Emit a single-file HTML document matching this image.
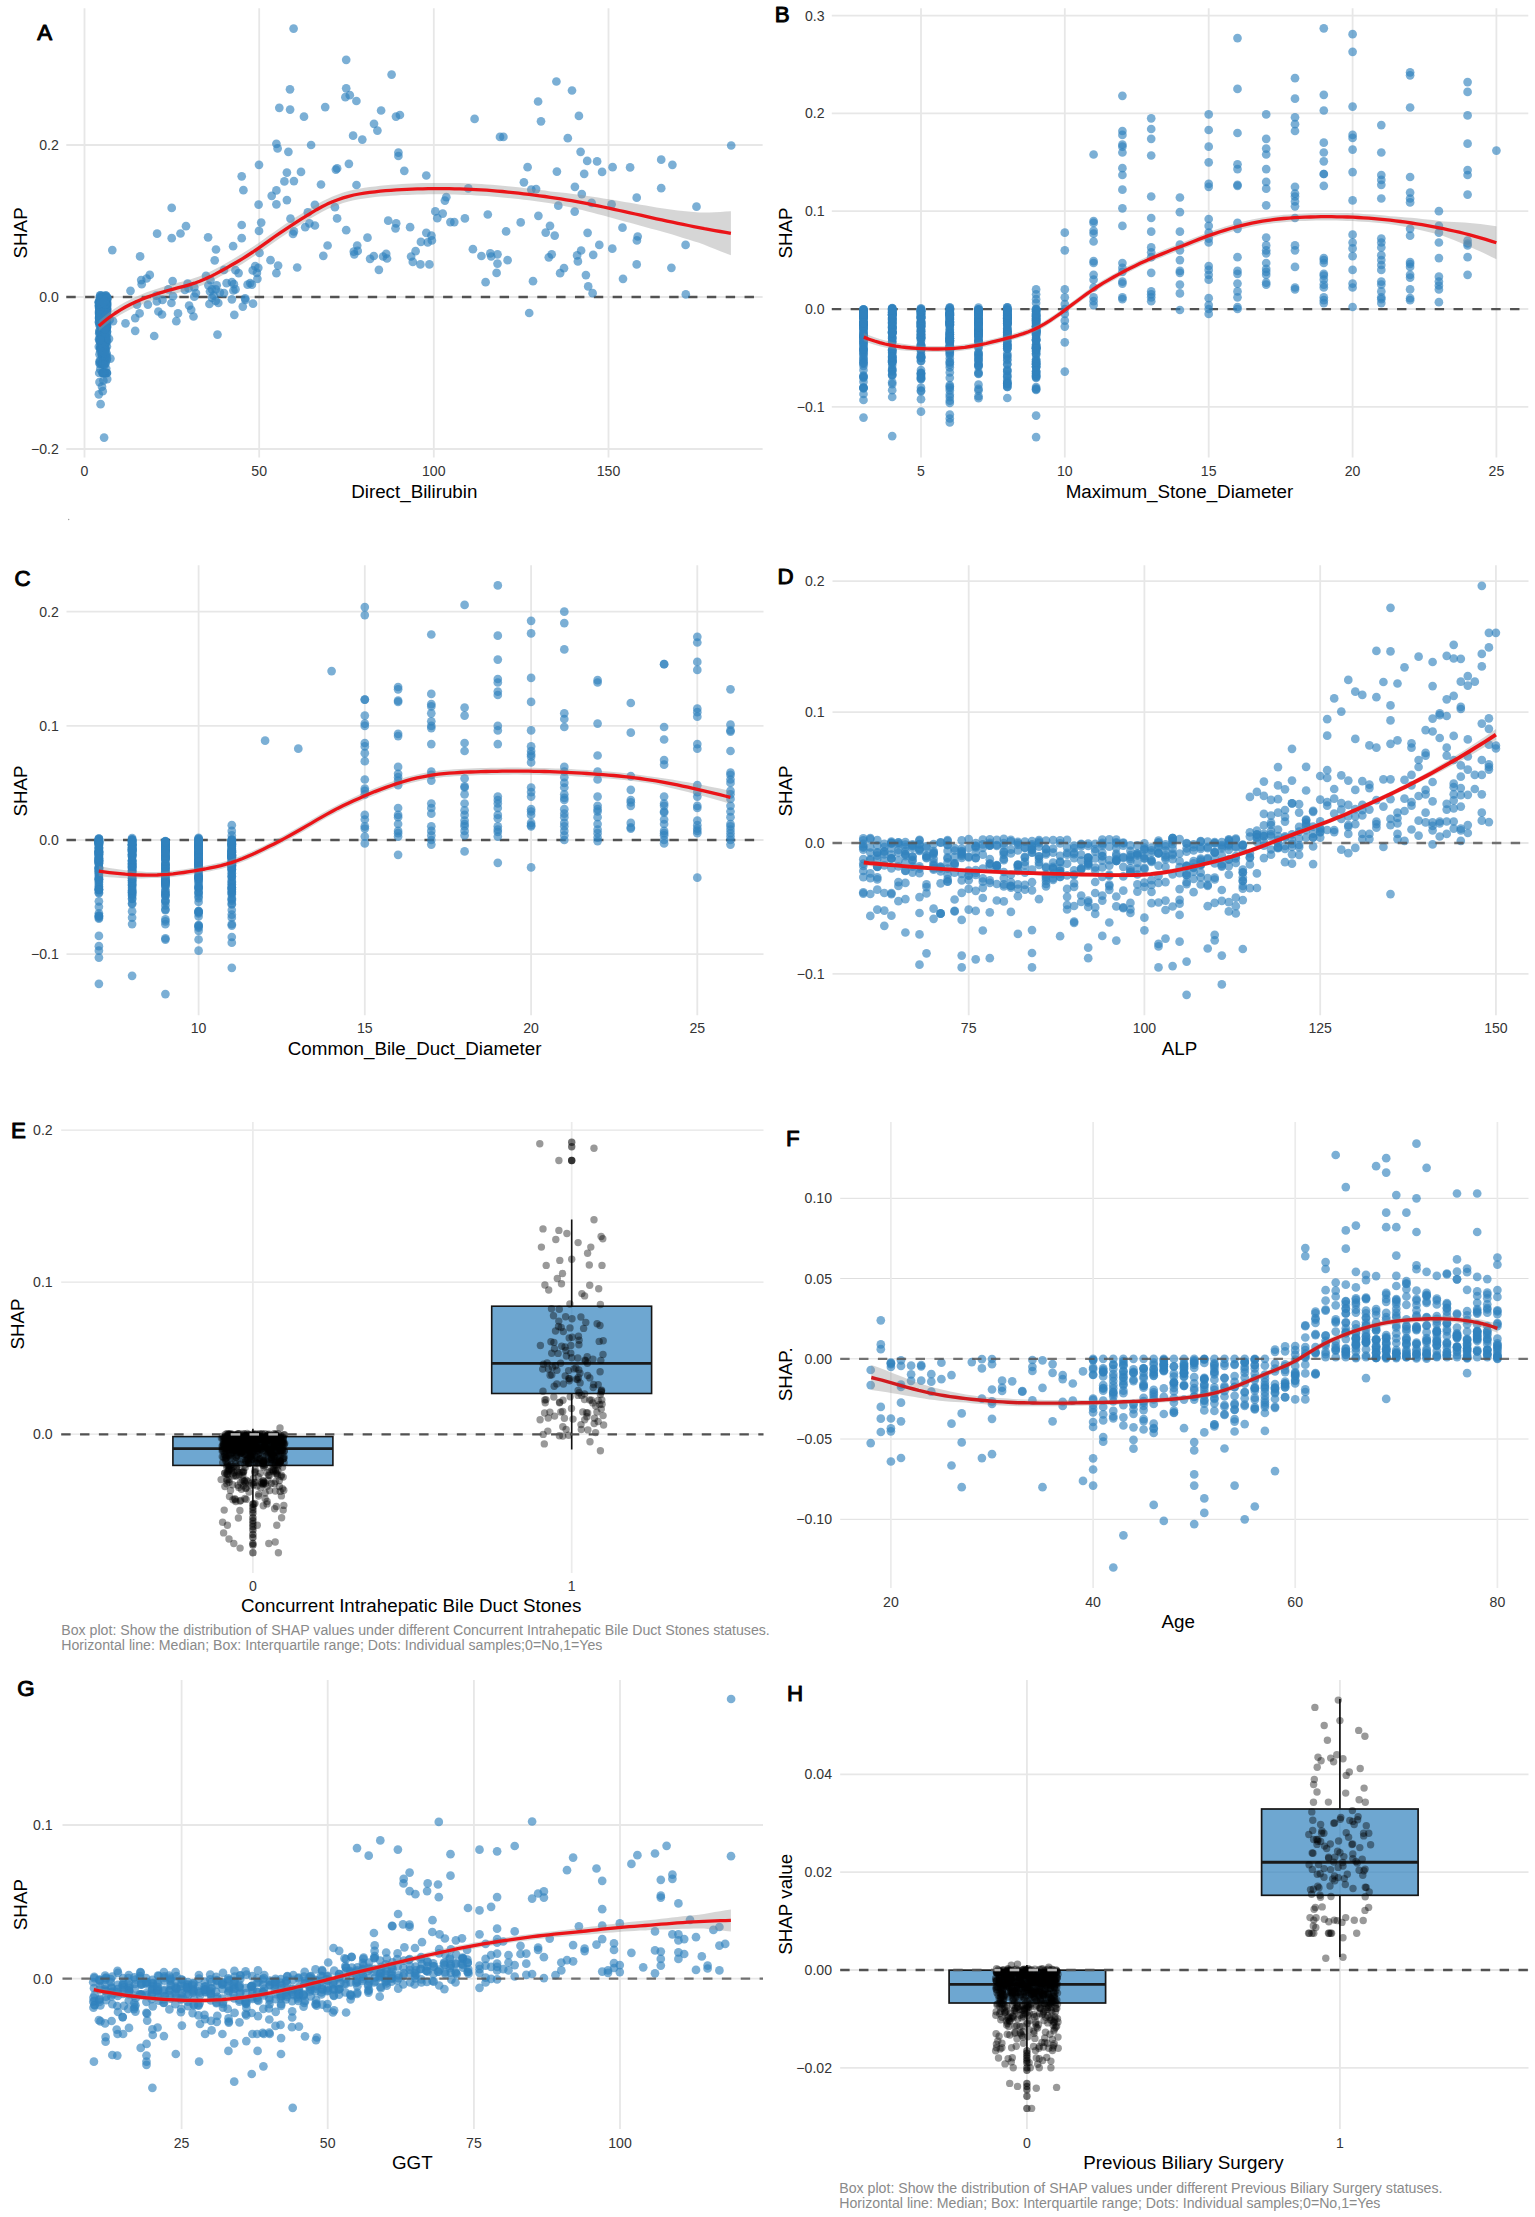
<!DOCTYPE html><html><head><meta charset="utf-8"><title>SHAP dependence plots</title><style>html,body{margin:0;padding:0;background:#fff}svg{display:block}</style></head><body><svg width="1535" height="2217" viewBox="0 0 1535 2217" font-family="Liberation Sans, Arial, sans-serif"><rect width="1535" height="2217" fill="#fff"/><g fill="none"><path stroke="#e7e7e7" stroke-width="1.8" d="M66.3 449H762.6M66.3 297H762.6M66.3 145H762.6"/><path stroke="#e7e7e7" stroke-width="1.8" d="M84.5 8.3V457.5M259.2 8.3V457.5M433.8 8.3V457.5M608.5 8.3V457.5"/></g>
<path d="M66.3 297H762.6" stroke="#525252" stroke-opacity="1" stroke-width="2.3" stroke-dasharray="9.42 9.42" fill="none"/>
<g fill="#3182bd" fill-opacity="0.64"><circle cx="105.8" cy="299.7" r="4.35"/><circle cx="103.8" cy="306.3" r="4.35"/><circle cx="101.2" cy="325.4" r="4.35"/><circle cx="99.2" cy="373" r="4.35"/><circle cx="107" cy="318.5" r="4.35"/><circle cx="103.8" cy="306.1" r="4.35"/><circle cx="105.4" cy="328.6" r="4.35"/><circle cx="106.5" cy="329.5" r="4.35"/><circle cx="104.6" cy="312.8" r="4.35"/><circle cx="100.4" cy="342.7" r="4.35"/><circle cx="107.1" cy="299.1" r="4.35"/><circle cx="101.2" cy="327.8" r="4.35"/><circle cx="104.1" cy="303.2" r="4.35"/><circle cx="103.7" cy="332" r="4.35"/><circle cx="103.9" cy="351" r="4.35"/><circle cx="103.3" cy="352.3" r="4.35"/><circle cx="107.2" cy="309.5" r="4.35"/><circle cx="103" cy="328.1" r="4.35"/><circle cx="105.3" cy="311.3" r="4.35"/><circle cx="103" cy="373" r="4.35"/><circle cx="107.2" cy="311.6" r="4.35"/><circle cx="107" cy="341.6" r="4.35"/><circle cx="102.1" cy="353.9" r="4.35"/><circle cx="101.5" cy="329.6" r="4.35"/><circle cx="106.1" cy="301.3" r="4.35"/><circle cx="105.5" cy="305.2" r="4.35"/><circle cx="104.6" cy="306.3" r="4.35"/><circle cx="102.2" cy="326.6" r="4.35"/><circle cx="102.1" cy="334.3" r="4.35"/><circle cx="99.9" cy="317.4" r="4.35"/><circle cx="104.1" cy="306.5" r="4.35"/><circle cx="99.5" cy="354.3" r="4.35"/><circle cx="101.1" cy="312.4" r="4.35"/><circle cx="104.3" cy="352" r="4.35"/><circle cx="98.9" cy="302.5" r="4.35"/><circle cx="105.8" cy="317.7" r="4.35"/><circle cx="99.4" cy="312.8" r="4.35"/><circle cx="103.2" cy="302.2" r="4.35"/><circle cx="103.4" cy="359.3" r="4.35"/><circle cx="100.7" cy="337" r="4.35"/><circle cx="106.8" cy="299.2" r="4.35"/><circle cx="101.7" cy="299.9" r="4.35"/><circle cx="103.1" cy="373" r="4.35"/><circle cx="106.1" cy="316.4" r="4.35"/><circle cx="104.3" cy="306.3" r="4.35"/><circle cx="102" cy="329.4" r="4.35"/><circle cx="99.6" cy="338.4" r="4.35"/><circle cx="106.8" cy="314.2" r="4.35"/><circle cx="103.8" cy="351.2" r="4.35"/><circle cx="103.7" cy="304.7" r="4.35"/><circle cx="103.8" cy="322.4" r="4.35"/><circle cx="100.1" cy="298.9" r="4.35"/><circle cx="103.5" cy="300.4" r="4.35"/><circle cx="103.5" cy="310.3" r="4.35"/><circle cx="103.7" cy="340" r="4.35"/><circle cx="100.4" cy="309.8" r="4.35"/><circle cx="104.8" cy="315.1" r="4.35"/><circle cx="99.4" cy="331.1" r="4.35"/><circle cx="101.5" cy="304.1" r="4.35"/><circle cx="99.7" cy="313.2" r="4.35"/><circle cx="105.1" cy="373" r="4.35"/><circle cx="103" cy="306.1" r="4.35"/><circle cx="102.7" cy="310.6" r="4.35"/><circle cx="99.4" cy="324.9" r="4.35"/><circle cx="102.5" cy="347" r="4.35"/><circle cx="100.7" cy="339.3" r="4.35"/><circle cx="101.4" cy="298.3" r="4.35"/><circle cx="102.1" cy="308.6" r="4.35"/><circle cx="104.7" cy="317" r="4.35"/><circle cx="105.4" cy="302.2" r="4.35"/><circle cx="101.8" cy="329.6" r="4.35"/><circle cx="104.4" cy="307.2" r="4.35"/><circle cx="103.1" cy="316.2" r="4.35"/><circle cx="104.4" cy="321.8" r="4.35"/><circle cx="101.6" cy="303.7" r="4.35"/><circle cx="106.4" cy="353.5" r="4.35"/><circle cx="104.4" cy="312.2" r="4.35"/><circle cx="100.4" cy="332.7" r="4.35"/><circle cx="103.6" cy="311.6" r="4.35"/><circle cx="105.1" cy="323.1" r="4.35"/><circle cx="105.4" cy="309.2" r="4.35"/><circle cx="102.5" cy="314.4" r="4.35"/><circle cx="101.2" cy="320.4" r="4.35"/><circle cx="104" cy="319.6" r="4.35"/><circle cx="104.9" cy="323.9" r="4.35"/><circle cx="103.1" cy="319.4" r="4.35"/><circle cx="100.4" cy="347.7" r="4.35"/><circle cx="104" cy="298.2" r="4.35"/><circle cx="105.2" cy="325.8" r="4.35"/><circle cx="106.5" cy="321.6" r="4.35"/><circle cx="107.2" cy="297.7" r="4.35"/><circle cx="101.9" cy="323.2" r="4.35"/><circle cx="105.6" cy="336" r="4.35"/><circle cx="104.6" cy="346.9" r="4.35"/><circle cx="107" cy="325.6" r="4.35"/><circle cx="103.1" cy="315.5" r="4.35"/><circle cx="106" cy="308.8" r="4.35"/><circle cx="103" cy="314.3" r="4.35"/><circle cx="101.2" cy="301.4" r="4.35"/><circle cx="106.9" cy="334.2" r="4.35"/><circle cx="101.2" cy="348.4" r="4.35"/><circle cx="101.4" cy="309.4" r="4.35"/><circle cx="99.3" cy="302.6" r="4.35"/><circle cx="98.8" cy="346.8" r="4.35"/><circle cx="101.7" cy="318.7" r="4.35"/><circle cx="101.1" cy="316.1" r="4.35"/><circle cx="104.9" cy="305.3" r="4.35"/><circle cx="98.9" cy="302.3" r="4.35"/><circle cx="106.3" cy="308.7" r="4.35"/><circle cx="105.7" cy="307.5" r="4.35"/><circle cx="106.4" cy="310.4" r="4.35"/><circle cx="105.3" cy="329" r="4.35"/><circle cx="104.3" cy="314.7" r="4.35"/><circle cx="105.2" cy="323.3" r="4.35"/><circle cx="106.2" cy="316.3" r="4.35"/><circle cx="106" cy="321.8" r="4.35"/><circle cx="101.1" cy="333.2" r="4.35"/><circle cx="106.8" cy="308.1" r="4.35"/><circle cx="107.1" cy="301.9" r="4.35"/><circle cx="104.6" cy="373" r="4.35"/><circle cx="104" cy="333.7" r="4.35"/><circle cx="104" cy="322.5" r="4.35"/><circle cx="104.6" cy="317.3" r="4.35"/><circle cx="106.4" cy="312.5" r="4.35"/><circle cx="101.4" cy="307.2" r="4.35"/><circle cx="102.2" cy="350.4" r="4.35"/><circle cx="101.5" cy="363.6" r="4.35"/><circle cx="104.9" cy="301.2" r="4.35"/><circle cx="99.1" cy="311.1" r="4.35"/><circle cx="102.2" cy="334.2" r="4.35"/><circle cx="102.2" cy="313.4" r="4.35"/><circle cx="102.1" cy="301" r="4.35"/><circle cx="103.6" cy="316.6" r="4.35"/><circle cx="100.9" cy="302.8" r="4.35"/><circle cx="106.3" cy="305.5" r="4.35"/><circle cx="102" cy="314.6" r="4.35"/><circle cx="106.9" cy="346.6" r="4.35"/><circle cx="106.6" cy="325.1" r="4.35"/><circle cx="101.7" cy="303.9" r="4.35"/><circle cx="101.9" cy="339.3" r="4.35"/><circle cx="104" cy="340.8" r="4.35"/><circle cx="102.2" cy="326.5" r="4.35"/><circle cx="99.7" cy="302.2" r="4.35"/><circle cx="101.2" cy="313.4" r="4.35"/><circle cx="100.4" cy="349.3" r="4.35"/><circle cx="102.4" cy="328.1" r="4.35"/><circle cx="106.3" cy="337.4" r="4.35"/><circle cx="102.7" cy="372.5" r="4.35"/><circle cx="99.2" cy="317.1" r="4.35"/><circle cx="105.3" cy="362.7" r="4.35"/><circle cx="106" cy="323.2" r="4.35"/><circle cx="106.2" cy="336.1" r="4.35"/><circle cx="102.3" cy="302.6" r="4.35"/><circle cx="101.3" cy="332.7" r="4.35"/><circle cx="107" cy="304.5" r="4.35"/><circle cx="102" cy="300.7" r="4.35"/><circle cx="103.5" cy="309.4" r="4.35"/><circle cx="107" cy="322.7" r="4.35"/><circle cx="106" cy="304.8" r="4.35"/><circle cx="106.3" cy="307.9" r="4.35"/><circle cx="106.5" cy="310.4" r="4.35"/><circle cx="104.8" cy="348.3" r="4.35"/><circle cx="101.6" cy="364.1" r="4.35"/><circle cx="100.4" cy="341.4" r="4.35"/><circle cx="105.1" cy="321.2" r="4.35"/><circle cx="103.6" cy="313.8" r="4.35"/><circle cx="99.5" cy="318.7" r="4.35"/><circle cx="106.1" cy="340.9" r="4.35"/><circle cx="99.6" cy="361.2" r="4.35"/><circle cx="105.9" cy="355.9" r="4.35"/><circle cx="105.5" cy="307" r="4.35"/><circle cx="107" cy="358.4" r="4.35"/><circle cx="101.1" cy="304.3" r="4.35"/><circle cx="99" cy="318.1" r="4.35"/><circle cx="103.2" cy="300" r="4.35"/><circle cx="106.6" cy="316.9" r="4.35"/><circle cx="106.8" cy="373" r="4.35"/><circle cx="101.8" cy="327.8" r="4.35"/><circle cx="102.1" cy="295.9" r="4.35"/><circle cx="106.9" cy="327.6" r="4.35"/><circle cx="105.7" cy="322.9" r="4.35"/><circle cx="106.7" cy="359.8" r="4.35"/><circle cx="105.6" cy="307.5" r="4.35"/><circle cx="103.1" cy="308.5" r="4.35"/><circle cx="100" cy="322.8" r="4.35"/><circle cx="103.2" cy="312.6" r="4.35"/><circle cx="99.6" cy="323" r="4.35"/><circle cx="105.4" cy="314.1" r="4.35"/><circle cx="104.8" cy="359.7" r="4.35"/><circle cx="103.7" cy="304.7" r="4.35"/><circle cx="101.8" cy="318.7" r="4.35"/><circle cx="104.9" cy="310.3" r="4.35"/><circle cx="102.5" cy="309.8" r="4.35"/><circle cx="102.6" cy="356.2" r="4.35"/><circle cx="104" cy="311.6" r="4.35"/><circle cx="103.9" cy="313.9" r="4.35"/><circle cx="100.6" cy="302.4" r="4.35"/><circle cx="105" cy="345.1" r="4.35"/><circle cx="100.4" cy="324.8" r="4.35"/><circle cx="105.5" cy="327.9" r="4.35"/><circle cx="101.2" cy="328.5" r="4.35"/><circle cx="103" cy="302" r="4.35"/><circle cx="104.6" cy="329.8" r="4.35"/><circle cx="102.6" cy="315.8" r="4.35"/><circle cx="102.9" cy="308.1" r="4.35"/><circle cx="99.6" cy="341" r="4.35"/><circle cx="105.3" cy="338.7" r="4.35"/><circle cx="102.6" cy="321.9" r="4.35"/><circle cx="103.5" cy="329.9" r="4.35"/><circle cx="100.5" cy="347.8" r="4.35"/><circle cx="104.4" cy="305.2" r="4.35"/><circle cx="99.3" cy="333.3" r="4.35"/><circle cx="100.3" cy="369.2" r="4.35"/><circle cx="104.6" cy="373" r="4.35"/><circle cx="104.7" cy="337.6" r="4.35"/><circle cx="103.1" cy="338.6" r="4.35"/><circle cx="100.7" cy="299.2" r="4.35"/><circle cx="106.9" cy="331.9" r="4.35"/><circle cx="99.5" cy="311.9" r="4.35"/><circle cx="100.9" cy="319.9" r="4.35"/><circle cx="105.4" cy="310.7" r="4.35"/><circle cx="105.3" cy="349" r="4.35"/><circle cx="103.8" cy="330.5" r="4.35"/><circle cx="103.2" cy="317.8" r="4.35"/><circle cx="101.7" cy="348.2" r="4.35"/><circle cx="100.2" cy="301.1" r="4.35"/><circle cx="104.2" cy="307.9" r="4.35"/><circle cx="102.2" cy="325.5" r="4.35"/><circle cx="105.3" cy="301.4" r="4.35"/><circle cx="100.2" cy="312.5" r="4.35"/><circle cx="102.2" cy="318.4" r="4.35"/><circle cx="104.1" cy="304.6" r="4.35"/><circle cx="102.5" cy="336.8" r="4.35"/><circle cx="99.1" cy="314.1" r="4.35"/><circle cx="103.3" cy="312.1" r="4.35"/><circle cx="99.6" cy="306.8" r="4.35"/><circle cx="99" cy="305.2" r="4.35"/><circle cx="100.7" cy="305.7" r="4.35"/><circle cx="100.4" cy="307.4" r="4.35"/><circle cx="105" cy="315" r="4.35"/><circle cx="104.7" cy="306.4" r="4.35"/><circle cx="105.5" cy="296.6" r="4.35"/><circle cx="105.5" cy="344.1" r="4.35"/><circle cx="106.8" cy="326.2" r="4.35"/><circle cx="102.6" cy="316.2" r="4.35"/><circle cx="106.1" cy="328" r="4.35"/><circle cx="104.2" cy="356.3" r="4.35"/><circle cx="104.2" cy="299.6" r="4.35"/><circle cx="100.2" cy="295.3" r="4.35"/><circle cx="106.2" cy="315.5" r="4.35"/><circle cx="104.9" cy="353.7" r="4.35"/><circle cx="103.9" cy="331.9" r="4.35"/><circle cx="101.2" cy="298.8" r="4.35"/><circle cx="101" cy="320.5" r="4.35"/><circle cx="104.6" cy="365.2" r="4.35"/><circle cx="105.6" cy="348.8" r="4.35"/><circle cx="105.5" cy="318.8" r="4.35"/><circle cx="99" cy="321.8" r="4.35"/><circle cx="106.3" cy="311.5" r="4.35"/><circle cx="103.2" cy="307.8" r="4.35"/><circle cx="100.6" cy="317.1" r="4.35"/><circle cx="104.9" cy="303.4" r="4.35"/><circle cx="105.3" cy="300.9" r="4.35"/><circle cx="106.6" cy="306.7" r="4.35"/><circle cx="102.7" cy="309.2" r="4.35"/><circle cx="104" cy="300" r="4.35"/><circle cx="107" cy="373" r="4.35"/><circle cx="102.4" cy="309.3" r="4.35"/><circle cx="99.9" cy="320.2" r="4.35"/><circle cx="105" cy="309.8" r="4.35"/><circle cx="105.7" cy="308.7" r="4.35"/><circle cx="103.5" cy="310.9" r="4.35"/><circle cx="102.7" cy="327.2" r="4.35"/><circle cx="100.8" cy="344.8" r="4.35"/><circle cx="106.8" cy="297.1" r="4.35"/><circle cx="106.3" cy="339.6" r="4.35"/><circle cx="99.2" cy="306.1" r="4.35"/><circle cx="100" cy="313.1" r="4.35"/><circle cx="102.6" cy="340.4" r="4.35"/><circle cx="103.7" cy="343.2" r="4.35"/><circle cx="104" cy="313.2" r="4.35"/><circle cx="101.5" cy="311.1" r="4.35"/><circle cx="100.3" cy="322.9" r="4.35"/><circle cx="99.4" cy="315.7" r="4.35"/><circle cx="106.1" cy="318.2" r="4.35"/><circle cx="104" cy="312.3" r="4.35"/><circle cx="101.8" cy="336.5" r="4.35"/><circle cx="105.5" cy="341.9" r="4.35"/><circle cx="105.5" cy="299.8" r="4.35"/><circle cx="102.9" cy="302.6" r="4.35"/><circle cx="105.4" cy="304.7" r="4.35"/><circle cx="105.8" cy="306.1" r="4.35"/><circle cx="102.3" cy="314" r="4.35"/><circle cx="99" cy="312.5" r="4.35"/><circle cx="104.8" cy="311.9" r="4.35"/><circle cx="101.1" cy="299.2" r="4.35"/><circle cx="100.6" cy="326.4" r="4.35"/><circle cx="100.5" cy="306.5" r="4.35"/><circle cx="103.7" cy="364.8" r="4.35"/><circle cx="98.9" cy="306.7" r="4.35"/><circle cx="105.5" cy="310.5" r="4.35"/><circle cx="102.5" cy="321.6" r="4.35"/><circle cx="101.4" cy="347.7" r="4.35"/><circle cx="104.9" cy="308.1" r="4.35"/><circle cx="107.1" cy="305.5" r="4.35"/><circle cx="101.8" cy="354.8" r="4.35"/><circle cx="104.2" cy="306.9" r="4.35"/><circle cx="101.5" cy="309.8" r="4.35"/><circle cx="103.1" cy="313.3" r="4.35"/><circle cx="102.6" cy="302.8" r="4.35"/><circle cx="105.2" cy="309.2" r="4.35"/><circle cx="100.9" cy="312.8" r="4.35"/><circle cx="103.3" cy="306.2" r="4.35"/><circle cx="98.9" cy="301.5" r="4.35"/><circle cx="105.6" cy="295.4" r="4.35"/><circle cx="101.8" cy="302.9" r="4.35"/><circle cx="102.5" cy="303.2" r="4.35"/><circle cx="101.1" cy="312" r="4.35"/><circle cx="100.3" cy="347.3" r="4.35"/><circle cx="100.7" cy="318.4" r="4.35"/><circle cx="102.5" cy="303.5" r="4.35"/><circle cx="106.2" cy="368.5" r="4.35"/><circle cx="104.4" cy="332.7" r="4.35"/><circle cx="102" cy="355.7" r="4.35"/><circle cx="100.1" cy="299.8" r="4.35"/><circle cx="104.7" cy="357.6" r="4.35"/><circle cx="105.3" cy="359.5" r="4.35"/><circle cx="105.7" cy="324.2" r="4.35"/><circle cx="99.9" cy="330.2" r="4.35"/><circle cx="99.7" cy="311.2" r="4.35"/><circle cx="103.8" cy="335" r="4.35"/><circle cx="106.2" cy="297" r="4.35"/><circle cx="104.8" cy="329.5" r="4.35"/><circle cx="107" cy="307.9" r="4.35"/><circle cx="106.9" cy="297.9" r="4.35"/><circle cx="105.4" cy="340.9" r="4.35"/><circle cx="99.9" cy="364.1" r="4.35"/><circle cx="102.1" cy="348.2" r="4.35"/><circle cx="104.6" cy="299.1" r="4.35"/><circle cx="105.1" cy="298.7" r="4.35"/><circle cx="104.7" cy="330.1" r="4.35"/><circle cx="106.1" cy="298.9" r="4.35"/><circle cx="106.1" cy="339.4" r="4.35"/><circle cx="105.1" cy="300.1" r="4.35"/><circle cx="102.2" cy="355.6" r="4.35"/><circle cx="100.2" cy="361" r="4.35"/><circle cx="102.4" cy="320.5" r="4.35"/><circle cx="100.5" cy="295.7" r="4.35"/><circle cx="102.9" cy="302" r="4.35"/><circle cx="101" cy="298.8" r="4.35"/><circle cx="100.1" cy="316.7" r="4.35"/><circle cx="106.5" cy="317.2" r="4.35"/><circle cx="103.2" cy="327.2" r="4.35"/><circle cx="105.4" cy="320.2" r="4.35"/><circle cx="105.9" cy="298.1" r="4.35"/><circle cx="103.8" cy="316.7" r="4.35"/><circle cx="103.2" cy="318.5" r="4.35"/><circle cx="105.3" cy="373" r="4.35"/><circle cx="100.1" cy="317.9" r="4.35"/><circle cx="101.7" cy="335.3" r="4.35"/><circle cx="105.9" cy="307.9" r="4.35"/><circle cx="105.6" cy="298.8" r="4.35"/><circle cx="99.5" cy="317.4" r="4.35"/><circle cx="106.5" cy="327.1" r="4.35"/><circle cx="101" cy="313.5" r="4.35"/><circle cx="103.6" cy="313" r="4.35"/><circle cx="100.6" cy="306.1" r="4.35"/><circle cx="99.5" cy="306.9" r="4.35"/><circle cx="106.1" cy="324.5" r="4.35"/><circle cx="104.8" cy="309.4" r="4.35"/><circle cx="99.3" cy="318.4" r="4.35"/><circle cx="105.2" cy="308.4" r="4.35"/><circle cx="104.9" cy="305.7" r="4.35"/><circle cx="106.5" cy="307.2" r="4.35"/><circle cx="106.8" cy="318.5" r="4.35"/><circle cx="106.6" cy="303.1" r="4.35"/><circle cx="101.7" cy="307.2" r="4.35"/><circle cx="103.5" cy="362.6" r="4.35"/><circle cx="106.1" cy="303.9" r="4.35"/><circle cx="101" cy="336.1" r="4.35"/><circle cx="105.3" cy="309.2" r="4.35"/><circle cx="102.8" cy="319.1" r="4.35"/><circle cx="101.4" cy="311.5" r="4.35"/><circle cx="99.2" cy="304.9" r="4.35"/><circle cx="103.7" cy="332.6" r="4.35"/><circle cx="107.1" cy="298" r="4.35"/><circle cx="99.8" cy="321.9" r="4.35"/><circle cx="104.3" cy="323.7" r="4.35"/><circle cx="104.9" cy="322.5" r="4.35"/><circle cx="104.1" cy="307.2" r="4.35"/><circle cx="105.8" cy="320.4" r="4.35"/><circle cx="103.4" cy="316.4" r="4.35"/><circle cx="101.9" cy="328.9" r="4.35"/><circle cx="100.8" cy="323.4" r="4.35"/><circle cx="104.6" cy="316.7" r="4.35"/><circle cx="101.9" cy="333.7" r="4.35"/><circle cx="105.8" cy="310.6" r="4.35"/><circle cx="103.7" cy="373" r="4.35"/><circle cx="100.7" cy="320.3" r="4.35"/><circle cx="103" cy="299.4" r="4.35"/><circle cx="99.3" cy="315.1" r="4.35"/><circle cx="99.5" cy="362.9" r="4.35"/><circle cx="102.8" cy="315" r="4.35"/><circle cx="103.8" cy="319.2" r="4.35"/><circle cx="107" cy="327.1" r="4.35"/><circle cx="99" cy="322.4" r="4.35"/><circle cx="101.5" cy="334.4" r="4.35"/><circle cx="100.8" cy="314.5" r="4.35"/><circle cx="101.9" cy="334.4" r="4.35"/><circle cx="100" cy="307.7" r="4.35"/><circle cx="99.8" cy="318.2" r="4.35"/><circle cx="100.8" cy="309.3" r="4.35"/><circle cx="100.1" cy="308.3" r="4.35"/><circle cx="103.9" cy="324.9" r="4.35"/><circle cx="102.6" cy="349.2" r="4.35"/><circle cx="106.5" cy="302.7" r="4.35"/><circle cx="106.2" cy="327.4" r="4.35"/><circle cx="105.1" cy="323.4" r="4.35"/><circle cx="105.1" cy="347.3" r="4.35"/><circle cx="102.6" cy="305.7" r="4.35"/><circle cx="103.5" cy="363.9" r="4.35"/><circle cx="103.9" cy="310.9" r="4.35"/><circle cx="106.6" cy="373" r="4.35"/><circle cx="101" cy="304.2" r="4.35"/><circle cx="103.8" cy="352.3" r="4.35"/><circle cx="106.9" cy="309.4" r="4.35"/><circle cx="104.5" cy="296.7" r="4.35"/><circle cx="103.9" cy="313.8" r="4.35"/><circle cx="101.2" cy="312.1" r="4.35"/><circle cx="102.4" cy="362.2" r="4.35"/><circle cx="103.1" cy="307" r="4.35"/><circle cx="99.8" cy="297.2" r="4.35"/><circle cx="101.5" cy="315.5" r="4.35"/><circle cx="102.8" cy="336" r="4.35"/><circle cx="104.3" cy="333.9" r="4.35"/><circle cx="106.8" cy="320.9" r="4.35"/><circle cx="99" cy="339.3" r="4.35"/><circle cx="102.6" cy="339.7" r="4.35"/><circle cx="99.4" cy="311.1" r="4.35"/><circle cx="104.3" cy="310.5" r="4.35"/><circle cx="100.2" cy="304.8" r="4.35"/><circle cx="101.3" cy="307.9" r="4.35"/><circle cx="103.4" cy="301.8" r="4.35"/><circle cx="105.3" cy="299.1" r="4.35"/><circle cx="102.2" cy="305.8" r="4.35"/><circle cx="100.8" cy="300" r="4.35"/><circle cx="101.3" cy="297.4" r="4.35"/><circle cx="102.5" cy="373" r="4.35"/><circle cx="104.9" cy="308.6" r="4.35"/><circle cx="106.2" cy="295.8" r="4.35"/><circle cx="107.1" cy="299.4" r="4.35"/><circle cx="106.5" cy="307.4" r="4.35"/><circle cx="106.9" cy="306.4" r="4.35"/><circle cx="102.8" cy="301.7" r="4.35"/><circle cx="102.1" cy="310" r="4.35"/><circle cx="102.8" cy="351.3" r="4.35"/><circle cx="102.1" cy="321.3" r="4.35"/><circle cx="103.5" cy="310.7" r="4.35"/><circle cx="103.8" cy="324.5" r="4.35"/><circle cx="99.5" cy="332.8" r="4.35"/><circle cx="107.2" cy="303.6" r="4.35"/><circle cx="105.1" cy="302" r="4.35"/><circle cx="100.9" cy="332.9" r="4.35"/><circle cx="104.8" cy="304" r="4.35"/><circle cx="107" cy="331.5" r="4.35"/><circle cx="102.8" cy="299.9" r="4.35"/><circle cx="100.5" cy="308.8" r="4.35"/><circle cx="103.5" cy="316.3" r="4.35"/><circle cx="102" cy="326.8" r="4.35"/><circle cx="104.5" cy="302.2" r="4.35"/><circle cx="100" cy="317.2" r="4.35"/><circle cx="105.3" cy="311.8" r="4.35"/><circle cx="100.5" cy="311.2" r="4.35"/><circle cx="104.9" cy="350.2" r="4.35"/><circle cx="99.3" cy="308.6" r="4.35"/><circle cx="105.9" cy="309.6" r="4.35"/><circle cx="99.9" cy="318.5" r="4.35"/><circle cx="104.7" cy="318.9" r="4.35"/><circle cx="102.7" cy="308.3" r="4.35"/><circle cx="101.1" cy="298.6" r="4.35"/><circle cx="103.7" cy="311.6" r="4.35"/><circle cx="106.7" cy="317" r="4.35"/><circle cx="103.1" cy="346.1" r="4.35"/><circle cx="106.4" cy="301.3" r="4.35"/><circle cx="106" cy="303.2" r="4.35"/><circle cx="101.7" cy="298" r="4.35"/><circle cx="105.4" cy="323.8" r="4.35"/><circle cx="105" cy="321.5" r="4.35"/><circle cx="102.8" cy="303.8" r="4.35"/><circle cx="105.5" cy="363.5" r="4.35"/><circle cx="105" cy="301.3" r="4.35"/><circle cx="99.5" cy="310.8" r="4.35"/><circle cx="106" cy="306.4" r="4.35"/><circle cx="102.4" cy="327" r="4.35"/><circle cx="106.3" cy="298.8" r="4.35"/><circle cx="106.3" cy="304.4" r="4.35"/><circle cx="102.3" cy="337" r="4.35"/><circle cx="100.5" cy="351.3" r="4.35"/><circle cx="101" cy="322.6" r="4.35"/><circle cx="105.5" cy="332.4" r="4.35"/><circle cx="101.9" cy="320" r="4.35"/><circle cx="106.2" cy="313" r="4.35"/><circle cx="101.8" cy="302.3" r="4.35"/><circle cx="100.2" cy="309.6" r="4.35"/><circle cx="105.7" cy="304.4" r="4.35"/><circle cx="102.8" cy="318.3" r="4.35"/><circle cx="104.9" cy="328.8" r="4.35"/><circle cx="105.2" cy="304.3" r="4.35"/><circle cx="100" cy="315" r="4.35"/><circle cx="104.9" cy="301.7" r="4.35"/><circle cx="99.2" cy="303.9" r="4.35"/><circle cx="103.9" cy="317.8" r="4.35"/><circle cx="106.4" cy="356.4" r="4.35"/><circle cx="100.6" cy="303.3" r="4.35"/><circle cx="104.3" cy="322" r="4.35"/><circle cx="106.4" cy="353.4" r="4.35"/><circle cx="105.9" cy="315.9" r="4.35"/><circle cx="99.9" cy="340" r="4.35"/><circle cx="103.5" cy="301.7" r="4.35"/><circle cx="99.9" cy="320.3" r="4.35"/><circle cx="99.5" cy="382.1" r="4.35"/><circle cx="102" cy="386.7" r="4.35"/><circle cx="98.8" cy="394.3" r="4.35"/><circle cx="102.7" cy="391.2" r="4.35"/><circle cx="100.6" cy="404.2" r="4.35"/><circle cx="104.1" cy="437.6" r="4.35"/><circle cx="110.4" cy="358.6" r="4.35"/><circle cx="107.2" cy="379.1" r="4.35"/><circle cx="103.4" cy="380.6" r="4.35"/><circle cx="109.7" cy="319.8" r="4.35"/><circle cx="109" cy="338.8" r="4.35"/><circle cx="346.2" cy="59.8" r="4.35"/><circle cx="391.6" cy="74.6" r="4.35"/><circle cx="290" cy="89.3" r="4.35"/><circle cx="346.2" cy="88.3" r="4.35"/><circle cx="349.8" cy="95.2" r="4.35"/><circle cx="345.4" cy="97.2" r="4.35"/><circle cx="356.4" cy="101" r="4.35"/><circle cx="279.3" cy="107.8" r="4.35"/><circle cx="290.1" cy="109.6" r="4.35"/><circle cx="325.2" cy="107.1" r="4.35"/><circle cx="304" cy="116.7" r="4.35"/><circle cx="381.1" cy="110.5" r="4.35"/><circle cx="396" cy="116.6" r="4.35"/><circle cx="399.9" cy="115" r="4.35"/><circle cx="474.6" cy="118.9" r="4.35"/><circle cx="374" cy="123.8" r="4.35"/><circle cx="377.4" cy="130.6" r="4.35"/><circle cx="353.1" cy="135.7" r="4.35"/><circle cx="362.3" cy="139.6" r="4.35"/><circle cx="500" cy="136.9" r="4.35"/><circle cx="276.4" cy="143.8" r="4.35"/><circle cx="277.6" cy="148.4" r="4.35"/><circle cx="311.1" cy="145" r="4.35"/><circle cx="288.4" cy="151.8" r="4.35"/><circle cx="398.4" cy="152.6" r="4.35"/><circle cx="398.4" cy="156" r="4.35"/><circle cx="259" cy="164.8" r="4.35"/><circle cx="348.9" cy="163.8" r="4.35"/><circle cx="335.9" cy="169.6" r="4.35"/><circle cx="337.1" cy="168.4" r="4.35"/><circle cx="404.3" cy="170.8" r="4.35"/><circle cx="426.3" cy="175.5" r="4.35"/><circle cx="286.9" cy="172.6" r="4.35"/><circle cx="301" cy="171.9" r="4.35"/><circle cx="241.7" cy="176.3" r="4.35"/><circle cx="284.4" cy="181.4" r="4.35"/><circle cx="293.9" cy="181.1" r="4.35"/><circle cx="321" cy="184.5" r="4.35"/><circle cx="356.5" cy="185" r="4.35"/><circle cx="468.3" cy="188.4" r="4.35"/><circle cx="243.4" cy="190.2" r="4.35"/><circle cx="276.4" cy="190.4" r="4.35"/><circle cx="271.7" cy="195.8" r="4.35"/><circle cx="286.9" cy="200.1" r="4.35"/><circle cx="258.6" cy="204.6" r="4.35"/><circle cx="276.4" cy="204.3" r="4.35"/><circle cx="314.9" cy="204.8" r="4.35"/><circle cx="446.3" cy="197.2" r="4.35"/><circle cx="444.9" cy="200.6" r="4.35"/><circle cx="334.9" cy="207.2" r="4.35"/><circle cx="307.8" cy="212.4" r="4.35"/><circle cx="435.3" cy="211.4" r="4.35"/><circle cx="442.7" cy="213.6" r="4.35"/><circle cx="437.3" cy="218.2" r="4.35"/><circle cx="464.9" cy="218.4" r="4.35"/><circle cx="487.8" cy="214.5" r="4.35"/><circle cx="290.5" cy="218.7" r="4.35"/><circle cx="337.1" cy="218.4" r="4.35"/><circle cx="388.2" cy="220.7" r="4.35"/><circle cx="396.2" cy="223.3" r="4.35"/><circle cx="450.4" cy="222.1" r="4.35"/><circle cx="454.3" cy="222.1" r="4.35"/><circle cx="261.2" cy="222.6" r="4.35"/><circle cx="241.7" cy="225" r="4.35"/><circle cx="309.4" cy="223.4" r="4.35"/><circle cx="314.9" cy="225.5" r="4.35"/><circle cx="305.2" cy="227.2" r="4.35"/><circle cx="410.1" cy="227.2" r="4.35"/><circle cx="395.5" cy="228.3" r="4.35"/><circle cx="346.2" cy="230.2" r="4.35"/><circle cx="259" cy="230.9" r="4.35"/><circle cx="293.9" cy="231.4" r="4.35"/><circle cx="293" cy="233.9" r="4.35"/><circle cx="426.3" cy="232.8" r="4.35"/><circle cx="431.4" cy="235.6" r="4.35"/><circle cx="241.7" cy="238.2" r="4.35"/><circle cx="367.5" cy="237.7" r="4.35"/><circle cx="420.9" cy="241.9" r="4.35"/><circle cx="427.7" cy="242.4" r="4.35"/><circle cx="431.9" cy="240.4" r="4.35"/><circle cx="327.6" cy="245.5" r="4.35"/><circle cx="357.2" cy="245.5" r="4.35"/><circle cx="472.9" cy="249.2" r="4.35"/><circle cx="415.6" cy="251.2" r="4.35"/><circle cx="259.5" cy="252.9" r="4.35"/><circle cx="353.8" cy="251.7" r="4.35"/><circle cx="357.7" cy="250.9" r="4.35"/><circle cx="354.3" cy="254.3" r="4.35"/><circle cx="323.3" cy="255.8" r="4.35"/><circle cx="373.8" cy="256" r="4.35"/><circle cx="370.1" cy="258.8" r="4.35"/><circle cx="383.1" cy="256.5" r="4.35"/><circle cx="386.2" cy="253.8" r="4.35"/><circle cx="387" cy="258.5" r="4.35"/><circle cx="411.1" cy="256.5" r="4.35"/><circle cx="481.4" cy="256" r="4.35"/><circle cx="490.3" cy="253.4" r="4.35"/><circle cx="491.2" cy="256.5" r="4.35"/><circle cx="497.5" cy="254.3" r="4.35"/><circle cx="270.5" cy="260.2" r="4.35"/><circle cx="412.8" cy="261.9" r="4.35"/><circle cx="420.4" cy="264.4" r="4.35"/><circle cx="429.4" cy="264.4" r="4.35"/><circle cx="497.5" cy="263.6" r="4.35"/><circle cx="278.1" cy="265.6" r="4.35"/><circle cx="297.2" cy="267.5" r="4.35"/><circle cx="255.2" cy="266.1" r="4.35"/><circle cx="258.3" cy="267.8" r="4.35"/><circle cx="252.7" cy="270.4" r="4.35"/><circle cx="378.9" cy="269.8" r="4.35"/><circle cx="276.4" cy="273.2" r="4.35"/><circle cx="256.9" cy="272.9" r="4.35"/><circle cx="496.6" cy="272.9" r="4.35"/><circle cx="257.4" cy="278.8" r="4.35"/><circle cx="485.6" cy="282.2" r="4.35"/><circle cx="250.2" cy="283.1" r="4.35"/><circle cx="247.6" cy="284.7" r="4.35"/><circle cx="251.9" cy="284.7" r="4.35"/><circle cx="245.1" cy="298.3" r="4.35"/><circle cx="556.4" cy="81.5" r="4.35"/><circle cx="572" cy="90.5" r="4.35"/><circle cx="538.1" cy="101.5" r="4.35"/><circle cx="578.9" cy="115.9" r="4.35"/><circle cx="541" cy="121.3" r="4.35"/><circle cx="503.4" cy="136.9" r="4.35"/><circle cx="567.8" cy="138.2" r="4.35"/><circle cx="731.2" cy="145.5" r="4.35"/><circle cx="580.6" cy="151.8" r="4.35"/><circle cx="587.2" cy="160.9" r="4.35"/><circle cx="597.1" cy="161.4" r="4.35"/><circle cx="661.2" cy="159.7" r="4.35"/><circle cx="672.4" cy="164.8" r="4.35"/><circle cx="527.6" cy="167.2" r="4.35"/><circle cx="612.6" cy="167.2" r="4.35"/><circle cx="630.1" cy="167.4" r="4.35"/><circle cx="556.9" cy="171.6" r="4.35"/><circle cx="602.1" cy="171.9" r="4.35"/><circle cx="584.2" cy="173.8" r="4.35"/><circle cx="523.9" cy="182.3" r="4.35"/><circle cx="574.9" cy="186.8" r="4.35"/><circle cx="661.2" cy="188.2" r="4.35"/><circle cx="531.3" cy="189.6" r="4.35"/><circle cx="536.1" cy="189.1" r="4.35"/><circle cx="581.8" cy="194.1" r="4.35"/><circle cx="636.7" cy="197.7" r="4.35"/><circle cx="591.6" cy="202.8" r="4.35"/><circle cx="611.6" cy="204.3" r="4.35"/><circle cx="558.3" cy="205.7" r="4.35"/><circle cx="696.5" cy="206.7" r="4.35"/><circle cx="574.7" cy="211.6" r="4.35"/><circle cx="538.4" cy="215.8" r="4.35"/><circle cx="520.7" cy="222.4" r="4.35"/><circle cx="550" cy="225.8" r="4.35"/><circle cx="622.5" cy="227.7" r="4.35"/><circle cx="506.1" cy="231.4" r="4.35"/><circle cx="545.7" cy="232.6" r="4.35"/><circle cx="587.6" cy="232.8" r="4.35"/><circle cx="554.7" cy="235.6" r="4.35"/><circle cx="637.7" cy="236.5" r="4.35"/><circle cx="636.9" cy="240.4" r="4.35"/><circle cx="599.3" cy="244.9" r="4.35"/><circle cx="685.6" cy="244.9" r="4.35"/><circle cx="612.3" cy="248.7" r="4.35"/><circle cx="581.1" cy="250.5" r="4.35"/><circle cx="593.2" cy="254.8" r="4.35"/><circle cx="551.7" cy="254.3" r="4.35"/><circle cx="548.8" cy="257.3" r="4.35"/><circle cx="577.1" cy="255.4" r="4.35"/><circle cx="577.9" cy="261.4" r="4.35"/><circle cx="507.6" cy="260.2" r="4.35"/><circle cx="636.7" cy="264.4" r="4.35"/><circle cx="671.4" cy="267.8" r="4.35"/><circle cx="564" cy="268.2" r="4.35"/><circle cx="560.1" cy="273.2" r="4.35"/><circle cx="585.9" cy="275.1" r="4.35"/><circle cx="623" cy="278.8" r="4.35"/><circle cx="533" cy="281.2" r="4.35"/><circle cx="588.2" cy="286.4" r="4.35"/><circle cx="592.6" cy="293.2" r="4.35"/><circle cx="685.8" cy="294.4" r="4.35"/><circle cx="112.3" cy="250.1" r="4.35"/><circle cx="171.7" cy="207.9" r="4.35"/><circle cx="157.1" cy="233.7" r="4.35"/><circle cx="171.7" cy="238.2" r="4.35"/><circle cx="180.5" cy="233.5" r="4.35"/><circle cx="186" cy="226.2" r="4.35"/><circle cx="208.1" cy="237.3" r="4.35"/><circle cx="140.1" cy="256.4" r="4.35"/><circle cx="216" cy="249.5" r="4.35"/><circle cx="233.1" cy="246.2" r="4.35"/><circle cx="214.7" cy="260.3" r="4.35"/><circle cx="149.8" cy="274.9" r="4.35"/><circle cx="146.6" cy="278.5" r="4.35"/><circle cx="141.2" cy="280.1" r="4.35"/><circle cx="141.7" cy="284.2" r="4.35"/><circle cx="130.5" cy="290.8" r="4.35"/><circle cx="172.6" cy="281.1" r="4.35"/><circle cx="187.6" cy="283.7" r="4.35"/><circle cx="206" cy="275.9" r="4.35"/><circle cx="224" cy="269.8" r="4.35"/><circle cx="235.5" cy="270.2" r="4.35"/><circle cx="238.6" cy="273.1" r="4.35"/><circle cx="210.5" cy="280.1" r="4.35"/><circle cx="208.4" cy="285.3" r="4.35"/><circle cx="212" cy="289.4" r="4.35"/><circle cx="216.7" cy="285.3" r="4.35"/><circle cx="215.7" cy="289.4" r="4.35"/><circle cx="210" cy="291.5" r="4.35"/><circle cx="219.9" cy="292.6" r="4.35"/><circle cx="224" cy="293.1" r="4.35"/><circle cx="226.6" cy="283.2" r="4.35"/><circle cx="231.9" cy="282.1" r="4.35"/><circle cx="233.9" cy="284.2" r="4.35"/><circle cx="235.5" cy="289.4" r="4.35"/><circle cx="233.4" cy="290.5" r="4.35"/><circle cx="213.6" cy="295.7" r="4.35"/><circle cx="212" cy="297.8" r="4.35"/><circle cx="215.7" cy="300.9" r="4.35"/><circle cx="184.9" cy="290" r="4.35"/><circle cx="188.6" cy="288.4" r="4.35"/><circle cx="194.3" cy="287.4" r="4.35"/><circle cx="195.9" cy="293.1" r="4.35"/><circle cx="194.3" cy="296.7" r="4.35"/><circle cx="173" cy="296.2" r="4.35"/><circle cx="168.3" cy="289.4" r="4.35"/><circle cx="156.3" cy="295.7" r="4.35"/><circle cx="162.5" cy="299.9" r="4.35"/><circle cx="156.8" cy="301.4" r="4.35"/><circle cx="171.4" cy="303" r="4.35"/><circle cx="147.9" cy="304.6" r="4.35"/><circle cx="137" cy="304.6" r="4.35"/><circle cx="231.9" cy="299.3" r="4.35"/><circle cx="209.4" cy="304" r="4.35"/><circle cx="218.3" cy="303" r="4.35"/><circle cx="189.1" cy="305.6" r="4.35"/><circle cx="191.2" cy="309.8" r="4.35"/><circle cx="193.5" cy="316.5" r="4.35"/><circle cx="178" cy="313.4" r="4.35"/><circle cx="176.3" cy="321.2" r="4.35"/><circle cx="158.4" cy="311.5" r="4.35"/><circle cx="162" cy="314.5" r="4.35"/><circle cx="139.6" cy="313.4" r="4.35"/><circle cx="135.2" cy="318.1" r="4.35"/><circle cx="125.5" cy="323.3" r="4.35"/><circle cx="113" cy="321.2" r="4.35"/><circle cx="135.2" cy="330.8" r="4.35"/><circle cx="154.2" cy="336" r="4.35"/><circle cx="217.5" cy="334.6" r="4.35"/><circle cx="234.3" cy="314.8" r="4.35"/><circle cx="242.8" cy="306.6" r="4.35"/><circle cx="253" cy="303.7" r="4.35"/><circle cx="245.4" cy="299.9" r="4.35"/><circle cx="529.2" cy="313" r="4.35"/><circle cx="293.6" cy="28.6" r="4.35"/></g>
<polygon points="98.8,321 104.1,316.4 109.4,312.3 114.8,308.5 120.1,305.1 125.4,302 130.7,299.2 136,296.7 141.3,294.4 146.6,292.3 151.9,290.4 157.2,288.7 162.6,287 167.9,285.5 173.2,284 178.5,282.6 183.8,281.2 189.1,279.7 194.4,278.1 199.7,276.2 205,274 210.4,271.5 215.7,268.8 221,265.9 226.3,262.9 231.6,259.9 236.9,256.8 242.2,253.6 247.5,250.3 252.9,246.8 258.2,243.2 263.5,239.4 268.8,235.6 274.1,231.9 279.4,228.2 284.7,224.6 290,221.1 295.3,217.6 300.7,214.2 306,210.9 311.3,207.6 316.6,204.5 321.9,201.5 327.2,198.9 332.5,196.5 337.8,194.4 343.1,192.6 348.5,191.1 353.8,189.7 359.1,188.7 364.4,187.8 369.7,187 375,186.4 380.3,185.8 385.6,185.3 390.9,184.8 396.3,184.4 401.6,184.1 406.9,183.8 412.2,183.5 417.5,183.3 422.8,183.1 428.1,183 433.4,182.9 438.7,182.9 444.1,182.9 449.4,182.9 454.7,183 460,183.1 465.3,183.3 470.6,183.5 475.9,183.8 481.2,184.1 486.6,184.4 491.9,184.8 497.2,185.2 502.5,185.7 507.8,186.2 513.1,186.7 518.4,187.3 523.7,187.9 529,188.5 534.4,189.2 539.7,189.9 545,190.6 550.3,191.4 555.6,192 560.9,192.5 566.2,193.1 571.5,193.7 576.8,194.4 582.2,195.1 587.5,195.9 592.8,196.7 598.1,197.5 603.4,198.4 608.7,199.2 614,200.1 619.3,201 624.6,201.9 630,202.8 635.3,203.8 640.6,204.7 645.9,205.6 651.2,206.5 656.5,207.4 661.8,208.3 667.1,209.1 672.4,209.8 677.8,210.4 683.1,210.9 688.4,211.5 693.7,212 699,212.4 704.3,212.6 709.6,212.4 714.9,212.2 720.3,211.9 725.6,211.5 730.9,211.2 730.9,255.3 725.6,253.3 720.3,251.2 714.9,249 709.6,246.9 704.3,244.7 699,242.8 693.7,241.2 688.4,239.6 683.1,238 677.8,236.3 672.4,234.6 667.1,233 661.8,231.6 656.5,230.1 651.2,228.7 645.9,227.2 640.6,225.8 635.3,224.3 630,222.8 624.6,221.4 619.3,219.9 614,218.5 608.7,217 603.4,215.6 598.1,214.2 592.8,212.8 587.5,211.5 582.2,210.1 576.8,208.9 571.5,207.6 566.2,206.5 560.9,205.3 555.6,204.2 550.3,203.2 545,202.4 539.7,201.7 534.4,201 529,200.3 523.7,199.7 518.4,199 513.1,198.5 507.8,197.9 502.5,197.4 497.2,196.9 491.9,196.5 486.6,196.1 481.2,195.7 475.9,195.4 470.6,195.1 465.3,194.9 460,194.7 454.7,194.5 449.4,194.4 444.1,194.3 438.7,194.3 433.4,194.3 428.1,194.3 422.8,194.4 417.5,194.5 412.2,194.7 406.9,194.9 401.6,195.1 396.3,195.4 390.9,195.8 385.6,196.2 380.3,196.6 375,197.1 369.7,197.7 364.4,198.4 359.1,199.3 353.8,200.3 348.5,201.6 343.1,203.1 337.8,204.9 332.5,207 327.2,209.3 321.9,212 316.6,214.9 311.3,218 306,221.3 300.7,224.6 295.3,228 290,231.4 284.7,234.9 279.4,238.5 274.1,242.2 268.8,246 263.5,249.7 258.2,253.5 252.9,257.1 247.5,260.6 242.2,263.9 236.9,267.1 231.6,270.2 226.3,273.2 221,276.1 215.7,279 210.4,281.7 205,284.2 199.7,286.3 194.4,288.2 189.1,289.9 183.8,291.3 178.5,292.7 173.2,294.1 167.9,295.6 162.6,297.1 157.2,298.7 151.9,300.5 146.6,302.4 141.3,304.5 136,306.7 130.7,309.2 125.4,312 120.1,315.1 114.8,318.5 109.4,322.3 104.1,326.5 98.8,331.1" fill="#949494" fill-opacity="0.38"/>
<polyline points="98.8,326.1 104.1,321.5 109.4,317.3 114.8,313.5 120.1,310.1 125.4,307 130.7,304.2 136,301.7 141.3,299.4 146.6,297.4 151.9,295.5 157.2,293.7 162.6,292.1 167.9,290.5 173.2,289.1 178.5,287.7 183.8,286.3 189.1,284.8 194.4,283.2 199.7,281.3 205,279.1 210.4,276.6 215.7,273.9 221,271 226.3,268.1 231.6,265 236.9,262 242.2,258.8 247.5,255.5 252.9,252 258.2,248.3 263.5,244.6 268.8,240.8 274.1,237 279.4,233.3 284.7,229.8 290,226.3 295.3,222.8 300.7,219.4 306,216.1 311.3,212.8 316.6,209.7 321.9,206.8 327.2,204.1 332.5,201.7 337.8,199.7 343.1,197.9 348.5,196.3 353.8,195 359.1,194 364.4,193.1 369.7,192.4 375,191.8 380.3,191.2 385.6,190.7 390.9,190.3 396.3,189.9 401.6,189.6 406.9,189.3 412.2,189.1 417.5,188.9 422.8,188.8 428.1,188.7 433.4,188.6 438.7,188.6 444.1,188.6 449.4,188.7 454.7,188.8 460,188.9 465.3,189.1 470.6,189.3 475.9,189.6 481.2,189.9 486.6,190.2 491.9,190.6 497.2,191.1 502.5,191.5 507.8,192.1 513.1,192.6 518.4,193.2 523.7,193.8 529,194.4 534.4,195.1 539.7,195.8 545,196.5 550.3,197.3 555.6,198.1 560.9,198.9 566.2,199.8 571.5,200.7 576.8,201.6 582.2,202.6 587.5,203.7 592.8,204.8 598.1,205.9 603.4,207 608.7,208.1 614,209.3 619.3,210.5 624.6,211.7 630,212.8 635.3,214 640.6,215.2 645.9,216.4 651.2,217.6 656.5,218.8 661.8,219.9 667.1,221.1 672.4,222.2 677.8,223.3 683.1,224.4 688.4,225.5 693.7,226.6 699,227.6 704.3,228.7 709.6,229.6 714.9,230.6 720.3,231.5 725.6,232.4 730.9,233.3" fill="none" stroke="#ea1418" stroke-width="3.3" stroke-linejoin="round" stroke-linecap="butt"/>
<g font-size="14.1" fill="#343434"><g text-anchor="end"><text x="58.8" y="454">−0.2</text><text x="58.8" y="302">0.0</text><text x="58.8" y="150">0.2</text></g><g text-anchor="middle"><text x="84.5" y="476.3">0</text><text x="259.2" y="476.3">50</text><text x="433.8" y="476.3">100</text><text x="608.5" y="476.3">150</text></g></g>
<g font-size="18.8" fill="#000" text-anchor="middle"><text x="414.3" y="497.7">Direct_Bilirubin</text><text transform="translate(20.6 232.9) rotate(-90)" y="6.7">SHAP</text></g>
<text x="37.3" y="39.5" font-size="22.3" font-weight="normal" fill="#000" stroke="#000" stroke-width="1.0" stroke-linejoin="round">A</text>
<circle cx="68.7" cy="519.5" r="0.7" fill="#999"/>
<g fill="none"><path stroke="#e7e7e7" stroke-width="1.8" d="M831.8 406.8H1528.3M831.8 309H1528.3M831.8 211.2H1528.3M831.8 113.4H1528.3M831.8 15.6H1528.3"/><path stroke="#e7e7e7" stroke-width="1.8" d="M921 8.3V457.5M1064.8 8.3V457.5M1208.7 8.3V457.5M1352.6 8.3V457.5M1496.4 8.3V457.5"/></g>
<path d="M831.8 309.1H1528.3" stroke="#525252" stroke-opacity="1" stroke-width="2.3" stroke-dasharray="9.42 9.42" fill="none"/>
<g fill="#3182bd" fill-opacity="0.64"><circle cx="863.5" cy="316.9" r="4.35"/><circle cx="863.5" cy="345.1" r="4.35"/><circle cx="863.5" cy="323.9" r="4.35"/><circle cx="863.5" cy="388.4" r="4.35"/><circle cx="863.5" cy="348.3" r="4.35"/><circle cx="863.5" cy="316" r="4.35"/><circle cx="863.5" cy="309.7" r="4.35"/><circle cx="863.5" cy="321.8" r="4.35"/><circle cx="863.5" cy="327.6" r="4.35"/><circle cx="863.5" cy="323.4" r="4.35"/><circle cx="863.5" cy="328" r="4.35"/><circle cx="863.5" cy="334.2" r="4.35"/><circle cx="863.5" cy="311.2" r="4.35"/><circle cx="863.5" cy="341.7" r="4.35"/><circle cx="863.5" cy="378" r="4.35"/><circle cx="863.5" cy="309.8" r="4.35"/><circle cx="863.5" cy="313.6" r="4.35"/><circle cx="863.5" cy="316.9" r="4.35"/><circle cx="863.5" cy="335.4" r="4.35"/><circle cx="863.5" cy="349.7" r="4.35"/><circle cx="863.5" cy="311.2" r="4.35"/><circle cx="863.5" cy="376.8" r="4.35"/><circle cx="863.5" cy="317.4" r="4.35"/><circle cx="863.5" cy="310.5" r="4.35"/><circle cx="863.5" cy="354" r="4.35"/><circle cx="863.5" cy="376.6" r="4.35"/><circle cx="863.5" cy="342.7" r="4.35"/><circle cx="863.5" cy="323" r="4.35"/><circle cx="863.5" cy="313.1" r="4.35"/><circle cx="863.5" cy="337.3" r="4.35"/><circle cx="863.5" cy="316.7" r="4.35"/><circle cx="863.5" cy="370.1" r="4.35"/><circle cx="863.5" cy="336.4" r="4.35"/><circle cx="863.5" cy="325" r="4.35"/><circle cx="863.5" cy="324.4" r="4.35"/><circle cx="863.5" cy="339.3" r="4.35"/><circle cx="863.5" cy="315.1" r="4.35"/><circle cx="863.5" cy="322.4" r="4.35"/><circle cx="863.5" cy="349.2" r="4.35"/><circle cx="863.5" cy="351.5" r="4.35"/><circle cx="863.5" cy="335.6" r="4.35"/><circle cx="863.5" cy="328.4" r="4.35"/><circle cx="863.5" cy="309.3" r="4.35"/><circle cx="863.5" cy="318" r="4.35"/><circle cx="863.5" cy="343.5" r="4.35"/><circle cx="863.5" cy="312.4" r="4.35"/><circle cx="863.5" cy="332.1" r="4.35"/><circle cx="863.5" cy="360.5" r="4.35"/><circle cx="863.5" cy="312.8" r="4.35"/><circle cx="863.5" cy="331.3" r="4.35"/><circle cx="863.5" cy="346.1" r="4.35"/><circle cx="863.5" cy="337.3" r="4.35"/><circle cx="863.5" cy="322.5" r="4.35"/><circle cx="863.5" cy="310.4" r="4.35"/><circle cx="863.5" cy="323.5" r="4.35"/><circle cx="863.5" cy="317.5" r="4.35"/><circle cx="863.5" cy="362.2" r="4.35"/><circle cx="863.5" cy="309.6" r="4.35"/><circle cx="863.5" cy="341.5" r="4.35"/><circle cx="863.5" cy="323.6" r="4.35"/><circle cx="863.5" cy="352.4" r="4.35"/><circle cx="863.5" cy="313.2" r="4.35"/><circle cx="863.5" cy="394" r="4.35"/><circle cx="863.5" cy="312.7" r="4.35"/><circle cx="863.5" cy="322.8" r="4.35"/><circle cx="863.5" cy="355.1" r="4.35"/><circle cx="863.5" cy="318.5" r="4.35"/><circle cx="863.5" cy="349.6" r="4.35"/><circle cx="863.5" cy="310.7" r="4.35"/><circle cx="863.5" cy="358.8" r="4.35"/><circle cx="863.5" cy="337.5" r="4.35"/><circle cx="863.5" cy="317.2" r="4.35"/><circle cx="863.5" cy="329.5" r="4.35"/><circle cx="863.5" cy="326.5" r="4.35"/><circle cx="863.5" cy="311.9" r="4.35"/><circle cx="863.5" cy="357.8" r="4.35"/><circle cx="863.5" cy="366" r="4.35"/><circle cx="863.5" cy="339.5" r="4.35"/><circle cx="863.5" cy="319.6" r="4.35"/><circle cx="863.5" cy="313.3" r="4.35"/><circle cx="863.5" cy="316.2" r="4.35"/><circle cx="863.5" cy="314.3" r="4.35"/><circle cx="863.5" cy="313.7" r="4.35"/><circle cx="863.5" cy="325.2" r="4.35"/><circle cx="863.5" cy="363.7" r="4.35"/><circle cx="863.5" cy="387.5" r="4.35"/><circle cx="863.5" cy="381.8" r="4.35"/><circle cx="863.5" cy="363.1" r="4.35"/><circle cx="863.5" cy="323.2" r="4.35"/><circle cx="863.5" cy="375.6" r="4.35"/><circle cx="863.5" cy="327.7" r="4.35"/><circle cx="863.5" cy="388" r="4.35"/><circle cx="863.5" cy="322.8" r="4.35"/><circle cx="863.5" cy="333.5" r="4.35"/><circle cx="863.5" cy="387.5" r="4.35"/><circle cx="863.5" cy="400" r="4.35"/><circle cx="863.5" cy="417.6" r="4.35"/><circle cx="892.2" cy="343.1" r="4.35"/><circle cx="892.2" cy="356.9" r="4.35"/><circle cx="892.2" cy="360.4" r="4.35"/><circle cx="892.2" cy="317.3" r="4.35"/><circle cx="892.2" cy="308" r="4.35"/><circle cx="892.2" cy="322.1" r="4.35"/><circle cx="892.2" cy="318" r="4.35"/><circle cx="892.2" cy="310.4" r="4.35"/><circle cx="892.2" cy="341.5" r="4.35"/><circle cx="892.2" cy="328" r="4.35"/><circle cx="892.2" cy="319.4" r="4.35"/><circle cx="892.2" cy="336.4" r="4.35"/><circle cx="892.2" cy="322.2" r="4.35"/><circle cx="892.2" cy="349.3" r="4.35"/><circle cx="892.2" cy="337.9" r="4.35"/><circle cx="892.2" cy="361.1" r="4.35"/><circle cx="892.2" cy="351.9" r="4.35"/><circle cx="892.2" cy="309.5" r="4.35"/><circle cx="892.2" cy="312.4" r="4.35"/><circle cx="892.2" cy="368.7" r="4.35"/><circle cx="892.2" cy="314.3" r="4.35"/><circle cx="892.2" cy="315" r="4.35"/><circle cx="892.2" cy="312.7" r="4.35"/><circle cx="892.2" cy="311.2" r="4.35"/><circle cx="892.2" cy="318.5" r="4.35"/><circle cx="892.2" cy="311.9" r="4.35"/><circle cx="892.2" cy="319.1" r="4.35"/><circle cx="892.2" cy="358.9" r="4.35"/><circle cx="892.2" cy="332.2" r="4.35"/><circle cx="892.2" cy="341.1" r="4.35"/><circle cx="892.2" cy="361.7" r="4.35"/><circle cx="892.2" cy="308.6" r="4.35"/><circle cx="892.2" cy="327.6" r="4.35"/><circle cx="892.2" cy="359.7" r="4.35"/><circle cx="892.2" cy="332.7" r="4.35"/><circle cx="892.2" cy="332.6" r="4.35"/><circle cx="892.2" cy="312.6" r="4.35"/><circle cx="892.2" cy="328" r="4.35"/><circle cx="892.2" cy="321.8" r="4.35"/><circle cx="892.2" cy="328.1" r="4.35"/><circle cx="892.2" cy="331.2" r="4.35"/><circle cx="892.2" cy="369.7" r="4.35"/><circle cx="892.2" cy="325.1" r="4.35"/><circle cx="892.2" cy="309" r="4.35"/><circle cx="892.2" cy="375.6" r="4.35"/><circle cx="892.2" cy="331.7" r="4.35"/><circle cx="892.2" cy="326.3" r="4.35"/><circle cx="892.2" cy="324" r="4.35"/><circle cx="892.2" cy="356" r="4.35"/><circle cx="892.2" cy="327.9" r="4.35"/><circle cx="892.2" cy="318.9" r="4.35"/><circle cx="892.2" cy="333.2" r="4.35"/><circle cx="892.2" cy="357.8" r="4.35"/><circle cx="892.2" cy="315.4" r="4.35"/><circle cx="892.2" cy="338.6" r="4.35"/><circle cx="892.2" cy="352.4" r="4.35"/><circle cx="892.2" cy="360.7" r="4.35"/><circle cx="892.2" cy="320.1" r="4.35"/><circle cx="892.2" cy="338" r="4.35"/><circle cx="892.2" cy="331.4" r="4.35"/><circle cx="892.2" cy="308.3" r="4.35"/><circle cx="892.2" cy="314.9" r="4.35"/><circle cx="892.2" cy="309.9" r="4.35"/><circle cx="892.2" cy="370.3" r="4.35"/><circle cx="892.2" cy="313.6" r="4.35"/><circle cx="892.2" cy="354.1" r="4.35"/><circle cx="892.2" cy="315.1" r="4.35"/><circle cx="892.2" cy="362.6" r="4.35"/><circle cx="892.2" cy="314.3" r="4.35"/><circle cx="892.2" cy="309.6" r="4.35"/><circle cx="892.2" cy="357" r="4.35"/><circle cx="892.2" cy="350.1" r="4.35"/><circle cx="892.2" cy="350.5" r="4.35"/><circle cx="892.2" cy="384.1" r="4.35"/><circle cx="892.2" cy="323.2" r="4.35"/><circle cx="892.2" cy="327" r="4.35"/><circle cx="892.2" cy="350.6" r="4.35"/><circle cx="892.2" cy="320.5" r="4.35"/><circle cx="892.2" cy="313" r="4.35"/><circle cx="892.2" cy="315.2" r="4.35"/><circle cx="892.2" cy="333.6" r="4.35"/><circle cx="892.2" cy="323.1" r="4.35"/><circle cx="892.2" cy="365" r="4.35"/><circle cx="892.2" cy="371.4" r="4.35"/><circle cx="892.2" cy="361.3" r="4.35"/><circle cx="892.2" cy="325.7" r="4.35"/><circle cx="892.2" cy="314.7" r="4.35"/><circle cx="892.2" cy="382.2" r="4.35"/><circle cx="892.2" cy="362.3" r="4.35"/><circle cx="892.2" cy="332.8" r="4.35"/><circle cx="892.2" cy="356.9" r="4.35"/><circle cx="892.2" cy="310" r="4.35"/><circle cx="892.2" cy="374.4" r="4.35"/><circle cx="892.2" cy="374.8" r="4.35"/><circle cx="892.2" cy="329.7" r="4.35"/><circle cx="892.2" cy="332.3" r="4.35"/><circle cx="892.2" cy="390.2" r="4.35"/><circle cx="892.2" cy="397" r="4.35"/><circle cx="892.2" cy="436.1" r="4.35"/><circle cx="921" cy="355.7" r="4.35"/><circle cx="921" cy="327.6" r="4.35"/><circle cx="921" cy="350" r="4.35"/><circle cx="921" cy="338.9" r="4.35"/><circle cx="921" cy="373.2" r="4.35"/><circle cx="921" cy="331.6" r="4.35"/><circle cx="921" cy="347.3" r="4.35"/><circle cx="921" cy="316.5" r="4.35"/><circle cx="921" cy="338.6" r="4.35"/><circle cx="921" cy="311.5" r="4.35"/><circle cx="921" cy="316" r="4.35"/><circle cx="921" cy="379.2" r="4.35"/><circle cx="921" cy="335" r="4.35"/><circle cx="921" cy="373.5" r="4.35"/><circle cx="921" cy="331.7" r="4.35"/><circle cx="921" cy="330.8" r="4.35"/><circle cx="921" cy="350.2" r="4.35"/><circle cx="921" cy="316.2" r="4.35"/><circle cx="921" cy="357.9" r="4.35"/><circle cx="921" cy="313.5" r="4.35"/><circle cx="921" cy="349.3" r="4.35"/><circle cx="921" cy="346.1" r="4.35"/><circle cx="921" cy="312.6" r="4.35"/><circle cx="921" cy="326.4" r="4.35"/><circle cx="921" cy="325" r="4.35"/><circle cx="921" cy="356.2" r="4.35"/><circle cx="921" cy="329.8" r="4.35"/><circle cx="921" cy="313.7" r="4.35"/><circle cx="921" cy="320.9" r="4.35"/><circle cx="921" cy="313.8" r="4.35"/><circle cx="921" cy="321.8" r="4.35"/><circle cx="921" cy="322.7" r="4.35"/><circle cx="921" cy="310.3" r="4.35"/><circle cx="921" cy="372.9" r="4.35"/><circle cx="921" cy="337.2" r="4.35"/><circle cx="921" cy="317.5" r="4.35"/><circle cx="921" cy="310.8" r="4.35"/><circle cx="921" cy="344.7" r="4.35"/><circle cx="921" cy="333.6" r="4.35"/><circle cx="921" cy="346.6" r="4.35"/><circle cx="921" cy="315.5" r="4.35"/><circle cx="921" cy="361.2" r="4.35"/><circle cx="921" cy="378" r="4.35"/><circle cx="921" cy="344.9" r="4.35"/><circle cx="921" cy="323.7" r="4.35"/><circle cx="921" cy="378.7" r="4.35"/><circle cx="921" cy="360.7" r="4.35"/><circle cx="921" cy="309.3" r="4.35"/><circle cx="921" cy="318.2" r="4.35"/><circle cx="921" cy="336" r="4.35"/><circle cx="921" cy="334.2" r="4.35"/><circle cx="921" cy="335.9" r="4.35"/><circle cx="921" cy="349" r="4.35"/><circle cx="921" cy="311.2" r="4.35"/><circle cx="921" cy="322.8" r="4.35"/><circle cx="921" cy="353.5" r="4.35"/><circle cx="921" cy="326.5" r="4.35"/><circle cx="921" cy="324.1" r="4.35"/><circle cx="921" cy="317.5" r="4.35"/><circle cx="921" cy="321.2" r="4.35"/><circle cx="921" cy="311.3" r="4.35"/><circle cx="921" cy="376" r="4.35"/><circle cx="921" cy="338.1" r="4.35"/><circle cx="921" cy="357" r="4.35"/><circle cx="921" cy="357.6" r="4.35"/><circle cx="921" cy="326.5" r="4.35"/><circle cx="921" cy="357.4" r="4.35"/><circle cx="921" cy="322.9" r="4.35"/><circle cx="921" cy="314.3" r="4.35"/><circle cx="921" cy="374.7" r="4.35"/><circle cx="921" cy="337.3" r="4.35"/><circle cx="921" cy="311.7" r="4.35"/><circle cx="921" cy="325.6" r="4.35"/><circle cx="921" cy="347" r="4.35"/><circle cx="921" cy="317.9" r="4.35"/><circle cx="921" cy="324.4" r="4.35"/><circle cx="921" cy="308.4" r="4.35"/><circle cx="921" cy="325.9" r="4.35"/><circle cx="921" cy="309.2" r="4.35"/><circle cx="921" cy="338.2" r="4.35"/><circle cx="921" cy="331.6" r="4.35"/><circle cx="921" cy="317.7" r="4.35"/><circle cx="921" cy="323.1" r="4.35"/><circle cx="921" cy="329.2" r="4.35"/><circle cx="921" cy="334.5" r="4.35"/><circle cx="921" cy="387.7" r="4.35"/><circle cx="921" cy="344.9" r="4.35"/><circle cx="921" cy="318.5" r="4.35"/><circle cx="921" cy="358" r="4.35"/><circle cx="921" cy="399.2" r="4.35"/><circle cx="921" cy="377.4" r="4.35"/><circle cx="921" cy="341.1" r="4.35"/><circle cx="921" cy="391.1" r="4.35"/><circle cx="921" cy="370" r="4.35"/><circle cx="921" cy="310.9" r="4.35"/><circle cx="921" cy="390.7" r="4.35"/><circle cx="921" cy="411.7" r="4.35"/><circle cx="949.8" cy="364.6" r="4.35"/><circle cx="949.8" cy="346.1" r="4.35"/><circle cx="949.8" cy="324.5" r="4.35"/><circle cx="949.8" cy="338.3" r="4.35"/><circle cx="949.8" cy="334.3" r="4.35"/><circle cx="949.8" cy="329.5" r="4.35"/><circle cx="949.8" cy="313" r="4.35"/><circle cx="949.8" cy="348.9" r="4.35"/><circle cx="949.8" cy="346.6" r="4.35"/><circle cx="949.8" cy="307.9" r="4.35"/><circle cx="949.8" cy="338.2" r="4.35"/><circle cx="949.8" cy="319.2" r="4.35"/><circle cx="949.8" cy="333.9" r="4.35"/><circle cx="949.8" cy="367.5" r="4.35"/><circle cx="949.8" cy="334.9" r="4.35"/><circle cx="949.8" cy="317.1" r="4.35"/><circle cx="949.8" cy="352.5" r="4.35"/><circle cx="949.8" cy="314.1" r="4.35"/><circle cx="949.8" cy="348.5" r="4.35"/><circle cx="949.8" cy="337" r="4.35"/><circle cx="949.8" cy="350.1" r="4.35"/><circle cx="949.8" cy="325.3" r="4.35"/><circle cx="949.8" cy="315.7" r="4.35"/><circle cx="949.8" cy="308.4" r="4.35"/><circle cx="949.8" cy="390.4" r="4.35"/><circle cx="949.8" cy="336.3" r="4.35"/><circle cx="949.8" cy="323.2" r="4.35"/><circle cx="949.8" cy="318.3" r="4.35"/><circle cx="949.8" cy="322.1" r="4.35"/><circle cx="949.8" cy="341.9" r="4.35"/><circle cx="949.8" cy="314" r="4.35"/><circle cx="949.8" cy="322.7" r="4.35"/><circle cx="949.8" cy="340.5" r="4.35"/><circle cx="949.8" cy="315.8" r="4.35"/><circle cx="949.8" cy="341.2" r="4.35"/><circle cx="949.8" cy="338.9" r="4.35"/><circle cx="949.8" cy="340.1" r="4.35"/><circle cx="949.8" cy="324.3" r="4.35"/><circle cx="949.8" cy="312.7" r="4.35"/><circle cx="949.8" cy="324.6" r="4.35"/><circle cx="949.8" cy="314.8" r="4.35"/><circle cx="949.8" cy="313.3" r="4.35"/><circle cx="949.8" cy="317.3" r="4.35"/><circle cx="949.8" cy="377.8" r="4.35"/><circle cx="949.8" cy="372.4" r="4.35"/><circle cx="949.8" cy="358.5" r="4.35"/><circle cx="949.8" cy="307.3" r="4.35"/><circle cx="949.8" cy="332.4" r="4.35"/><circle cx="949.8" cy="321.4" r="4.35"/><circle cx="949.8" cy="321.4" r="4.35"/><circle cx="949.8" cy="342.8" r="4.35"/><circle cx="949.8" cy="312.4" r="4.35"/><circle cx="949.8" cy="402.9" r="4.35"/><circle cx="949.8" cy="332.6" r="4.35"/><circle cx="949.8" cy="330.9" r="4.35"/><circle cx="949.8" cy="322.5" r="4.35"/><circle cx="949.8" cy="338.4" r="4.35"/><circle cx="949.8" cy="310.8" r="4.35"/><circle cx="949.8" cy="319.2" r="4.35"/><circle cx="949.8" cy="348.9" r="4.35"/><circle cx="949.8" cy="320.9" r="4.35"/><circle cx="949.8" cy="322.7" r="4.35"/><circle cx="949.8" cy="310.7" r="4.35"/><circle cx="949.8" cy="353.7" r="4.35"/><circle cx="949.8" cy="309.6" r="4.35"/><circle cx="949.8" cy="340.4" r="4.35"/><circle cx="949.8" cy="341.7" r="4.35"/><circle cx="949.8" cy="315.3" r="4.35"/><circle cx="949.8" cy="327.8" r="4.35"/><circle cx="949.8" cy="334.2" r="4.35"/><circle cx="949.8" cy="362.5" r="4.35"/><circle cx="949.8" cy="314.6" r="4.35"/><circle cx="949.8" cy="361.8" r="4.35"/><circle cx="949.8" cy="322" r="4.35"/><circle cx="949.8" cy="344.7" r="4.35"/><circle cx="949.8" cy="340.5" r="4.35"/><circle cx="949.8" cy="346.3" r="4.35"/><circle cx="949.8" cy="312" r="4.35"/><circle cx="949.8" cy="350.6" r="4.35"/><circle cx="949.8" cy="313.7" r="4.35"/><circle cx="949.8" cy="314.6" r="4.35"/><circle cx="949.8" cy="315.4" r="4.35"/><circle cx="949.8" cy="325.3" r="4.35"/><circle cx="949.8" cy="388" r="4.35"/><circle cx="949.8" cy="397.1" r="4.35"/><circle cx="949.8" cy="385" r="4.35"/><circle cx="949.8" cy="338.4" r="4.35"/><circle cx="949.8" cy="346.8" r="4.35"/><circle cx="949.8" cy="400.7" r="4.35"/><circle cx="949.8" cy="394.5" r="4.35"/><circle cx="949.8" cy="350.3" r="4.35"/><circle cx="949.8" cy="355" r="4.35"/><circle cx="949.8" cy="337" r="4.35"/><circle cx="949.8" cy="386.6" r="4.35"/><circle cx="949.8" cy="414.6" r="4.35"/><circle cx="949.8" cy="418.5" r="4.35"/><circle cx="949.8" cy="422.4" r="4.35"/><circle cx="978.5" cy="320.9" r="4.35"/><circle cx="978.5" cy="311.4" r="4.35"/><circle cx="978.5" cy="329.5" r="4.35"/><circle cx="978.5" cy="314.1" r="4.35"/><circle cx="978.5" cy="331" r="4.35"/><circle cx="978.5" cy="310.8" r="4.35"/><circle cx="978.5" cy="324" r="4.35"/><circle cx="978.5" cy="331" r="4.35"/><circle cx="978.5" cy="316.4" r="4.35"/><circle cx="978.5" cy="354.7" r="4.35"/><circle cx="978.5" cy="333.4" r="4.35"/><circle cx="978.5" cy="309.9" r="4.35"/><circle cx="978.5" cy="318.3" r="4.35"/><circle cx="978.5" cy="318.7" r="4.35"/><circle cx="978.5" cy="340.2" r="4.35"/><circle cx="978.5" cy="319.2" r="4.35"/><circle cx="978.5" cy="324.1" r="4.35"/><circle cx="978.5" cy="323.2" r="4.35"/><circle cx="978.5" cy="318.1" r="4.35"/><circle cx="978.5" cy="310" r="4.35"/><circle cx="978.5" cy="329.1" r="4.35"/><circle cx="978.5" cy="310.8" r="4.35"/><circle cx="978.5" cy="341.8" r="4.35"/><circle cx="978.5" cy="310.3" r="4.35"/><circle cx="978.5" cy="334.8" r="4.35"/><circle cx="978.5" cy="322.5" r="4.35"/><circle cx="978.5" cy="322" r="4.35"/><circle cx="978.5" cy="336.8" r="4.35"/><circle cx="978.5" cy="309.7" r="4.35"/><circle cx="978.5" cy="319.5" r="4.35"/><circle cx="978.5" cy="332.5" r="4.35"/><circle cx="978.5" cy="335.6" r="4.35"/><circle cx="978.5" cy="307.5" r="4.35"/><circle cx="978.5" cy="312.8" r="4.35"/><circle cx="978.5" cy="363.1" r="4.35"/><circle cx="978.5" cy="330" r="4.35"/><circle cx="978.5" cy="330.6" r="4.35"/><circle cx="978.5" cy="313.6" r="4.35"/><circle cx="978.5" cy="331.4" r="4.35"/><circle cx="978.5" cy="323.5" r="4.35"/><circle cx="978.5" cy="314.1" r="4.35"/><circle cx="978.5" cy="366.5" r="4.35"/><circle cx="978.5" cy="313.9" r="4.35"/><circle cx="978.5" cy="332.3" r="4.35"/><circle cx="978.5" cy="309.8" r="4.35"/><circle cx="978.5" cy="353" r="4.35"/><circle cx="978.5" cy="313" r="4.35"/><circle cx="978.5" cy="340.5" r="4.35"/><circle cx="978.5" cy="336.7" r="4.35"/><circle cx="978.5" cy="346.6" r="4.35"/><circle cx="978.5" cy="311.5" r="4.35"/><circle cx="978.5" cy="315.5" r="4.35"/><circle cx="978.5" cy="327.2" r="4.35"/><circle cx="978.5" cy="333.3" r="4.35"/><circle cx="978.5" cy="321.7" r="4.35"/><circle cx="978.5" cy="340.3" r="4.35"/><circle cx="978.5" cy="310.3" r="4.35"/><circle cx="978.5" cy="360.6" r="4.35"/><circle cx="978.5" cy="335.1" r="4.35"/><circle cx="978.5" cy="310.3" r="4.35"/><circle cx="978.5" cy="333.3" r="4.35"/><circle cx="978.5" cy="352.7" r="4.35"/><circle cx="978.5" cy="326.9" r="4.35"/><circle cx="978.5" cy="320.8" r="4.35"/><circle cx="978.5" cy="312.9" r="4.35"/><circle cx="978.5" cy="332.4" r="4.35"/><circle cx="978.5" cy="315.3" r="4.35"/><circle cx="978.5" cy="390.4" r="4.35"/><circle cx="978.5" cy="311.5" r="4.35"/><circle cx="978.5" cy="372.3" r="4.35"/><circle cx="978.5" cy="323.9" r="4.35"/><circle cx="978.5" cy="341" r="4.35"/><circle cx="978.5" cy="343" r="4.35"/><circle cx="978.5" cy="326.1" r="4.35"/><circle cx="978.5" cy="320.9" r="4.35"/><circle cx="978.5" cy="364.6" r="4.35"/><circle cx="978.5" cy="314" r="4.35"/><circle cx="978.5" cy="365.2" r="4.35"/><circle cx="978.5" cy="384.7" r="4.35"/><circle cx="978.5" cy="309.4" r="4.35"/><circle cx="978.5" cy="355.3" r="4.35"/><circle cx="978.5" cy="348.1" r="4.35"/><circle cx="978.5" cy="357.2" r="4.35"/><circle cx="978.5" cy="388.9" r="4.35"/><circle cx="978.5" cy="326.9" r="4.35"/><circle cx="978.5" cy="360" r="4.35"/><circle cx="978.5" cy="365.8" r="4.35"/><circle cx="978.5" cy="396.2" r="4.35"/><circle cx="978.5" cy="336.7" r="4.35"/><circle cx="978.5" cy="398.2" r="4.35"/><circle cx="978.5" cy="373.5" r="4.35"/><circle cx="978.5" cy="325.3" r="4.35"/><circle cx="978.5" cy="358.4" r="4.35"/><circle cx="978.5" cy="374" r="4.35"/><circle cx="1007.3" cy="382.9" r="4.35"/><circle cx="1007.3" cy="328.3" r="4.35"/><circle cx="1007.3" cy="314.1" r="4.35"/><circle cx="1007.3" cy="334.5" r="4.35"/><circle cx="1007.3" cy="369.5" r="4.35"/><circle cx="1007.3" cy="344.8" r="4.35"/><circle cx="1007.3" cy="331.4" r="4.35"/><circle cx="1007.3" cy="322.1" r="4.35"/><circle cx="1007.3" cy="333" r="4.35"/><circle cx="1007.3" cy="332.5" r="4.35"/><circle cx="1007.3" cy="318.2" r="4.35"/><circle cx="1007.3" cy="319.9" r="4.35"/><circle cx="1007.3" cy="370.9" r="4.35"/><circle cx="1007.3" cy="385.8" r="4.35"/><circle cx="1007.3" cy="344.7" r="4.35"/><circle cx="1007.3" cy="335.3" r="4.35"/><circle cx="1007.3" cy="377.4" r="4.35"/><circle cx="1007.3" cy="314.7" r="4.35"/><circle cx="1007.3" cy="307.3" r="4.35"/><circle cx="1007.3" cy="323.6" r="4.35"/><circle cx="1007.3" cy="333.8" r="4.35"/><circle cx="1007.3" cy="330.8" r="4.35"/><circle cx="1007.3" cy="312.8" r="4.35"/><circle cx="1007.3" cy="313.9" r="4.35"/><circle cx="1007.3" cy="312.2" r="4.35"/><circle cx="1007.3" cy="328" r="4.35"/><circle cx="1007.3" cy="319.2" r="4.35"/><circle cx="1007.3" cy="383.6" r="4.35"/><circle cx="1007.3" cy="346.8" r="4.35"/><circle cx="1007.3" cy="311.2" r="4.35"/><circle cx="1007.3" cy="341.3" r="4.35"/><circle cx="1007.3" cy="355.9" r="4.35"/><circle cx="1007.3" cy="310.5" r="4.35"/><circle cx="1007.3" cy="331.7" r="4.35"/><circle cx="1007.3" cy="307.4" r="4.35"/><circle cx="1007.3" cy="353.6" r="4.35"/><circle cx="1007.3" cy="318" r="4.35"/><circle cx="1007.3" cy="336.5" r="4.35"/><circle cx="1007.3" cy="310.2" r="4.35"/><circle cx="1007.3" cy="316.5" r="4.35"/><circle cx="1007.3" cy="346.2" r="4.35"/><circle cx="1007.3" cy="336" r="4.35"/><circle cx="1007.3" cy="323.9" r="4.35"/><circle cx="1007.3" cy="356.1" r="4.35"/><circle cx="1007.3" cy="376.3" r="4.35"/><circle cx="1007.3" cy="344.6" r="4.35"/><circle cx="1007.3" cy="364" r="4.35"/><circle cx="1007.3" cy="382" r="4.35"/><circle cx="1007.3" cy="348.6" r="4.35"/><circle cx="1007.3" cy="315.7" r="4.35"/><circle cx="1007.3" cy="309.8" r="4.35"/><circle cx="1007.3" cy="348.7" r="4.35"/><circle cx="1007.3" cy="317.7" r="4.35"/><circle cx="1007.3" cy="323.9" r="4.35"/><circle cx="1007.3" cy="323.4" r="4.35"/><circle cx="1007.3" cy="339.2" r="4.35"/><circle cx="1007.3" cy="315.4" r="4.35"/><circle cx="1007.3" cy="330.8" r="4.35"/><circle cx="1007.3" cy="310.5" r="4.35"/><circle cx="1007.3" cy="332.6" r="4.35"/><circle cx="1007.3" cy="329.4" r="4.35"/><circle cx="1007.3" cy="317.5" r="4.35"/><circle cx="1007.3" cy="309.9" r="4.35"/><circle cx="1007.3" cy="318" r="4.35"/><circle cx="1007.3" cy="320.5" r="4.35"/><circle cx="1007.3" cy="318.2" r="4.35"/><circle cx="1007.3" cy="383.8" r="4.35"/><circle cx="1007.3" cy="374.7" r="4.35"/><circle cx="1007.3" cy="313.5" r="4.35"/><circle cx="1007.3" cy="322.4" r="4.35"/><circle cx="1007.3" cy="348.5" r="4.35"/><circle cx="1007.3" cy="309.6" r="4.35"/><circle cx="1007.3" cy="321.6" r="4.35"/><circle cx="1007.3" cy="320.1" r="4.35"/><circle cx="1007.3" cy="315.4" r="4.35"/><circle cx="1007.3" cy="341.8" r="4.35"/><circle cx="1007.3" cy="334.8" r="4.35"/><circle cx="1007.3" cy="325.8" r="4.35"/><circle cx="1007.3" cy="318.3" r="4.35"/><circle cx="1007.3" cy="318" r="4.35"/><circle cx="1007.3" cy="364.3" r="4.35"/><circle cx="1007.3" cy="308.4" r="4.35"/><circle cx="1007.3" cy="387" r="4.35"/><circle cx="1007.3" cy="321.8" r="4.35"/><circle cx="1007.3" cy="380.5" r="4.35"/><circle cx="1007.3" cy="315.4" r="4.35"/><circle cx="1007.3" cy="371.2" r="4.35"/><circle cx="1007.3" cy="360.2" r="4.35"/><circle cx="1007.3" cy="387" r="4.35"/><circle cx="1007.3" cy="358.9" r="4.35"/><circle cx="1007.3" cy="384" r="4.35"/><circle cx="1007.3" cy="314.8" r="4.35"/><circle cx="1007.3" cy="323.6" r="4.35"/><circle cx="1007.3" cy="310.8" r="4.35"/><circle cx="1007.3" cy="398" r="4.35"/><circle cx="1036.1" cy="320.2" r="4.35"/><circle cx="1036.1" cy="331.7" r="4.35"/><circle cx="1036.1" cy="347.1" r="4.35"/><circle cx="1036.1" cy="318.5" r="4.35"/><circle cx="1036.1" cy="367" r="4.35"/><circle cx="1036.1" cy="321.9" r="4.35"/><circle cx="1036.1" cy="364.2" r="4.35"/><circle cx="1036.1" cy="319.9" r="4.35"/><circle cx="1036.1" cy="331.2" r="4.35"/><circle cx="1036.1" cy="330.1" r="4.35"/><circle cx="1036.1" cy="337.7" r="4.35"/><circle cx="1036.1" cy="377.9" r="4.35"/><circle cx="1036.1" cy="335.3" r="4.35"/><circle cx="1036.1" cy="353.6" r="4.35"/><circle cx="1036.1" cy="311.1" r="4.35"/><circle cx="1036.1" cy="311.5" r="4.35"/><circle cx="1036.1" cy="359.6" r="4.35"/><circle cx="1036.1" cy="320.7" r="4.35"/><circle cx="1036.1" cy="332.3" r="4.35"/><circle cx="1036.1" cy="328.4" r="4.35"/><circle cx="1036.1" cy="316.7" r="4.35"/><circle cx="1036.1" cy="364.3" r="4.35"/><circle cx="1036.1" cy="308.8" r="4.35"/><circle cx="1036.1" cy="316.9" r="4.35"/><circle cx="1036.1" cy="332.1" r="4.35"/><circle cx="1036.1" cy="377.1" r="4.35"/><circle cx="1036.1" cy="339.6" r="4.35"/><circle cx="1036.1" cy="348.7" r="4.35"/><circle cx="1036.1" cy="326.2" r="4.35"/><circle cx="1036.1" cy="315.6" r="4.35"/><circle cx="1036.1" cy="329.9" r="4.35"/><circle cx="1036.1" cy="339.3" r="4.35"/><circle cx="1036.1" cy="355" r="4.35"/><circle cx="1036.1" cy="348" r="4.35"/><circle cx="1036.1" cy="319.1" r="4.35"/><circle cx="1036.1" cy="333.3" r="4.35"/><circle cx="1036.1" cy="340.5" r="4.35"/><circle cx="1036.1" cy="347.9" r="4.35"/><circle cx="1036.1" cy="362.9" r="4.35"/><circle cx="1036.1" cy="330.1" r="4.35"/><circle cx="1036.1" cy="331.6" r="4.35"/><circle cx="1036.1" cy="371.5" r="4.35"/><circle cx="1036.1" cy="344.8" r="4.35"/><circle cx="1036.1" cy="376.5" r="4.35"/><circle cx="1036.1" cy="326.6" r="4.35"/><circle cx="1036.1" cy="371.8" r="4.35"/><circle cx="1036.1" cy="375.5" r="4.35"/><circle cx="1036.1" cy="348.3" r="4.35"/><circle cx="1036.1" cy="340.5" r="4.35"/><circle cx="1036.1" cy="309.3" r="4.35"/><circle cx="1036.1" cy="373.9" r="4.35"/><circle cx="1036.1" cy="325.9" r="4.35"/><circle cx="1036.1" cy="344.5" r="4.35"/><circle cx="1036.1" cy="361.3" r="4.35"/><circle cx="1036.1" cy="318.7" r="4.35"/><circle cx="1036.1" cy="348.4" r="4.35"/><circle cx="1036.1" cy="351.3" r="4.35"/><circle cx="1036.1" cy="327.1" r="4.35"/><circle cx="1036.1" cy="311.1" r="4.35"/><circle cx="1036.1" cy="314.4" r="4.35"/><circle cx="1036.1" cy="321.7" r="4.35"/><circle cx="1036.1" cy="347.8" r="4.35"/><circle cx="1036.1" cy="334.3" r="4.35"/><circle cx="1036.1" cy="373.4" r="4.35"/><circle cx="1036.1" cy="314" r="4.35"/><circle cx="1036.1" cy="364.1" r="4.35"/><circle cx="1036.1" cy="328.9" r="4.35"/><circle cx="1036.1" cy="350.5" r="4.35"/><circle cx="1036.1" cy="323.7" r="4.35"/><circle cx="1036.1" cy="326" r="4.35"/><circle cx="1036.1" cy="367.1" r="4.35"/><circle cx="1036.1" cy="316.7" r="4.35"/><circle cx="1036.1" cy="315.5" r="4.35"/><circle cx="1036.1" cy="332.2" r="4.35"/><circle cx="1036.1" cy="330.3" r="4.35"/><circle cx="1036.1" cy="363" r="4.35"/><circle cx="1036.1" cy="353.6" r="4.35"/><circle cx="1036.1" cy="309.6" r="4.35"/><circle cx="1036.1" cy="326.7" r="4.35"/><circle cx="1036.1" cy="346.3" r="4.35"/><circle cx="1036.1" cy="313.4" r="4.35"/><circle cx="1036.1" cy="387" r="4.35"/><circle cx="1036.1" cy="346.1" r="4.35"/><circle cx="1036.1" cy="359.8" r="4.35"/><circle cx="1036.1" cy="322.9" r="4.35"/><circle cx="1036.1" cy="334" r="4.35"/><circle cx="1036.1" cy="340" r="4.35"/><circle cx="1036.1" cy="366.6" r="4.35"/><circle cx="1036.1" cy="375.8" r="4.35"/><circle cx="1036.1" cy="388.7" r="4.35"/><circle cx="1036.1" cy="366.6" r="4.35"/><circle cx="1036.1" cy="348.9" r="4.35"/><circle cx="1036.1" cy="390" r="4.35"/><circle cx="1036.1" cy="324.8" r="4.35"/><circle cx="1036.1" cy="361.8" r="4.35"/><circle cx="1036.1" cy="389.2" r="4.35"/><circle cx="1036.1" cy="371" r="4.35"/><circle cx="1036.1" cy="289.4" r="4.35"/><circle cx="1036.1" cy="294.3" r="4.35"/><circle cx="1036.1" cy="299.2" r="4.35"/><circle cx="1036.1" cy="303.1" r="4.35"/><circle cx="1036.1" cy="415.6" r="4.35"/><circle cx="1036.1" cy="437.1" r="4.35"/><circle cx="1064.8" cy="232.7" r="4.35"/><circle cx="1064.8" cy="250.3" r="4.35"/><circle cx="1064.8" cy="289.4" r="4.35"/><circle cx="1064.8" cy="297.3" r="4.35"/><circle cx="1064.8" cy="304.1" r="4.35"/><circle cx="1064.8" cy="309" r="4.35"/><circle cx="1064.8" cy="313.9" r="4.35"/><circle cx="1064.8" cy="320.7" r="4.35"/><circle cx="1064.8" cy="326.6" r="4.35"/><circle cx="1064.8" cy="342.3" r="4.35"/><circle cx="1064.8" cy="371.6" r="4.35"/><circle cx="1093.6" cy="154.5" r="4.35"/><circle cx="1093.6" cy="221" r="4.35"/><circle cx="1093.6" cy="222.9" r="4.35"/><circle cx="1093.6" cy="230.8" r="4.35"/><circle cx="1093.6" cy="233.7" r="4.35"/><circle cx="1093.6" cy="241.5" r="4.35"/><circle cx="1093.6" cy="261.1" r="4.35"/><circle cx="1093.6" cy="263" r="4.35"/><circle cx="1093.6" cy="274.8" r="4.35"/><circle cx="1093.6" cy="279.7" r="4.35"/><circle cx="1093.6" cy="287.5" r="4.35"/><circle cx="1093.6" cy="297.3" r="4.35"/><circle cx="1093.6" cy="301.2" r="4.35"/><circle cx="1093.6" cy="305.1" r="4.35"/><circle cx="1122.4" cy="95.8" r="4.35"/><circle cx="1122.4" cy="131" r="4.35"/><circle cx="1122.4" cy="134.9" r="4.35"/><circle cx="1122.4" cy="144.7" r="4.35"/><circle cx="1122.4" cy="146.7" r="4.35"/><circle cx="1122.4" cy="152.5" r="4.35"/><circle cx="1122.4" cy="168.2" r="4.35"/><circle cx="1122.4" cy="175" r="4.35"/><circle cx="1122.4" cy="189.7" r="4.35"/><circle cx="1122.4" cy="208.3" r="4.35"/><circle cx="1122.4" cy="225.9" r="4.35"/><circle cx="1122.4" cy="263" r="4.35"/><circle cx="1122.4" cy="267.9" r="4.35"/><circle cx="1122.4" cy="271.8" r="4.35"/><circle cx="1122.4" cy="281.6" r="4.35"/><circle cx="1122.4" cy="283.6" r="4.35"/><circle cx="1122.4" cy="297.3" r="4.35"/><circle cx="1122.4" cy="299.2" r="4.35"/><circle cx="1151.2" cy="118.3" r="4.35"/><circle cx="1151.2" cy="129" r="4.35"/><circle cx="1151.2" cy="138.8" r="4.35"/><circle cx="1151.2" cy="155.5" r="4.35"/><circle cx="1151.2" cy="196.5" r="4.35"/><circle cx="1151.2" cy="218" r="4.35"/><circle cx="1151.2" cy="231.7" r="4.35"/><circle cx="1151.2" cy="247.4" r="4.35"/><circle cx="1151.2" cy="252.3" r="4.35"/><circle cx="1151.2" cy="257.2" r="4.35"/><circle cx="1151.2" cy="272.8" r="4.35"/><circle cx="1151.2" cy="291.4" r="4.35"/><circle cx="1151.2" cy="294.3" r="4.35"/><circle cx="1151.2" cy="297.3" r="4.35"/><circle cx="1151.2" cy="301.2" r="4.35"/><circle cx="1179.9" cy="197.5" r="4.35"/><circle cx="1179.9" cy="212.2" r="4.35"/><circle cx="1179.9" cy="231.7" r="4.35"/><circle cx="1179.9" cy="244.5" r="4.35"/><circle cx="1179.9" cy="250.3" r="4.35"/><circle cx="1179.9" cy="260.1" r="4.35"/><circle cx="1179.9" cy="270.9" r="4.35"/><circle cx="1179.9" cy="272.8" r="4.35"/><circle cx="1179.9" cy="284.6" r="4.35"/><circle cx="1179.9" cy="293.4" r="4.35"/><circle cx="1179.9" cy="310" r="4.35"/><circle cx="1208.7" cy="114.4" r="4.35"/><circle cx="1208.7" cy="130" r="4.35"/><circle cx="1208.7" cy="146.7" r="4.35"/><circle cx="1208.7" cy="162.3" r="4.35"/><circle cx="1208.7" cy="183.8" r="4.35"/><circle cx="1208.7" cy="186.8" r="4.35"/><circle cx="1208.7" cy="219" r="4.35"/><circle cx="1208.7" cy="225.9" r="4.35"/><circle cx="1208.7" cy="232.7" r="4.35"/><circle cx="1208.7" cy="238.6" r="4.35"/><circle cx="1208.7" cy="242.5" r="4.35"/><circle cx="1208.7" cy="266" r="4.35"/><circle cx="1208.7" cy="269.9" r="4.35"/><circle cx="1208.7" cy="274.8" r="4.35"/><circle cx="1208.7" cy="279.7" r="4.35"/><circle cx="1208.7" cy="298.2" r="4.35"/><circle cx="1208.7" cy="305.1" r="4.35"/><circle cx="1208.7" cy="309" r="4.35"/><circle cx="1208.7" cy="313.9" r="4.35"/><circle cx="1237.5" cy="38.1" r="4.35"/><circle cx="1237.5" cy="88.9" r="4.35"/><circle cx="1237.5" cy="133" r="4.35"/><circle cx="1237.5" cy="164.3" r="4.35"/><circle cx="1237.5" cy="169.1" r="4.35"/><circle cx="1237.5" cy="184.8" r="4.35"/><circle cx="1237.5" cy="185.8" r="4.35"/><circle cx="1237.5" cy="222.9" r="4.35"/><circle cx="1237.5" cy="228.8" r="4.35"/><circle cx="1237.5" cy="257.2" r="4.35"/><circle cx="1237.5" cy="270.9" r="4.35"/><circle cx="1237.5" cy="273.8" r="4.35"/><circle cx="1237.5" cy="283.6" r="4.35"/><circle cx="1237.5" cy="291.4" r="4.35"/><circle cx="1237.5" cy="297.3" r="4.35"/><circle cx="1237.5" cy="307" r="4.35"/><circle cx="1237.5" cy="309" r="4.35"/><circle cx="1266.2" cy="114.4" r="4.35"/><circle cx="1266.2" cy="138.8" r="4.35"/><circle cx="1266.2" cy="148.6" r="4.35"/><circle cx="1266.2" cy="154.5" r="4.35"/><circle cx="1266.2" cy="169.1" r="4.35"/><circle cx="1266.2" cy="181.9" r="4.35"/><circle cx="1266.2" cy="188.7" r="4.35"/><circle cx="1266.2" cy="205.3" r="4.35"/><circle cx="1266.2" cy="237.6" r="4.35"/><circle cx="1266.2" cy="245.4" r="4.35"/><circle cx="1266.2" cy="250.3" r="4.35"/><circle cx="1266.2" cy="253.3" r="4.35"/><circle cx="1266.2" cy="263" r="4.35"/><circle cx="1266.2" cy="268.9" r="4.35"/><circle cx="1266.2" cy="271.8" r="4.35"/><circle cx="1266.2" cy="274.8" r="4.35"/><circle cx="1266.2" cy="282.6" r="4.35"/><circle cx="1266.2" cy="284.6" r="4.35"/><circle cx="1295" cy="78.2" r="4.35"/><circle cx="1295" cy="98.7" r="4.35"/><circle cx="1295" cy="117.3" r="4.35"/><circle cx="1295" cy="124.2" r="4.35"/><circle cx="1295" cy="131" r="4.35"/><circle cx="1295" cy="186.8" r="4.35"/><circle cx="1295" cy="193.6" r="4.35"/><circle cx="1295" cy="196.5" r="4.35"/><circle cx="1295" cy="201.4" r="4.35"/><circle cx="1295" cy="206.3" r="4.35"/><circle cx="1295" cy="218" r="4.35"/><circle cx="1295" cy="245.4" r="4.35"/><circle cx="1295" cy="250.3" r="4.35"/><circle cx="1295" cy="266.9" r="4.35"/><circle cx="1295" cy="287.5" r="4.35"/><circle cx="1295" cy="289.4" r="4.35"/><circle cx="1323.8" cy="28.3" r="4.35"/><circle cx="1323.8" cy="94.8" r="4.35"/><circle cx="1323.8" cy="110.5" r="4.35"/><circle cx="1323.8" cy="142.7" r="4.35"/><circle cx="1323.8" cy="152.5" r="4.35"/><circle cx="1323.8" cy="161.3" r="4.35"/><circle cx="1323.8" cy="174" r="4.35"/><circle cx="1323.8" cy="174" r="4.35"/><circle cx="1323.8" cy="185.8" r="4.35"/><circle cx="1323.8" cy="258.1" r="4.35"/><circle cx="1323.8" cy="260.1" r="4.35"/><circle cx="1323.8" cy="263" r="4.35"/><circle cx="1323.8" cy="273.8" r="4.35"/><circle cx="1323.8" cy="275.7" r="4.35"/><circle cx="1323.8" cy="279.7" r="4.35"/><circle cx="1323.8" cy="284.6" r="4.35"/><circle cx="1323.8" cy="287.5" r="4.35"/><circle cx="1323.8" cy="297.3" r="4.35"/><circle cx="1323.8" cy="300.2" r="4.35"/><circle cx="1323.8" cy="303.1" r="4.35"/><circle cx="1352.6" cy="34.2" r="4.35"/><circle cx="1352.6" cy="51.8" r="4.35"/><circle cx="1352.6" cy="106.6" r="4.35"/><circle cx="1352.6" cy="134.9" r="4.35"/><circle cx="1352.6" cy="137.9" r="4.35"/><circle cx="1352.6" cy="149.6" r="4.35"/><circle cx="1352.6" cy="172.1" r="4.35"/><circle cx="1352.6" cy="200.4" r="4.35"/><circle cx="1352.6" cy="234.7" r="4.35"/><circle cx="1352.6" cy="242.5" r="4.35"/><circle cx="1352.6" cy="248.4" r="4.35"/><circle cx="1352.6" cy="256.2" r="4.35"/><circle cx="1352.6" cy="269.9" r="4.35"/><circle cx="1352.6" cy="283.6" r="4.35"/><circle cx="1352.6" cy="287.5" r="4.35"/><circle cx="1352.6" cy="307" r="4.35"/><circle cx="1381.3" cy="125.1" r="4.35"/><circle cx="1381.3" cy="152.5" r="4.35"/><circle cx="1381.3" cy="175" r="4.35"/><circle cx="1381.3" cy="179.9" r="4.35"/><circle cx="1381.3" cy="184.8" r="4.35"/><circle cx="1381.3" cy="198.5" r="4.35"/><circle cx="1381.3" cy="238.6" r="4.35"/><circle cx="1381.3" cy="242.5" r="4.35"/><circle cx="1381.3" cy="247.4" r="4.35"/><circle cx="1381.3" cy="255.2" r="4.35"/><circle cx="1381.3" cy="260.1" r="4.35"/><circle cx="1381.3" cy="265" r="4.35"/><circle cx="1381.3" cy="269.9" r="4.35"/><circle cx="1381.3" cy="281.6" r="4.35"/><circle cx="1381.3" cy="284.6" r="4.35"/><circle cx="1381.3" cy="291.4" r="4.35"/><circle cx="1381.3" cy="297.3" r="4.35"/><circle cx="1381.3" cy="299.2" r="4.35"/><circle cx="1381.3" cy="303.1" r="4.35"/><circle cx="1410.1" cy="72.3" r="4.35"/><circle cx="1410.1" cy="75.3" r="4.35"/><circle cx="1410.1" cy="107.5" r="4.35"/><circle cx="1410.1" cy="177" r="4.35"/><circle cx="1410.1" cy="192.6" r="4.35"/><circle cx="1410.1" cy="198.5" r="4.35"/><circle cx="1410.1" cy="202.4" r="4.35"/><circle cx="1410.1" cy="228.8" r="4.35"/><circle cx="1410.1" cy="235.7" r="4.35"/><circle cx="1410.1" cy="262.1" r="4.35"/><circle cx="1410.1" cy="264" r="4.35"/><circle cx="1410.1" cy="266.9" r="4.35"/><circle cx="1410.1" cy="274.8" r="4.35"/><circle cx="1410.1" cy="277.7" r="4.35"/><circle cx="1410.1" cy="289.4" r="4.35"/><circle cx="1410.1" cy="298.2" r="4.35"/><circle cx="1410.1" cy="300.2" r="4.35"/><circle cx="1438.9" cy="211.2" r="4.35"/><circle cx="1438.9" cy="225.9" r="4.35"/><circle cx="1438.9" cy="232.7" r="4.35"/><circle cx="1438.9" cy="242.5" r="4.35"/><circle cx="1438.9" cy="258.1" r="4.35"/><circle cx="1438.9" cy="276.7" r="4.35"/><circle cx="1438.9" cy="281.6" r="4.35"/><circle cx="1438.9" cy="285.5" r="4.35"/><circle cx="1438.9" cy="289.4" r="4.35"/><circle cx="1438.9" cy="302.2" r="4.35"/><circle cx="1467.6" cy="82.1" r="4.35"/><circle cx="1467.6" cy="91.9" r="4.35"/><circle cx="1467.6" cy="115.4" r="4.35"/><circle cx="1467.6" cy="143.7" r="4.35"/><circle cx="1467.6" cy="170.1" r="4.35"/><circle cx="1467.6" cy="175" r="4.35"/><circle cx="1467.6" cy="194.6" r="4.35"/><circle cx="1467.6" cy="240.5" r="4.35"/><circle cx="1467.6" cy="243.5" r="4.35"/><circle cx="1467.6" cy="245.4" r="4.35"/><circle cx="1467.6" cy="257.2" r="4.35"/><circle cx="1467.6" cy="274.8" r="4.35"/><circle cx="1496.4" cy="150.6" r="4.35"/></g>
<polygon points="863.8,333.1 869.1,335.3 874.5,337.2 879.8,338.9 885.1,340.4 890.4,341.6 895.7,342.7 901,343.6 906.3,344.3 911.7,344.9 917,345.4 922.3,345.7 927.6,345.9 932.9,346 938.2,346 943.6,345.9 948.9,345.7 954.2,345.4 959.5,344.9 964.8,344.3 970.1,343.5 975.4,342.6 980.8,341.6 986.1,340.5 991.4,339.2 996.7,337.9 1002,336.6 1007.3,335.2 1012.7,333.8 1018,332.3 1023.3,330.6 1028.6,328.7 1033.9,326.5 1039.2,323.9 1044.6,320.9 1049.9,317.6 1055.2,314 1060.5,310.3 1065.8,306.4 1071.1,302.4 1076.4,298.4 1081.8,294.5 1087.1,290.6 1092.4,286.9 1097.7,283.4 1103,280.1 1108.3,276.9 1113.7,273.9 1119,270.9 1124.3,268.1 1129.6,265.3 1134.9,262.7 1140.2,260.1 1145.5,257.6 1150.9,255.2 1156.2,253 1161.5,250.8 1166.8,248.6 1172.1,246.5 1177.4,244.4 1182.8,242.3 1188.1,240.2 1193.4,238.1 1198.7,236 1204,234 1209.3,232 1214.6,230.1 1220,228.3 1225.3,226.6 1230.6,225 1235.9,223.5 1241.2,222.1 1246.5,220.8 1251.9,219.6 1257.2,218.6 1262.5,217.6 1267.8,216.8 1273.1,216 1278.4,215.4 1283.8,214.8 1289.1,214.4 1294.4,214 1299.7,213.7 1305,213.4 1310.3,213.2 1315.6,213 1321,212.9 1326.3,212.9 1331.6,212.9 1336.9,212.9 1342.2,213 1347.5,213.1 1352.9,213.3 1358.2,213.6 1363.5,213.9 1368.8,214.2 1374.1,214.6 1379.4,215.1 1384.7,215.6 1390.1,216.2 1395.4,216.6 1400.7,216.9 1406,217.4 1411.3,217.8 1416.6,218.3 1422,218.9 1427.3,219.5 1432.6,220.1 1437.9,220.8 1443.2,221.5 1448.5,221.7 1453.8,221.9 1459.2,222.2 1464.5,222.6 1469.8,223 1475.1,223.5 1480.4,224.1 1485.7,224.7 1491.1,225.5 1496.4,226.2 1496.4,259.3 1491.1,256.7 1485.7,254.1 1480.4,251.6 1475.1,249.2 1469.8,246.8 1464.5,244.5 1459.2,242.2 1453.8,240.1 1448.5,237.9 1443.2,235.9 1437.9,234.3 1432.6,233 1427.3,231.7 1422,230.5 1416.6,229.3 1411.3,228.2 1406,227.1 1400.7,226 1395.4,225 1390.1,224.2 1384.7,223.6 1379.4,223 1374.1,222.5 1368.8,222.1 1363.5,221.7 1358.2,221.4 1352.9,221.1 1347.5,220.9 1342.2,220.7 1336.9,220.6 1331.6,220.5 1326.3,220.5 1321,220.5 1315.6,220.6 1310.3,220.7 1305,220.9 1299.7,221.1 1294.4,221.4 1289.1,221.8 1283.8,222.2 1278.4,222.7 1273.1,223.3 1267.8,224 1262.5,224.8 1257.2,225.8 1251.9,226.8 1246.5,227.9 1241.2,229.2 1235.9,230.6 1230.6,232 1225.3,233.6 1220,235.3 1214.6,237 1209.3,238.9 1204,240.8 1198.7,242.8 1193.4,244.9 1188.1,246.9 1182.8,249 1177.4,251.1 1172.1,253.2 1166.8,255.2 1161.5,257.4 1156.2,259.5 1150.9,261.8 1145.5,264.1 1140.2,266.6 1134.9,269.1 1129.6,271.7 1124.3,274.5 1119,277.3 1113.7,280.2 1108.3,283.2 1103,286.3 1097.7,289.7 1092.4,293.1 1087.1,296.8 1081.8,300.6 1076.4,304.5 1071.1,308.5 1065.8,312.4 1060.5,316.3 1055.2,320 1049.9,323.6 1044.6,326.9 1039.2,329.9 1033.9,332.5 1028.6,334.7 1023.3,336.6 1018,338.3 1012.7,339.8 1007.3,341.2 1002,342.6 996.7,343.9 991.4,345.2 986.1,346.5 980.8,347.6 975.4,348.6 970.1,349.5 964.8,350.3 959.5,350.9 954.2,351.4 948.9,351.7 943.6,352 938.2,352.1 932.9,352 927.6,351.9 922.3,351.7 917,351.4 911.7,351.1 906.3,350.7 901,350.2 895.7,349.5 890.4,348.6 885.1,347.6 879.8,346.3 874.5,344.8 869.1,343.1 863.8,341.1" fill="#949494" fill-opacity="0.38"/>
<polyline points="863.8,337.1 869.1,339.2 874.5,341 879.8,342.6 885.1,344 890.4,345.1 895.7,346.1 901,346.9 906.3,347.5 911.7,348 917,348.4 922.3,348.7 927.6,348.9 932.9,349 938.2,349 943.6,348.9 948.9,348.7 954.2,348.4 959.5,347.9 964.8,347.3 970.1,346.5 975.4,345.6 980.8,344.6 986.1,343.5 991.4,342.2 996.7,340.9 1002,339.6 1007.3,338.2 1012.7,336.8 1018,335.3 1023.3,333.6 1028.6,331.7 1033.9,329.5 1039.2,326.9 1044.6,323.9 1049.9,320.6 1055.2,317 1060.5,313.3 1065.8,309.4 1071.1,305.4 1076.4,301.5 1081.8,297.5 1087.1,293.7 1092.4,290 1097.7,286.5 1103,283.2 1108.3,280.1 1113.7,277 1119,274.1 1124.3,271.3 1129.6,268.5 1134.9,265.9 1140.2,263.3 1145.5,260.9 1150.9,258.5 1156.2,256.2 1161.5,254.1 1166.8,251.9 1172.1,249.8 1177.4,247.7 1182.8,245.7 1188.1,243.6 1193.4,241.5 1198.7,239.4 1204,237.4 1209.3,235.4 1214.6,233.6 1220,231.8 1225.3,230.1 1230.6,228.5 1235.9,227 1241.2,225.7 1246.5,224.4 1251.9,223.2 1257.2,222.2 1262.5,221.2 1267.8,220.4 1273.1,219.7 1278.4,219 1283.8,218.5 1289.1,218.1 1294.4,217.7 1299.7,217.4 1305,217.1 1310.3,217 1315.6,216.8 1321,216.7 1326.3,216.7 1331.6,216.7 1336.9,216.8 1342.2,216.9 1347.5,217 1352.9,217.2 1358.2,217.5 1363.5,217.8 1368.8,218.2 1374.1,218.6 1379.4,219.1 1384.7,219.6 1390.1,220.2 1395.4,220.8 1400.7,221.5 1406,222.2 1411.3,223 1416.6,223.8 1422,224.7 1427.3,225.6 1432.6,226.6 1437.9,227.6 1443.2,228.7 1448.5,229.8 1453.8,231 1459.2,232.2 1464.5,233.5 1469.8,234.9 1475.1,236.4 1480.4,237.9 1485.7,239.4 1491.1,241.1 1496.4,242.8" fill="none" stroke="#ea1418" stroke-width="3.3" stroke-linejoin="round" stroke-linecap="butt"/>
<g font-size="14.1" fill="#343434"><g text-anchor="end"><text x="824.5" y="411.8">−0.1</text><text x="824.5" y="314">0.0</text><text x="824.5" y="216.2">0.1</text><text x="824.5" y="118.4">0.2</text><text x="824.5" y="20.6">0.3</text></g><g text-anchor="middle"><text x="921" y="476.3">5</text><text x="1064.8" y="476.3">10</text><text x="1208.7" y="476.3">15</text><text x="1352.6" y="476.3">20</text><text x="1496.4" y="476.3">25</text></g></g>
<g font-size="18.8" fill="#000" text-anchor="middle"><text x="1179.5" y="497.7">Maximum_Stone_Diameter</text><text transform="translate(785.7 233) rotate(-90)" y="6.7">SHAP</text></g>
<text x="774.7" y="22.1" font-size="22.3" font-weight="normal" fill="#000" stroke="#000" stroke-width="1.0" stroke-linejoin="round">B</text>
<g fill="none"><path stroke="#e7e7e7" stroke-width="1.8" d="M66.5 954.1H763.5M66.5 840H763.5M66.5 725.9H763.5M66.5 611.7H763.5"/><path stroke="#e7e7e7" stroke-width="1.8" d="M198.6 565.2V1015.2M364.8 565.2V1015.2M531.1 565.2V1015.2M697.3 565.2V1015.2"/></g>
<path d="M66.5 840H763.5" stroke="#525252" stroke-opacity="1" stroke-width="2.3" stroke-dasharray="9.42 9.42" fill="none"/>
<g fill="#3182bd" fill-opacity="0.64"><circle cx="98.9" cy="878.4" r="4.35"/><circle cx="98.9" cy="889.8" r="4.35"/><circle cx="98.9" cy="850.8" r="4.35"/><circle cx="98.9" cy="860.7" r="4.35"/><circle cx="98.9" cy="839.3" r="4.35"/><circle cx="98.9" cy="855.7" r="4.35"/><circle cx="98.9" cy="854.4" r="4.35"/><circle cx="98.9" cy="852.4" r="4.35"/><circle cx="98.9" cy="882.7" r="4.35"/><circle cx="98.9" cy="854.1" r="4.35"/><circle cx="98.9" cy="842.2" r="4.35"/><circle cx="98.9" cy="862.1" r="4.35"/><circle cx="98.9" cy="856.7" r="4.35"/><circle cx="98.9" cy="886.9" r="4.35"/><circle cx="98.9" cy="913.3" r="4.35"/><circle cx="98.9" cy="877.2" r="4.35"/><circle cx="98.9" cy="869.3" r="4.35"/><circle cx="98.9" cy="863.1" r="4.35"/><circle cx="98.9" cy="869.9" r="4.35"/><circle cx="98.9" cy="848.9" r="4.35"/><circle cx="98.9" cy="886.7" r="4.35"/><circle cx="98.9" cy="889.7" r="4.35"/><circle cx="98.9" cy="843.7" r="4.35"/><circle cx="98.9" cy="847.3" r="4.35"/><circle cx="98.9" cy="844.6" r="4.35"/><circle cx="98.9" cy="842.7" r="4.35"/><circle cx="98.9" cy="843.8" r="4.35"/><circle cx="98.9" cy="893.2" r="4.35"/><circle cx="98.9" cy="871.5" r="4.35"/><circle cx="98.9" cy="879.4" r="4.35"/><circle cx="98.9" cy="844" r="4.35"/><circle cx="98.9" cy="873.6" r="4.35"/><circle cx="98.9" cy="858.4" r="4.35"/><circle cx="98.9" cy="838.5" r="4.35"/><circle cx="98.9" cy="840.7" r="4.35"/><circle cx="98.9" cy="873.5" r="4.35"/><circle cx="98.9" cy="858.5" r="4.35"/><circle cx="98.9" cy="839.4" r="4.35"/><circle cx="98.9" cy="901.3" r="4.35"/><circle cx="98.9" cy="840.8" r="4.35"/><circle cx="98.9" cy="871.4" r="4.35"/><circle cx="98.9" cy="841.6" r="4.35"/><circle cx="98.9" cy="906.8" r="4.35"/><circle cx="98.9" cy="845.2" r="4.35"/><circle cx="98.9" cy="892.3" r="4.35"/><circle cx="98.9" cy="851.5" r="4.35"/><circle cx="98.9" cy="841.6" r="4.35"/><circle cx="98.9" cy="851.5" r="4.35"/><circle cx="98.9" cy="857.2" r="4.35"/><circle cx="98.9" cy="852.8" r="4.35"/><circle cx="98.9" cy="841.6" r="4.35"/><circle cx="98.9" cy="868" r="4.35"/><circle cx="98.9" cy="859.9" r="4.35"/><circle cx="98.9" cy="879.6" r="4.35"/><circle cx="98.9" cy="851.4" r="4.35"/><circle cx="98.9" cy="842.5" r="4.35"/><circle cx="98.9" cy="888.8" r="4.35"/><circle cx="98.9" cy="854.6" r="4.35"/><circle cx="98.9" cy="868.2" r="4.35"/><circle cx="98.9" cy="861" r="4.35"/><circle cx="98.9" cy="853.4" r="4.35"/><circle cx="98.9" cy="849.9" r="4.35"/><circle cx="98.9" cy="852" r="4.35"/><circle cx="98.9" cy="916.3" r="4.35"/><circle cx="98.9" cy="842.2" r="4.35"/><circle cx="98.9" cy="843.3" r="4.35"/><circle cx="98.9" cy="861" r="4.35"/><circle cx="98.9" cy="868.1" r="4.35"/><circle cx="98.9" cy="848.2" r="4.35"/><circle cx="98.9" cy="889.6" r="4.35"/><circle cx="98.9" cy="852.2" r="4.35"/><circle cx="98.9" cy="841.3" r="4.35"/><circle cx="98.9" cy="842.1" r="4.35"/><circle cx="98.9" cy="884.6" r="4.35"/><circle cx="98.9" cy="847.5" r="4.35"/><circle cx="98.9" cy="866.9" r="4.35"/><circle cx="98.9" cy="858.8" r="4.35"/><circle cx="98.9" cy="875.6" r="4.35"/><circle cx="98.9" cy="863.7" r="4.35"/><circle cx="98.9" cy="863.6" r="4.35"/><circle cx="98.9" cy="860.7" r="4.35"/><circle cx="98.9" cy="917.6" r="4.35"/><circle cx="98.9" cy="861.7" r="4.35"/><circle cx="98.9" cy="840" r="4.35"/><circle cx="98.9" cy="838.5" r="4.35"/><circle cx="98.9" cy="881.4" r="4.35"/><circle cx="98.9" cy="916" r="4.35"/><circle cx="98.9" cy="918.7" r="4.35"/><circle cx="98.9" cy="860.1" r="4.35"/><circle cx="98.9" cy="867.4" r="4.35"/><circle cx="98.9" cy="890.1" r="4.35"/><circle cx="98.9" cy="854" r="4.35"/><circle cx="98.9" cy="862.4" r="4.35"/><circle cx="98.9" cy="879.2" r="4.35"/><circle cx="98.9" cy="858.9" r="4.35"/><circle cx="98.9" cy="871.1" r="4.35"/><circle cx="98.9" cy="915.4" r="4.35"/><circle cx="98.9" cy="935.9" r="4.35"/><circle cx="98.9" cy="946.2" r="4.35"/><circle cx="98.9" cy="950.7" r="4.35"/><circle cx="98.9" cy="957.6" r="4.35"/><circle cx="98.9" cy="983.8" r="4.35"/><circle cx="132.1" cy="861.4" r="4.35"/><circle cx="132.1" cy="848.9" r="4.35"/><circle cx="132.1" cy="884.8" r="4.35"/><circle cx="132.1" cy="880.6" r="4.35"/><circle cx="132.1" cy="843.8" r="4.35"/><circle cx="132.1" cy="903.2" r="4.35"/><circle cx="132.1" cy="861" r="4.35"/><circle cx="132.1" cy="880.2" r="4.35"/><circle cx="132.1" cy="839.3" r="4.35"/><circle cx="132.1" cy="840.2" r="4.35"/><circle cx="132.1" cy="855.7" r="4.35"/><circle cx="132.1" cy="840.5" r="4.35"/><circle cx="132.1" cy="841.2" r="4.35"/><circle cx="132.1" cy="885.4" r="4.35"/><circle cx="132.1" cy="880.9" r="4.35"/><circle cx="132.1" cy="839.6" r="4.35"/><circle cx="132.1" cy="870.2" r="4.35"/><circle cx="132.1" cy="841.2" r="4.35"/><circle cx="132.1" cy="863.8" r="4.35"/><circle cx="132.1" cy="844.8" r="4.35"/><circle cx="132.1" cy="892.1" r="4.35"/><circle cx="132.1" cy="870" r="4.35"/><circle cx="132.1" cy="854.2" r="4.35"/><circle cx="132.1" cy="859.9" r="4.35"/><circle cx="132.1" cy="840.9" r="4.35"/><circle cx="132.1" cy="904.1" r="4.35"/><circle cx="132.1" cy="845.8" r="4.35"/><circle cx="132.1" cy="849.9" r="4.35"/><circle cx="132.1" cy="844.3" r="4.35"/><circle cx="132.1" cy="872.4" r="4.35"/><circle cx="132.1" cy="892.4" r="4.35"/><circle cx="132.1" cy="894.9" r="4.35"/><circle cx="132.1" cy="863.8" r="4.35"/><circle cx="132.1" cy="867" r="4.35"/><circle cx="132.1" cy="878.7" r="4.35"/><circle cx="132.1" cy="876.5" r="4.35"/><circle cx="132.1" cy="887.4" r="4.35"/><circle cx="132.1" cy="873" r="4.35"/><circle cx="132.1" cy="884.9" r="4.35"/><circle cx="132.1" cy="892.5" r="4.35"/><circle cx="132.1" cy="856.9" r="4.35"/><circle cx="132.1" cy="864.1" r="4.35"/><circle cx="132.1" cy="842.5" r="4.35"/><circle cx="132.1" cy="848.4" r="4.35"/><circle cx="132.1" cy="844.5" r="4.35"/><circle cx="132.1" cy="849.8" r="4.35"/><circle cx="132.1" cy="860.5" r="4.35"/><circle cx="132.1" cy="911.4" r="4.35"/><circle cx="132.1" cy="865.1" r="4.35"/><circle cx="132.1" cy="854.2" r="4.35"/><circle cx="132.1" cy="851.8" r="4.35"/><circle cx="132.1" cy="850.9" r="4.35"/><circle cx="132.1" cy="851" r="4.35"/><circle cx="132.1" cy="852.7" r="4.35"/><circle cx="132.1" cy="849.9" r="4.35"/><circle cx="132.1" cy="871.1" r="4.35"/><circle cx="132.1" cy="882.6" r="4.35"/><circle cx="132.1" cy="855.7" r="4.35"/><circle cx="132.1" cy="883.1" r="4.35"/><circle cx="132.1" cy="866" r="4.35"/><circle cx="132.1" cy="844.5" r="4.35"/><circle cx="132.1" cy="898.9" r="4.35"/><circle cx="132.1" cy="917.7" r="4.35"/><circle cx="132.1" cy="847" r="4.35"/><circle cx="132.1" cy="850.8" r="4.35"/><circle cx="132.1" cy="868" r="4.35"/><circle cx="132.1" cy="863.1" r="4.35"/><circle cx="132.1" cy="848" r="4.35"/><circle cx="132.1" cy="842.4" r="4.35"/><circle cx="132.1" cy="855" r="4.35"/><circle cx="132.1" cy="878.4" r="4.35"/><circle cx="132.1" cy="847.6" r="4.35"/><circle cx="132.1" cy="845.4" r="4.35"/><circle cx="132.1" cy="838" r="4.35"/><circle cx="132.1" cy="847.6" r="4.35"/><circle cx="132.1" cy="895.9" r="4.35"/><circle cx="132.1" cy="867.2" r="4.35"/><circle cx="132.1" cy="862" r="4.35"/><circle cx="132.1" cy="849.4" r="4.35"/><circle cx="132.1" cy="865.9" r="4.35"/><circle cx="132.1" cy="878" r="4.35"/><circle cx="132.1" cy="871.2" r="4.35"/><circle cx="132.1" cy="866.8" r="4.35"/><circle cx="132.1" cy="851.8" r="4.35"/><circle cx="132.1" cy="854.1" r="4.35"/><circle cx="132.1" cy="845.4" r="4.35"/><circle cx="132.1" cy="890.5" r="4.35"/><circle cx="132.1" cy="875.2" r="4.35"/><circle cx="132.1" cy="889" r="4.35"/><circle cx="132.1" cy="844.5" r="4.35"/><circle cx="132.1" cy="898.7" r="4.35"/><circle cx="132.1" cy="856.4" r="4.35"/><circle cx="132.1" cy="924.1" r="4.35"/><circle cx="132.1" cy="894" r="4.35"/><circle cx="132.1" cy="849.5" r="4.35"/><circle cx="132.1" cy="864.8" r="4.35"/><circle cx="132.1" cy="860.3" r="4.35"/><circle cx="132.1" cy="890.5" r="4.35"/><circle cx="132.1" cy="875.2" r="4.35"/><circle cx="132.1" cy="868.2" r="4.35"/><circle cx="132.1" cy="975.8" r="4.35"/><circle cx="165.4" cy="874.3" r="4.35"/><circle cx="165.4" cy="849.2" r="4.35"/><circle cx="165.4" cy="864.6" r="4.35"/><circle cx="165.4" cy="841.8" r="4.35"/><circle cx="165.4" cy="848.4" r="4.35"/><circle cx="165.4" cy="854.1" r="4.35"/><circle cx="165.4" cy="881.9" r="4.35"/><circle cx="165.4" cy="849" r="4.35"/><circle cx="165.4" cy="875.9" r="4.35"/><circle cx="165.4" cy="891.2" r="4.35"/><circle cx="165.4" cy="884.3" r="4.35"/><circle cx="165.4" cy="921.3" r="4.35"/><circle cx="165.4" cy="844.9" r="4.35"/><circle cx="165.4" cy="847.6" r="4.35"/><circle cx="165.4" cy="894" r="4.35"/><circle cx="165.4" cy="844.9" r="4.35"/><circle cx="165.4" cy="867.6" r="4.35"/><circle cx="165.4" cy="851.8" r="4.35"/><circle cx="165.4" cy="857.3" r="4.35"/><circle cx="165.4" cy="886" r="4.35"/><circle cx="165.4" cy="847.5" r="4.35"/><circle cx="165.4" cy="846.5" r="4.35"/><circle cx="165.4" cy="902.2" r="4.35"/><circle cx="165.4" cy="857" r="4.35"/><circle cx="165.4" cy="849.9" r="4.35"/><circle cx="165.4" cy="858.9" r="4.35"/><circle cx="165.4" cy="856.1" r="4.35"/><circle cx="165.4" cy="863.9" r="4.35"/><circle cx="165.4" cy="938.3" r="4.35"/><circle cx="165.4" cy="880.7" r="4.35"/><circle cx="165.4" cy="846" r="4.35"/><circle cx="165.4" cy="882.4" r="4.35"/><circle cx="165.4" cy="863.9" r="4.35"/><circle cx="165.4" cy="845.8" r="4.35"/><circle cx="165.4" cy="845.1" r="4.35"/><circle cx="165.4" cy="854.9" r="4.35"/><circle cx="165.4" cy="842.8" r="4.35"/><circle cx="165.4" cy="871.1" r="4.35"/><circle cx="165.4" cy="851.2" r="4.35"/><circle cx="165.4" cy="849.9" r="4.35"/><circle cx="165.4" cy="850.1" r="4.35"/><circle cx="165.4" cy="850.8" r="4.35"/><circle cx="165.4" cy="910.1" r="4.35"/><circle cx="165.4" cy="864.4" r="4.35"/><circle cx="165.4" cy="841.6" r="4.35"/><circle cx="165.4" cy="846.5" r="4.35"/><circle cx="165.4" cy="858.1" r="4.35"/><circle cx="165.4" cy="869.5" r="4.35"/><circle cx="165.4" cy="855.3" r="4.35"/><circle cx="165.4" cy="850.8" r="4.35"/><circle cx="165.4" cy="843.4" r="4.35"/><circle cx="165.4" cy="859.4" r="4.35"/><circle cx="165.4" cy="844.5" r="4.35"/><circle cx="165.4" cy="882" r="4.35"/><circle cx="165.4" cy="909.3" r="4.35"/><circle cx="165.4" cy="877.9" r="4.35"/><circle cx="165.4" cy="900.8" r="4.35"/><circle cx="165.4" cy="856.4" r="4.35"/><circle cx="165.4" cy="883.6" r="4.35"/><circle cx="165.4" cy="868.6" r="4.35"/><circle cx="165.4" cy="842.7" r="4.35"/><circle cx="165.4" cy="845.5" r="4.35"/><circle cx="165.4" cy="880.9" r="4.35"/><circle cx="165.4" cy="868.4" r="4.35"/><circle cx="165.4" cy="892.6" r="4.35"/><circle cx="165.4" cy="843.1" r="4.35"/><circle cx="165.4" cy="894.4" r="4.35"/><circle cx="165.4" cy="844.5" r="4.35"/><circle cx="165.4" cy="842.7" r="4.35"/><circle cx="165.4" cy="895.7" r="4.35"/><circle cx="165.4" cy="858.6" r="4.35"/><circle cx="165.4" cy="848.8" r="4.35"/><circle cx="165.4" cy="878.9" r="4.35"/><circle cx="165.4" cy="867.1" r="4.35"/><circle cx="165.4" cy="845.3" r="4.35"/><circle cx="165.4" cy="849.7" r="4.35"/><circle cx="165.4" cy="866" r="4.35"/><circle cx="165.4" cy="852.5" r="4.35"/><circle cx="165.4" cy="889.8" r="4.35"/><circle cx="165.4" cy="896" r="4.35"/><circle cx="165.4" cy="841.1" r="4.35"/><circle cx="165.4" cy="879.4" r="4.35"/><circle cx="165.4" cy="924.2" r="4.35"/><circle cx="165.4" cy="853.1" r="4.35"/><circle cx="165.4" cy="873.2" r="4.35"/><circle cx="165.4" cy="886.2" r="4.35"/><circle cx="165.4" cy="873.3" r="4.35"/><circle cx="165.4" cy="860.9" r="4.35"/><circle cx="165.4" cy="858" r="4.35"/><circle cx="165.4" cy="841.4" r="4.35"/><circle cx="165.4" cy="848.3" r="4.35"/><circle cx="165.4" cy="872" r="4.35"/><circle cx="165.4" cy="919.4" r="4.35"/><circle cx="165.4" cy="881.7" r="4.35"/><circle cx="165.4" cy="905.5" r="4.35"/><circle cx="165.4" cy="939.6" r="4.35"/><circle cx="165.4" cy="900.3" r="4.35"/><circle cx="165.4" cy="842" r="4.35"/><circle cx="165.4" cy="876.2" r="4.35"/><circle cx="165.4" cy="880.6" r="4.35"/><circle cx="165.4" cy="884.2" r="4.35"/><circle cx="165.4" cy="852.5" r="4.35"/><circle cx="165.4" cy="994.1" r="4.35"/><circle cx="198.6" cy="847.9" r="4.35"/><circle cx="198.6" cy="862.5" r="4.35"/><circle cx="198.6" cy="869.8" r="4.35"/><circle cx="198.6" cy="913.4" r="4.35"/><circle cx="198.6" cy="846.9" r="4.35"/><circle cx="198.6" cy="863.3" r="4.35"/><circle cx="198.6" cy="888.6" r="4.35"/><circle cx="198.6" cy="877.2" r="4.35"/><circle cx="198.6" cy="851.4" r="4.35"/><circle cx="198.6" cy="852.4" r="4.35"/><circle cx="198.6" cy="867.7" r="4.35"/><circle cx="198.6" cy="856" r="4.35"/><circle cx="198.6" cy="847.5" r="4.35"/><circle cx="198.6" cy="846.8" r="4.35"/><circle cx="198.6" cy="844.9" r="4.35"/><circle cx="198.6" cy="888" r="4.35"/><circle cx="198.6" cy="849.2" r="4.35"/><circle cx="198.6" cy="925" r="4.35"/><circle cx="198.6" cy="877.2" r="4.35"/><circle cx="198.6" cy="927.7" r="4.35"/><circle cx="198.6" cy="839.8" r="4.35"/><circle cx="198.6" cy="844.2" r="4.35"/><circle cx="198.6" cy="855.8" r="4.35"/><circle cx="198.6" cy="842.8" r="4.35"/><circle cx="198.6" cy="881.2" r="4.35"/><circle cx="198.6" cy="926.4" r="4.35"/><circle cx="198.6" cy="845.7" r="4.35"/><circle cx="198.6" cy="842.6" r="4.35"/><circle cx="198.6" cy="841.9" r="4.35"/><circle cx="198.6" cy="864.2" r="4.35"/><circle cx="198.6" cy="844.1" r="4.35"/><circle cx="198.6" cy="852.9" r="4.35"/><circle cx="198.6" cy="859.2" r="4.35"/><circle cx="198.6" cy="879.1" r="4.35"/><circle cx="198.6" cy="854.7" r="4.35"/><circle cx="198.6" cy="841.4" r="4.35"/><circle cx="198.6" cy="839" r="4.35"/><circle cx="198.6" cy="882.7" r="4.35"/><circle cx="198.6" cy="854.5" r="4.35"/><circle cx="198.6" cy="863" r="4.35"/><circle cx="198.6" cy="878.3" r="4.35"/><circle cx="198.6" cy="892.5" r="4.35"/><circle cx="198.6" cy="859.5" r="4.35"/><circle cx="198.6" cy="851" r="4.35"/><circle cx="198.6" cy="837.9" r="4.35"/><circle cx="198.6" cy="879.4" r="4.35"/><circle cx="198.6" cy="911.1" r="4.35"/><circle cx="198.6" cy="845.5" r="4.35"/><circle cx="198.6" cy="863.7" r="4.35"/><circle cx="198.6" cy="891.6" r="4.35"/><circle cx="198.6" cy="847.1" r="4.35"/><circle cx="198.6" cy="896.2" r="4.35"/><circle cx="198.6" cy="853.4" r="4.35"/><circle cx="198.6" cy="858.9" r="4.35"/><circle cx="198.6" cy="912.2" r="4.35"/><circle cx="198.6" cy="893.6" r="4.35"/><circle cx="198.6" cy="865.4" r="4.35"/><circle cx="198.6" cy="916.5" r="4.35"/><circle cx="198.6" cy="898.1" r="4.35"/><circle cx="198.6" cy="860.2" r="4.35"/><circle cx="198.6" cy="857.9" r="4.35"/><circle cx="198.6" cy="875.6" r="4.35"/><circle cx="198.6" cy="849.8" r="4.35"/><circle cx="198.6" cy="866" r="4.35"/><circle cx="198.6" cy="865.3" r="4.35"/><circle cx="198.6" cy="857.2" r="4.35"/><circle cx="198.6" cy="911.2" r="4.35"/><circle cx="198.6" cy="838.5" r="4.35"/><circle cx="198.6" cy="901.9" r="4.35"/><circle cx="198.6" cy="887.5" r="4.35"/><circle cx="198.6" cy="846.3" r="4.35"/><circle cx="198.6" cy="863.7" r="4.35"/><circle cx="198.6" cy="842.5" r="4.35"/><circle cx="198.6" cy="852.9" r="4.35"/><circle cx="198.6" cy="939.5" r="4.35"/><circle cx="198.6" cy="861.1" r="4.35"/><circle cx="198.6" cy="885.2" r="4.35"/><circle cx="198.6" cy="870.1" r="4.35"/><circle cx="198.6" cy="848.3" r="4.35"/><circle cx="198.6" cy="853.9" r="4.35"/><circle cx="198.6" cy="930.8" r="4.35"/><circle cx="198.6" cy="855.3" r="4.35"/><circle cx="198.6" cy="867.6" r="4.35"/><circle cx="198.6" cy="861.2" r="4.35"/><circle cx="198.6" cy="855.4" r="4.35"/><circle cx="198.6" cy="842.7" r="4.35"/><circle cx="198.6" cy="839.6" r="4.35"/><circle cx="198.6" cy="850" r="4.35"/><circle cx="198.6" cy="876.7" r="4.35"/><circle cx="198.6" cy="844.6" r="4.35"/><circle cx="198.6" cy="872.7" r="4.35"/><circle cx="198.6" cy="864.2" r="4.35"/><circle cx="198.6" cy="874.1" r="4.35"/><circle cx="198.6" cy="886.6" r="4.35"/><circle cx="198.6" cy="912" r="4.35"/><circle cx="198.6" cy="925.5" r="4.35"/><circle cx="198.6" cy="858" r="4.35"/><circle cx="198.6" cy="867.2" r="4.35"/><circle cx="198.6" cy="876.7" r="4.35"/><circle cx="198.6" cy="847.6" r="4.35"/><circle cx="198.6" cy="862.1" r="4.35"/><circle cx="198.6" cy="849.4" r="4.35"/><circle cx="198.6" cy="950.7" r="4.35"/><circle cx="231.8" cy="876.8" r="4.35"/><circle cx="231.8" cy="914.6" r="4.35"/><circle cx="231.8" cy="864.3" r="4.35"/><circle cx="231.8" cy="900.6" r="4.35"/><circle cx="231.8" cy="863.2" r="4.35"/><circle cx="231.8" cy="856.9" r="4.35"/><circle cx="231.8" cy="889.4" r="4.35"/><circle cx="231.8" cy="853.1" r="4.35"/><circle cx="231.8" cy="885" r="4.35"/><circle cx="231.8" cy="855" r="4.35"/><circle cx="231.8" cy="891.6" r="4.35"/><circle cx="231.8" cy="865.5" r="4.35"/><circle cx="231.8" cy="840.6" r="4.35"/><circle cx="231.8" cy="850.6" r="4.35"/><circle cx="231.8" cy="865.6" r="4.35"/><circle cx="231.8" cy="864.8" r="4.35"/><circle cx="231.8" cy="847.9" r="4.35"/><circle cx="231.8" cy="844.5" r="4.35"/><circle cx="231.8" cy="848.4" r="4.35"/><circle cx="231.8" cy="882.6" r="4.35"/><circle cx="231.8" cy="841.7" r="4.35"/><circle cx="231.8" cy="864" r="4.35"/><circle cx="231.8" cy="881.4" r="4.35"/><circle cx="231.8" cy="903.7" r="4.35"/><circle cx="231.8" cy="860.7" r="4.35"/><circle cx="231.8" cy="845.5" r="4.35"/><circle cx="231.8" cy="850.6" r="4.35"/><circle cx="231.8" cy="910" r="4.35"/><circle cx="231.8" cy="843.7" r="4.35"/><circle cx="231.8" cy="844.5" r="4.35"/><circle cx="231.8" cy="851.8" r="4.35"/><circle cx="231.8" cy="873" r="4.35"/><circle cx="231.8" cy="868.8" r="4.35"/><circle cx="231.8" cy="879.9" r="4.35"/><circle cx="231.8" cy="867.7" r="4.35"/><circle cx="231.8" cy="855.3" r="4.35"/><circle cx="231.8" cy="892.9" r="4.35"/><circle cx="231.8" cy="843.9" r="4.35"/><circle cx="231.8" cy="855.9" r="4.35"/><circle cx="231.8" cy="839.5" r="4.35"/><circle cx="231.8" cy="863.1" r="4.35"/><circle cx="231.8" cy="839.3" r="4.35"/><circle cx="231.8" cy="852.4" r="4.35"/><circle cx="231.8" cy="866.6" r="4.35"/><circle cx="231.8" cy="855.8" r="4.35"/><circle cx="231.8" cy="887.6" r="4.35"/><circle cx="231.8" cy="869.6" r="4.35"/><circle cx="231.8" cy="840.7" r="4.35"/><circle cx="231.8" cy="866.8" r="4.35"/><circle cx="231.8" cy="857.3" r="4.35"/><circle cx="231.8" cy="846.9" r="4.35"/><circle cx="231.8" cy="899.2" r="4.35"/><circle cx="231.8" cy="853.8" r="4.35"/><circle cx="231.8" cy="840.3" r="4.35"/><circle cx="231.8" cy="856" r="4.35"/><circle cx="231.8" cy="854.6" r="4.35"/><circle cx="231.8" cy="852" r="4.35"/><circle cx="231.8" cy="852" r="4.35"/><circle cx="231.8" cy="865.2" r="4.35"/><circle cx="231.8" cy="858.1" r="4.35"/><circle cx="231.8" cy="869.6" r="4.35"/><circle cx="231.8" cy="865.9" r="4.35"/><circle cx="231.8" cy="917.7" r="4.35"/><circle cx="231.8" cy="858.1" r="4.35"/><circle cx="231.8" cy="894.5" r="4.35"/><circle cx="231.8" cy="855.2" r="4.35"/><circle cx="231.8" cy="849.8" r="4.35"/><circle cx="231.8" cy="884.2" r="4.35"/><circle cx="231.8" cy="876.5" r="4.35"/><circle cx="231.8" cy="888.1" r="4.35"/><circle cx="231.8" cy="904.4" r="4.35"/><circle cx="231.8" cy="870.1" r="4.35"/><circle cx="231.8" cy="851.7" r="4.35"/><circle cx="231.8" cy="857.1" r="4.35"/><circle cx="231.8" cy="875.9" r="4.35"/><circle cx="231.8" cy="856.3" r="4.35"/><circle cx="231.8" cy="861.5" r="4.35"/><circle cx="231.8" cy="856.7" r="4.35"/><circle cx="231.8" cy="854.8" r="4.35"/><circle cx="231.8" cy="846.3" r="4.35"/><circle cx="231.8" cy="858.6" r="4.35"/><circle cx="231.8" cy="851.6" r="4.35"/><circle cx="231.8" cy="858.8" r="4.35"/><circle cx="231.8" cy="854.8" r="4.35"/><circle cx="231.8" cy="843.2" r="4.35"/><circle cx="231.8" cy="844.7" r="4.35"/><circle cx="231.8" cy="857" r="4.35"/><circle cx="231.8" cy="852.6" r="4.35"/><circle cx="231.8" cy="925.6" r="4.35"/><circle cx="231.8" cy="892.7" r="4.35"/><circle cx="231.8" cy="841" r="4.35"/><circle cx="231.8" cy="924.2" r="4.35"/><circle cx="231.8" cy="862.2" r="4.35"/><circle cx="231.8" cy="887.3" r="4.35"/><circle cx="231.8" cy="898.2" r="4.35"/><circle cx="231.8" cy="843.1" r="4.35"/><circle cx="231.8" cy="849.8" r="4.35"/><circle cx="231.8" cy="873.2" r="4.35"/><circle cx="231.8" cy="863.2" r="4.35"/><circle cx="231.8" cy="889.1" r="4.35"/><circle cx="231.8" cy="825.2" r="4.35"/><circle cx="231.8" cy="830.9" r="4.35"/><circle cx="231.8" cy="835.4" r="4.35"/><circle cx="231.8" cy="937" r="4.35"/><circle cx="231.8" cy="942.7" r="4.35"/><circle cx="231.8" cy="967.8" r="4.35"/><circle cx="265.1" cy="740.7" r="4.35"/><circle cx="298.3" cy="748.7" r="4.35"/><circle cx="331.6" cy="671.1" r="4.35"/><circle cx="364.8" cy="607.1" r="4.35"/><circle cx="364.8" cy="615.1" r="4.35"/><circle cx="364.8" cy="699.6" r="4.35"/><circle cx="364.8" cy="699.6" r="4.35"/><circle cx="364.8" cy="715.6" r="4.35"/><circle cx="364.8" cy="723.6" r="4.35"/><circle cx="364.8" cy="725.9" r="4.35"/><circle cx="364.8" cy="743" r="4.35"/><circle cx="364.8" cy="746.4" r="4.35"/><circle cx="364.8" cy="753.2" r="4.35"/><circle cx="364.8" cy="761.2" r="4.35"/><circle cx="364.8" cy="779.5" r="4.35"/><circle cx="364.8" cy="788.6" r="4.35"/><circle cx="364.8" cy="790.9" r="4.35"/><circle cx="364.8" cy="794.3" r="4.35"/><circle cx="364.8" cy="814.9" r="4.35"/><circle cx="364.8" cy="819.5" r="4.35"/><circle cx="364.8" cy="826.3" r="4.35"/><circle cx="364.8" cy="828.6" r="4.35"/><circle cx="364.8" cy="836.6" r="4.35"/><circle cx="364.8" cy="843.4" r="4.35"/><circle cx="398.1" cy="687" r="4.35"/><circle cx="398.1" cy="689.3" r="4.35"/><circle cx="398.1" cy="700.7" r="4.35"/><circle cx="398.1" cy="701.9" r="4.35"/><circle cx="398.1" cy="733.8" r="4.35"/><circle cx="398.1" cy="736.1" r="4.35"/><circle cx="398.1" cy="766.9" r="4.35"/><circle cx="398.1" cy="773.8" r="4.35"/><circle cx="398.1" cy="777.2" r="4.35"/><circle cx="398.1" cy="780.6" r="4.35"/><circle cx="398.1" cy="785.2" r="4.35"/><circle cx="398.1" cy="808" r="4.35"/><circle cx="398.1" cy="814.9" r="4.35"/><circle cx="398.1" cy="817.2" r="4.35"/><circle cx="398.1" cy="824" r="4.35"/><circle cx="398.1" cy="830.9" r="4.35"/><circle cx="398.1" cy="833.2" r="4.35"/><circle cx="398.1" cy="836.6" r="4.35"/><circle cx="398.1" cy="854.8" r="4.35"/><circle cx="431.3" cy="634.5" r="4.35"/><circle cx="431.3" cy="693.9" r="4.35"/><circle cx="431.3" cy="704.2" r="4.35"/><circle cx="431.3" cy="706.4" r="4.35"/><circle cx="431.3" cy="713.3" r="4.35"/><circle cx="431.3" cy="721.3" r="4.35"/><circle cx="431.3" cy="725.9" r="4.35"/><circle cx="431.3" cy="728.1" r="4.35"/><circle cx="431.3" cy="744.1" r="4.35"/><circle cx="431.3" cy="771.5" r="4.35"/><circle cx="431.3" cy="774.9" r="4.35"/><circle cx="431.3" cy="780.6" r="4.35"/><circle cx="431.3" cy="803.5" r="4.35"/><circle cx="431.3" cy="808" r="4.35"/><circle cx="431.3" cy="813.7" r="4.35"/><circle cx="431.3" cy="826.3" r="4.35"/><circle cx="431.3" cy="830.9" r="4.35"/><circle cx="431.3" cy="835.4" r="4.35"/><circle cx="431.3" cy="840" r="4.35"/><circle cx="431.3" cy="844.6" r="4.35"/><circle cx="464.6" cy="604.9" r="4.35"/><circle cx="464.6" cy="707.6" r="4.35"/><circle cx="464.6" cy="715.6" r="4.35"/><circle cx="464.6" cy="743" r="4.35"/><circle cx="464.6" cy="751" r="4.35"/><circle cx="464.6" cy="778.4" r="4.35"/><circle cx="464.6" cy="786.3" r="4.35"/><circle cx="464.6" cy="787.5" r="4.35"/><circle cx="464.6" cy="794.3" r="4.35"/><circle cx="464.6" cy="803.5" r="4.35"/><circle cx="464.6" cy="810.3" r="4.35"/><circle cx="464.6" cy="814.9" r="4.35"/><circle cx="464.6" cy="820.6" r="4.35"/><circle cx="464.6" cy="824" r="4.35"/><circle cx="464.6" cy="826.3" r="4.35"/><circle cx="464.6" cy="830.9" r="4.35"/><circle cx="464.6" cy="835.4" r="4.35"/><circle cx="464.6" cy="851.4" r="4.35"/><circle cx="497.8" cy="585.4" r="4.35"/><circle cx="497.8" cy="635.7" r="4.35"/><circle cx="497.8" cy="659.6" r="4.35"/><circle cx="497.8" cy="679" r="4.35"/><circle cx="497.8" cy="682.5" r="4.35"/><circle cx="497.8" cy="691.6" r="4.35"/><circle cx="497.8" cy="695" r="4.35"/><circle cx="497.8" cy="725.9" r="4.35"/><circle cx="497.8" cy="730.4" r="4.35"/><circle cx="497.8" cy="744.1" r="4.35"/><circle cx="497.8" cy="796.6" r="4.35"/><circle cx="497.8" cy="800" r="4.35"/><circle cx="497.8" cy="803.5" r="4.35"/><circle cx="497.8" cy="808" r="4.35"/><circle cx="497.8" cy="814.9" r="4.35"/><circle cx="497.8" cy="818.3" r="4.35"/><circle cx="497.8" cy="826.3" r="4.35"/><circle cx="497.8" cy="829.7" r="4.35"/><circle cx="497.8" cy="832" r="4.35"/><circle cx="497.8" cy="836.6" r="4.35"/><circle cx="497.8" cy="862.8" r="4.35"/><circle cx="531.1" cy="620.8" r="4.35"/><circle cx="531.1" cy="633.4" r="4.35"/><circle cx="531.1" cy="677.9" r="4.35"/><circle cx="531.1" cy="701.9" r="4.35"/><circle cx="531.1" cy="730.4" r="4.35"/><circle cx="531.1" cy="746.4" r="4.35"/><circle cx="531.1" cy="751" r="4.35"/><circle cx="531.1" cy="754.4" r="4.35"/><circle cx="531.1" cy="756.7" r="4.35"/><circle cx="531.1" cy="762.4" r="4.35"/><circle cx="531.1" cy="787.5" r="4.35"/><circle cx="531.1" cy="792.1" r="4.35"/><circle cx="531.1" cy="796.6" r="4.35"/><circle cx="531.1" cy="809.2" r="4.35"/><circle cx="531.1" cy="811.5" r="4.35"/><circle cx="531.1" cy="814.9" r="4.35"/><circle cx="531.1" cy="822.9" r="4.35"/><circle cx="531.1" cy="825.2" r="4.35"/><circle cx="531.1" cy="826.3" r="4.35"/><circle cx="531.1" cy="867.4" r="4.35"/><circle cx="564.3" cy="611.7" r="4.35"/><circle cx="564.3" cy="623.1" r="4.35"/><circle cx="564.3" cy="649.4" r="4.35"/><circle cx="564.3" cy="713.3" r="4.35"/><circle cx="564.3" cy="719" r="4.35"/><circle cx="564.3" cy="727" r="4.35"/><circle cx="564.3" cy="766.9" r="4.35"/><circle cx="564.3" cy="771.5" r="4.35"/><circle cx="564.3" cy="777.2" r="4.35"/><circle cx="564.3" cy="782.9" r="4.35"/><circle cx="564.3" cy="787.5" r="4.35"/><circle cx="564.3" cy="794.3" r="4.35"/><circle cx="564.3" cy="797.8" r="4.35"/><circle cx="564.3" cy="800" r="4.35"/><circle cx="564.3" cy="809.2" r="4.35"/><circle cx="564.3" cy="813.7" r="4.35"/><circle cx="564.3" cy="817.2" r="4.35"/><circle cx="564.3" cy="822.9" r="4.35"/><circle cx="564.3" cy="826.3" r="4.35"/><circle cx="564.3" cy="830.9" r="4.35"/><circle cx="564.3" cy="835.4" r="4.35"/><circle cx="564.3" cy="840" r="4.35"/><circle cx="597.6" cy="680.2" r="4.35"/><circle cx="597.6" cy="682.5" r="4.35"/><circle cx="597.6" cy="723.6" r="4.35"/><circle cx="597.6" cy="755.5" r="4.35"/><circle cx="597.6" cy="771.5" r="4.35"/><circle cx="597.6" cy="779.5" r="4.35"/><circle cx="597.6" cy="796.6" r="4.35"/><circle cx="597.6" cy="805.8" r="4.35"/><circle cx="597.6" cy="809.2" r="4.35"/><circle cx="597.6" cy="811.5" r="4.35"/><circle cx="597.6" cy="817.2" r="4.35"/><circle cx="597.6" cy="824" r="4.35"/><circle cx="597.6" cy="829.7" r="4.35"/><circle cx="597.6" cy="833.2" r="4.35"/><circle cx="597.6" cy="837.7" r="4.35"/><circle cx="597.6" cy="841.1" r="4.35"/><circle cx="630.8" cy="703" r="4.35"/><circle cx="630.8" cy="732.7" r="4.35"/><circle cx="630.8" cy="776.1" r="4.35"/><circle cx="630.8" cy="789.8" r="4.35"/><circle cx="630.8" cy="800" r="4.35"/><circle cx="630.8" cy="802.3" r="4.35"/><circle cx="630.8" cy="805.8" r="4.35"/><circle cx="630.8" cy="822.9" r="4.35"/><circle cx="630.8" cy="827.4" r="4.35"/><circle cx="630.8" cy="828.6" r="4.35"/><circle cx="664.1" cy="664.2" r="4.35"/><circle cx="664.1" cy="664.2" r="4.35"/><circle cx="664.1" cy="727" r="4.35"/><circle cx="664.1" cy="739.5" r="4.35"/><circle cx="664.1" cy="760.1" r="4.35"/><circle cx="664.1" cy="764.7" r="4.35"/><circle cx="664.1" cy="796.6" r="4.35"/><circle cx="664.1" cy="803.5" r="4.35"/><circle cx="664.1" cy="805.8" r="4.35"/><circle cx="664.1" cy="811.5" r="4.35"/><circle cx="664.1" cy="812.6" r="4.35"/><circle cx="664.1" cy="819.5" r="4.35"/><circle cx="664.1" cy="824" r="4.35"/><circle cx="664.1" cy="830.9" r="4.35"/><circle cx="664.1" cy="833.2" r="4.35"/><circle cx="664.1" cy="835.4" r="4.35"/><circle cx="664.1" cy="840" r="4.35"/><circle cx="664.1" cy="843.4" r="4.35"/><circle cx="697.3" cy="636.8" r="4.35"/><circle cx="697.3" cy="642.5" r="4.35"/><circle cx="697.3" cy="661.9" r="4.35"/><circle cx="697.3" cy="669.9" r="4.35"/><circle cx="697.3" cy="708.7" r="4.35"/><circle cx="697.3" cy="712.2" r="4.35"/><circle cx="697.3" cy="716.7" r="4.35"/><circle cx="697.3" cy="744.1" r="4.35"/><circle cx="697.3" cy="748.7" r="4.35"/><circle cx="697.3" cy="785.2" r="4.35"/><circle cx="697.3" cy="792.1" r="4.35"/><circle cx="697.3" cy="796.6" r="4.35"/><circle cx="697.3" cy="805.8" r="4.35"/><circle cx="697.3" cy="808" r="4.35"/><circle cx="697.3" cy="820.6" r="4.35"/><circle cx="697.3" cy="825.2" r="4.35"/><circle cx="697.3" cy="828.6" r="4.35"/><circle cx="697.3" cy="830.9" r="4.35"/><circle cx="697.3" cy="833.2" r="4.35"/><circle cx="697.3" cy="877.7" r="4.35"/><circle cx="730.5" cy="689.3" r="4.35"/><circle cx="730.5" cy="724.7" r="4.35"/><circle cx="730.5" cy="730.4" r="4.35"/><circle cx="730.5" cy="731.6" r="4.35"/><circle cx="730.5" cy="751" r="4.35"/><circle cx="730.5" cy="772.7" r="4.35"/><circle cx="730.5" cy="774.9" r="4.35"/><circle cx="730.5" cy="779.5" r="4.35"/><circle cx="730.5" cy="782.9" r="4.35"/><circle cx="730.5" cy="790.9" r="4.35"/><circle cx="730.5" cy="794.3" r="4.35"/><circle cx="730.5" cy="798.9" r="4.35"/><circle cx="730.5" cy="805.8" r="4.35"/><circle cx="730.5" cy="811.5" r="4.35"/><circle cx="730.5" cy="817.2" r="4.35"/><circle cx="730.5" cy="824" r="4.35"/><circle cx="730.5" cy="826.3" r="4.35"/><circle cx="730.5" cy="829.7" r="4.35"/><circle cx="730.5" cy="833.2" r="4.35"/><circle cx="730.5" cy="836.6" r="4.35"/><circle cx="730.5" cy="840" r="4.35"/><circle cx="730.5" cy="844.6" r="4.35"/></g>
<polygon points="98.8,866.1 104.1,867.1 109.4,868 114.7,868.8 120,869.5 125.4,870.2 130.7,870.8 136,871.2 141.3,871.6 146.6,871.9 151.9,872.1 157.2,871.9 162.5,871.7 167.8,871.3 173.1,870.8 178.4,870.1 183.7,869.4 189,868.5 194.3,867.7 199.7,866.7 205,865.8 210.3,864.7 215.6,863.6 220.9,862.4 226.2,861 231.5,859.3 236.8,857.5 242.1,855.5 247.4,853.3 252.7,850.9 258,848.4 263.3,845.9 268.6,843.2 274,840.5 279.3,837.7 284.6,834.9 289.9,832 295.2,829 300.5,826 305.8,822.9 311.1,819.8 316.4,816.7 321.7,813.6 327,810.6 332.3,807.7 337.6,804.9 342.9,802.2 348.3,799.7 353.6,797.2 358.9,794.8 364.2,792.5 369.5,790.3 374.8,788.1 380.1,786 385.4,784 390.7,782.1 396,780.4 401.3,778.7 406.6,777.1 411.9,775.7 417.2,774.4 422.6,773.3 427.9,772.3 433.2,771.4 438.5,770.7 443.8,770.1 449.1,769.7 454.4,769.3 459.7,769 465,768.7 470.3,768.5 475.6,768.3 480.9,768.1 486.2,768 491.5,767.8 496.9,767.8 502.2,767.7 507.5,767.6 512.8,767.6 518.1,767.6 523.4,767.7 528.7,767.7 534,767.8 539.3,767.9 544.6,768 549.9,768.2 555.2,768.4 560.5,768.6 565.8,768.8 571.2,769.1 576.5,769.4 581.8,769.7 587.1,770 592.4,770.4 597.7,770.8 603,771.2 608.3,771.6 613.6,772 618.9,772.5 624.2,773.1 629.5,773.6 634.8,774.3 640.1,775 645.5,775.7 650.8,776.6 656.1,777.3 661.4,778 666.7,778.8 672,779.6 677.3,780.5 682.6,781.4 687.9,782.3 693.2,783.3 698.5,784.3 703.8,785.3 709.1,786.4 714.4,787.5 719.8,788.6 725.1,789.7 730.4,790.8 730.4,803.9 725.1,802.3 719.8,800.8 714.4,799.3 709.1,797.8 703.8,796.3 698.5,794.9 693.2,793.5 687.9,792.1 682.6,790.7 677.3,789.4 672,788.2 666.7,786.9 661.4,785.7 656.1,784.6 650.8,783.6 645.5,782.8 640.1,782 634.8,781.3 629.5,780.7 624.2,780.1 618.9,779.5 613.6,779.1 608.3,778.6 603,778.2 597.7,777.8 592.4,777.4 587.1,777.1 581.8,776.7 576.5,776.4 571.2,776.1 565.8,775.8 560.5,775.6 555.2,775.4 549.9,775.2 544.6,775 539.3,774.9 534,774.8 528.7,774.7 523.4,774.7 518.1,774.6 512.8,774.6 507.5,774.7 502.2,774.7 496.9,774.8 491.5,774.9 486.2,775 480.9,775.1 475.6,775.3 470.3,775.5 465,775.7 459.7,776 454.4,776.3 449.1,776.7 443.8,777.1 438.5,777.7 433.2,778.4 427.9,779.3 422.6,780.3 417.2,781.4 411.9,782.7 406.6,784.1 401.3,785.7 396,787.4 390.7,789.2 385.4,791.1 380.1,793.1 374.8,795.2 369.5,797.3 364.2,799.6 358.9,801.9 353.6,804.2 348.3,806.7 342.9,809.3 337.6,811.9 332.3,814.7 327,817.6 321.7,820.6 316.4,823.7 311.1,826.8 305.8,829.9 300.5,833 295.2,836 289.9,839 284.6,841.8 279.3,844.6 274,847.4 268.6,850 263.3,852.6 258,855.2 252.7,857.6 247.4,859.9 242.1,862.1 236.8,864.1 231.5,865.9 226.2,867.5 220.9,868.9 215.6,870.1 210.3,871.2 205,872.1 199.7,873.1 194.3,874 189,874.8 183.7,875.6 178.4,876.3 173.1,876.9 167.8,877.4 162.5,877.8 157.2,878 151.9,878.1 146.6,878.2 141.3,878.4 136,878.4 130.7,878.3 125.4,878.2 120,877.9 114.7,877.6 109.4,877.2 104.1,876.7 98.8,876.1" fill="#949494" fill-opacity="0.38"/>
<polyline points="98.8,871.1 104.1,871.9 109.4,872.6 114.7,873.2 120,873.7 125.4,874.2 130.7,874.5 136,874.8 141.3,875 146.6,875.1 151.9,875.1 157.2,875 162.5,874.7 167.8,874.4 173.1,873.9 178.4,873.2 183.7,872.5 189,871.7 194.3,870.8 199.7,869.9 205,869 210.3,867.9 215.6,866.8 220.9,865.6 226.2,864.2 231.5,862.6 236.8,860.8 242.1,858.8 247.4,856.6 252.7,854.3 258,851.8 263.3,849.2 268.6,846.6 274,843.9 279.3,841.2 284.6,838.4 289.9,835.5 295.2,832.5 300.5,829.5 305.8,826.4 311.1,823.3 316.4,820.2 321.7,817.1 327,814.1 332.3,811.2 337.6,808.4 342.9,805.8 348.3,803.2 353.6,800.7 358.9,798.4 364.2,796 369.5,793.8 374.8,791.6 380.1,789.6 385.4,787.6 390.7,785.7 396,783.9 401.3,782.2 406.6,780.6 411.9,779.2 417.2,777.9 422.6,776.8 427.9,775.8 433.2,774.9 438.5,774.2 443.8,773.6 449.1,773.2 454.4,772.8 459.7,772.5 465,772.2 470.3,772 475.6,771.8 480.9,771.6 486.2,771.5 491.5,771.4 496.9,771.3 502.2,771.2 507.5,771.2 512.8,771.1 518.1,771.1 523.4,771.2 528.7,771.2 534,771.3 539.3,771.4 544.6,771.5 549.9,771.7 555.2,771.9 560.5,772.1 565.8,772.3 571.2,772.6 576.5,772.9 581.8,773.2 587.1,773.5 592.4,773.9 597.7,774.3 603,774.7 608.3,775.1 613.6,775.5 618.9,776 624.2,776.6 629.5,777.2 634.8,777.8 640.1,778.5 645.5,779.3 650.8,780.1 656.1,780.9 661.4,781.9 666.7,782.9 672,783.9 677.3,784.9 682.6,786.1 687.9,787.2 693.2,788.4 698.5,789.6 703.8,790.8 709.1,792.1 714.4,793.4 719.8,794.7 725.1,796 730.4,797.3" fill="none" stroke="#ea1418" stroke-width="3.3" stroke-linejoin="round" stroke-linecap="butt"/>
<g font-size="14.1" fill="#343434"><g text-anchor="end"><text x="58.8" y="959.2">−0.1</text><text x="58.8" y="845">0.0</text><text x="58.8" y="730.9">0.1</text><text x="58.8" y="616.7">0.2</text></g><g text-anchor="middle"><text x="198.6" y="1033.3">10</text><text x="364.8" y="1033.3">15</text><text x="531.1" y="1033.3">20</text><text x="697.3" y="1033.3">25</text></g></g>
<g font-size="18.8" fill="#000" text-anchor="middle"><text x="414.6" y="1055">Common_Bile_Duct_Diameter</text><text transform="translate(20.6 791) rotate(-90)" y="6.7">SHAP</text></g>
<text x="14.4" y="586.3" font-size="22.3" font-weight="normal" fill="#000" stroke="#000" stroke-width="1.0" stroke-linejoin="round">C</text>
<g fill="none"><path stroke="#e7e7e7" stroke-width="1.8" d="M832.5 973.9H1528.5M832.5 843H1528.5M832.5 712.1H1528.5M832.5 581.2H1528.5"/><path stroke="#e7e7e7" stroke-width="1.8" d="M968.7 565.2V1015.2M1144.4 565.2V1015.2M1320.2 565.2V1015.2M1495.9 565.2V1015.2"/></g>
<g fill="#3182bd" fill-opacity="0.64"><circle cx="863.3" cy="893.6" r="4.35"/><circle cx="863.3" cy="877.1" r="4.35"/><circle cx="863.3" cy="892.3" r="4.35"/><circle cx="863.3" cy="847.6" r="4.35"/><circle cx="863.3" cy="838.4" r="4.35"/><circle cx="863.3" cy="840.3" r="4.35"/><circle cx="863.3" cy="849.6" r="4.35"/><circle cx="863.3" cy="846.3" r="4.35"/><circle cx="863.3" cy="859.2" r="4.35"/><circle cx="863.3" cy="871" r="4.35"/><circle cx="863.3" cy="843.8" r="4.35"/><circle cx="863.3" cy="863.6" r="4.35"/><circle cx="863.3" cy="866" r="4.35"/><circle cx="870.3" cy="838.2" r="4.35"/><circle cx="870.3" cy="859.1" r="4.35"/><circle cx="870.3" cy="915.9" r="4.35"/><circle cx="870.3" cy="873.3" r="4.35"/><circle cx="870.3" cy="847.3" r="4.35"/><circle cx="870.3" cy="852.5" r="4.35"/><circle cx="870.3" cy="878.2" r="4.35"/><circle cx="870.3" cy="894" r="4.35"/><circle cx="870.3" cy="860" r="4.35"/><circle cx="870.3" cy="839.1" r="4.35"/><circle cx="877.3" cy="879.4" r="4.35"/><circle cx="877.3" cy="858.8" r="4.35"/><circle cx="877.3" cy="877.3" r="4.35"/><circle cx="877.3" cy="867" r="4.35"/><circle cx="877.3" cy="866.7" r="4.35"/><circle cx="877.3" cy="866.3" r="4.35"/><circle cx="877.3" cy="909.6" r="4.35"/><circle cx="877.3" cy="889.6" r="4.35"/><circle cx="877.3" cy="852.3" r="4.35"/><circle cx="877.3" cy="855.7" r="4.35"/><circle cx="877.3" cy="852.6" r="4.35"/><circle cx="877.3" cy="840.2" r="4.35"/><circle cx="877.3" cy="845.5" r="4.35"/><circle cx="884.3" cy="893" r="4.35"/><circle cx="884.3" cy="865.3" r="4.35"/><circle cx="884.3" cy="851.5" r="4.35"/><circle cx="884.3" cy="925.8" r="4.35"/><circle cx="884.3" cy="854.4" r="4.35"/><circle cx="884.3" cy="910.6" r="4.35"/><circle cx="884.3" cy="843.8" r="4.35"/><circle cx="884.3" cy="860.3" r="4.35"/><circle cx="884.3" cy="847.2" r="4.35"/><circle cx="884.3" cy="851.7" r="4.35"/><circle cx="891.4" cy="868.5" r="4.35"/><circle cx="891.4" cy="858.3" r="4.35"/><circle cx="891.4" cy="848.3" r="4.35"/><circle cx="891.4" cy="858.5" r="4.35"/><circle cx="891.4" cy="841.6" r="4.35"/><circle cx="891.4" cy="843.2" r="4.35"/><circle cx="891.4" cy="894.1" r="4.35"/><circle cx="891.4" cy="854.5" r="4.35"/><circle cx="891.4" cy="893.1" r="4.35"/><circle cx="891.4" cy="842.5" r="4.35"/><circle cx="891.4" cy="915.7" r="4.35"/><circle cx="891.4" cy="843.6" r="4.35"/><circle cx="891.4" cy="858.5" r="4.35"/><circle cx="898.4" cy="901.2" r="4.35"/><circle cx="898.4" cy="882.1" r="4.35"/><circle cx="898.4" cy="849.9" r="4.35"/><circle cx="898.4" cy="844.4" r="4.35"/><circle cx="898.4" cy="842.7" r="4.35"/><circle cx="898.4" cy="852.8" r="4.35"/><circle cx="898.4" cy="842.3" r="4.35"/><circle cx="898.4" cy="885.9" r="4.35"/><circle cx="898.4" cy="866.5" r="4.35"/><circle cx="898.4" cy="860.6" r="4.35"/><circle cx="905.4" cy="847.1" r="4.35"/><circle cx="905.4" cy="862.3" r="4.35"/><circle cx="905.4" cy="870.6" r="4.35"/><circle cx="905.4" cy="842.1" r="4.35"/><circle cx="905.4" cy="932.5" r="4.35"/><circle cx="905.4" cy="882.9" r="4.35"/><circle cx="905.4" cy="854" r="4.35"/><circle cx="905.4" cy="851" r="4.35"/><circle cx="905.4" cy="854.8" r="4.35"/><circle cx="905.4" cy="899.1" r="4.35"/><circle cx="905.4" cy="870.9" r="4.35"/><circle cx="905.4" cy="856.1" r="4.35"/><circle cx="905.4" cy="844.6" r="4.35"/><circle cx="912.5" cy="845.7" r="4.35"/><circle cx="912.5" cy="856.7" r="4.35"/><circle cx="912.5" cy="846.2" r="4.35"/><circle cx="912.5" cy="860.9" r="4.35"/><circle cx="912.5" cy="844.3" r="4.35"/><circle cx="912.5" cy="856.5" r="4.35"/><circle cx="912.5" cy="859.8" r="4.35"/><circle cx="912.5" cy="847.8" r="4.35"/><circle cx="912.5" cy="872.6" r="4.35"/><circle cx="912.5" cy="866.7" r="4.35"/><circle cx="919.5" cy="844.3" r="4.35"/><circle cx="919.5" cy="866.3" r="4.35"/><circle cx="919.5" cy="850.1" r="4.35"/><circle cx="919.5" cy="873.2" r="4.35"/><circle cx="919.5" cy="934.4" r="4.35"/><circle cx="919.5" cy="913" r="4.35"/><circle cx="919.5" cy="848.9" r="4.35"/><circle cx="919.5" cy="844.1" r="4.35"/><circle cx="919.5" cy="868.7" r="4.35"/><circle cx="919.5" cy="839.8" r="4.35"/><circle cx="919.5" cy="840.5" r="4.35"/><circle cx="919.5" cy="850.9" r="4.35"/><circle cx="919.5" cy="897.1" r="4.35"/><circle cx="926.5" cy="953.3" r="4.35"/><circle cx="926.5" cy="893.4" r="4.35"/><circle cx="926.5" cy="847.8" r="4.35"/><circle cx="926.5" cy="855.8" r="4.35"/><circle cx="926.5" cy="846.4" r="4.35"/><circle cx="926.5" cy="884.4" r="4.35"/><circle cx="926.5" cy="857.5" r="4.35"/><circle cx="926.5" cy="887.1" r="4.35"/><circle cx="926.5" cy="858.2" r="4.35"/><circle cx="926.5" cy="855.6" r="4.35"/><circle cx="933.6" cy="851.2" r="4.35"/><circle cx="933.6" cy="908.7" r="4.35"/><circle cx="933.6" cy="853.4" r="4.35"/><circle cx="933.6" cy="868.3" r="4.35"/><circle cx="933.6" cy="852.3" r="4.35"/><circle cx="933.6" cy="865.8" r="4.35"/><circle cx="933.6" cy="858.7" r="4.35"/><circle cx="933.6" cy="869.7" r="4.35"/><circle cx="933.6" cy="862.3" r="4.35"/><circle cx="933.6" cy="864.9" r="4.35"/><circle cx="933.6" cy="918.8" r="4.35"/><circle cx="933.6" cy="854.1" r="4.35"/><circle cx="933.6" cy="844.2" r="4.35"/><circle cx="940.6" cy="867.2" r="4.35"/><circle cx="940.6" cy="913.4" r="4.35"/><circle cx="940.6" cy="871.5" r="4.35"/><circle cx="940.6" cy="866.5" r="4.35"/><circle cx="940.6" cy="842.4" r="4.35"/><circle cx="940.6" cy="842.6" r="4.35"/><circle cx="940.6" cy="913.7" r="4.35"/><circle cx="940.6" cy="868.3" r="4.35"/><circle cx="940.6" cy="913.7" r="4.35"/><circle cx="940.6" cy="883.3" r="4.35"/><circle cx="947.6" cy="858.5" r="4.35"/><circle cx="947.6" cy="850.9" r="4.35"/><circle cx="947.6" cy="845" r="4.35"/><circle cx="947.6" cy="862.4" r="4.35"/><circle cx="947.6" cy="845" r="4.35"/><circle cx="947.6" cy="868.6" r="4.35"/><circle cx="947.6" cy="874.7" r="4.35"/><circle cx="947.6" cy="841.1" r="4.35"/><circle cx="947.6" cy="840" r="4.35"/><circle cx="947.6" cy="879.2" r="4.35"/><circle cx="947.6" cy="881.7" r="4.35"/><circle cx="947.6" cy="857.4" r="4.35"/><circle cx="947.6" cy="881.5" r="4.35"/><circle cx="954.6" cy="911.4" r="4.35"/><circle cx="954.6" cy="863.3" r="4.35"/><circle cx="954.6" cy="848.2" r="4.35"/><circle cx="954.6" cy="850.7" r="4.35"/><circle cx="954.6" cy="856.9" r="4.35"/><circle cx="954.6" cy="863.3" r="4.35"/><circle cx="954.6" cy="872.7" r="4.35"/><circle cx="954.6" cy="865.2" r="4.35"/><circle cx="954.6" cy="910.9" r="4.35"/><circle cx="954.6" cy="899.5" r="4.35"/><circle cx="961.7" cy="840.3" r="4.35"/><circle cx="961.7" cy="892.9" r="4.35"/><circle cx="961.7" cy="853.4" r="4.35"/><circle cx="961.7" cy="919.9" r="4.35"/><circle cx="961.7" cy="967.4" r="4.35"/><circle cx="961.7" cy="855.8" r="4.35"/><circle cx="961.7" cy="848.7" r="4.35"/><circle cx="961.7" cy="857.8" r="4.35"/><circle cx="961.7" cy="873.8" r="4.35"/><circle cx="961.7" cy="854.3" r="4.35"/><circle cx="961.7" cy="851.1" r="4.35"/><circle cx="961.7" cy="880.4" r="4.35"/><circle cx="961.7" cy="851.9" r="4.35"/><circle cx="968.7" cy="909.6" r="4.35"/><circle cx="968.7" cy="848" r="4.35"/><circle cx="968.7" cy="888.8" r="4.35"/><circle cx="968.7" cy="839.1" r="4.35"/><circle cx="968.7" cy="875.3" r="4.35"/><circle cx="968.7" cy="857.4" r="4.35"/><circle cx="968.7" cy="856.6" r="4.35"/><circle cx="968.7" cy="875.7" r="4.35"/><circle cx="968.7" cy="880.2" r="4.35"/><circle cx="968.7" cy="870.5" r="4.35"/><circle cx="975.7" cy="872.9" r="4.35"/><circle cx="975.7" cy="852.4" r="4.35"/><circle cx="975.7" cy="890.8" r="4.35"/><circle cx="975.7" cy="845.9" r="4.35"/><circle cx="975.7" cy="847.4" r="4.35"/><circle cx="975.7" cy="874.9" r="4.35"/><circle cx="975.7" cy="843.2" r="4.35"/><circle cx="975.7" cy="857.8" r="4.35"/><circle cx="975.7" cy="858.1" r="4.35"/><circle cx="975.7" cy="846.1" r="4.35"/><circle cx="975.7" cy="959.3" r="4.35"/><circle cx="975.7" cy="910.9" r="4.35"/><circle cx="975.7" cy="870.2" r="4.35"/><circle cx="982.8" cy="844.4" r="4.35"/><circle cx="982.8" cy="930.5" r="4.35"/><circle cx="982.8" cy="898" r="4.35"/><circle cx="982.8" cy="881.7" r="4.35"/><circle cx="982.8" cy="847.8" r="4.35"/><circle cx="982.8" cy="839.5" r="4.35"/><circle cx="982.8" cy="854.7" r="4.35"/><circle cx="982.8" cy="868.7" r="4.35"/><circle cx="982.8" cy="887.8" r="4.35"/><circle cx="982.8" cy="878.3" r="4.35"/><circle cx="989.8" cy="912.3" r="4.35"/><circle cx="989.8" cy="845.7" r="4.35"/><circle cx="989.8" cy="842.8" r="4.35"/><circle cx="989.8" cy="880.3" r="4.35"/><circle cx="989.8" cy="882.9" r="4.35"/><circle cx="989.8" cy="839.3" r="4.35"/><circle cx="989.8" cy="844.1" r="4.35"/><circle cx="989.8" cy="863.5" r="4.35"/><circle cx="989.8" cy="845.7" r="4.35"/><circle cx="989.8" cy="844.9" r="4.35"/><circle cx="989.8" cy="859.2" r="4.35"/><circle cx="989.8" cy="863.9" r="4.35"/><circle cx="989.8" cy="866.1" r="4.35"/><circle cx="996.8" cy="865.6" r="4.35"/><circle cx="996.8" cy="839.8" r="4.35"/><circle cx="996.8" cy="884" r="4.35"/><circle cx="996.8" cy="900.5" r="4.35"/><circle cx="996.8" cy="865" r="4.35"/><circle cx="996.8" cy="868.6" r="4.35"/><circle cx="996.8" cy="845.9" r="4.35"/><circle cx="996.8" cy="845" r="4.35"/><circle cx="996.8" cy="865.8" r="4.35"/><circle cx="996.8" cy="866.2" r="4.35"/><circle cx="1003.8" cy="858.9" r="4.35"/><circle cx="1003.8" cy="886.4" r="4.35"/><circle cx="1003.8" cy="845.5" r="4.35"/><circle cx="1003.8" cy="838.9" r="4.35"/><circle cx="1003.8" cy="901.4" r="4.35"/><circle cx="1003.8" cy="878.1" r="4.35"/><circle cx="1003.8" cy="860.2" r="4.35"/><circle cx="1003.8" cy="843.2" r="4.35"/><circle cx="1003.8" cy="884.3" r="4.35"/><circle cx="1003.8" cy="852.3" r="4.35"/><circle cx="1003.8" cy="872" r="4.35"/><circle cx="1003.8" cy="851.6" r="4.35"/><circle cx="1003.8" cy="854.6" r="4.35"/><circle cx="1010.9" cy="839.9" r="4.35"/><circle cx="1010.9" cy="841.3" r="4.35"/><circle cx="1010.9" cy="874.7" r="4.35"/><circle cx="1010.9" cy="886" r="4.35"/><circle cx="1010.9" cy="911.9" r="4.35"/><circle cx="1010.9" cy="887.6" r="4.35"/><circle cx="1010.9" cy="885.9" r="4.35"/><circle cx="1010.9" cy="849.7" r="4.35"/><circle cx="1010.9" cy="882.2" r="4.35"/><circle cx="1010.9" cy="853.4" r="4.35"/><circle cx="1017.9" cy="888.8" r="4.35"/><circle cx="1017.9" cy="844.8" r="4.35"/><circle cx="1017.9" cy="864.8" r="4.35"/><circle cx="1017.9" cy="864.7" r="4.35"/><circle cx="1017.9" cy="896.2" r="4.35"/><circle cx="1017.9" cy="871" r="4.35"/><circle cx="1017.9" cy="933.9" r="4.35"/><circle cx="1017.9" cy="843.2" r="4.35"/><circle cx="1017.9" cy="867.2" r="4.35"/><circle cx="1017.9" cy="865.1" r="4.35"/><circle cx="1017.9" cy="841.8" r="4.35"/><circle cx="1017.9" cy="884.4" r="4.35"/><circle cx="1017.9" cy="850.5" r="4.35"/><circle cx="1024.9" cy="857.6" r="4.35"/><circle cx="1024.9" cy="884.8" r="4.35"/><circle cx="1024.9" cy="865.3" r="4.35"/><circle cx="1024.9" cy="889.6" r="4.35"/><circle cx="1024.9" cy="841.6" r="4.35"/><circle cx="1024.9" cy="856.8" r="4.35"/><circle cx="1024.9" cy="861.9" r="4.35"/><circle cx="1024.9" cy="872.6" r="4.35"/><circle cx="1024.9" cy="847.7" r="4.35"/><circle cx="1024.9" cy="847.8" r="4.35"/><circle cx="1032" cy="845.9" r="4.35"/><circle cx="1032" cy="882.2" r="4.35"/><circle cx="1032" cy="844.3" r="4.35"/><circle cx="1032" cy="890.4" r="4.35"/><circle cx="1032" cy="841.2" r="4.35"/><circle cx="1032" cy="852.6" r="4.35"/><circle cx="1032" cy="852.5" r="4.35"/><circle cx="1032" cy="967.4" r="4.35"/><circle cx="1032" cy="849.5" r="4.35"/><circle cx="1032" cy="930.1" r="4.35"/><circle cx="1032" cy="849.9" r="4.35"/><circle cx="1032" cy="869.6" r="4.35"/><circle cx="1032" cy="846.9" r="4.35"/><circle cx="1039" cy="899.2" r="4.35"/><circle cx="1039" cy="840" r="4.35"/><circle cx="1039" cy="858.9" r="4.35"/><circle cx="1039" cy="864.9" r="4.35"/><circle cx="1039" cy="862.2" r="4.35"/><circle cx="1039" cy="846.6" r="4.35"/><circle cx="1039" cy="856.5" r="4.35"/><circle cx="1039" cy="843.1" r="4.35"/><circle cx="1039" cy="841.7" r="4.35"/><circle cx="1039" cy="856.4" r="4.35"/><circle cx="1046" cy="867.9" r="4.35"/><circle cx="1046" cy="852.9" r="4.35"/><circle cx="1046" cy="849.2" r="4.35"/><circle cx="1046" cy="840.6" r="4.35"/><circle cx="1046" cy="876.5" r="4.35"/><circle cx="1046" cy="874.5" r="4.35"/><circle cx="1046" cy="886.5" r="4.35"/><circle cx="1046" cy="848.8" r="4.35"/><circle cx="1046" cy="878.1" r="4.35"/><circle cx="1046" cy="880.8" r="4.35"/><circle cx="1046" cy="866.8" r="4.35"/><circle cx="1046" cy="854.5" r="4.35"/><circle cx="1046" cy="884" r="4.35"/><circle cx="1053.1" cy="840" r="4.35"/><circle cx="1053.1" cy="878.4" r="4.35"/><circle cx="1053.1" cy="868.4" r="4.35"/><circle cx="1053.1" cy="848.6" r="4.35"/><circle cx="1053.1" cy="879.8" r="4.35"/><circle cx="1053.1" cy="868.7" r="4.35"/><circle cx="1053.1" cy="873.8" r="4.35"/><circle cx="1053.1" cy="866.8" r="4.35"/><circle cx="1053.1" cy="852.7" r="4.35"/><circle cx="1053.1" cy="862.5" r="4.35"/><circle cx="1060.1" cy="877" r="4.35"/><circle cx="1060.1" cy="873.8" r="4.35"/><circle cx="1060.1" cy="873" r="4.35"/><circle cx="1060.1" cy="877" r="4.35"/><circle cx="1060.1" cy="871.1" r="4.35"/><circle cx="1060.1" cy="855.8" r="4.35"/><circle cx="1060.1" cy="870.8" r="4.35"/><circle cx="1060.1" cy="936.2" r="4.35"/><circle cx="1060.1" cy="840.3" r="4.35"/><circle cx="1060.1" cy="861.6" r="4.35"/><circle cx="1060.1" cy="843.3" r="4.35"/><circle cx="1060.1" cy="862.1" r="4.35"/><circle cx="1060.1" cy="868.3" r="4.35"/><circle cx="1067.1" cy="852.8" r="4.35"/><circle cx="1067.1" cy="839.9" r="4.35"/><circle cx="1067.1" cy="888.9" r="4.35"/><circle cx="1067.1" cy="909.5" r="4.35"/><circle cx="1067.1" cy="847.5" r="4.35"/><circle cx="1067.1" cy="896.8" r="4.35"/><circle cx="1067.1" cy="875.3" r="4.35"/><circle cx="1067.1" cy="905" r="4.35"/><circle cx="1067.1" cy="854.6" r="4.35"/><circle cx="1067.1" cy="863.7" r="4.35"/><circle cx="1074.1" cy="874.5" r="4.35"/><circle cx="1074.1" cy="848.2" r="4.35"/><circle cx="1074.1" cy="906" r="4.35"/><circle cx="1074.1" cy="883.1" r="4.35"/><circle cx="1074.1" cy="845.6" r="4.35"/><circle cx="1074.1" cy="852.7" r="4.35"/><circle cx="1074.1" cy="921.6" r="4.35"/><circle cx="1074.1" cy="875.2" r="4.35"/><circle cx="1074.1" cy="854.1" r="4.35"/><circle cx="1074.1" cy="870.4" r="4.35"/><circle cx="1074.1" cy="886.8" r="4.35"/><circle cx="1074.1" cy="858.1" r="4.35"/><circle cx="1074.1" cy="922.9" r="4.35"/><circle cx="1081.2" cy="844.3" r="4.35"/><circle cx="1081.2" cy="901.9" r="4.35"/><circle cx="1081.2" cy="869.6" r="4.35"/><circle cx="1081.2" cy="843.9" r="4.35"/><circle cx="1081.2" cy="860.5" r="4.35"/><circle cx="1081.2" cy="868.9" r="4.35"/><circle cx="1081.2" cy="895.5" r="4.35"/><circle cx="1081.2" cy="846.1" r="4.35"/><circle cx="1081.2" cy="854.6" r="4.35"/><circle cx="1081.2" cy="868.1" r="4.35"/><circle cx="1088.2" cy="864.6" r="4.35"/><circle cx="1088.2" cy="857.9" r="4.35"/><circle cx="1088.2" cy="862.8" r="4.35"/><circle cx="1088.2" cy="845.9" r="4.35"/><circle cx="1088.2" cy="857.5" r="4.35"/><circle cx="1088.2" cy="843.7" r="4.35"/><circle cx="1088.2" cy="861.2" r="4.35"/><circle cx="1088.2" cy="900.5" r="4.35"/><circle cx="1088.2" cy="902.3" r="4.35"/><circle cx="1088.2" cy="865.8" r="4.35"/><circle cx="1088.2" cy="863.7" r="4.35"/><circle cx="1088.2" cy="907" r="4.35"/><circle cx="1088.2" cy="857.5" r="4.35"/><circle cx="1095.2" cy="858.5" r="4.35"/><circle cx="1095.2" cy="882" r="4.35"/><circle cx="1095.2" cy="851.6" r="4.35"/><circle cx="1095.2" cy="907.4" r="4.35"/><circle cx="1095.2" cy="893" r="4.35"/><circle cx="1095.2" cy="913.9" r="4.35"/><circle cx="1095.2" cy="843.9" r="4.35"/><circle cx="1095.2" cy="849" r="4.35"/><circle cx="1095.2" cy="870.5" r="4.35"/><circle cx="1095.2" cy="867.5" r="4.35"/><circle cx="1102.3" cy="876.8" r="4.35"/><circle cx="1102.3" cy="852.7" r="4.35"/><circle cx="1102.3" cy="856.3" r="4.35"/><circle cx="1102.3" cy="839.5" r="4.35"/><circle cx="1102.3" cy="856" r="4.35"/><circle cx="1102.3" cy="842.9" r="4.35"/><circle cx="1102.3" cy="895.6" r="4.35"/><circle cx="1102.3" cy="845.6" r="4.35"/><circle cx="1102.3" cy="867.4" r="4.35"/><circle cx="1102.3" cy="844.1" r="4.35"/><circle cx="1102.3" cy="935.9" r="4.35"/><circle cx="1102.3" cy="860.7" r="4.35"/><circle cx="1102.3" cy="900.6" r="4.35"/><circle cx="1109.3" cy="884.5" r="4.35"/><circle cx="1109.3" cy="846.7" r="4.35"/><circle cx="1109.3" cy="886.1" r="4.35"/><circle cx="1109.3" cy="860.2" r="4.35"/><circle cx="1109.3" cy="922.5" r="4.35"/><circle cx="1109.3" cy="865.6" r="4.35"/><circle cx="1109.3" cy="876" r="4.35"/><circle cx="1109.3" cy="839.3" r="4.35"/><circle cx="1109.3" cy="874.6" r="4.35"/><circle cx="1109.3" cy="889.8" r="4.35"/><circle cx="1116.3" cy="860.9" r="4.35"/><circle cx="1116.3" cy="940.6" r="4.35"/><circle cx="1116.3" cy="855.8" r="4.35"/><circle cx="1116.3" cy="896.5" r="4.35"/><circle cx="1116.3" cy="860.8" r="4.35"/><circle cx="1116.3" cy="853.9" r="4.35"/><circle cx="1116.3" cy="839.6" r="4.35"/><circle cx="1116.3" cy="842.4" r="4.35"/><circle cx="1116.3" cy="906.3" r="4.35"/><circle cx="1116.3" cy="848.1" r="4.35"/><circle cx="1116.3" cy="860.8" r="4.35"/><circle cx="1116.3" cy="843.3" r="4.35"/><circle cx="1116.3" cy="859.4" r="4.35"/><circle cx="1123.3" cy="842.6" r="4.35"/><circle cx="1123.3" cy="843.3" r="4.35"/><circle cx="1123.3" cy="857.1" r="4.35"/><circle cx="1123.3" cy="890.7" r="4.35"/><circle cx="1123.3" cy="845.7" r="4.35"/><circle cx="1123.3" cy="857.9" r="4.35"/><circle cx="1123.3" cy="907.4" r="4.35"/><circle cx="1123.3" cy="866.8" r="4.35"/><circle cx="1123.3" cy="908.2" r="4.35"/><circle cx="1123.3" cy="876.4" r="4.35"/><circle cx="1130.4" cy="870.5" r="4.35"/><circle cx="1130.4" cy="859" r="4.35"/><circle cx="1130.4" cy="913" r="4.35"/><circle cx="1130.4" cy="868.2" r="4.35"/><circle cx="1130.4" cy="872.3" r="4.35"/><circle cx="1130.4" cy="872.4" r="4.35"/><circle cx="1130.4" cy="902.9" r="4.35"/><circle cx="1130.4" cy="909.3" r="4.35"/><circle cx="1130.4" cy="845.3" r="4.35"/><circle cx="1130.4" cy="855" r="4.35"/><circle cx="1130.4" cy="857" r="4.35"/><circle cx="1130.4" cy="860.7" r="4.35"/><circle cx="1130.4" cy="850.8" r="4.35"/><circle cx="1137.4" cy="884.4" r="4.35"/><circle cx="1137.4" cy="854.8" r="4.35"/><circle cx="1137.4" cy="868.7" r="4.35"/><circle cx="1137.4" cy="862.8" r="4.35"/><circle cx="1137.4" cy="853.4" r="4.35"/><circle cx="1137.4" cy="845.4" r="4.35"/><circle cx="1137.4" cy="853.5" r="4.35"/><circle cx="1137.4" cy="891.6" r="4.35"/><circle cx="1137.4" cy="855.5" r="4.35"/><circle cx="1137.4" cy="874.5" r="4.35"/><circle cx="1144.4" cy="843.3" r="4.35"/><circle cx="1144.4" cy="858.4" r="4.35"/><circle cx="1144.4" cy="917.7" r="4.35"/><circle cx="1144.4" cy="882.7" r="4.35"/><circle cx="1144.4" cy="886.9" r="4.35"/><circle cx="1144.4" cy="858.5" r="4.35"/><circle cx="1144.4" cy="930.3" r="4.35"/><circle cx="1144.4" cy="849.6" r="4.35"/><circle cx="1144.4" cy="847.7" r="4.35"/><circle cx="1144.4" cy="867.9" r="4.35"/><circle cx="1144.4" cy="856.1" r="4.35"/><circle cx="1144.4" cy="849.5" r="4.35"/><circle cx="1144.4" cy="869.2" r="4.35"/><circle cx="1151.5" cy="847.6" r="4.35"/><circle cx="1151.5" cy="885" r="4.35"/><circle cx="1151.5" cy="891.9" r="4.35"/><circle cx="1151.5" cy="862" r="4.35"/><circle cx="1151.5" cy="880.1" r="4.35"/><circle cx="1151.5" cy="850.4" r="4.35"/><circle cx="1151.5" cy="903.2" r="4.35"/><circle cx="1151.5" cy="860.2" r="4.35"/><circle cx="1151.5" cy="852.5" r="4.35"/><circle cx="1151.5" cy="860.9" r="4.35"/><circle cx="1158.5" cy="875.9" r="4.35"/><circle cx="1158.5" cy="882.9" r="4.35"/><circle cx="1158.5" cy="846" r="4.35"/><circle cx="1158.5" cy="847.1" r="4.35"/><circle cx="1158.5" cy="842.9" r="4.35"/><circle cx="1158.5" cy="902.5" r="4.35"/><circle cx="1158.5" cy="865.6" r="4.35"/><circle cx="1158.5" cy="967.4" r="4.35"/><circle cx="1158.5" cy="853.1" r="4.35"/><circle cx="1158.5" cy="840.7" r="4.35"/><circle cx="1158.5" cy="853.5" r="4.35"/><circle cx="1158.5" cy="853.2" r="4.35"/><circle cx="1158.5" cy="842.4" r="4.35"/><circle cx="1165.5" cy="855.3" r="4.35"/><circle cx="1165.5" cy="866.8" r="4.35"/><circle cx="1165.5" cy="850.6" r="4.35"/><circle cx="1165.5" cy="910" r="4.35"/><circle cx="1165.5" cy="844.4" r="4.35"/><circle cx="1165.5" cy="882.1" r="4.35"/><circle cx="1165.5" cy="859.3" r="4.35"/><circle cx="1165.5" cy="900.6" r="4.35"/><circle cx="1165.5" cy="857.3" r="4.35"/><circle cx="1165.5" cy="846.3" r="4.35"/><circle cx="1172.6" cy="855.2" r="4.35"/><circle cx="1172.6" cy="841.4" r="4.35"/><circle cx="1172.6" cy="838" r="4.35"/><circle cx="1172.6" cy="853.6" r="4.35"/><circle cx="1172.6" cy="840.5" r="4.35"/><circle cx="1172.6" cy="844.5" r="4.35"/><circle cx="1172.6" cy="906.5" r="4.35"/><circle cx="1172.6" cy="859.2" r="4.35"/><circle cx="1172.6" cy="874.3" r="4.35"/><circle cx="1172.6" cy="838.2" r="4.35"/><circle cx="1172.6" cy="838.1" r="4.35"/><circle cx="1172.6" cy="966.1" r="4.35"/><circle cx="1172.6" cy="848.7" r="4.35"/><circle cx="1179.6" cy="914.9" r="4.35"/><circle cx="1179.6" cy="839" r="4.35"/><circle cx="1179.6" cy="903.7" r="4.35"/><circle cx="1179.6" cy="899.8" r="4.35"/><circle cx="1179.6" cy="867.1" r="4.35"/><circle cx="1179.6" cy="853.5" r="4.35"/><circle cx="1179.6" cy="873.2" r="4.35"/><circle cx="1179.6" cy="941.7" r="4.35"/><circle cx="1179.6" cy="889.1" r="4.35"/><circle cx="1179.6" cy="861.2" r="4.35"/><circle cx="1186.6" cy="843.7" r="4.35"/><circle cx="1186.6" cy="961.6" r="4.35"/><circle cx="1186.6" cy="882.2" r="4.35"/><circle cx="1186.6" cy="865.7" r="4.35"/><circle cx="1186.6" cy="875.5" r="4.35"/><circle cx="1186.6" cy="873.3" r="4.35"/><circle cx="1186.6" cy="848.3" r="4.35"/><circle cx="1186.6" cy="875" r="4.35"/><circle cx="1186.6" cy="866.3" r="4.35"/><circle cx="1186.6" cy="884.1" r="4.35"/><circle cx="1186.6" cy="866.1" r="4.35"/><circle cx="1186.6" cy="843.2" r="4.35"/><circle cx="1186.6" cy="851.6" r="4.35"/><circle cx="1193.6" cy="867.8" r="4.35"/><circle cx="1193.6" cy="850.5" r="4.35"/><circle cx="1193.6" cy="863.4" r="4.35"/><circle cx="1193.6" cy="871.6" r="4.35"/><circle cx="1193.6" cy="892.2" r="4.35"/><circle cx="1193.6" cy="847.2" r="4.35"/><circle cx="1193.6" cy="878.9" r="4.35"/><circle cx="1193.6" cy="844.4" r="4.35"/><circle cx="1193.6" cy="867.5" r="4.35"/><circle cx="1193.6" cy="861.2" r="4.35"/><circle cx="1200.7" cy="861.7" r="4.35"/><circle cx="1200.7" cy="864.4" r="4.35"/><circle cx="1200.7" cy="884.5" r="4.35"/><circle cx="1200.7" cy="858.6" r="4.35"/><circle cx="1200.7" cy="848.9" r="4.35"/><circle cx="1200.7" cy="872.7" r="4.35"/><circle cx="1200.7" cy="859.9" r="4.35"/><circle cx="1200.7" cy="864.3" r="4.35"/><circle cx="1200.7" cy="841.7" r="4.35"/><circle cx="1200.7" cy="841.1" r="4.35"/><circle cx="1200.7" cy="847.1" r="4.35"/><circle cx="1200.7" cy="877.3" r="4.35"/><circle cx="1200.7" cy="865.4" r="4.35"/><circle cx="1207.7" cy="859" r="4.35"/><circle cx="1207.7" cy="848.1" r="4.35"/><circle cx="1207.7" cy="948.5" r="4.35"/><circle cx="1207.7" cy="878.1" r="4.35"/><circle cx="1207.7" cy="858.1" r="4.35"/><circle cx="1207.7" cy="886" r="4.35"/><circle cx="1207.7" cy="841.5" r="4.35"/><circle cx="1207.7" cy="906.2" r="4.35"/><circle cx="1207.7" cy="884.9" r="4.35"/><circle cx="1207.7" cy="847.2" r="4.35"/><circle cx="1214.7" cy="902.9" r="4.35"/><circle cx="1214.7" cy="934.8" r="4.35"/><circle cx="1214.7" cy="852.4" r="4.35"/><circle cx="1214.7" cy="842.2" r="4.35"/><circle cx="1214.7" cy="879.5" r="4.35"/><circle cx="1214.7" cy="863.4" r="4.35"/><circle cx="1214.7" cy="843.5" r="4.35"/><circle cx="1214.7" cy="852.2" r="4.35"/><circle cx="1214.7" cy="843.1" r="4.35"/><circle cx="1214.7" cy="852.7" r="4.35"/><circle cx="1214.7" cy="859.1" r="4.35"/><circle cx="1214.7" cy="877.6" r="4.35"/><circle cx="1214.7" cy="940.3" r="4.35"/><circle cx="1221.8" cy="890" r="4.35"/><circle cx="1221.8" cy="848.5" r="4.35"/><circle cx="1221.8" cy="865.7" r="4.35"/><circle cx="1221.8" cy="864" r="4.35"/><circle cx="1221.8" cy="845" r="4.35"/><circle cx="1221.8" cy="842.2" r="4.35"/><circle cx="1221.8" cy="900.8" r="4.35"/><circle cx="1221.8" cy="866.6" r="4.35"/><circle cx="1221.8" cy="846.6" r="4.35"/><circle cx="1221.8" cy="855.3" r="4.35"/><circle cx="1228.8" cy="874.6" r="4.35"/><circle cx="1228.8" cy="859.6" r="4.35"/><circle cx="1228.8" cy="902.2" r="4.35"/><circle cx="1228.8" cy="840.2" r="4.35"/><circle cx="1228.8" cy="859.5" r="4.35"/><circle cx="1228.8" cy="849.8" r="4.35"/><circle cx="1228.8" cy="844.7" r="4.35"/><circle cx="1228.8" cy="866.1" r="4.35"/><circle cx="1228.8" cy="846.2" r="4.35"/><circle cx="1228.8" cy="839.4" r="4.35"/><circle cx="1228.8" cy="911.4" r="4.35"/><circle cx="1228.8" cy="841.2" r="4.35"/><circle cx="1228.8" cy="844.2" r="4.35"/><circle cx="1235.8" cy="838.7" r="4.35"/><circle cx="1235.8" cy="839.6" r="4.35"/><circle cx="1235.8" cy="897.6" r="4.35"/><circle cx="1235.8" cy="906.2" r="4.35"/><circle cx="1235.8" cy="913.5" r="4.35"/><circle cx="1235.8" cy="858.4" r="4.35"/><circle cx="1235.8" cy="846.3" r="4.35"/><circle cx="1235.8" cy="863" r="4.35"/><circle cx="1235.8" cy="856.1" r="4.35"/><circle cx="1235.8" cy="847.3" r="4.35"/><circle cx="1242.8" cy="872.5" r="4.35"/><circle cx="1242.8" cy="850.5" r="4.35"/><circle cx="1242.8" cy="900.1" r="4.35"/><circle cx="1242.8" cy="845.2" r="4.35"/><circle cx="1242.8" cy="888.6" r="4.35"/><circle cx="1242.8" cy="872.4" r="4.35"/><circle cx="1242.8" cy="877.5" r="4.35"/><circle cx="1242.8" cy="845.4" r="4.35"/><circle cx="1242.8" cy="881" r="4.35"/><circle cx="1242.8" cy="880.8" r="4.35"/><circle cx="1242.8" cy="844.6" r="4.35"/><circle cx="1242.8" cy="869.6" r="4.35"/><circle cx="1242.8" cy="886" r="4.35"/><circle cx="1249.9" cy="836.6" r="4.35"/><circle cx="1249.9" cy="864.4" r="4.35"/><circle cx="1249.9" cy="857.8" r="4.35"/><circle cx="1249.9" cy="796.9" r="4.35"/><circle cx="1249.9" cy="857.2" r="4.35"/><circle cx="1249.9" cy="853.5" r="4.35"/><circle cx="1249.9" cy="832.3" r="4.35"/><circle cx="1249.9" cy="888.1" r="4.35"/><circle cx="1256.9" cy="834.7" r="4.35"/><circle cx="1256.9" cy="830.5" r="4.35"/><circle cx="1256.9" cy="834.4" r="4.35"/><circle cx="1256.9" cy="873.4" r="4.35"/><circle cx="1256.9" cy="841.9" r="4.35"/><circle cx="1256.9" cy="837.1" r="4.35"/><circle cx="1256.9" cy="888" r="4.35"/><circle cx="1256.9" cy="837.9" r="4.35"/><circle cx="1256.9" cy="791.8" r="4.35"/><circle cx="1263.9" cy="841.9" r="4.35"/><circle cx="1263.9" cy="845.6" r="4.35"/><circle cx="1263.9" cy="833.8" r="4.35"/><circle cx="1263.9" cy="836.4" r="4.35"/><circle cx="1263.9" cy="825.4" r="4.35"/><circle cx="1263.9" cy="835.8" r="4.35"/><circle cx="1263.9" cy="858.1" r="4.35"/><circle cx="1263.9" cy="813.9" r="4.35"/><circle cx="1263.9" cy="781.6" r="4.35"/><circle cx="1271" cy="831.1" r="4.35"/><circle cx="1271" cy="834.4" r="4.35"/><circle cx="1271" cy="825" r="4.35"/><circle cx="1271" cy="815.6" r="4.35"/><circle cx="1271" cy="836.3" r="4.35"/><circle cx="1271" cy="854.7" r="4.35"/><circle cx="1271" cy="822.6" r="4.35"/><circle cx="1271" cy="849.5" r="4.35"/><circle cx="1271" cy="799.9" r="4.35"/><circle cx="1278" cy="846.9" r="4.35"/><circle cx="1278" cy="847.7" r="4.35"/><circle cx="1278" cy="812.6" r="4.35"/><circle cx="1278" cy="836" r="4.35"/><circle cx="1278" cy="829.5" r="4.35"/><circle cx="1278" cy="842.8" r="4.35"/><circle cx="1278" cy="839.8" r="4.35"/><circle cx="1278" cy="848.2" r="4.35"/><circle cx="1278" cy="799.2" r="4.35"/><circle cx="1285" cy="837.7" r="4.35"/><circle cx="1285" cy="846" r="4.35"/><circle cx="1285" cy="789.3" r="4.35"/><circle cx="1285" cy="816.8" r="4.35"/><circle cx="1285" cy="849" r="4.35"/><circle cx="1285" cy="862.2" r="4.35"/><circle cx="1285" cy="821.6" r="4.35"/><circle cx="1285" cy="836.3" r="4.35"/><circle cx="1285" cy="810" r="4.35"/><circle cx="1292" cy="847" r="4.35"/><circle cx="1292" cy="803.4" r="4.35"/><circle cx="1292" cy="834.3" r="4.35"/><circle cx="1292" cy="854.3" r="4.35"/><circle cx="1292" cy="863.7" r="4.35"/><circle cx="1292" cy="803.3" r="4.35"/><circle cx="1292" cy="843.8" r="4.35"/><circle cx="1292" cy="840.4" r="4.35"/><circle cx="1292" cy="780.6" r="4.35"/><circle cx="1299.1" cy="854.9" r="4.35"/><circle cx="1299.1" cy="845" r="4.35"/><circle cx="1299.1" cy="826.9" r="4.35"/><circle cx="1299.1" cy="831.6" r="4.35"/><circle cx="1299.1" cy="847.2" r="4.35"/><circle cx="1299.1" cy="838.5" r="4.35"/><circle cx="1299.1" cy="804.2" r="4.35"/><circle cx="1299.1" cy="812.6" r="4.35"/><circle cx="1306.1" cy="824" r="4.35"/><circle cx="1306.1" cy="830.2" r="4.35"/><circle cx="1306.1" cy="820.3" r="4.35"/><circle cx="1306.1" cy="790.5" r="4.35"/><circle cx="1306.1" cy="837.7" r="4.35"/><circle cx="1306.1" cy="819.6" r="4.35"/><circle cx="1306.1" cy="826.3" r="4.35"/><circle cx="1306.1" cy="822.7" r="4.35"/><circle cx="1306.1" cy="766.8" r="4.35"/><circle cx="1313.1" cy="837.4" r="4.35"/><circle cx="1313.1" cy="864.1" r="4.35"/><circle cx="1313.1" cy="846.4" r="4.35"/><circle cx="1313.1" cy="833.6" r="4.35"/><circle cx="1313.1" cy="811.8" r="4.35"/><circle cx="1313.1" cy="810.9" r="4.35"/><circle cx="1313.1" cy="826.7" r="4.35"/><circle cx="1313.1" cy="837.6" r="4.35"/><circle cx="1320.2" cy="837.6" r="4.35"/><circle cx="1320.2" cy="829.4" r="4.35"/><circle cx="1320.2" cy="776" r="4.35"/><circle cx="1320.2" cy="832.5" r="4.35"/><circle cx="1320.2" cy="828" r="4.35"/><circle cx="1320.2" cy="831.7" r="4.35"/><circle cx="1320.2" cy="799.6" r="4.35"/><circle cx="1320.2" cy="821.4" r="4.35"/><circle cx="919.5" cy="964.7" r="4.35"/><circle cx="961.7" cy="955.6" r="4.35"/><circle cx="989.8" cy="958.2" r="4.35"/><circle cx="1032" cy="953" r="4.35"/><circle cx="1088.2" cy="958.2" r="4.35"/><circle cx="1088.2" cy="947.7" r="4.35"/><circle cx="1158.5" cy="946.4" r="4.35"/><circle cx="1158.5" cy="943.8" r="4.35"/><circle cx="1165.5" cy="938.6" r="4.35"/><circle cx="1186.6" cy="994.8" r="4.35"/><circle cx="1221.8" cy="984.4" r="4.35"/><circle cx="1221.8" cy="955.6" r="4.35"/><circle cx="1242.8" cy="949" r="4.35"/><circle cx="1390.5" cy="894.1" r="4.35"/><circle cx="1292" cy="748.8" r="4.35"/><circle cx="1278" cy="767.1" r="4.35"/><circle cx="1278" cy="785.4" r="4.35"/><circle cx="1263.9" cy="795.9" r="4.35"/><circle cx="1327.2" cy="719.2" r="4.35"/><circle cx="1327.2" cy="735.7" r="4.35"/><circle cx="1327.2" cy="770.2" r="4.35"/><circle cx="1327.2" cy="777.9" r="4.35"/><circle cx="1327.2" cy="802.2" r="4.35"/><circle cx="1327.2" cy="805.7" r="4.35"/><circle cx="1327.2" cy="830" r="4.35"/><circle cx="1334.2" cy="698.4" r="4.35"/><circle cx="1334.2" cy="789" r="4.35"/><circle cx="1334.2" cy="798.7" r="4.35"/><circle cx="1334.2" cy="813.6" r="4.35"/><circle cx="1334.2" cy="830" r="4.35"/><circle cx="1334.2" cy="832.1" r="4.35"/><circle cx="1341.3" cy="711.6" r="4.35"/><circle cx="1341.3" cy="775.3" r="4.35"/><circle cx="1341.3" cy="803.1" r="4.35"/><circle cx="1341.3" cy="809.6" r="4.35"/><circle cx="1341.3" cy="818.9" r="4.35"/><circle cx="1341.3" cy="849.7" r="4.35"/><circle cx="1348.3" cy="679.9" r="4.35"/><circle cx="1348.3" cy="780.6" r="4.35"/><circle cx="1348.3" cy="804.8" r="4.35"/><circle cx="1348.3" cy="816.3" r="4.35"/><circle cx="1348.3" cy="825.1" r="4.35"/><circle cx="1348.3" cy="826.8" r="4.35"/><circle cx="1348.3" cy="833.9" r="4.35"/><circle cx="1348.3" cy="853.2" r="4.35"/><circle cx="1355.3" cy="691.7" r="4.35"/><circle cx="1355.3" cy="738.9" r="4.35"/><circle cx="1355.3" cy="789.9" r="4.35"/><circle cx="1355.3" cy="809.2" r="4.35"/><circle cx="1355.3" cy="816.3" r="4.35"/><circle cx="1355.3" cy="824.2" r="4.35"/><circle cx="1355.3" cy="847.9" r="4.35"/><circle cx="1362.3" cy="694.9" r="4.35"/><circle cx="1362.3" cy="781.1" r="4.35"/><circle cx="1362.3" cy="804.8" r="4.35"/><circle cx="1362.3" cy="810.1" r="4.35"/><circle cx="1362.3" cy="815.4" r="4.35"/><circle cx="1362.3" cy="833.9" r="4.35"/><circle cx="1362.3" cy="839.1" r="4.35"/><circle cx="1369.4" cy="745.4" r="4.35"/><circle cx="1369.4" cy="784.6" r="4.35"/><circle cx="1369.4" cy="788.1" r="4.35"/><circle cx="1369.4" cy="809.6" r="4.35"/><circle cx="1369.4" cy="833.9" r="4.35"/><circle cx="1369.4" cy="839.1" r="4.35"/><circle cx="1376.4" cy="650.9" r="4.35"/><circle cx="1376.4" cy="697.2" r="4.35"/><circle cx="1376.4" cy="747.7" r="4.35"/><circle cx="1376.4" cy="800.1" r="4.35"/><circle cx="1376.4" cy="821.5" r="4.35"/><circle cx="1376.4" cy="824.2" r="4.35"/><circle cx="1376.4" cy="827.7" r="4.35"/><circle cx="1383.4" cy="682" r="4.35"/><circle cx="1383.4" cy="779.3" r="4.35"/><circle cx="1383.4" cy="806.6" r="4.35"/><circle cx="1383.4" cy="847" r="4.35"/><circle cx="1390.5" cy="607.8" r="4.35"/><circle cx="1390.5" cy="651.4" r="4.35"/><circle cx="1390.5" cy="705.4" r="4.35"/><circle cx="1390.5" cy="720.4" r="4.35"/><circle cx="1390.5" cy="743.8" r="4.35"/><circle cx="1390.5" cy="779.3" r="4.35"/><circle cx="1390.5" cy="799.2" r="4.35"/><circle cx="1390.5" cy="818.9" r="4.35"/><circle cx="1390.5" cy="825.1" r="4.35"/><circle cx="1397.5" cy="683.5" r="4.35"/><circle cx="1397.5" cy="740.3" r="4.35"/><circle cx="1397.5" cy="812.7" r="4.35"/><circle cx="1397.5" cy="818" r="4.35"/><circle cx="1397.5" cy="823.3" r="4.35"/><circle cx="1397.5" cy="833.9" r="4.35"/><circle cx="1397.5" cy="839.1" r="4.35"/><circle cx="1404.5" cy="667.3" r="4.35"/><circle cx="1404.5" cy="779.9" r="4.35"/><circle cx="1404.5" cy="798.7" r="4.35"/><circle cx="1404.5" cy="811" r="4.35"/><circle cx="1404.5" cy="840.9" r="4.35"/><circle cx="1411.5" cy="743.3" r="4.35"/><circle cx="1411.5" cy="747.7" r="4.35"/><circle cx="1411.5" cy="774.9" r="4.35"/><circle cx="1411.5" cy="785.5" r="4.35"/><circle cx="1411.5" cy="802.2" r="4.35"/><circle cx="1411.5" cy="805.7" r="4.35"/><circle cx="1411.5" cy="829.5" r="4.35"/><circle cx="1418.6" cy="656.7" r="4.35"/><circle cx="1418.6" cy="760" r="4.35"/><circle cx="1418.6" cy="767" r="4.35"/><circle cx="1418.6" cy="796" r="4.35"/><circle cx="1418.6" cy="820.7" r="4.35"/><circle cx="1418.6" cy="835.6" r="4.35"/><circle cx="1425.6" cy="730.1" r="4.35"/><circle cx="1425.6" cy="752.9" r="4.35"/><circle cx="1425.6" cy="755.6" r="4.35"/><circle cx="1425.6" cy="789.9" r="4.35"/><circle cx="1425.6" cy="794.3" r="4.35"/><circle cx="1425.6" cy="812.7" r="4.35"/><circle cx="1425.6" cy="822.4" r="4.35"/><circle cx="1432.6" cy="662" r="4.35"/><circle cx="1432.6" cy="686.1" r="4.35"/><circle cx="1432.6" cy="718.6" r="4.35"/><circle cx="1432.6" cy="731.5" r="4.35"/><circle cx="1432.6" cy="782" r="4.35"/><circle cx="1432.6" cy="801.3" r="4.35"/><circle cx="1432.6" cy="822.4" r="4.35"/><circle cx="1432.6" cy="825.9" r="4.35"/><circle cx="1432.6" cy="830.3" r="4.35"/><circle cx="1432.6" cy="844.4" r="4.35"/><circle cx="1439.7" cy="713.4" r="4.35"/><circle cx="1439.7" cy="715.1" r="4.35"/><circle cx="1439.7" cy="738" r="4.35"/><circle cx="1439.7" cy="821.5" r="4.35"/><circle cx="1439.7" cy="823.3" r="4.35"/><circle cx="1439.7" cy="836.5" r="4.35"/><circle cx="1446.7" cy="655.8" r="4.35"/><circle cx="1446.7" cy="699.3" r="4.35"/><circle cx="1446.7" cy="716" r="4.35"/><circle cx="1446.7" cy="747.7" r="4.35"/><circle cx="1446.7" cy="755.6" r="4.35"/><circle cx="1446.7" cy="803.9" r="4.35"/><circle cx="1446.7" cy="809.6" r="4.35"/><circle cx="1446.7" cy="821.5" r="4.35"/><circle cx="1446.7" cy="833.9" r="4.35"/><circle cx="1453.7" cy="644.8" r="4.35"/><circle cx="1453.7" cy="658.5" r="4.35"/><circle cx="1453.7" cy="695.8" r="4.35"/><circle cx="1453.7" cy="735.9" r="4.35"/><circle cx="1453.7" cy="760" r="4.35"/><circle cx="1453.7" cy="783.7" r="4.35"/><circle cx="1453.7" cy="787.2" r="4.35"/><circle cx="1453.7" cy="794.3" r="4.35"/><circle cx="1453.7" cy="800.4" r="4.35"/><circle cx="1453.7" cy="808.3" r="4.35"/><circle cx="1453.7" cy="821.5" r="4.35"/><circle cx="1453.7" cy="828.6" r="4.35"/><circle cx="1460.8" cy="658.8" r="4.35"/><circle cx="1460.8" cy="681.7" r="4.35"/><circle cx="1460.8" cy="706.9" r="4.35"/><circle cx="1460.8" cy="709" r="4.35"/><circle cx="1460.8" cy="765.3" r="4.35"/><circle cx="1460.8" cy="776.7" r="4.35"/><circle cx="1460.8" cy="788.1" r="4.35"/><circle cx="1460.8" cy="795.2" r="4.35"/><circle cx="1460.8" cy="806.6" r="4.35"/><circle cx="1460.8" cy="828.6" r="4.35"/><circle cx="1460.8" cy="830.3" r="4.35"/><circle cx="1460.8" cy="840.9" r="4.35"/><circle cx="1467.8" cy="676.1" r="4.35"/><circle cx="1467.8" cy="685.6" r="4.35"/><circle cx="1467.8" cy="739.4" r="4.35"/><circle cx="1467.8" cy="756.5" r="4.35"/><circle cx="1467.8" cy="769.6" r="4.35"/><circle cx="1467.8" cy="794.8" r="4.35"/><circle cx="1467.8" cy="825.1" r="4.35"/><circle cx="1467.8" cy="833" r="4.35"/><circle cx="1474.8" cy="681.7" r="4.35"/><circle cx="1474.8" cy="774.9" r="4.35"/><circle cx="1474.8" cy="789" r="4.35"/><circle cx="1481.8" cy="585.8" r="4.35"/><circle cx="1481.8" cy="653.9" r="4.35"/><circle cx="1481.8" cy="666.4" r="4.35"/><circle cx="1481.8" cy="723.6" r="4.35"/><circle cx="1481.8" cy="760" r="4.35"/><circle cx="1481.8" cy="774.9" r="4.35"/><circle cx="1481.8" cy="794.3" r="4.35"/><circle cx="1481.8" cy="812.7" r="4.35"/><circle cx="1481.8" cy="820.7" r="4.35"/><circle cx="1488.9" cy="632.8" r="4.35"/><circle cx="1488.9" cy="647.4" r="4.35"/><circle cx="1488.9" cy="718.3" r="4.35"/><circle cx="1488.9" cy="728.8" r="4.35"/><circle cx="1488.9" cy="744.7" r="4.35"/><circle cx="1488.9" cy="764.4" r="4.35"/><circle cx="1488.9" cy="767" r="4.35"/><circle cx="1488.9" cy="769.6" r="4.35"/><circle cx="1488.9" cy="822.1" r="4.35"/><circle cx="1495.9" cy="632.8" r="4.35"/><circle cx="1495.9" cy="745.5" r="4.35"/><circle cx="1495.9" cy="748.5" r="4.35"/></g>
<path d="M832.5 843H1528.5" stroke="#525252" stroke-opacity="0.8" stroke-width="2.3" stroke-dasharray="9.42 9.42" fill="none"/>
<polygon points="863.8,859.5 869.1,860.1 874.4,860.7 879.8,861.3 885.1,861.9 890.4,862.5 895.7,863 901,863.6 906.3,864.1 911.6,864.7 916.9,865.2 922.2,865.6 927.6,866 932.9,866.3 938.2,866.7 943.5,867 948.8,867.4 954.1,867.7 959.4,868 964.7,868.3 970,868.6 975.4,868.8 980.7,869.1 986,869.3 991.3,869.6 996.6,869.8 1001.9,870 1007.2,870.2 1012.5,870.4 1017.9,870.5 1023.2,870.7 1028.5,870.9 1033.8,871 1039.1,871.2 1044.4,871.4 1049.7,871.5 1055,871.6 1060.3,871.8 1065.7,871.9 1071,872.1 1076.3,872.2 1081.6,872.3 1086.9,872.4 1092.2,872.5 1097.5,872.6 1102.8,872.7 1108.1,872.8 1113.5,872.9 1118.8,872.9 1124.1,872.9 1129.4,872.9 1134.7,872.8 1140,872.6 1145.3,872.3 1150.6,871.9 1155.9,871.3 1161.3,870.6 1166.6,869.8 1171.9,868.8 1177.2,867.8 1182.5,866.7 1187.8,865.6 1193.1,864.4 1198.4,863.2 1203.7,861.9 1209.1,860.6 1214.4,859.3 1219.7,857.9 1225,856.4 1230.3,854.8 1235.6,853.1 1240.9,851.4 1246.2,849.6 1251.6,847.7 1256.9,845.8 1262.2,843.8 1267.5,841.8 1272.8,839.8 1278.1,837.7 1283.4,835.7 1288.7,833.7 1294,831.7 1299.4,829.7 1304.7,827.8 1310,825.8 1315.3,823.9 1320.6,821.9 1325.9,819.9 1331.2,817.8 1336.5,815.7 1341.8,813.5 1347.2,811.2 1352.5,808.9 1357.8,806.5 1363.1,804.1 1368.4,801.7 1373.7,799.3 1379,796.9 1384.3,794.5 1389.6,792 1395,789.4 1400.3,786.8 1405.6,784.2 1410.9,781.5 1416.2,778.8 1421.5,775.8 1426.8,772.8 1432.1,769.7 1437.4,766.6 1442.8,763.4 1448.1,760.2 1453.4,757 1458.7,753.7 1464,750.4 1469.3,747 1474.6,743.5 1479.9,740 1485.3,736.4 1490.6,732.8 1495.9,729.1 1495.9,740.1 1490.6,743.4 1485.3,746.7 1479.9,749.8 1474.6,752.9 1469.3,756 1464,759 1458.7,761.9 1453.4,764.8 1448.1,767.6 1442.8,770.4 1437.4,773.2 1432.1,775.9 1426.8,778.5 1421.5,781.2 1416.2,783.8 1410.9,786.5 1405.6,789.2 1400.3,791.8 1395,794.4 1389.6,796.9 1384.3,799.4 1379,801.9 1373.7,804.3 1368.4,806.7 1363.1,809.1 1357.8,811.4 1352.5,813.8 1347.2,816.1 1341.8,818.3 1336.5,820.5 1331.2,822.6 1325.9,824.7 1320.6,826.7 1315.3,828.7 1310,830.7 1304.7,832.6 1299.4,834.5 1294,836.5 1288.7,838.5 1283.4,840.5 1278.1,842.5 1272.8,844.5 1267.5,846.5 1262.2,848.5 1256.9,850.5 1251.6,852.4 1246.2,854.3 1240.9,856.1 1235.6,857.8 1230.3,859.4 1225,861 1219.7,862.5 1214.4,863.9 1209.1,865.2 1203.7,866.5 1198.4,867.8 1193.1,869 1187.8,870.1 1182.5,871.3 1177.2,872.4 1171.9,873.4 1166.6,874.3 1161.3,875.1 1155.9,875.8 1150.6,876.4 1145.3,876.8 1140,877.1 1134.7,877.3 1129.4,877.3 1124.1,877.4 1118.8,877.3 1113.5,877.3 1108.1,877.2 1102.8,877.1 1097.5,877 1092.2,876.9 1086.9,876.8 1081.6,876.6 1076.3,876.5 1071,876.4 1065.7,876.2 1060.3,876.1 1055,875.9 1049.7,875.8 1044.4,875.6 1039.1,875.5 1033.8,875.3 1028.5,875.1 1023.2,874.9 1017.9,874.8 1012.5,874.6 1007.2,874.4 1001.9,874.2 996.6,874 991.3,873.7 986,873.5 980.7,873.2 975.4,873 970,872.7 964.7,872.4 959.4,872.1 954.1,871.8 948.8,871.5 943.5,871.1 938.2,870.8 932.9,870.4 927.6,870 922.2,869.6 916.9,869.2 911.6,868.8 906.3,868.5 901,868.2 895.7,867.8 890.4,867.5 885.1,867.1 879.8,866.7 874.4,866.4 869.1,866 863.8,865.6" fill="#949494" fill-opacity="0.38"/>
<polyline points="863.8,862.5 869.1,863.1 874.4,863.5 879.8,864 885.1,864.5 890.4,865 895.7,865.4 901,865.9 906.3,866.3 911.6,866.8 916.9,867.2 922.2,867.6 927.6,868 932.9,868.4 938.2,868.7 943.5,869.1 948.8,869.4 954.1,869.7 959.4,870.1 964.7,870.4 970,870.6 975.4,870.9 980.7,871.2 986,871.4 991.3,871.6 996.6,871.9 1001.9,872.1 1007.2,872.3 1012.5,872.5 1017.9,872.7 1023.2,872.8 1028.5,873 1033.8,873.2 1039.1,873.3 1044.4,873.5 1049.7,873.6 1055,873.8 1060.3,873.9 1065.7,874.1 1071,874.2 1076.3,874.3 1081.6,874.5 1086.9,874.6 1092.2,874.7 1097.5,874.8 1102.8,874.9 1108.1,875 1113.5,875.1 1118.8,875.1 1124.1,875.1 1129.4,875.1 1134.7,875 1140,874.8 1145.3,874.5 1150.6,874.1 1155.9,873.5 1161.3,872.8 1166.6,872 1171.9,871.1 1177.2,870.1 1182.5,869 1187.8,867.9 1193.1,866.7 1198.4,865.5 1203.7,864.2 1209.1,862.9 1214.4,861.6 1219.7,860.2 1225,858.7 1230.3,857.1 1235.6,855.5 1240.9,853.7 1246.2,851.9 1251.6,850.1 1256.9,848.1 1262.2,846.2 1267.5,844.2 1272.8,842.1 1278.1,840.1 1283.4,838.1 1288.7,836.1 1294,834.1 1299.4,832.1 1304.7,830.2 1310,828.2 1315.3,826.3 1320.6,824.3 1325.9,822.3 1331.2,820.2 1336.5,818.1 1341.8,815.9 1347.2,813.7 1352.5,811.3 1357.8,809 1363.1,806.6 1368.4,804.2 1373.7,801.8 1379,799.4 1384.3,796.9 1389.6,794.5 1395,791.9 1400.3,789.3 1405.6,786.7 1410.9,784 1416.2,781.3 1421.5,778.5 1426.8,775.7 1432.1,772.8 1437.4,769.9 1442.8,766.9 1448.1,763.9 1453.4,760.9 1458.7,757.8 1464,754.7 1469.3,751.5 1474.6,748.2 1479.9,744.9 1485.3,741.5 1490.6,738.1 1495.9,734.6" fill="none" stroke="#ea1418" stroke-width="3.8" stroke-linejoin="round" stroke-linecap="butt"/>
<g font-size="14.1" fill="#343434"><g text-anchor="end"><text x="824.5" y="978.9">−0.1</text><text x="824.5" y="848">0.0</text><text x="824.5" y="717.1">0.1</text><text x="824.5" y="586.2">0.2</text></g><g text-anchor="middle"><text x="968.7" y="1033.3">75</text><text x="1144.4" y="1033.3">100</text><text x="1320.2" y="1033.3">125</text><text x="1495.9" y="1033.3">150</text></g></g>
<g font-size="18.8" fill="#000" text-anchor="middle"><text x="1179.5" y="1055">ALP</text><text transform="translate(785.7 791) rotate(-90)" y="6.7">SHAP</text></g>
<text x="777.6" y="584.2" font-size="22.3" font-weight="normal" fill="#000" stroke="#000" stroke-width="1.0" stroke-linejoin="round">D</text>
<g fill="none"><path stroke="#dedede" stroke-width="1.0" d="M61.2 1434.1H763.5M61.2 1282.1H763.5M61.2 1130.1H763.5"/><path stroke="#ebebeb" stroke-width="1.7" d="M252.9 1122V1573M571.7 1122V1573"/></g>
<g fill="#000" fill-opacity="0.55"><circle cx="252.9" cy="1504" r="3.7"/><circle cx="252.9" cy="1507.1" r="3.7"/><circle cx="252.9" cy="1510.1" r="3.7"/><circle cx="252.9" cy="1513.1" r="3.7"/><circle cx="252.9" cy="1517.7" r="3.7"/><circle cx="252.9" cy="1520.7" r="3.7"/><circle cx="252.9" cy="1523.8" r="3.7"/><circle cx="252.9" cy="1526.8" r="3.7"/><circle cx="252.9" cy="1529.9" r="3.7"/><circle cx="252.9" cy="1534.4" r="3.7"/><circle cx="252.9" cy="1537.5" r="3.7"/><circle cx="252.9" cy="1543.5" r="3.7"/><circle cx="252.9" cy="1545.1" r="3.7"/><circle cx="252.9" cy="1552.7" r="3.7"/><circle cx="571.7" cy="1160.5" r="3.7"/><circle cx="571.7" cy="1160.5" r="3.7"/><circle cx="571.7" cy="1146.8" r="3.7"/><circle cx="571.7" cy="1142.3" r="3.7"/></g>
<path d="M252.9 1428.8V1436.6M252.9 1465.4V1508" stroke="#111" stroke-width="1.6" fill="none"/><rect x="172.9" y="1436.6" width="160" height="28.8" fill="#3182bd" fill-opacity="0.7" stroke="#151515" stroke-width="1.6"/><path d="M172.9 1448.6H332.9" stroke="#1a1a1a" stroke-width="2.7" fill="none"/>
<path d="M571.7 1219.4V1306.2M571.7 1393.5V1449.6" stroke="#111" stroke-width="1.6" fill="none"/><rect x="491.7" y="1306.2" width="159.9" height="87.3" fill="#3182bd" fill-opacity="0.7" stroke="#151515" stroke-width="1.6"/><path d="M491.7 1363.4H651.6" stroke="#1a1a1a" stroke-width="2.7" fill="none"/>
<g fill="#000" fill-opacity="0.4"><circle cx="274.5" cy="1445.2" r="3.7"/><circle cx="265.2" cy="1438" r="3.7"/><circle cx="234.8" cy="1441.2" r="3.7"/><circle cx="229" cy="1479.4" r="3.7"/><circle cx="244.9" cy="1498.4" r="3.7"/><circle cx="269.1" cy="1434.2" r="3.7"/><circle cx="267.9" cy="1460" r="3.7"/><circle cx="247.3" cy="1435.7" r="3.7"/><circle cx="262.1" cy="1438.7" r="3.7"/><circle cx="273.6" cy="1446" r="3.7"/><circle cx="225.2" cy="1455.9" r="3.7"/><circle cx="255.3" cy="1482.4" r="3.7"/><circle cx="269.2" cy="1449.6" r="3.7"/><circle cx="273.6" cy="1443.1" r="3.7"/><circle cx="235" cy="1435.3" r="3.7"/><circle cx="251.9" cy="1444.7" r="3.7"/><circle cx="244.4" cy="1481.4" r="3.7"/><circle cx="237.9" cy="1440.6" r="3.7"/><circle cx="271.9" cy="1437.1" r="3.7"/><circle cx="256.7" cy="1462.6" r="3.7"/><circle cx="256.9" cy="1457.3" r="3.7"/><circle cx="238" cy="1442.8" r="3.7"/><circle cx="265.5" cy="1437.3" r="3.7"/><circle cx="224.9" cy="1437" r="3.7"/><circle cx="283" cy="1443.6" r="3.7"/><circle cx="252.9" cy="1435.2" r="3.7"/><circle cx="233.2" cy="1450.7" r="3.7"/><circle cx="250.5" cy="1454.5" r="3.7"/><circle cx="266.5" cy="1444" r="3.7"/><circle cx="273.6" cy="1447.6" r="3.7"/><circle cx="276.5" cy="1451.5" r="3.7"/><circle cx="269.8" cy="1471.8" r="3.7"/><circle cx="245.1" cy="1436.1" r="3.7"/><circle cx="240" cy="1440.7" r="3.7"/><circle cx="265.5" cy="1436.2" r="3.7"/><circle cx="250.3" cy="1441.5" r="3.7"/><circle cx="255.3" cy="1446.2" r="3.7"/><circle cx="276.1" cy="1442.9" r="3.7"/><circle cx="228.1" cy="1438.8" r="3.7"/><circle cx="224" cy="1443.9" r="3.7"/><circle cx="237.1" cy="1449" r="3.7"/><circle cx="246.4" cy="1439.3" r="3.7"/><circle cx="239.9" cy="1510.5" r="3.7"/><circle cx="278" cy="1433.6" r="3.7"/><circle cx="250.1" cy="1435.9" r="3.7"/><circle cx="243.5" cy="1433.6" r="3.7"/><circle cx="245" cy="1443.8" r="3.7"/><circle cx="259.9" cy="1458.7" r="3.7"/><circle cx="251.3" cy="1446.3" r="3.7"/><circle cx="228.7" cy="1434.5" r="3.7"/><circle cx="252.7" cy="1435.9" r="3.7"/><circle cx="268.5" cy="1475.2" r="3.7"/><circle cx="269.6" cy="1490.6" r="3.7"/><circle cx="283.6" cy="1458.3" r="3.7"/><circle cx="246.8" cy="1445.4" r="3.7"/><circle cx="274.7" cy="1460.6" r="3.7"/><circle cx="262.4" cy="1434.4" r="3.7"/><circle cx="225.7" cy="1434.2" r="3.7"/><circle cx="265.1" cy="1433.6" r="3.7"/><circle cx="283.9" cy="1458.4" r="3.7"/><circle cx="238.9" cy="1435.9" r="3.7"/><circle cx="246.5" cy="1448.1" r="3.7"/><circle cx="239.8" cy="1460.9" r="3.7"/><circle cx="267.3" cy="1486.3" r="3.7"/><circle cx="278.6" cy="1453" r="3.7"/><circle cx="237.7" cy="1435.4" r="3.7"/><circle cx="246.1" cy="1443.3" r="3.7"/><circle cx="271.6" cy="1454.8" r="3.7"/><circle cx="277.6" cy="1464.8" r="3.7"/><circle cx="283.2" cy="1477.1" r="3.7"/><circle cx="270.8" cy="1451.8" r="3.7"/><circle cx="267" cy="1503.9" r="3.7"/><circle cx="239.6" cy="1449.5" r="3.7"/><circle cx="238.2" cy="1451.6" r="3.7"/><circle cx="244.2" cy="1480.9" r="3.7"/><circle cx="268" cy="1434.5" r="3.7"/><circle cx="256.1" cy="1448.4" r="3.7"/><circle cx="248.9" cy="1434.6" r="3.7"/><circle cx="247.4" cy="1449.2" r="3.7"/><circle cx="260.7" cy="1438.4" r="3.7"/><circle cx="263.8" cy="1462.1" r="3.7"/><circle cx="256.7" cy="1440.3" r="3.7"/><circle cx="283.8" cy="1490.2" r="3.7"/><circle cx="279.3" cy="1440" r="3.7"/><circle cx="251.9" cy="1436.3" r="3.7"/><circle cx="241.4" cy="1489.2" r="3.7"/><circle cx="249.6" cy="1450.8" r="3.7"/><circle cx="226.1" cy="1451.6" r="3.7"/><circle cx="253" cy="1438.8" r="3.7"/><circle cx="229.4" cy="1469.3" r="3.7"/><circle cx="275.3" cy="1470.1" r="3.7"/><circle cx="246.9" cy="1440.2" r="3.7"/><circle cx="236.8" cy="1444.7" r="3.7"/><circle cx="249.2" cy="1463.6" r="3.7"/><circle cx="238.1" cy="1434.1" r="3.7"/><circle cx="228.2" cy="1442" r="3.7"/><circle cx="253.9" cy="1504.1" r="3.7"/><circle cx="249.7" cy="1449.1" r="3.7"/><circle cx="237.1" cy="1436.2" r="3.7"/><circle cx="243.5" cy="1451.5" r="3.7"/><circle cx="241.3" cy="1452.8" r="3.7"/><circle cx="276.9" cy="1452" r="3.7"/><circle cx="243.4" cy="1442.9" r="3.7"/><circle cx="243.5" cy="1485.9" r="3.7"/><circle cx="237.3" cy="1455.3" r="3.7"/><circle cx="271.6" cy="1459.6" r="3.7"/><circle cx="261.8" cy="1448.3" r="3.7"/><circle cx="268.9" cy="1449.8" r="3.7"/><circle cx="240.6" cy="1442.2" r="3.7"/><circle cx="232" cy="1437" r="3.7"/><circle cx="235.3" cy="1447.3" r="3.7"/><circle cx="274.3" cy="1437.2" r="3.7"/><circle cx="226.1" cy="1448.5" r="3.7"/><circle cx="283.9" cy="1435" r="3.7"/><circle cx="252.5" cy="1443" r="3.7"/><circle cx="262.8" cy="1463.7" r="3.7"/><circle cx="279.7" cy="1458.1" r="3.7"/><circle cx="273.1" cy="1455.3" r="3.7"/><circle cx="251.8" cy="1447.3" r="3.7"/><circle cx="227" cy="1480.5" r="3.7"/><circle cx="257.6" cy="1448.1" r="3.7"/><circle cx="248.7" cy="1439" r="3.7"/><circle cx="265.4" cy="1483.5" r="3.7"/><circle cx="231.6" cy="1444.2" r="3.7"/><circle cx="247.1" cy="1459.2" r="3.7"/><circle cx="232.5" cy="1450" r="3.7"/><circle cx="281.3" cy="1451.1" r="3.7"/><circle cx="249.6" cy="1444.2" r="3.7"/><circle cx="222.9" cy="1444.3" r="3.7"/><circle cx="224.5" cy="1454.2" r="3.7"/><circle cx="263.4" cy="1481.3" r="3.7"/><circle cx="239.3" cy="1433.6" r="3.7"/><circle cx="278.1" cy="1465.9" r="3.7"/><circle cx="252.6" cy="1446.1" r="3.7"/><circle cx="257.3" cy="1439.2" r="3.7"/><circle cx="258.7" cy="1463.6" r="3.7"/><circle cx="272.1" cy="1463.4" r="3.7"/><circle cx="254" cy="1451.2" r="3.7"/><circle cx="223.5" cy="1446.5" r="3.7"/><circle cx="274.1" cy="1433.7" r="3.7"/><circle cx="273.5" cy="1443.7" r="3.7"/><circle cx="227.5" cy="1447.9" r="3.7"/><circle cx="260.9" cy="1449.4" r="3.7"/><circle cx="232.8" cy="1458.3" r="3.7"/><circle cx="251.5" cy="1456" r="3.7"/><circle cx="243.8" cy="1454.1" r="3.7"/><circle cx="274.6" cy="1438.1" r="3.7"/><circle cx="244.6" cy="1434.2" r="3.7"/><circle cx="283.3" cy="1438.2" r="3.7"/><circle cx="282.9" cy="1459.1" r="3.7"/><circle cx="263.3" cy="1462.1" r="3.7"/><circle cx="264.1" cy="1460.1" r="3.7"/><circle cx="230.4" cy="1437" r="3.7"/><circle cx="231.3" cy="1436.9" r="3.7"/><circle cx="238.6" cy="1438.7" r="3.7"/><circle cx="250.3" cy="1437.1" r="3.7"/><circle cx="246.7" cy="1461.4" r="3.7"/><circle cx="234.1" cy="1472.5" r="3.7"/><circle cx="276.1" cy="1474" r="3.7"/><circle cx="228.8" cy="1450.6" r="3.7"/><circle cx="243.1" cy="1442" r="3.7"/><circle cx="274.4" cy="1457.7" r="3.7"/><circle cx="282" cy="1450.4" r="3.7"/><circle cx="264.4" cy="1445.4" r="3.7"/><circle cx="246" cy="1441.4" r="3.7"/><circle cx="269.5" cy="1475.5" r="3.7"/><circle cx="281.2" cy="1443.3" r="3.7"/><circle cx="222.1" cy="1446.1" r="3.7"/><circle cx="233" cy="1452" r="3.7"/><circle cx="245" cy="1464.7" r="3.7"/><circle cx="228.6" cy="1455.7" r="3.7"/><circle cx="242.8" cy="1438.5" r="3.7"/><circle cx="273.4" cy="1471.6" r="3.7"/><circle cx="225.2" cy="1448" r="3.7"/><circle cx="230.7" cy="1443.3" r="3.7"/><circle cx="223.8" cy="1451.7" r="3.7"/><circle cx="230.5" cy="1441" r="3.7"/><circle cx="227.1" cy="1465.4" r="3.7"/><circle cx="263.2" cy="1483.1" r="3.7"/><circle cx="274" cy="1464.9" r="3.7"/><circle cx="234.1" cy="1435.1" r="3.7"/><circle cx="277.8" cy="1437.8" r="3.7"/><circle cx="282.9" cy="1441.4" r="3.7"/><circle cx="263.5" cy="1439.6" r="3.7"/><circle cx="255.9" cy="1458.6" r="3.7"/><circle cx="249.6" cy="1442.2" r="3.7"/><circle cx="259.4" cy="1434.6" r="3.7"/><circle cx="235.1" cy="1461.1" r="3.7"/><circle cx="251.4" cy="1446.9" r="3.7"/><circle cx="277.5" cy="1475.1" r="3.7"/><circle cx="271.6" cy="1450.1" r="3.7"/><circle cx="227.4" cy="1435.5" r="3.7"/><circle cx="240.6" cy="1482.5" r="3.7"/><circle cx="225" cy="1441" r="3.7"/><circle cx="233.2" cy="1442.9" r="3.7"/><circle cx="260.4" cy="1436.5" r="3.7"/><circle cx="269.1" cy="1452.2" r="3.7"/><circle cx="271.2" cy="1439.4" r="3.7"/><circle cx="228.6" cy="1443.8" r="3.7"/><circle cx="269.2" cy="1436.4" r="3.7"/><circle cx="248.6" cy="1436.9" r="3.7"/><circle cx="278.6" cy="1462.3" r="3.7"/><circle cx="280.5" cy="1461.5" r="3.7"/><circle cx="263.9" cy="1440.2" r="3.7"/><circle cx="234.2" cy="1450.2" r="3.7"/><circle cx="223.6" cy="1444.6" r="3.7"/><circle cx="242.8" cy="1435.3" r="3.7"/><circle cx="263.2" cy="1460.8" r="3.7"/><circle cx="283.8" cy="1443.7" r="3.7"/><circle cx="246.8" cy="1441.6" r="3.7"/><circle cx="222.4" cy="1448.3" r="3.7"/><circle cx="236.3" cy="1435" r="3.7"/><circle cx="282.7" cy="1449.7" r="3.7"/><circle cx="267.7" cy="1458.9" r="3.7"/><circle cx="263.9" cy="1442.1" r="3.7"/><circle cx="267" cy="1439.2" r="3.7"/><circle cx="251.4" cy="1457.8" r="3.7"/><circle cx="229.4" cy="1449.3" r="3.7"/><circle cx="276.1" cy="1445.4" r="3.7"/><circle cx="274.7" cy="1443.6" r="3.7"/><circle cx="232.1" cy="1452.7" r="3.7"/><circle cx="230.5" cy="1490.4" r="3.7"/><circle cx="256.3" cy="1443.2" r="3.7"/><circle cx="257.9" cy="1444.3" r="3.7"/><circle cx="282.5" cy="1488.6" r="3.7"/><circle cx="261.7" cy="1444" r="3.7"/><circle cx="270.4" cy="1437.7" r="3.7"/><circle cx="225.2" cy="1458.7" r="3.7"/><circle cx="250.7" cy="1485.4" r="3.7"/><circle cx="224.9" cy="1473.3" r="3.7"/><circle cx="228.3" cy="1449.9" r="3.7"/><circle cx="245.9" cy="1460.7" r="3.7"/><circle cx="246.7" cy="1435.5" r="3.7"/><circle cx="242.8" cy="1439.3" r="3.7"/><circle cx="256.2" cy="1439.3" r="3.7"/><circle cx="269.9" cy="1436.2" r="3.7"/><circle cx="273.2" cy="1469.9" r="3.7"/><circle cx="263.4" cy="1483.2" r="3.7"/><circle cx="268.3" cy="1450.8" r="3.7"/><circle cx="226.9" cy="1438" r="3.7"/><circle cx="276.1" cy="1438.1" r="3.7"/><circle cx="257.6" cy="1443.4" r="3.7"/><circle cx="279.4" cy="1486.5" r="3.7"/><circle cx="242.3" cy="1440.9" r="3.7"/><circle cx="241.1" cy="1453.5" r="3.7"/><circle cx="240.8" cy="1446" r="3.7"/><circle cx="279.5" cy="1440" r="3.7"/><circle cx="247.1" cy="1447.3" r="3.7"/><circle cx="275.4" cy="1434" r="3.7"/><circle cx="266.1" cy="1444.5" r="3.7"/><circle cx="255.1" cy="1448.5" r="3.7"/><circle cx="270.9" cy="1448.6" r="3.7"/><circle cx="231.7" cy="1468.7" r="3.7"/><circle cx="271.2" cy="1483.4" r="3.7"/><circle cx="267.1" cy="1501.5" r="3.7"/><circle cx="257" cy="1448.8" r="3.7"/><circle cx="258.5" cy="1496.1" r="3.7"/><circle cx="241.2" cy="1452.4" r="3.7"/><circle cx="283.1" cy="1442.7" r="3.7"/><circle cx="222.2" cy="1450.9" r="3.7"/><circle cx="223.5" cy="1441.2" r="3.7"/><circle cx="265.3" cy="1442.4" r="3.7"/><circle cx="271.6" cy="1469.4" r="3.7"/><circle cx="274" cy="1456.3" r="3.7"/><circle cx="268" cy="1452.9" r="3.7"/><circle cx="280.4" cy="1450.4" r="3.7"/><circle cx="261" cy="1438.3" r="3.7"/><circle cx="225.8" cy="1439.7" r="3.7"/><circle cx="250.2" cy="1456.8" r="3.7"/><circle cx="263.6" cy="1448.1" r="3.7"/><circle cx="245" cy="1435.9" r="3.7"/><circle cx="239.6" cy="1446.4" r="3.7"/><circle cx="252.1" cy="1439.6" r="3.7"/><circle cx="260.7" cy="1449.2" r="3.7"/><circle cx="284" cy="1456.4" r="3.7"/><circle cx="251.5" cy="1443.4" r="3.7"/><circle cx="233.4" cy="1475.8" r="3.7"/><circle cx="282.5" cy="1467.3" r="3.7"/><circle cx="236.5" cy="1466.8" r="3.7"/><circle cx="280.8" cy="1436.9" r="3.7"/><circle cx="229.1" cy="1466.1" r="3.7"/><circle cx="230" cy="1446.5" r="3.7"/><circle cx="284.3" cy="1451.3" r="3.7"/><circle cx="245.7" cy="1488.4" r="3.7"/><circle cx="245.8" cy="1460.7" r="3.7"/><circle cx="247.4" cy="1481.3" r="3.7"/><circle cx="227.8" cy="1436.9" r="3.7"/><circle cx="275.4" cy="1491.1" r="3.7"/><circle cx="241" cy="1449" r="3.7"/><circle cx="241.4" cy="1438.7" r="3.7"/><circle cx="251.4" cy="1452.7" r="3.7"/><circle cx="273.2" cy="1454.1" r="3.7"/><circle cx="247.9" cy="1458.8" r="3.7"/><circle cx="227" cy="1479.4" r="3.7"/><circle cx="266.7" cy="1448.1" r="3.7"/><circle cx="264.6" cy="1466.1" r="3.7"/><circle cx="281.4" cy="1475.1" r="3.7"/><circle cx="240.7" cy="1440" r="3.7"/><circle cx="263.2" cy="1484.6" r="3.7"/><circle cx="257.3" cy="1450.5" r="3.7"/><circle cx="222.3" cy="1456.8" r="3.7"/><circle cx="232.6" cy="1484.8" r="3.7"/><circle cx="245.7" cy="1440.2" r="3.7"/><circle cx="280.2" cy="1461.7" r="3.7"/><circle cx="250.5" cy="1456" r="3.7"/><circle cx="271.7" cy="1435.6" r="3.7"/><circle cx="263.8" cy="1467.3" r="3.7"/><circle cx="252.3" cy="1448.1" r="3.7"/><circle cx="247.5" cy="1441.7" r="3.7"/><circle cx="248.4" cy="1463.3" r="3.7"/><circle cx="244.5" cy="1438.3" r="3.7"/><circle cx="247.4" cy="1440.2" r="3.7"/><circle cx="228.7" cy="1467.8" r="3.7"/><circle cx="240.7" cy="1451.6" r="3.7"/><circle cx="266.5" cy="1444.2" r="3.7"/><circle cx="239.1" cy="1474.9" r="3.7"/><circle cx="257.6" cy="1460.8" r="3.7"/><circle cx="237.3" cy="1445.4" r="3.7"/><circle cx="253.7" cy="1439" r="3.7"/><circle cx="227.8" cy="1474.2" r="3.7"/><circle cx="278.2" cy="1444.4" r="3.7"/><circle cx="264.6" cy="1444.7" r="3.7"/><circle cx="258.7" cy="1435.6" r="3.7"/><circle cx="260.4" cy="1458.7" r="3.7"/><circle cx="230.9" cy="1464.8" r="3.7"/><circle cx="274.3" cy="1483.7" r="3.7"/><circle cx="255.3" cy="1461.7" r="3.7"/><circle cx="228.7" cy="1443.9" r="3.7"/><circle cx="229.6" cy="1446.5" r="3.7"/><circle cx="231.6" cy="1470.4" r="3.7"/><circle cx="263.1" cy="1465.6" r="3.7"/><circle cx="240.3" cy="1453.2" r="3.7"/><circle cx="245.2" cy="1442" r="3.7"/><circle cx="279.9" cy="1462.3" r="3.7"/><circle cx="282.8" cy="1447.2" r="3.7"/><circle cx="259.7" cy="1433.6" r="3.7"/><circle cx="228.4" cy="1445.1" r="3.7"/><circle cx="244.2" cy="1435.5" r="3.7"/><circle cx="280.6" cy="1441.3" r="3.7"/><circle cx="231.1" cy="1453.9" r="3.7"/><circle cx="283" cy="1437.3" r="3.7"/><circle cx="226" cy="1458.3" r="3.7"/><circle cx="280.7" cy="1443" r="3.7"/><circle cx="260.3" cy="1473.3" r="3.7"/><circle cx="226.3" cy="1457.4" r="3.7"/><circle cx="225.1" cy="1440.5" r="3.7"/><circle cx="269.8" cy="1444" r="3.7"/><circle cx="260.3" cy="1447.7" r="3.7"/><circle cx="284.2" cy="1451.1" r="3.7"/><circle cx="267.1" cy="1438.4" r="3.7"/><circle cx="229.9" cy="1455.8" r="3.7"/><circle cx="276" cy="1438.6" r="3.7"/><circle cx="226.1" cy="1448.2" r="3.7"/><circle cx="230.3" cy="1458" r="3.7"/><circle cx="228.3" cy="1436.5" r="3.7"/><circle cx="257" cy="1441.4" r="3.7"/><circle cx="240.6" cy="1438.2" r="3.7"/><circle cx="261.8" cy="1483.6" r="3.7"/><circle cx="279" cy="1460.5" r="3.7"/><circle cx="233.6" cy="1466.4" r="3.7"/><circle cx="223" cy="1436.3" r="3.7"/><circle cx="249.8" cy="1443.7" r="3.7"/><circle cx="275.4" cy="1463.7" r="3.7"/><circle cx="278.3" cy="1441.7" r="3.7"/><circle cx="265.6" cy="1442.1" r="3.7"/><circle cx="265.1" cy="1464.5" r="3.7"/><circle cx="244.4" cy="1435.9" r="3.7"/><circle cx="280.2" cy="1463" r="3.7"/><circle cx="262.7" cy="1437.8" r="3.7"/><circle cx="268.1" cy="1436.2" r="3.7"/><circle cx="245.3" cy="1436.2" r="3.7"/><circle cx="236.6" cy="1454.7" r="3.7"/><circle cx="262.3" cy="1441.7" r="3.7"/><circle cx="225.2" cy="1450.3" r="3.7"/><circle cx="236.1" cy="1475.4" r="3.7"/><circle cx="230.8" cy="1440.6" r="3.7"/><circle cx="259" cy="1436.7" r="3.7"/><circle cx="254.8" cy="1472.7" r="3.7"/><circle cx="251.6" cy="1448.3" r="3.7"/><circle cx="276" cy="1441.1" r="3.7"/><circle cx="227.1" cy="1438.2" r="3.7"/><circle cx="274.2" cy="1462.1" r="3.7"/><circle cx="266.5" cy="1455.6" r="3.7"/><circle cx="242.1" cy="1437.6" r="3.7"/><circle cx="241.8" cy="1450.7" r="3.7"/><circle cx="250.3" cy="1438.8" r="3.7"/><circle cx="244.3" cy="1454.4" r="3.7"/><circle cx="249.1" cy="1457.6" r="3.7"/><circle cx="257.6" cy="1451" r="3.7"/><circle cx="279.2" cy="1450.3" r="3.7"/><circle cx="228.1" cy="1471.5" r="3.7"/><circle cx="236.1" cy="1457.3" r="3.7"/><circle cx="265" cy="1438.8" r="3.7"/><circle cx="273.1" cy="1453.4" r="3.7"/><circle cx="284.8" cy="1443.5" r="3.7"/><circle cx="278.7" cy="1436.6" r="3.7"/><circle cx="227.9" cy="1464.3" r="3.7"/><circle cx="240.6" cy="1464.3" r="3.7"/><circle cx="232.3" cy="1473.7" r="3.7"/><circle cx="258.2" cy="1435.9" r="3.7"/><circle cx="236.3" cy="1450" r="3.7"/><circle cx="260.5" cy="1439" r="3.7"/><circle cx="233.4" cy="1434.6" r="3.7"/><circle cx="276.9" cy="1457.3" r="3.7"/><circle cx="231.2" cy="1436.1" r="3.7"/><circle cx="255" cy="1441.6" r="3.7"/><circle cx="223.5" cy="1457.3" r="3.7"/><circle cx="248.1" cy="1434.7" r="3.7"/><circle cx="233.2" cy="1437.6" r="3.7"/><circle cx="250.9" cy="1462.8" r="3.7"/><circle cx="227.8" cy="1446.1" r="3.7"/><circle cx="225.2" cy="1444.3" r="3.7"/><circle cx="241.8" cy="1471.9" r="3.7"/><circle cx="268" cy="1480.1" r="3.7"/><circle cx="255.9" cy="1438.7" r="3.7"/><circle cx="249.5" cy="1441.2" r="3.7"/><circle cx="253" cy="1433.9" r="3.7"/><circle cx="267.6" cy="1448.7" r="3.7"/><circle cx="235.6" cy="1444.2" r="3.7"/><circle cx="224.7" cy="1473.3" r="3.7"/><circle cx="275.5" cy="1481.6" r="3.7"/><circle cx="271.3" cy="1441.2" r="3.7"/><circle cx="269.2" cy="1440.2" r="3.7"/><circle cx="284.5" cy="1434.8" r="3.7"/><circle cx="267.5" cy="1436.2" r="3.7"/><circle cx="253.2" cy="1451.2" r="3.7"/><circle cx="236.9" cy="1452.5" r="3.7"/><circle cx="267.3" cy="1451.5" r="3.7"/><circle cx="239" cy="1448.2" r="3.7"/><circle cx="236.1" cy="1456.7" r="3.7"/><circle cx="234.8" cy="1450" r="3.7"/><circle cx="280.4" cy="1437.5" r="3.7"/><circle cx="226.8" cy="1474.2" r="3.7"/><circle cx="229.9" cy="1466" r="3.7"/><circle cx="263.2" cy="1463.4" r="3.7"/><circle cx="280" cy="1451.5" r="3.7"/><circle cx="277.1" cy="1450.3" r="3.7"/><circle cx="276.2" cy="1435.3" r="3.7"/><circle cx="278.7" cy="1459.9" r="3.7"/><circle cx="263" cy="1463.3" r="3.7"/><circle cx="230.1" cy="1435.4" r="3.7"/><circle cx="246.6" cy="1454.2" r="3.7"/><circle cx="237.5" cy="1446.3" r="3.7"/><circle cx="281.6" cy="1439" r="3.7"/><circle cx="227.4" cy="1441.8" r="3.7"/><circle cx="277.3" cy="1445.2" r="3.7"/><circle cx="275.4" cy="1451.8" r="3.7"/><circle cx="224.6" cy="1437.9" r="3.7"/><circle cx="249.4" cy="1435.3" r="3.7"/><circle cx="235" cy="1435.4" r="3.7"/><circle cx="232.1" cy="1442.2" r="3.7"/><circle cx="247.4" cy="1438.8" r="3.7"/><circle cx="230.2" cy="1445.5" r="3.7"/><circle cx="280.4" cy="1461.2" r="3.7"/><circle cx="234.5" cy="1440.1" r="3.7"/><circle cx="252.2" cy="1452.9" r="3.7"/><circle cx="245.8" cy="1448.3" r="3.7"/><circle cx="232.6" cy="1435.8" r="3.7"/><circle cx="259.7" cy="1439.4" r="3.7"/><circle cx="255.1" cy="1434.4" r="3.7"/><circle cx="249.8" cy="1449.3" r="3.7"/><circle cx="221.4" cy="1438" r="3.7"/><circle cx="244.4" cy="1447.7" r="3.7"/><circle cx="250.5" cy="1450.4" r="3.7"/><circle cx="261.4" cy="1482.4" r="3.7"/><circle cx="248.7" cy="1463.1" r="3.7"/><circle cx="271.7" cy="1457.6" r="3.7"/><circle cx="259.5" cy="1459.5" r="3.7"/><circle cx="237.9" cy="1444.6" r="3.7"/><circle cx="260" cy="1452.7" r="3.7"/><circle cx="235.4" cy="1443.2" r="3.7"/><circle cx="255.1" cy="1469.8" r="3.7"/><circle cx="268.7" cy="1444.6" r="3.7"/><circle cx="271.7" cy="1446.9" r="3.7"/><circle cx="229" cy="1470.2" r="3.7"/><circle cx="245.2" cy="1467.5" r="3.7"/><circle cx="241.9" cy="1459.1" r="3.7"/><circle cx="246.5" cy="1436.9" r="3.7"/><circle cx="257.9" cy="1447.6" r="3.7"/><circle cx="267.7" cy="1462.3" r="3.7"/><circle cx="274.8" cy="1437.2" r="3.7"/><circle cx="264.1" cy="1444.7" r="3.7"/><circle cx="279" cy="1445.3" r="3.7"/><circle cx="281.9" cy="1442.9" r="3.7"/><circle cx="237" cy="1440.7" r="3.7"/><circle cx="256.7" cy="1451.8" r="3.7"/><circle cx="229.1" cy="1482.3" r="3.7"/><circle cx="256.4" cy="1446.7" r="3.7"/><circle cx="263.5" cy="1461.6" r="3.7"/><circle cx="263.9" cy="1482.3" r="3.7"/><circle cx="266.8" cy="1440" r="3.7"/><circle cx="245.6" cy="1440" r="3.7"/><circle cx="249.4" cy="1450.8" r="3.7"/><circle cx="233.3" cy="1440.4" r="3.7"/><circle cx="248.3" cy="1460.7" r="3.7"/><circle cx="256.2" cy="1463.4" r="3.7"/><circle cx="270.5" cy="1453.3" r="3.7"/><circle cx="280.1" cy="1442" r="3.7"/><circle cx="283.3" cy="1440.1" r="3.7"/><circle cx="260.7" cy="1487.5" r="3.7"/><circle cx="281.7" cy="1447.6" r="3.7"/><circle cx="234.5" cy="1436.4" r="3.7"/><circle cx="226.8" cy="1483.8" r="3.7"/><circle cx="247" cy="1444.4" r="3.7"/><circle cx="274.7" cy="1442" r="3.7"/><circle cx="234.9" cy="1442.7" r="3.7"/><circle cx="255.3" cy="1442.1" r="3.7"/><circle cx="279.4" cy="1438.7" r="3.7"/><circle cx="231" cy="1433.7" r="3.7"/><circle cx="277.1" cy="1447.4" r="3.7"/><circle cx="267.7" cy="1440" r="3.7"/><circle cx="246.2" cy="1480.2" r="3.7"/><circle cx="222.7" cy="1462.8" r="3.7"/><circle cx="246.7" cy="1437.6" r="3.7"/><circle cx="226.9" cy="1462.5" r="3.7"/><circle cx="275.6" cy="1465.1" r="3.7"/><circle cx="280.7" cy="1450.4" r="3.7"/><circle cx="238.8" cy="1487.5" r="3.7"/><circle cx="277.5" cy="1440.4" r="3.7"/><circle cx="258.5" cy="1453.7" r="3.7"/><circle cx="270.9" cy="1461.7" r="3.7"/><circle cx="284.2" cy="1444.6" r="3.7"/><circle cx="267.7" cy="1435.4" r="3.7"/><circle cx="251.9" cy="1483" r="3.7"/><circle cx="228.5" cy="1434" r="3.7"/><circle cx="222.5" cy="1449.9" r="3.7"/><circle cx="278.8" cy="1447.9" r="3.7"/><circle cx="276.4" cy="1506.5" r="3.7"/><circle cx="269.4" cy="1438" r="3.7"/><circle cx="253.6" cy="1484.8" r="3.7"/><circle cx="262.1" cy="1433.8" r="3.7"/><circle cx="232.4" cy="1448.5" r="3.7"/><circle cx="263.4" cy="1442.9" r="3.7"/><circle cx="245" cy="1446.3" r="3.7"/><circle cx="226.4" cy="1455.6" r="3.7"/><circle cx="237.1" cy="1471" r="3.7"/><circle cx="266.1" cy="1452.9" r="3.7"/><circle cx="284.1" cy="1462.7" r="3.7"/><circle cx="257.9" cy="1439.1" r="3.7"/><circle cx="253.6" cy="1445.9" r="3.7"/><circle cx="243.5" cy="1472.2" r="3.7"/><circle cx="254.7" cy="1441.1" r="3.7"/><circle cx="254.5" cy="1454.9" r="3.7"/><circle cx="239.7" cy="1448.8" r="3.7"/><circle cx="262.5" cy="1450.8" r="3.7"/><circle cx="271.3" cy="1453" r="3.7"/><circle cx="282.5" cy="1452.4" r="3.7"/><circle cx="238" cy="1433.6" r="3.7"/><circle cx="242.9" cy="1439.3" r="3.7"/><circle cx="272.9" cy="1470.3" r="3.7"/><circle cx="235.2" cy="1436.8" r="3.7"/><circle cx="234" cy="1437.7" r="3.7"/><circle cx="234.6" cy="1445.7" r="3.7"/><circle cx="248.1" cy="1450.5" r="3.7"/><circle cx="251.2" cy="1459.5" r="3.7"/><circle cx="257.3" cy="1525.3" r="3.7"/><circle cx="252.6" cy="1459.1" r="3.7"/><circle cx="225.8" cy="1461.2" r="3.7"/><circle cx="276.1" cy="1439.3" r="3.7"/><circle cx="271.4" cy="1459.5" r="3.7"/><circle cx="234.1" cy="1448.6" r="3.7"/><circle cx="242.8" cy="1475.5" r="3.7"/><circle cx="262.6" cy="1438.7" r="3.7"/><circle cx="277.4" cy="1445.6" r="3.7"/><circle cx="250.4" cy="1437" r="3.7"/><circle cx="233.9" cy="1450.1" r="3.7"/><circle cx="280.4" cy="1456.7" r="3.7"/><circle cx="236.3" cy="1447.8" r="3.7"/><circle cx="232.4" cy="1447.6" r="3.7"/><circle cx="250.1" cy="1444" r="3.7"/><circle cx="270.2" cy="1439.4" r="3.7"/><circle cx="234.7" cy="1446.5" r="3.7"/><circle cx="245.5" cy="1454.4" r="3.7"/><circle cx="279.4" cy="1438.5" r="3.7"/><circle cx="251.6" cy="1445.4" r="3.7"/><circle cx="244.2" cy="1438.9" r="3.7"/><circle cx="227.2" cy="1433.8" r="3.7"/><circle cx="226.7" cy="1467.1" r="3.7"/><circle cx="254.9" cy="1440" r="3.7"/><circle cx="235.7" cy="1463.8" r="3.7"/><circle cx="224.3" cy="1444.4" r="3.7"/><circle cx="253.6" cy="1444.3" r="3.7"/><circle cx="256.4" cy="1434" r="3.7"/><circle cx="262" cy="1437.1" r="3.7"/><circle cx="281.4" cy="1495.9" r="3.7"/><circle cx="256.3" cy="1444" r="3.7"/><circle cx="231.4" cy="1435.1" r="3.7"/><circle cx="252.6" cy="1435" r="3.7"/><circle cx="279.4" cy="1462.8" r="3.7"/><circle cx="267.2" cy="1472.8" r="3.7"/><circle cx="272.3" cy="1443.1" r="3.7"/><circle cx="255.4" cy="1434.5" r="3.7"/><circle cx="276.8" cy="1473.2" r="3.7"/><circle cx="223.6" cy="1437.1" r="3.7"/><circle cx="275.4" cy="1434.6" r="3.7"/><circle cx="247.2" cy="1433.5" r="3.7"/><circle cx="244.5" cy="1451.7" r="3.7"/><circle cx="242.2" cy="1450.5" r="3.7"/><circle cx="242.5" cy="1447.6" r="3.7"/><circle cx="268.8" cy="1436.7" r="3.7"/><circle cx="243.3" cy="1442.2" r="3.7"/><circle cx="263.2" cy="1436.4" r="3.7"/><circle cx="247.7" cy="1454.7" r="3.7"/><circle cx="242.2" cy="1445.2" r="3.7"/><circle cx="238.4" cy="1518" r="3.7"/><circle cx="245.9" cy="1440.5" r="3.7"/><circle cx="269.1" cy="1436.8" r="3.7"/><circle cx="232.2" cy="1439.2" r="3.7"/><circle cx="229.6" cy="1454.2" r="3.7"/><circle cx="228.9" cy="1434.5" r="3.7"/><circle cx="233.3" cy="1447" r="3.7"/><circle cx="280.9" cy="1435.4" r="3.7"/><circle cx="252.7" cy="1456.3" r="3.7"/><circle cx="273.8" cy="1455.6" r="3.7"/><circle cx="266.3" cy="1440.3" r="3.7"/><circle cx="230" cy="1434.1" r="3.7"/><circle cx="231" cy="1434.7" r="3.7"/><circle cx="262.7" cy="1456.1" r="3.7"/><circle cx="222.6" cy="1437.9" r="3.7"/><circle cx="272.8" cy="1457.7" r="3.7"/><circle cx="240.7" cy="1500.5" r="3.7"/><circle cx="255.2" cy="1471.7" r="3.7"/><circle cx="235.8" cy="1476.2" r="3.7"/><circle cx="243.6" cy="1471.2" r="3.7"/><circle cx="227.1" cy="1473" r="3.7"/><circle cx="262.9" cy="1480.8" r="3.7"/><circle cx="233" cy="1499.8" r="3.7"/><circle cx="229.5" cy="1496.5" r="3.7"/><circle cx="234.7" cy="1498.7" r="3.7"/><circle cx="258.2" cy="1476.8" r="3.7"/><circle cx="224.9" cy="1486.5" r="3.7"/><circle cx="283.8" cy="1505.4" r="3.7"/><circle cx="235.8" cy="1501.6" r="3.7"/><circle cx="254.3" cy="1482.5" r="3.7"/><circle cx="280.2" cy="1491.4" r="3.7"/><circle cx="279.4" cy="1480.5" r="3.7"/><circle cx="242.4" cy="1479.4" r="3.7"/><circle cx="257.2" cy="1486.1" r="3.7"/><circle cx="239.3" cy="1472.8" r="3.7"/><circle cx="235.4" cy="1499.7" r="3.7"/><circle cx="221.1" cy="1479.6" r="3.7"/><circle cx="265.1" cy="1498.8" r="3.7"/><circle cx="246.1" cy="1487.9" r="3.7"/><circle cx="240" cy="1501.1" r="3.7"/><circle cx="230.2" cy="1469.3" r="3.7"/><circle cx="275.7" cy="1471.8" r="3.7"/><circle cx="281.1" cy="1476.6" r="3.7"/><circle cx="277.9" cy="1470.5" r="3.7"/><circle cx="255" cy="1503.5" r="3.7"/><circle cx="246.1" cy="1499.4" r="3.7"/><circle cx="238" cy="1485.2" r="3.7"/><circle cx="249" cy="1492.1" r="3.7"/><circle cx="245.3" cy="1483.1" r="3.7"/><circle cx="258.6" cy="1494.1" r="3.7"/><circle cx="274.6" cy="1508.7" r="3.7"/><circle cx="253.4" cy="1478.5" r="3.7"/><circle cx="263.3" cy="1505.7" r="3.7"/><circle cx="265.1" cy="1493" r="3.7"/><circle cx="236.5" cy="1468.8" r="3.7"/><circle cx="242.7" cy="1472.3" r="3.7"/><circle cx="224.2" cy="1510.1" r="3.7"/><circle cx="222.6" cy="1522.3" r="3.7"/><circle cx="227.4" cy="1525.3" r="3.7"/><circle cx="223.6" cy="1532.9" r="3.7"/><circle cx="233.8" cy="1543.5" r="3.7"/><circle cx="240.1" cy="1548.1" r="3.7"/><circle cx="268.8" cy="1543.5" r="3.7"/><circle cx="275.2" cy="1542" r="3.7"/><circle cx="278.4" cy="1552.7" r="3.7"/><circle cx="281.6" cy="1517.7" r="3.7"/><circle cx="283.2" cy="1510.1" r="3.7"/><circle cx="276.8" cy="1525.3" r="3.7"/><circle cx="280" cy="1428" r="3.7"/><circle cx="229" cy="1539" r="3.7"/><circle cx="570.8" cy="1353.1" r="3.7"/><circle cx="578.8" cy="1369.9" r="3.7"/><circle cx="584.6" cy="1295.9" r="3.7"/><circle cx="565.2" cy="1375.9" r="3.7"/><circle cx="555.5" cy="1365.7" r="3.7"/><circle cx="554.6" cy="1416.1" r="3.7"/><circle cx="592.9" cy="1359.1" r="3.7"/><circle cx="580" cy="1373.3" r="3.7"/><circle cx="550.9" cy="1341.7" r="3.7"/><circle cx="544.3" cy="1443.9" r="3.7"/><circle cx="577.8" cy="1358" r="3.7"/><circle cx="585" cy="1360.3" r="3.7"/><circle cx="548.7" cy="1290" r="3.7"/><circle cx="540.4" cy="1345.5" r="3.7"/><circle cx="582.8" cy="1411.9" r="3.7"/><circle cx="562.7" cy="1411.5" r="3.7"/><circle cx="601.4" cy="1390.9" r="3.7"/><circle cx="571.5" cy="1408.5" r="3.7"/><circle cx="565.9" cy="1350.5" r="3.7"/><circle cx="601.6" cy="1390.3" r="3.7"/><circle cx="577.6" cy="1379.6" r="3.7"/><circle cx="601.1" cy="1236.5" r="3.7"/><circle cx="579.1" cy="1340.3" r="3.7"/><circle cx="549.9" cy="1412.1" r="3.7"/><circle cx="561.2" cy="1327.5" r="3.7"/><circle cx="584.6" cy="1393.9" r="3.7"/><circle cx="555.5" cy="1331" r="3.7"/><circle cx="544.6" cy="1413" r="3.7"/><circle cx="587.7" cy="1413" r="3.7"/><circle cx="598.2" cy="1400.4" r="3.7"/><circle cx="594.5" cy="1418.2" r="3.7"/><circle cx="599.2" cy="1341.4" r="3.7"/><circle cx="562.8" cy="1426.8" r="3.7"/><circle cx="578.1" cy="1390.5" r="3.7"/><circle cx="553.5" cy="1315.8" r="3.7"/><circle cx="559.8" cy="1260.4" r="3.7"/><circle cx="542.7" cy="1369.1" r="3.7"/><circle cx="561.5" cy="1283.8" r="3.7"/><circle cx="603.2" cy="1340.8" r="3.7"/><circle cx="573" cy="1419.1" r="3.7"/><circle cx="593.6" cy="1384.5" r="3.7"/><circle cx="570.9" cy="1345.4" r="3.7"/><circle cx="580.9" cy="1317" r="3.7"/><circle cx="598.7" cy="1288.8" r="3.7"/><circle cx="587.6" cy="1375.5" r="3.7"/><circle cx="589.3" cy="1265" r="3.7"/><circle cx="600" cy="1325.5" r="3.7"/><circle cx="581.9" cy="1293.6" r="3.7"/><circle cx="545.2" cy="1402.7" r="3.7"/><circle cx="601.3" cy="1392" r="3.7"/><circle cx="556.8" cy="1383.9" r="3.7"/><circle cx="587.9" cy="1429.9" r="3.7"/><circle cx="558.1" cy="1353.4" r="3.7"/><circle cx="579.2" cy="1392.7" r="3.7"/><circle cx="565" cy="1347" r="3.7"/><circle cx="566.1" cy="1429.4" r="3.7"/><circle cx="569.3" cy="1380.8" r="3.7"/><circle cx="602.1" cy="1404.3" r="3.7"/><circle cx="603" cy="1354.4" r="3.7"/><circle cx="562.5" cy="1273.5" r="3.7"/><circle cx="556.9" cy="1370.3" r="3.7"/><circle cx="587.4" cy="1363.3" r="3.7"/><circle cx="551.5" cy="1308.7" r="3.7"/><circle cx="600.8" cy="1360.4" r="3.7"/><circle cx="580.1" cy="1382.9" r="3.7"/><circle cx="598.2" cy="1384.8" r="3.7"/><circle cx="569.9" cy="1304" r="3.7"/><circle cx="553.9" cy="1342.4" r="3.7"/><circle cx="550.1" cy="1375.2" r="3.7"/><circle cx="575.9" cy="1368" r="3.7"/><circle cx="547.1" cy="1362.9" r="3.7"/><circle cx="568.6" cy="1435.3" r="3.7"/><circle cx="585.6" cy="1360.8" r="3.7"/><circle cx="543" cy="1391.2" r="3.7"/><circle cx="548.4" cy="1369.1" r="3.7"/><circle cx="578.1" cy="1395.4" r="3.7"/><circle cx="572.2" cy="1337.2" r="3.7"/><circle cx="589.7" cy="1400" r="3.7"/><circle cx="551.8" cy="1374.7" r="3.7"/><circle cx="569.2" cy="1337.9" r="3.7"/><circle cx="591.5" cy="1400.3" r="3.7"/><circle cx="586.5" cy="1412.8" r="3.7"/><circle cx="578.9" cy="1344.7" r="3.7"/><circle cx="548.2" cy="1418" r="3.7"/><circle cx="600.1" cy="1371.7" r="3.7"/><circle cx="602.8" cy="1238.8" r="3.7"/><circle cx="594.2" cy="1423.5" r="3.7"/><circle cx="553.8" cy="1397" r="3.7"/><circle cx="578.5" cy="1336.2" r="3.7"/><circle cx="563" cy="1400.2" r="3.7"/><circle cx="558.5" cy="1326.5" r="3.7"/><circle cx="601.3" cy="1409.1" r="3.7"/><circle cx="592.8" cy="1402.9" r="3.7"/><circle cx="603.1" cy="1415.6" r="3.7"/><circle cx="571.8" cy="1357.7" r="3.7"/><circle cx="559.3" cy="1309.2" r="3.7"/><circle cx="546" cy="1399.6" r="3.7"/><circle cx="585.8" cy="1322.4" r="3.7"/><circle cx="584.5" cy="1399.6" r="3.7"/><circle cx="587.2" cy="1356.7" r="3.7"/><circle cx="544.8" cy="1400" r="3.7"/><circle cx="598.1" cy="1421.5" r="3.7"/><circle cx="569.6" cy="1378.7" r="3.7"/><circle cx="584.7" cy="1419.8" r="3.7"/><circle cx="593.2" cy="1387.5" r="3.7"/><circle cx="554.5" cy="1348.7" r="3.7"/><circle cx="566.4" cy="1356" r="3.7"/><circle cx="544.9" cy="1285" r="3.7"/><circle cx="540.1" cy="1419.8" r="3.7"/><circle cx="599.7" cy="1404.5" r="3.7"/><circle cx="559.4" cy="1435.8" r="3.7"/><circle cx="570.2" cy="1396.7" r="3.7"/><circle cx="601.8" cy="1400" r="3.7"/><circle cx="581.7" cy="1395.5" r="3.7"/><circle cx="543.2" cy="1434.4" r="3.7"/><circle cx="583.6" cy="1328.4" r="3.7"/><circle cx="597.1" cy="1323.8" r="3.7"/><circle cx="600.4" cy="1304.5" r="3.7"/><circle cx="572" cy="1318.7" r="3.7"/><circle cx="551.7" cy="1353.3" r="3.7"/><circle cx="578.4" cy="1377.5" r="3.7"/><circle cx="560.8" cy="1412" r="3.7"/><circle cx="586.9" cy="1416.8" r="3.7"/><circle cx="589.8" cy="1377.9" r="3.7"/><circle cx="564.4" cy="1418.2" r="3.7"/><circle cx="568.7" cy="1378.6" r="3.7"/><circle cx="563.4" cy="1384" r="3.7"/><circle cx="552.4" cy="1367.3" r="3.7"/><circle cx="560.6" cy="1363.2" r="3.7"/><circle cx="581" cy="1424.6" r="3.7"/><circle cx="568.6" cy="1370.6" r="3.7"/><circle cx="561.7" cy="1346.3" r="3.7"/><circle cx="565.6" cy="1316.8" r="3.7"/><circle cx="559.5" cy="1402.8" r="3.7"/><circle cx="559.8" cy="1402.2" r="3.7"/><circle cx="570" cy="1327.9" r="3.7"/><circle cx="554.2" cy="1386.2" r="3.7"/><circle cx="576.3" cy="1379.1" r="3.7"/><circle cx="543.4" cy="1364.3" r="3.7"/><circle cx="590" cy="1441.8" r="3.7"/><circle cx="589.7" cy="1285.3" r="3.7"/><circle cx="574" cy="1368.9" r="3.7"/><circle cx="562.8" cy="1436.1" r="3.7"/><circle cx="558.8" cy="1321.1" r="3.7"/><circle cx="563.3" cy="1331.6" r="3.7"/><circle cx="596.9" cy="1412.1" r="3.7"/><circle cx="595.6" cy="1406.1" r="3.7"/><circle cx="557.3" cy="1278.5" r="3.7"/><circle cx="600.4" cy="1394.4" r="3.7"/><circle cx="539.8" cy="1143.8" r="3.7"/><circle cx="558.9" cy="1160.5" r="3.7"/><circle cx="594" cy="1148.3" r="3.7"/><circle cx="594" cy="1219.8" r="3.7"/><circle cx="543" cy="1228.9" r="3.7"/><circle cx="558.9" cy="1230.4" r="3.7"/><circle cx="566.9" cy="1233.5" r="3.7"/><circle cx="578.1" cy="1242.6" r="3.7"/><circle cx="541.4" cy="1247.1" r="3.7"/><circle cx="555.8" cy="1239.5" r="3.7"/><circle cx="590.8" cy="1247.1" r="3.7"/><circle cx="587.6" cy="1253.2" r="3.7"/><circle cx="571.7" cy="1259.3" r="3.7"/><circle cx="546.2" cy="1265.4" r="3.7"/><circle cx="602" cy="1265.4" r="3.7"/><circle cx="600.4" cy="1450.8" r="3.7"/><circle cx="603.6" cy="1425" r="3.7"/><circle cx="581.3" cy="1429.5" r="3.7"/><circle cx="547.8" cy="1431.1" r="3.7"/><circle cx="595.6" cy="1432.6" r="3.7"/></g>
<clipPath id="c1434"><rect x="220.5" y="1429.4" width="65" height="10"/></clipPath>
<path d="M61.2 1434.4H763.5" stroke="#525252" stroke-opacity="1" stroke-width="2.1" stroke-dasharray="9.42 9.42" fill="none"/>
<path clip-path="url(#c1434)" d="M61.2 1434.4H763.5" stroke="#b4b4b4" stroke-width="2.1" stroke-dasharray="9.42 9.42" fill="none"/>
<g font-size="14.1" fill="#343434"><g text-anchor="end"><text x="52.7" y="1439.1">0.0</text><text x="52.7" y="1287.1">0.1</text><text x="52.7" y="1135.1">0.2</text></g><g text-anchor="middle"><text x="252.9" y="1590.8">0</text><text x="571.7" y="1590.8">1</text></g></g>
<g font-size="18.8" fill="#000" text-anchor="middle"><text x="411.2" y="1611.7">Concurrent Intrahepatic Bile Duct Stones</text><text transform="translate(17 1324) rotate(-90)" y="6.7">SHAP</text></g>
<g font-size="14.15" fill="#8a8a8a"><text x="61.3" y="1634.8">Box plot: Show the distribution of SHAP values under different Concurrent Intrahepatic Bile Duct Stones statuses.</text><text x="61.3" y="1649.9">Horizontal line: Median; Box: Interquartile range; Dots: Individual samples;0=No,1=Yes</text></g>
<text x="11" y="1137.7" font-size="22.3" font-weight="normal" fill="#000" stroke="#000" stroke-width="1.0" stroke-linejoin="round">E</text>
<g fill="none"><path stroke="#dedede" stroke-width="1.0" d="M840.2 1519.3H1528.5M840.2 1439H1528.5M840.2 1358.8H1528.5M840.2 1278.5H1528.5M840.2 1198.3H1528.5"/><path stroke="#ebebeb" stroke-width="1.7" d="M890.9 1122V1588M1093.1 1122V1588M1295.2 1122V1588M1497.4 1122V1588"/></g>
<g fill="#3182bd" fill-opacity="0.64"><circle cx="870.7" cy="1443.1" r="4.35"/><circle cx="870.7" cy="1385.1" r="4.35"/><circle cx="880.8" cy="1432" r="4.35"/><circle cx="880.8" cy="1418.7" r="4.35"/><circle cx="880.8" cy="1406.9" r="4.35"/><circle cx="890.9" cy="1431.3" r="4.35"/><circle cx="890.9" cy="1367" r="4.35"/><circle cx="890.9" cy="1364.1" r="4.35"/><circle cx="890.9" cy="1362.5" r="4.35"/><circle cx="890.9" cy="1418.5" r="4.35"/><circle cx="890.9" cy="1363.2" r="4.35"/><circle cx="890.9" cy="1428.3" r="4.35"/><circle cx="901" cy="1387" r="4.35"/><circle cx="901" cy="1365.9" r="4.35"/><circle cx="901" cy="1402.7" r="4.35"/><circle cx="901" cy="1384.6" r="4.35"/><circle cx="901" cy="1458" r="4.35"/><circle cx="901" cy="1360.3" r="4.35"/><circle cx="901" cy="1421.3" r="4.35"/><circle cx="911.1" cy="1365.7" r="4.35"/><circle cx="911.1" cy="1380.8" r="4.35"/><circle cx="911.1" cy="1374.3" r="4.35"/><circle cx="921.2" cy="1366.3" r="4.35"/><circle cx="921.2" cy="1380.7" r="4.35"/><circle cx="921.2" cy="1365.1" r="4.35"/><circle cx="931.3" cy="1374.2" r="4.35"/><circle cx="931.3" cy="1381.7" r="4.35"/><circle cx="931.3" cy="1391.7" r="4.35"/><circle cx="941.4" cy="1362.7" r="4.35"/><circle cx="941.4" cy="1379.2" r="4.35"/><circle cx="951.5" cy="1375.1" r="4.35"/><circle cx="951.5" cy="1465.5" r="4.35"/><circle cx="951.5" cy="1423.7" r="4.35"/><circle cx="961.7" cy="1413.4" r="4.35"/><circle cx="961.7" cy="1442.4" r="4.35"/><circle cx="971.8" cy="1362.1" r="4.35"/><circle cx="981.9" cy="1368.4" r="4.35"/><circle cx="981.9" cy="1359.2" r="4.35"/><circle cx="981.9" cy="1458.1" r="4.35"/><circle cx="981.9" cy="1398.7" r="4.35"/><circle cx="992" cy="1401.4" r="4.35"/><circle cx="992" cy="1359" r="4.35"/><circle cx="992" cy="1364.2" r="4.35"/><circle cx="992" cy="1389.5" r="4.35"/><circle cx="992" cy="1454.2" r="4.35"/><circle cx="992" cy="1403.9" r="4.35"/><circle cx="992" cy="1418.8" r="4.35"/><circle cx="1002.1" cy="1391" r="4.35"/><circle cx="1002.1" cy="1387.7" r="4.35"/><circle cx="1002.1" cy="1380.7" r="4.35"/><circle cx="1012.2" cy="1381.3" r="4.35"/><circle cx="1022.3" cy="1391.7" r="4.35"/><circle cx="1022.3" cy="1391.2" r="4.35"/><circle cx="1032.4" cy="1400.3" r="4.35"/><circle cx="1032.4" cy="1366.8" r="4.35"/><circle cx="1032.4" cy="1371" r="4.35"/><circle cx="1032.4" cy="1360" r="4.35"/><circle cx="1042.5" cy="1360.3" r="4.35"/><circle cx="1042.5" cy="1487.2" r="4.35"/><circle cx="1042.5" cy="1387.8" r="4.35"/><circle cx="1052.6" cy="1421.3" r="4.35"/><circle cx="1052.6" cy="1364.1" r="4.35"/><circle cx="1052.6" cy="1372.8" r="4.35"/><circle cx="1062.7" cy="1405.9" r="4.35"/><circle cx="1062.7" cy="1379.1" r="4.35"/><circle cx="1062.7" cy="1375.1" r="4.35"/><circle cx="1062.7" cy="1401.8" r="4.35"/><circle cx="1072.8" cy="1400.6" r="4.35"/><circle cx="1072.8" cy="1383.5" r="4.35"/><circle cx="1083" cy="1480.9" r="4.35"/><circle cx="1083" cy="1371.4" r="4.35"/><circle cx="1093.1" cy="1358.8" r="4.35"/><circle cx="1093.1" cy="1412.3" r="4.35"/><circle cx="1093.1" cy="1369.2" r="4.35"/><circle cx="1093.1" cy="1422" r="4.35"/><circle cx="1093.1" cy="1360.1" r="4.35"/><circle cx="1093.1" cy="1399.9" r="4.35"/><circle cx="1093.1" cy="1374.6" r="4.35"/><circle cx="1093.1" cy="1408.7" r="4.35"/><circle cx="1093.1" cy="1360.1" r="4.35"/><circle cx="1093.1" cy="1375" r="4.35"/><circle cx="1093.1" cy="1405.1" r="4.35"/><circle cx="1093.1" cy="1367.6" r="4.35"/><circle cx="1093.1" cy="1427" r="4.35"/><circle cx="1093.1" cy="1398.7" r="4.35"/><circle cx="1103.2" cy="1358.8" r="4.35"/><circle cx="1103.2" cy="1368.3" r="4.35"/><circle cx="1103.2" cy="1414.3" r="4.35"/><circle cx="1103.2" cy="1406.9" r="4.35"/><circle cx="1103.2" cy="1372.3" r="4.35"/><circle cx="1103.2" cy="1420.4" r="4.35"/><circle cx="1103.2" cy="1388" r="4.35"/><circle cx="1103.2" cy="1376.5" r="4.35"/><circle cx="1103.2" cy="1437" r="4.35"/><circle cx="1103.2" cy="1372" r="4.35"/><circle cx="1103.2" cy="1441.7" r="4.35"/><circle cx="1103.2" cy="1390.7" r="4.35"/><circle cx="1103.2" cy="1369.8" r="4.35"/><circle cx="1103.2" cy="1385.2" r="4.35"/><circle cx="1103.2" cy="1388.7" r="4.35"/><circle cx="1103.2" cy="1400.6" r="4.35"/><circle cx="1103.2" cy="1371.5" r="4.35"/><circle cx="1113.3" cy="1358.8" r="4.35"/><circle cx="1113.3" cy="1385.2" r="4.35"/><circle cx="1113.3" cy="1369" r="4.35"/><circle cx="1113.3" cy="1377.2" r="4.35"/><circle cx="1113.3" cy="1391.9" r="4.35"/><circle cx="1113.3" cy="1364.9" r="4.35"/><circle cx="1113.3" cy="1381" r="4.35"/><circle cx="1113.3" cy="1418.3" r="4.35"/><circle cx="1113.3" cy="1416.3" r="4.35"/><circle cx="1113.3" cy="1374.1" r="4.35"/><circle cx="1113.3" cy="1410.9" r="4.35"/><circle cx="1113.3" cy="1396.6" r="4.35"/><circle cx="1113.3" cy="1401.5" r="4.35"/><circle cx="1113.3" cy="1364.6" r="4.35"/><circle cx="1113.3" cy="1394.1" r="4.35"/><circle cx="1113.3" cy="1392.7" r="4.35"/><circle cx="1113.3" cy="1388.6" r="4.35"/><circle cx="1123.4" cy="1358.8" r="4.35"/><circle cx="1123.4" cy="1385.1" r="4.35"/><circle cx="1123.4" cy="1374.3" r="4.35"/><circle cx="1123.4" cy="1371.3" r="4.35"/><circle cx="1123.4" cy="1365.5" r="4.35"/><circle cx="1123.4" cy="1425.5" r="4.35"/><circle cx="1123.4" cy="1417.3" r="4.35"/><circle cx="1123.4" cy="1384.2" r="4.35"/><circle cx="1123.4" cy="1393.2" r="4.35"/><circle cx="1123.4" cy="1361" r="4.35"/><circle cx="1123.4" cy="1377.7" r="4.35"/><circle cx="1123.4" cy="1371.2" r="4.35"/><circle cx="1123.4" cy="1362.9" r="4.35"/><circle cx="1123.4" cy="1405.2" r="4.35"/><circle cx="1123.4" cy="1365.2" r="4.35"/><circle cx="1123.4" cy="1390.7" r="4.35"/><circle cx="1123.4" cy="1381.2" r="4.35"/><circle cx="1123.4" cy="1377.3" r="4.35"/><circle cx="1133.5" cy="1358.8" r="4.35"/><circle cx="1133.5" cy="1409.3" r="4.35"/><circle cx="1133.5" cy="1379.7" r="4.35"/><circle cx="1133.5" cy="1404.8" r="4.35"/><circle cx="1133.5" cy="1381.1" r="4.35"/><circle cx="1133.5" cy="1413.8" r="4.35"/><circle cx="1133.5" cy="1448.7" r="4.35"/><circle cx="1133.5" cy="1372.9" r="4.35"/><circle cx="1133.5" cy="1371.8" r="4.35"/><circle cx="1133.5" cy="1372.9" r="4.35"/><circle cx="1133.5" cy="1369.3" r="4.35"/><circle cx="1133.5" cy="1427.3" r="4.35"/><circle cx="1133.5" cy="1439.9" r="4.35"/><circle cx="1133.5" cy="1403.8" r="4.35"/><circle cx="1143.6" cy="1358.8" r="4.35"/><circle cx="1143.6" cy="1402.7" r="4.35"/><circle cx="1143.6" cy="1378.2" r="4.35"/><circle cx="1143.6" cy="1368.8" r="4.35"/><circle cx="1143.6" cy="1401.2" r="4.35"/><circle cx="1143.6" cy="1386" r="4.35"/><circle cx="1143.6" cy="1372.6" r="4.35"/><circle cx="1143.6" cy="1429.5" r="4.35"/><circle cx="1143.6" cy="1384.1" r="4.35"/><circle cx="1143.6" cy="1368.3" r="4.35"/><circle cx="1143.6" cy="1368.4" r="4.35"/><circle cx="1143.6" cy="1385.6" r="4.35"/><circle cx="1143.6" cy="1421.1" r="4.35"/><circle cx="1143.6" cy="1397.8" r="4.35"/><circle cx="1143.6" cy="1410.1" r="4.35"/><circle cx="1143.6" cy="1419.1" r="4.35"/><circle cx="1143.6" cy="1405.9" r="4.35"/><circle cx="1143.6" cy="1387.7" r="4.35"/><circle cx="1143.6" cy="1376.5" r="4.35"/><circle cx="1153.7" cy="1358.8" r="4.35"/><circle cx="1153.7" cy="1423.6" r="4.35"/><circle cx="1153.7" cy="1369.2" r="4.35"/><circle cx="1153.7" cy="1433" r="4.35"/><circle cx="1153.7" cy="1389.9" r="4.35"/><circle cx="1153.7" cy="1364.8" r="4.35"/><circle cx="1153.7" cy="1428.2" r="4.35"/><circle cx="1153.7" cy="1375.3" r="4.35"/><circle cx="1153.7" cy="1399.5" r="4.35"/><circle cx="1153.7" cy="1428.8" r="4.35"/><circle cx="1153.7" cy="1375.8" r="4.35"/><circle cx="1153.7" cy="1369" r="4.35"/><circle cx="1153.7" cy="1371.8" r="4.35"/><circle cx="1153.7" cy="1392.3" r="4.35"/><circle cx="1153.7" cy="1362.7" r="4.35"/><circle cx="1153.7" cy="1373.6" r="4.35"/><circle cx="1153.7" cy="1404" r="4.35"/><circle cx="1153.7" cy="1396.9" r="4.35"/><circle cx="1153.7" cy="1394.3" r="4.35"/><circle cx="1163.8" cy="1358.8" r="4.35"/><circle cx="1163.8" cy="1414" r="4.35"/><circle cx="1163.8" cy="1362.8" r="4.35"/><circle cx="1163.8" cy="1360" r="4.35"/><circle cx="1163.8" cy="1359.9" r="4.35"/><circle cx="1163.8" cy="1388.4" r="4.35"/><circle cx="1163.8" cy="1370.3" r="4.35"/><circle cx="1163.8" cy="1371.2" r="4.35"/><circle cx="1163.8" cy="1367.9" r="4.35"/><circle cx="1163.8" cy="1366.4" r="4.35"/><circle cx="1163.8" cy="1364.6" r="4.35"/><circle cx="1163.8" cy="1364.9" r="4.35"/><circle cx="1163.8" cy="1396.8" r="4.35"/><circle cx="1163.8" cy="1370.2" r="4.35"/><circle cx="1163.8" cy="1364.4" r="4.35"/><circle cx="1173.9" cy="1358.8" r="4.35"/><circle cx="1173.9" cy="1376.5" r="4.35"/><circle cx="1173.9" cy="1412.9" r="4.35"/><circle cx="1173.9" cy="1366.3" r="4.35"/><circle cx="1173.9" cy="1410.6" r="4.35"/><circle cx="1173.9" cy="1382.5" r="4.35"/><circle cx="1173.9" cy="1391.4" r="4.35"/><circle cx="1173.9" cy="1366.5" r="4.35"/><circle cx="1173.9" cy="1402.5" r="4.35"/><circle cx="1173.9" cy="1383" r="4.35"/><circle cx="1173.9" cy="1384.5" r="4.35"/><circle cx="1173.9" cy="1412.5" r="4.35"/><circle cx="1173.9" cy="1388" r="4.35"/><circle cx="1173.9" cy="1373.6" r="4.35"/><circle cx="1173.9" cy="1398.2" r="4.35"/><circle cx="1173.9" cy="1382.2" r="4.35"/><circle cx="1184" cy="1358.8" r="4.35"/><circle cx="1184" cy="1428.2" r="4.35"/><circle cx="1184" cy="1372.8" r="4.35"/><circle cx="1184" cy="1373.8" r="4.35"/><circle cx="1184" cy="1385.8" r="4.35"/><circle cx="1184" cy="1384.8" r="4.35"/><circle cx="1184" cy="1363.4" r="4.35"/><circle cx="1184" cy="1386" r="4.35"/><circle cx="1184" cy="1366.4" r="4.35"/><circle cx="1184" cy="1376.2" r="4.35"/><circle cx="1184" cy="1399.6" r="4.35"/><circle cx="1184" cy="1364" r="4.35"/><circle cx="1184" cy="1372.4" r="4.35"/><circle cx="1184" cy="1376.9" r="4.35"/><circle cx="1184" cy="1368" r="4.35"/><circle cx="1184" cy="1368.9" r="4.35"/><circle cx="1184" cy="1373.4" r="4.35"/><circle cx="1184" cy="1372" r="4.35"/><circle cx="1184" cy="1365.8" r="4.35"/><circle cx="1194.2" cy="1358.8" r="4.35"/><circle cx="1194.2" cy="1363" r="4.35"/><circle cx="1194.2" cy="1442.1" r="4.35"/><circle cx="1194.2" cy="1383.3" r="4.35"/><circle cx="1194.2" cy="1396.8" r="4.35"/><circle cx="1194.2" cy="1365" r="4.35"/><circle cx="1194.2" cy="1363" r="4.35"/><circle cx="1194.2" cy="1390.3" r="4.35"/><circle cx="1194.2" cy="1399.6" r="4.35"/><circle cx="1194.2" cy="1396.4" r="4.35"/><circle cx="1194.2" cy="1377.2" r="4.35"/><circle cx="1194.2" cy="1450.4" r="4.35"/><circle cx="1194.2" cy="1361.6" r="4.35"/><circle cx="1194.2" cy="1367.9" r="4.35"/><circle cx="1194.2" cy="1360.3" r="4.35"/><circle cx="1194.2" cy="1388.1" r="4.35"/><circle cx="1204.3" cy="1358.8" r="4.35"/><circle cx="1204.3" cy="1400" r="4.35"/><circle cx="1204.3" cy="1393.8" r="4.35"/><circle cx="1204.3" cy="1403.7" r="4.35"/><circle cx="1204.3" cy="1362.9" r="4.35"/><circle cx="1204.3" cy="1359.7" r="4.35"/><circle cx="1204.3" cy="1387.3" r="4.35"/><circle cx="1204.3" cy="1384.9" r="4.35"/><circle cx="1204.3" cy="1384.6" r="4.35"/><circle cx="1204.3" cy="1378.5" r="4.35"/><circle cx="1204.3" cy="1390.4" r="4.35"/><circle cx="1204.3" cy="1379.2" r="4.35"/><circle cx="1204.3" cy="1359.1" r="4.35"/><circle cx="1204.3" cy="1410.4" r="4.35"/><circle cx="1204.3" cy="1400.8" r="4.35"/><circle cx="1204.3" cy="1432.4" r="4.35"/><circle cx="1204.3" cy="1379.7" r="4.35"/><circle cx="1204.3" cy="1395.7" r="4.35"/><circle cx="1204.3" cy="1377.9" r="4.35"/><circle cx="1214.4" cy="1358.8" r="4.35"/><circle cx="1214.4" cy="1426.4" r="4.35"/><circle cx="1214.4" cy="1372.5" r="4.35"/><circle cx="1214.4" cy="1389.9" r="4.35"/><circle cx="1214.4" cy="1368.4" r="4.35"/><circle cx="1214.4" cy="1403.3" r="4.35"/><circle cx="1214.4" cy="1374.3" r="4.35"/><circle cx="1214.4" cy="1424.6" r="4.35"/><circle cx="1214.4" cy="1410.9" r="4.35"/><circle cx="1214.4" cy="1366.1" r="4.35"/><circle cx="1214.4" cy="1363.3" r="4.35"/><circle cx="1214.4" cy="1397.9" r="4.35"/><circle cx="1214.4" cy="1393.8" r="4.35"/><circle cx="1214.4" cy="1398.9" r="4.35"/><circle cx="1214.4" cy="1371.6" r="4.35"/><circle cx="1214.4" cy="1424.4" r="4.35"/><circle cx="1214.4" cy="1387.4" r="4.35"/><circle cx="1214.4" cy="1364.6" r="4.35"/><circle cx="1214.4" cy="1379.7" r="4.35"/><circle cx="1224.5" cy="1358.8" r="4.35"/><circle cx="1224.5" cy="1448.5" r="4.35"/><circle cx="1224.5" cy="1378.2" r="4.35"/><circle cx="1224.5" cy="1363.5" r="4.35"/><circle cx="1224.5" cy="1391.2" r="4.35"/><circle cx="1224.5" cy="1387.7" r="4.35"/><circle cx="1224.5" cy="1386" r="4.35"/><circle cx="1224.5" cy="1415" r="4.35"/><circle cx="1224.5" cy="1406.7" r="4.35"/><circle cx="1224.5" cy="1396.5" r="4.35"/><circle cx="1224.5" cy="1405" r="4.35"/><circle cx="1224.5" cy="1377.8" r="4.35"/><circle cx="1224.5" cy="1365.8" r="4.35"/><circle cx="1224.5" cy="1414.1" r="4.35"/><circle cx="1234.6" cy="1358.8" r="4.35"/><circle cx="1234.6" cy="1404.7" r="4.35"/><circle cx="1234.6" cy="1419.2" r="4.35"/><circle cx="1234.6" cy="1421.6" r="4.35"/><circle cx="1234.6" cy="1386.9" r="4.35"/><circle cx="1234.6" cy="1387.1" r="4.35"/><circle cx="1234.6" cy="1431.5" r="4.35"/><circle cx="1234.6" cy="1403.7" r="4.35"/><circle cx="1234.6" cy="1364.8" r="4.35"/><circle cx="1234.6" cy="1381.9" r="4.35"/><circle cx="1234.6" cy="1376.1" r="4.35"/><circle cx="1234.6" cy="1364.2" r="4.35"/><circle cx="1234.6" cy="1395.8" r="4.35"/><circle cx="1234.6" cy="1409.8" r="4.35"/><circle cx="1234.6" cy="1409.6" r="4.35"/><circle cx="1244.7" cy="1358.8" r="4.35"/><circle cx="1244.7" cy="1392" r="4.35"/><circle cx="1244.7" cy="1366.8" r="4.35"/><circle cx="1244.7" cy="1424.1" r="4.35"/><circle cx="1244.7" cy="1361.9" r="4.35"/><circle cx="1244.7" cy="1392.4" r="4.35"/><circle cx="1244.7" cy="1404.6" r="4.35"/><circle cx="1244.7" cy="1398.3" r="4.35"/><circle cx="1244.7" cy="1372.7" r="4.35"/><circle cx="1244.7" cy="1377.5" r="4.35"/><circle cx="1244.7" cy="1383.6" r="4.35"/><circle cx="1244.7" cy="1369.3" r="4.35"/><circle cx="1244.7" cy="1362" r="4.35"/><circle cx="1244.7" cy="1406" r="4.35"/><circle cx="1244.7" cy="1362.8" r="4.35"/><circle cx="1254.8" cy="1358.8" r="4.35"/><circle cx="1254.8" cy="1388.2" r="4.35"/><circle cx="1254.8" cy="1397.7" r="4.35"/><circle cx="1254.8" cy="1380.1" r="4.35"/><circle cx="1254.8" cy="1408.7" r="4.35"/><circle cx="1254.8" cy="1407.1" r="4.35"/><circle cx="1254.8" cy="1359.3" r="4.35"/><circle cx="1254.8" cy="1378.2" r="4.35"/><circle cx="1254.8" cy="1359.9" r="4.35"/><circle cx="1254.8" cy="1409.4" r="4.35"/><circle cx="1254.8" cy="1365.1" r="4.35"/><circle cx="1254.8" cy="1365" r="4.35"/><circle cx="1254.8" cy="1390.7" r="4.35"/><circle cx="1254.8" cy="1388.3" r="4.35"/><circle cx="1254.8" cy="1399.7" r="4.35"/><circle cx="1254.8" cy="1387.4" r="4.35"/><circle cx="1254.8" cy="1368.5" r="4.35"/><circle cx="1254.8" cy="1373.7" r="4.35"/><circle cx="1264.9" cy="1358.8" r="4.35"/><circle cx="1264.9" cy="1385.1" r="4.35"/><circle cx="1264.9" cy="1430.9" r="4.35"/><circle cx="1264.9" cy="1395.9" r="4.35"/><circle cx="1264.9" cy="1387.1" r="4.35"/><circle cx="1264.9" cy="1365.6" r="4.35"/><circle cx="1264.9" cy="1407.1" r="4.35"/><circle cx="1264.9" cy="1413" r="4.35"/><circle cx="1264.9" cy="1382.1" r="4.35"/><circle cx="1264.9" cy="1402.5" r="4.35"/><circle cx="1264.9" cy="1374.6" r="4.35"/><circle cx="1264.9" cy="1399.8" r="4.35"/><circle cx="1264.9" cy="1388.4" r="4.35"/><circle cx="1264.9" cy="1404.8" r="4.35"/><circle cx="1264.9" cy="1392.1" r="4.35"/><circle cx="1264.9" cy="1378.3" r="4.35"/><circle cx="1275" cy="1351.8" r="4.35"/><circle cx="1275" cy="1368.6" r="4.35"/><circle cx="1275" cy="1363.5" r="4.35"/><circle cx="1275" cy="1371.4" r="4.35"/><circle cx="1275" cy="1349.6" r="4.35"/><circle cx="1275" cy="1393.2" r="4.35"/><circle cx="1275" cy="1392.1" r="4.35"/><circle cx="1275" cy="1407.8" r="4.35"/><circle cx="1275" cy="1406.8" r="4.35"/><circle cx="1275" cy="1399" r="4.35"/><circle cx="1275" cy="1384" r="4.35"/><circle cx="1275" cy="1387.7" r="4.35"/><circle cx="1275" cy="1389.2" r="4.35"/><circle cx="1275" cy="1387.8" r="4.35"/><circle cx="1285.1" cy="1351.3" r="4.35"/><circle cx="1285.1" cy="1364.3" r="4.35"/><circle cx="1285.1" cy="1346.4" r="4.35"/><circle cx="1285.1" cy="1397.2" r="4.35"/><circle cx="1285.1" cy="1383.8" r="4.35"/><circle cx="1285.1" cy="1387.1" r="4.35"/><circle cx="1285.1" cy="1385.5" r="4.35"/><circle cx="1285.1" cy="1370" r="4.35"/><circle cx="1285.1" cy="1366" r="4.35"/><circle cx="1285.1" cy="1372.1" r="4.35"/><circle cx="1285.1" cy="1381.6" r="4.35"/><circle cx="1285.1" cy="1383.3" r="4.35"/><circle cx="1285.1" cy="1397.4" r="4.35"/><circle cx="1285.1" cy="1387.5" r="4.35"/><circle cx="1295.2" cy="1376.2" r="4.35"/><circle cx="1295.2" cy="1354.6" r="4.35"/><circle cx="1295.2" cy="1374.4" r="4.35"/><circle cx="1295.2" cy="1380.8" r="4.35"/><circle cx="1295.2" cy="1399.4" r="4.35"/><circle cx="1295.2" cy="1380.1" r="4.35"/><circle cx="1295.2" cy="1383.4" r="4.35"/><circle cx="1295.2" cy="1372.3" r="4.35"/><circle cx="1295.2" cy="1346" r="4.35"/><circle cx="1295.2" cy="1365.9" r="4.35"/><circle cx="1295.2" cy="1359.5" r="4.35"/><circle cx="1295.2" cy="1373.4" r="4.35"/><circle cx="1295.2" cy="1375.6" r="4.35"/><circle cx="1295.2" cy="1350.1" r="4.35"/><circle cx="1305.3" cy="1373.4" r="4.35"/><circle cx="1305.3" cy="1337.5" r="4.35"/><circle cx="1305.3" cy="1357.6" r="4.35"/><circle cx="1305.3" cy="1355.5" r="4.35"/><circle cx="1305.3" cy="1389.3" r="4.35"/><circle cx="1305.3" cy="1399.4" r="4.35"/><circle cx="1305.3" cy="1325.4" r="4.35"/><circle cx="1305.3" cy="1326.2" r="4.35"/><circle cx="1305.3" cy="1350.1" r="4.35"/><circle cx="1305.3" cy="1392" r="4.35"/><circle cx="1305.3" cy="1356.9" r="4.35"/><circle cx="1305.3" cy="1364.7" r="4.35"/><circle cx="1305.3" cy="1353.6" r="4.35"/><circle cx="1305.3" cy="1347" r="4.35"/><circle cx="1315.5" cy="1352.1" r="4.35"/><circle cx="1315.5" cy="1373.1" r="4.35"/><circle cx="1315.5" cy="1352.6" r="4.35"/><circle cx="1315.5" cy="1313.3" r="4.35"/><circle cx="1315.5" cy="1335.1" r="4.35"/><circle cx="1315.5" cy="1319.6" r="4.35"/><circle cx="1315.5" cy="1318.2" r="4.35"/><circle cx="1315.5" cy="1374.5" r="4.35"/><circle cx="1315.5" cy="1323" r="4.35"/><circle cx="1315.5" cy="1353.3" r="4.35"/><circle cx="1315.5" cy="1347.1" r="4.35"/><circle cx="1315.5" cy="1373.9" r="4.35"/><circle cx="1315.5" cy="1334.2" r="4.35"/><circle cx="1315.5" cy="1311.5" r="4.35"/><circle cx="1325.6" cy="1357.2" r="4.35"/><circle cx="1325.6" cy="1343.6" r="4.35"/><circle cx="1325.6" cy="1310.7" r="4.35"/><circle cx="1325.6" cy="1309.6" r="4.35"/><circle cx="1325.6" cy="1335.7" r="4.35"/><circle cx="1325.6" cy="1262.1" r="4.35"/><circle cx="1325.6" cy="1345.7" r="4.35"/><circle cx="1325.6" cy="1351.9" r="4.35"/><circle cx="1325.6" cy="1354.2" r="4.35"/><circle cx="1325.6" cy="1290.2" r="4.35"/><circle cx="1325.6" cy="1300.6" r="4.35"/><circle cx="1325.6" cy="1269" r="4.35"/><circle cx="1325.6" cy="1335.7" r="4.35"/><circle cx="1325.6" cy="1340.8" r="4.35"/><circle cx="1335.7" cy="1357.2" r="4.35"/><circle cx="1335.7" cy="1305.3" r="4.35"/><circle cx="1335.7" cy="1348.2" r="4.35"/><circle cx="1335.7" cy="1322.6" r="4.35"/><circle cx="1335.7" cy="1350.6" r="4.35"/><circle cx="1335.7" cy="1341.6" r="4.35"/><circle cx="1335.7" cy="1290.7" r="4.35"/><circle cx="1335.7" cy="1282.6" r="4.35"/><circle cx="1335.7" cy="1321.4" r="4.35"/><circle cx="1335.7" cy="1331.6" r="4.35"/><circle cx="1335.7" cy="1349.8" r="4.35"/><circle cx="1335.7" cy="1319.4" r="4.35"/><circle cx="1335.7" cy="1345.6" r="4.35"/><circle cx="1335.7" cy="1296.5" r="4.35"/><circle cx="1345.8" cy="1357.2" r="4.35"/><circle cx="1345.8" cy="1354.8" r="4.35"/><circle cx="1345.8" cy="1322.8" r="4.35"/><circle cx="1345.8" cy="1339.1" r="4.35"/><circle cx="1345.8" cy="1313.4" r="4.35"/><circle cx="1345.8" cy="1351.5" r="4.35"/><circle cx="1345.8" cy="1332.8" r="4.35"/><circle cx="1345.8" cy="1301" r="4.35"/><circle cx="1345.8" cy="1308.7" r="4.35"/><circle cx="1345.8" cy="1333.1" r="4.35"/><circle cx="1345.8" cy="1351.4" r="4.35"/><circle cx="1345.8" cy="1328.3" r="4.35"/><circle cx="1345.8" cy="1354.5" r="4.35"/><circle cx="1345.8" cy="1349.2" r="4.35"/><circle cx="1345.8" cy="1331.6" r="4.35"/><circle cx="1345.8" cy="1304.3" r="4.35"/><circle cx="1345.8" cy="1248.7" r="4.35"/><circle cx="1345.8" cy="1284.7" r="4.35"/><circle cx="1345.8" cy="1352.3" r="4.35"/><circle cx="1345.8" cy="1348.4" r="4.35"/><circle cx="1345.8" cy="1308.4" r="4.35"/><circle cx="1345.8" cy="1313.4" r="4.35"/><circle cx="1345.8" cy="1322.3" r="4.35"/><circle cx="1345.8" cy="1301.5" r="4.35"/><circle cx="1355.9" cy="1357.2" r="4.35"/><circle cx="1355.9" cy="1358.2" r="4.35"/><circle cx="1355.9" cy="1342.6" r="4.35"/><circle cx="1355.9" cy="1328.3" r="4.35"/><circle cx="1355.9" cy="1333.8" r="4.35"/><circle cx="1355.9" cy="1271.8" r="4.35"/><circle cx="1355.9" cy="1344.6" r="4.35"/><circle cx="1355.9" cy="1309.6" r="4.35"/><circle cx="1355.9" cy="1302.6" r="4.35"/><circle cx="1355.9" cy="1324.3" r="4.35"/><circle cx="1355.9" cy="1332.2" r="4.35"/><circle cx="1355.9" cy="1344.4" r="4.35"/><circle cx="1355.9" cy="1337.8" r="4.35"/><circle cx="1355.9" cy="1337.8" r="4.35"/><circle cx="1355.9" cy="1312.6" r="4.35"/><circle cx="1355.9" cy="1287.4" r="4.35"/><circle cx="1355.9" cy="1298.3" r="4.35"/><circle cx="1355.9" cy="1348.4" r="4.35"/><circle cx="1355.9" cy="1338.5" r="4.35"/><circle cx="1355.9" cy="1345.6" r="4.35"/><circle cx="1355.9" cy="1351.6" r="4.35"/><circle cx="1355.9" cy="1299.8" r="4.35"/><circle cx="1355.9" cy="1339.5" r="4.35"/><circle cx="1355.9" cy="1304.7" r="4.35"/><circle cx="1366" cy="1357.2" r="4.35"/><circle cx="1366" cy="1325.4" r="4.35"/><circle cx="1366" cy="1342.4" r="4.35"/><circle cx="1366" cy="1325.9" r="4.35"/><circle cx="1366" cy="1342.9" r="4.35"/><circle cx="1366" cy="1322.6" r="4.35"/><circle cx="1366" cy="1317.6" r="4.35"/><circle cx="1366" cy="1274.8" r="4.35"/><circle cx="1366" cy="1318" r="4.35"/><circle cx="1366" cy="1313.3" r="4.35"/><circle cx="1366" cy="1329.3" r="4.35"/><circle cx="1366" cy="1333.7" r="4.35"/><circle cx="1366" cy="1298.5" r="4.35"/><circle cx="1366" cy="1336.7" r="4.35"/><circle cx="1366" cy="1297.6" r="4.35"/><circle cx="1366" cy="1299.1" r="4.35"/><circle cx="1366" cy="1341.9" r="4.35"/><circle cx="1366" cy="1280.1" r="4.35"/><circle cx="1366" cy="1339.5" r="4.35"/><circle cx="1366" cy="1310.5" r="4.35"/><circle cx="1366" cy="1349.4" r="4.35"/><circle cx="1366" cy="1355.5" r="4.35"/><circle cx="1366" cy="1341.3" r="4.35"/><circle cx="1366" cy="1336.7" r="4.35"/><circle cx="1376.1" cy="1357.2" r="4.35"/><circle cx="1376.1" cy="1311.4" r="4.35"/><circle cx="1376.1" cy="1357.8" r="4.35"/><circle cx="1376.1" cy="1330.2" r="4.35"/><circle cx="1376.1" cy="1340.8" r="4.35"/><circle cx="1376.1" cy="1358" r="4.35"/><circle cx="1376.1" cy="1329" r="4.35"/><circle cx="1376.1" cy="1309.2" r="4.35"/><circle cx="1376.1" cy="1276.1" r="4.35"/><circle cx="1376.1" cy="1339.3" r="4.35"/><circle cx="1376.1" cy="1346.2" r="4.35"/><circle cx="1376.1" cy="1352.8" r="4.35"/><circle cx="1376.1" cy="1357.8" r="4.35"/><circle cx="1376.1" cy="1339.3" r="4.35"/><circle cx="1376.1" cy="1347.8" r="4.35"/><circle cx="1376.1" cy="1327" r="4.35"/><circle cx="1376.1" cy="1349.4" r="4.35"/><circle cx="1376.1" cy="1346.4" r="4.35"/><circle cx="1376.1" cy="1353.2" r="4.35"/><circle cx="1376.1" cy="1315.1" r="4.35"/><circle cx="1376.1" cy="1352.4" r="4.35"/><circle cx="1376.1" cy="1330.6" r="4.35"/><circle cx="1376.1" cy="1322.3" r="4.35"/><circle cx="1376.1" cy="1339.9" r="4.35"/><circle cx="1386.2" cy="1357.2" r="4.35"/><circle cx="1386.2" cy="1351.2" r="4.35"/><circle cx="1386.2" cy="1342.7" r="4.35"/><circle cx="1386.2" cy="1337" r="4.35"/><circle cx="1386.2" cy="1356.2" r="4.35"/><circle cx="1386.2" cy="1319.5" r="4.35"/><circle cx="1386.2" cy="1348.2" r="4.35"/><circle cx="1386.2" cy="1357.3" r="4.35"/><circle cx="1386.2" cy="1312.9" r="4.35"/><circle cx="1386.2" cy="1344.6" r="4.35"/><circle cx="1386.2" cy="1352.1" r="4.35"/><circle cx="1386.2" cy="1349.2" r="4.35"/><circle cx="1386.2" cy="1317.2" r="4.35"/><circle cx="1386.2" cy="1338.4" r="4.35"/><circle cx="1386.2" cy="1294.6" r="4.35"/><circle cx="1386.2" cy="1349.5" r="4.35"/><circle cx="1386.2" cy="1298.9" r="4.35"/><circle cx="1386.2" cy="1338.5" r="4.35"/><circle cx="1386.2" cy="1335.2" r="4.35"/><circle cx="1386.2" cy="1301.8" r="4.35"/><circle cx="1386.2" cy="1292.8" r="4.35"/><circle cx="1386.2" cy="1356.6" r="4.35"/><circle cx="1386.2" cy="1358.3" r="4.35"/><circle cx="1386.2" cy="1343" r="4.35"/><circle cx="1396.3" cy="1357.2" r="4.35"/><circle cx="1396.3" cy="1315.9" r="4.35"/><circle cx="1396.3" cy="1300" r="4.35"/><circle cx="1396.3" cy="1338.3" r="4.35"/><circle cx="1396.3" cy="1353.6" r="4.35"/><circle cx="1396.3" cy="1308.7" r="4.35"/><circle cx="1396.3" cy="1333.3" r="4.35"/><circle cx="1396.3" cy="1301.6" r="4.35"/><circle cx="1396.3" cy="1325.4" r="4.35"/><circle cx="1396.3" cy="1351.9" r="4.35"/><circle cx="1396.3" cy="1358.1" r="4.35"/><circle cx="1396.3" cy="1312.5" r="4.35"/><circle cx="1396.3" cy="1349.8" r="4.35"/><circle cx="1396.3" cy="1255.6" r="4.35"/><circle cx="1396.3" cy="1317.5" r="4.35"/><circle cx="1396.3" cy="1327.5" r="4.35"/><circle cx="1396.3" cy="1343" r="4.35"/><circle cx="1396.3" cy="1353.4" r="4.35"/><circle cx="1396.3" cy="1286" r="4.35"/><circle cx="1396.3" cy="1299.1" r="4.35"/><circle cx="1396.3" cy="1353.6" r="4.35"/><circle cx="1396.3" cy="1275.8" r="4.35"/><circle cx="1396.3" cy="1356.3" r="4.35"/><circle cx="1396.3" cy="1304.2" r="4.35"/><circle cx="1406.4" cy="1357.2" r="4.35"/><circle cx="1406.4" cy="1343.4" r="4.35"/><circle cx="1406.4" cy="1337.8" r="4.35"/><circle cx="1406.4" cy="1329.1" r="4.35"/><circle cx="1406.4" cy="1350" r="4.35"/><circle cx="1406.4" cy="1331.2" r="4.35"/><circle cx="1406.4" cy="1325.9" r="4.35"/><circle cx="1406.4" cy="1281.2" r="4.35"/><circle cx="1406.4" cy="1326.4" r="4.35"/><circle cx="1406.4" cy="1340" r="4.35"/><circle cx="1406.4" cy="1338.9" r="4.35"/><circle cx="1406.4" cy="1289.1" r="4.35"/><circle cx="1406.4" cy="1356.3" r="4.35"/><circle cx="1406.4" cy="1296.5" r="4.35"/><circle cx="1406.4" cy="1343.8" r="4.35"/><circle cx="1406.4" cy="1304.8" r="4.35"/><circle cx="1406.4" cy="1353.7" r="4.35"/><circle cx="1406.4" cy="1345.1" r="4.35"/><circle cx="1406.4" cy="1283.4" r="4.35"/><circle cx="1406.4" cy="1357.1" r="4.35"/><circle cx="1406.4" cy="1351.9" r="4.35"/><circle cx="1406.4" cy="1354.8" r="4.35"/><circle cx="1406.4" cy="1284" r="4.35"/><circle cx="1406.4" cy="1319.4" r="4.35"/><circle cx="1416.5" cy="1357.2" r="4.35"/><circle cx="1416.5" cy="1290.7" r="4.35"/><circle cx="1416.5" cy="1326.5" r="4.35"/><circle cx="1416.5" cy="1342.5" r="4.35"/><circle cx="1416.5" cy="1343.9" r="4.35"/><circle cx="1416.5" cy="1310.3" r="4.35"/><circle cx="1416.5" cy="1329.1" r="4.35"/><circle cx="1416.5" cy="1330.2" r="4.35"/><circle cx="1416.5" cy="1326.6" r="4.35"/><circle cx="1416.5" cy="1328.2" r="4.35"/><circle cx="1416.5" cy="1350.9" r="4.35"/><circle cx="1416.5" cy="1358.5" r="4.35"/><circle cx="1416.5" cy="1305" r="4.35"/><circle cx="1416.5" cy="1354.3" r="4.35"/><circle cx="1416.5" cy="1354.4" r="4.35"/><circle cx="1416.5" cy="1315.4" r="4.35"/><circle cx="1416.5" cy="1353.5" r="4.35"/><circle cx="1416.5" cy="1344.3" r="4.35"/><circle cx="1416.5" cy="1299" r="4.35"/><circle cx="1416.5" cy="1316.7" r="4.35"/><circle cx="1416.5" cy="1265.3" r="4.35"/><circle cx="1416.5" cy="1349.2" r="4.35"/><circle cx="1416.5" cy="1269.2" r="4.35"/><circle cx="1416.5" cy="1300.6" r="4.35"/><circle cx="1426.6" cy="1357.2" r="4.35"/><circle cx="1426.6" cy="1325.6" r="4.35"/><circle cx="1426.6" cy="1292.8" r="4.35"/><circle cx="1426.6" cy="1296.3" r="4.35"/><circle cx="1426.6" cy="1340.8" r="4.35"/><circle cx="1426.6" cy="1338.2" r="4.35"/><circle cx="1426.6" cy="1317.5" r="4.35"/><circle cx="1426.6" cy="1354.3" r="4.35"/><circle cx="1426.6" cy="1353.7" r="4.35"/><circle cx="1426.6" cy="1303" r="4.35"/><circle cx="1426.6" cy="1355" r="4.35"/><circle cx="1426.6" cy="1332.2" r="4.35"/><circle cx="1426.6" cy="1317.1" r="4.35"/><circle cx="1426.6" cy="1340.2" r="4.35"/><circle cx="1426.6" cy="1358.7" r="4.35"/><circle cx="1426.6" cy="1295.5" r="4.35"/><circle cx="1426.6" cy="1294.9" r="4.35"/><circle cx="1426.6" cy="1271.8" r="4.35"/><circle cx="1426.6" cy="1352.9" r="4.35"/><circle cx="1426.6" cy="1301.3" r="4.35"/><circle cx="1426.6" cy="1342.6" r="4.35"/><circle cx="1426.6" cy="1325.5" r="4.35"/><circle cx="1426.6" cy="1348.9" r="4.35"/><circle cx="1426.6" cy="1350.6" r="4.35"/><circle cx="1436.8" cy="1357.2" r="4.35"/><circle cx="1436.8" cy="1337.4" r="4.35"/><circle cx="1436.8" cy="1331.6" r="4.35"/><circle cx="1436.8" cy="1331.6" r="4.35"/><circle cx="1436.8" cy="1356.3" r="4.35"/><circle cx="1436.8" cy="1355.1" r="4.35"/><circle cx="1436.8" cy="1318.9" r="4.35"/><circle cx="1436.8" cy="1333.5" r="4.35"/><circle cx="1436.8" cy="1345.2" r="4.35"/><circle cx="1436.8" cy="1341.2" r="4.35"/><circle cx="1436.8" cy="1316.2" r="4.35"/><circle cx="1436.8" cy="1300.4" r="4.35"/><circle cx="1436.8" cy="1342.2" r="4.35"/><circle cx="1436.8" cy="1350.9" r="4.35"/><circle cx="1436.8" cy="1324.2" r="4.35"/><circle cx="1436.8" cy="1321.6" r="4.35"/><circle cx="1436.8" cy="1298.6" r="4.35"/><circle cx="1436.8" cy="1331.5" r="4.35"/><circle cx="1436.8" cy="1330.1" r="4.35"/><circle cx="1436.8" cy="1304.5" r="4.35"/><circle cx="1436.8" cy="1345.8" r="4.35"/><circle cx="1436.8" cy="1344.9" r="4.35"/><circle cx="1436.8" cy="1340.3" r="4.35"/><circle cx="1436.8" cy="1275.8" r="4.35"/><circle cx="1446.9" cy="1357.2" r="4.35"/><circle cx="1446.9" cy="1323.2" r="4.35"/><circle cx="1446.9" cy="1344.3" r="4.35"/><circle cx="1446.9" cy="1274.3" r="4.35"/><circle cx="1446.9" cy="1343.1" r="4.35"/><circle cx="1446.9" cy="1307.8" r="4.35"/><circle cx="1446.9" cy="1303.2" r="4.35"/><circle cx="1446.9" cy="1352.1" r="4.35"/><circle cx="1446.9" cy="1308.4" r="4.35"/><circle cx="1446.9" cy="1315.9" r="4.35"/><circle cx="1446.9" cy="1355.6" r="4.35"/><circle cx="1446.9" cy="1336" r="4.35"/><circle cx="1446.9" cy="1331.5" r="4.35"/><circle cx="1446.9" cy="1304.3" r="4.35"/><circle cx="1446.9" cy="1273.5" r="4.35"/><circle cx="1446.9" cy="1354.4" r="4.35"/><circle cx="1446.9" cy="1342.6" r="4.35"/><circle cx="1446.9" cy="1354.8" r="4.35"/><circle cx="1446.9" cy="1329.3" r="4.35"/><circle cx="1446.9" cy="1323" r="4.35"/><circle cx="1446.9" cy="1323.9" r="4.35"/><circle cx="1446.9" cy="1311.7" r="4.35"/><circle cx="1446.9" cy="1352.2" r="4.35"/><circle cx="1446.9" cy="1347.7" r="4.35"/><circle cx="1457" cy="1357.2" r="4.35"/><circle cx="1457" cy="1333.3" r="4.35"/><circle cx="1457" cy="1271.7" r="4.35"/><circle cx="1457" cy="1337.5" r="4.35"/><circle cx="1457" cy="1335.5" r="4.35"/><circle cx="1457" cy="1313.6" r="4.35"/><circle cx="1457" cy="1314.5" r="4.35"/><circle cx="1457" cy="1351.8" r="4.35"/><circle cx="1457" cy="1259.4" r="4.35"/><circle cx="1457" cy="1279.3" r="4.35"/><circle cx="1457" cy="1347" r="4.35"/><circle cx="1457" cy="1336.1" r="4.35"/><circle cx="1457" cy="1279.3" r="4.35"/><circle cx="1457" cy="1335.1" r="4.35"/><circle cx="1457" cy="1337.4" r="4.35"/><circle cx="1457" cy="1327.6" r="4.35"/><circle cx="1457" cy="1347.4" r="4.35"/><circle cx="1457" cy="1355.2" r="4.35"/><circle cx="1457" cy="1346.4" r="4.35"/><circle cx="1457" cy="1350.1" r="4.35"/><circle cx="1457" cy="1335.8" r="4.35"/><circle cx="1457" cy="1338.1" r="4.35"/><circle cx="1457" cy="1334.7" r="4.35"/><circle cx="1457" cy="1347.2" r="4.35"/><circle cx="1467.1" cy="1357.2" r="4.35"/><circle cx="1467.1" cy="1348.6" r="4.35"/><circle cx="1467.1" cy="1357.6" r="4.35"/><circle cx="1467.1" cy="1345.8" r="4.35"/><circle cx="1467.1" cy="1350.6" r="4.35"/><circle cx="1467.1" cy="1344" r="4.35"/><circle cx="1467.1" cy="1343.6" r="4.35"/><circle cx="1467.1" cy="1268.7" r="4.35"/><circle cx="1467.1" cy="1289.8" r="4.35"/><circle cx="1467.1" cy="1315.3" r="4.35"/><circle cx="1467.1" cy="1324.3" r="4.35"/><circle cx="1467.1" cy="1358.3" r="4.35"/><circle cx="1467.1" cy="1350.1" r="4.35"/><circle cx="1467.1" cy="1339.5" r="4.35"/><circle cx="1467.1" cy="1331.7" r="4.35"/><circle cx="1467.1" cy="1320.1" r="4.35"/><circle cx="1467.1" cy="1348.3" r="4.35"/><circle cx="1467.1" cy="1340.4" r="4.35"/><circle cx="1467.1" cy="1311.2" r="4.35"/><circle cx="1467.1" cy="1351.9" r="4.35"/><circle cx="1467.1" cy="1272.2" r="4.35"/><circle cx="1467.1" cy="1354.8" r="4.35"/><circle cx="1467.1" cy="1338.8" r="4.35"/><circle cx="1467.1" cy="1356" r="4.35"/><circle cx="1477.2" cy="1357.2" r="4.35"/><circle cx="1477.2" cy="1312.3" r="4.35"/><circle cx="1477.2" cy="1351.4" r="4.35"/><circle cx="1477.2" cy="1309.1" r="4.35"/><circle cx="1477.2" cy="1310.8" r="4.35"/><circle cx="1477.2" cy="1337.8" r="4.35"/><circle cx="1477.2" cy="1324.4" r="4.35"/><circle cx="1477.2" cy="1351.4" r="4.35"/><circle cx="1477.2" cy="1340.9" r="4.35"/><circle cx="1477.2" cy="1349.9" r="4.35"/><circle cx="1477.2" cy="1331.9" r="4.35"/><circle cx="1477.2" cy="1296" r="4.35"/><circle cx="1477.2" cy="1313.7" r="4.35"/><circle cx="1477.2" cy="1302.8" r="4.35"/><circle cx="1477.2" cy="1291.4" r="4.35"/><circle cx="1477.2" cy="1339.4" r="4.35"/><circle cx="1477.2" cy="1339" r="4.35"/><circle cx="1477.2" cy="1331.8" r="4.35"/><circle cx="1477.2" cy="1335" r="4.35"/><circle cx="1477.2" cy="1276.9" r="4.35"/><circle cx="1477.2" cy="1330.8" r="4.35"/><circle cx="1477.2" cy="1336.6" r="4.35"/><circle cx="1477.2" cy="1334.7" r="4.35"/><circle cx="1477.2" cy="1331.5" r="4.35"/><circle cx="1487.3" cy="1357.2" r="4.35"/><circle cx="1487.3" cy="1309.5" r="4.35"/><circle cx="1487.3" cy="1354.6" r="4.35"/><circle cx="1487.3" cy="1349.8" r="4.35"/><circle cx="1487.3" cy="1338.7" r="4.35"/><circle cx="1487.3" cy="1330.9" r="4.35"/><circle cx="1487.3" cy="1331.2" r="4.35"/><circle cx="1487.3" cy="1312.7" r="4.35"/><circle cx="1487.3" cy="1298.3" r="4.35"/><circle cx="1487.3" cy="1335.1" r="4.35"/><circle cx="1487.3" cy="1294.5" r="4.35"/><circle cx="1487.3" cy="1308" r="4.35"/><circle cx="1487.3" cy="1279.1" r="4.35"/><circle cx="1487.3" cy="1339.2" r="4.35"/><circle cx="1487.3" cy="1350.2" r="4.35"/><circle cx="1487.3" cy="1304.3" r="4.35"/><circle cx="1487.3" cy="1349.6" r="4.35"/><circle cx="1487.3" cy="1354.2" r="4.35"/><circle cx="1487.3" cy="1333.4" r="4.35"/><circle cx="1487.3" cy="1353.7" r="4.35"/><circle cx="1487.3" cy="1292.6" r="4.35"/><circle cx="1487.3" cy="1344" r="4.35"/><circle cx="1487.3" cy="1326" r="4.35"/><circle cx="1487.3" cy="1341" r="4.35"/><circle cx="1497.4" cy="1357.2" r="4.35"/><circle cx="1497.4" cy="1314.2" r="4.35"/><circle cx="1497.4" cy="1358.8" r="4.35"/><circle cx="1497.4" cy="1352.9" r="4.35"/><circle cx="1497.4" cy="1355.3" r="4.35"/><circle cx="1497.4" cy="1343.3" r="4.35"/><circle cx="1497.4" cy="1310.4" r="4.35"/><circle cx="1497.4" cy="1356.5" r="4.35"/><circle cx="1497.4" cy="1296.9" r="4.35"/><circle cx="1497.4" cy="1323.2" r="4.35"/><circle cx="1497.4" cy="1356" r="4.35"/><circle cx="1497.4" cy="1326.2" r="4.35"/><circle cx="1497.4" cy="1311.4" r="4.35"/><circle cx="1497.4" cy="1290.1" r="4.35"/><circle cx="1497.4" cy="1348.6" r="4.35"/><circle cx="1497.4" cy="1264.6" r="4.35"/><circle cx="1497.4" cy="1345.6" r="4.35"/><circle cx="1497.4" cy="1324.1" r="4.35"/><circle cx="1497.4" cy="1257.5" r="4.35"/><circle cx="1497.4" cy="1338.7" r="4.35"/><circle cx="1497.4" cy="1358.5" r="4.35"/><circle cx="1497.4" cy="1347.3" r="4.35"/><circle cx="1497.4" cy="1345.2" r="4.35"/><circle cx="1497.4" cy="1350.4" r="4.35"/><circle cx="870.7" cy="1370" r="4.35"/><circle cx="880.8" cy="1320.3" r="4.35"/><circle cx="880.8" cy="1344.4" r="4.35"/><circle cx="880.8" cy="1349.2" r="4.35"/><circle cx="890.9" cy="1461.5" r="4.35"/><circle cx="961.7" cy="1487.2" r="4.35"/><circle cx="1113.3" cy="1567.5" r="4.35"/><circle cx="1123.4" cy="1535.3" r="4.35"/><circle cx="1153.7" cy="1504.9" r="4.35"/><circle cx="1163.8" cy="1520.9" r="4.35"/><circle cx="1194.2" cy="1524.1" r="4.35"/><circle cx="1204.3" cy="1512.9" r="4.35"/><circle cx="1204.3" cy="1498.4" r="4.35"/><circle cx="1194.2" cy="1485.6" r="4.35"/><circle cx="1194.2" cy="1474.4" r="4.35"/><circle cx="1244.7" cy="1519.3" r="4.35"/><circle cx="1254.8" cy="1506.5" r="4.35"/><circle cx="1234.6" cy="1485.6" r="4.35"/><circle cx="1275" cy="1471.1" r="4.35"/><circle cx="1093.1" cy="1485.6" r="4.35"/><circle cx="1093.1" cy="1469.5" r="4.35"/><circle cx="1093.1" cy="1458.3" r="4.35"/><circle cx="1335.7" cy="1155" r="4.35"/><circle cx="1345.8" cy="1187.1" r="4.35"/><circle cx="1376.1" cy="1166.2" r="4.35"/><circle cx="1386.2" cy="1158.2" r="4.35"/><circle cx="1386.2" cy="1172.6" r="4.35"/><circle cx="1416.5" cy="1143.7" r="4.35"/><circle cx="1426.6" cy="1167.8" r="4.35"/><circle cx="1396.3" cy="1195.1" r="4.35"/><circle cx="1416.5" cy="1198.3" r="4.35"/><circle cx="1457" cy="1193.5" r="4.35"/><circle cx="1477.2" cy="1193.5" r="4.35"/><circle cx="1386.2" cy="1212.7" r="4.35"/><circle cx="1406.4" cy="1212.7" r="4.35"/><circle cx="1345.8" cy="1230.4" r="4.35"/><circle cx="1355.9" cy="1225.6" r="4.35"/><circle cx="1386.2" cy="1227.2" r="4.35"/><circle cx="1396.3" cy="1227.2" r="4.35"/><circle cx="1416.5" cy="1232" r="4.35"/><circle cx="1477.2" cy="1232" r="4.35"/><circle cx="1305.3" cy="1248.1" r="4.35"/><circle cx="1305.3" cy="1256.1" r="4.35"/><circle cx="1386.2" cy="1398.9" r="4.35"/><circle cx="1467.1" cy="1373.2" r="4.35"/><circle cx="1366" cy="1378.1" r="4.35"/></g>
<path d="M840.2 1358.8H1528.5" stroke="#525252" stroke-opacity="0.8" stroke-width="2.3" stroke-dasharray="9.42 9.42" fill="none"/>
<polygon points="871.3,1365 876.6,1366.8 881.9,1368.8 887.1,1370.8 892.4,1372.9 897.6,1375 902.9,1377.1 908.2,1379.2 913.4,1381.2 918.7,1383.1 924,1384.7 929.2,1386.3 934.5,1387.7 939.7,1389.1 945,1390.3 950.3,1391.5 955.5,1392.6 960.8,1393.6 966,1394.6 971.3,1395.2 976.6,1395.9 981.8,1396.4 987.1,1397 992.3,1397.5 997.6,1397.9 1002.9,1398.3 1008.1,1398.6 1013.4,1398.9 1018.6,1399.2 1023.9,1399.4 1029.2,1399.6 1034.4,1399.7 1039.7,1399.8 1045,1399.9 1050.2,1400 1055.5,1400 1060.7,1400.1 1066,1400.1 1071.3,1400.1 1076.5,1400 1081.8,1400 1087,1399.9 1092.3,1399.8 1097.6,1399.8 1102.8,1399.7 1108.1,1399.7 1113.3,1399.6 1118.6,1399.5 1123.9,1399.3 1129.1,1399.1 1134.4,1398.9 1139.6,1398.6 1144.9,1398.3 1150.2,1398.1 1155.4,1397.7 1160.7,1397.4 1165.9,1397 1171.2,1396.6 1176.5,1396.1 1181.7,1395.6 1187,1395 1192.3,1394.3 1197.5,1393.6 1202.8,1392.8 1208,1391.8 1213.3,1390.7 1218.6,1389.3 1223.8,1387.8 1229.1,1386 1234.3,1384.1 1239.6,1382.1 1244.9,1380 1250.1,1377.7 1255.4,1375.5 1260.6,1373.3 1265.9,1371.1 1271.2,1368.9 1276.4,1366.8 1281.7,1364.6 1286.9,1362.3 1292.2,1359.8 1297.5,1356.9 1302.7,1353.8 1308,1350.5 1313.3,1347.2 1318.5,1344.1 1323.8,1341.2 1329,1338.6 1334.3,1336.2 1339.6,1334 1344.8,1331.9 1350.1,1329.9 1355.3,1328 1360.6,1326.3 1365.9,1324.8 1371.1,1323.3 1376.4,1322 1381.6,1320.8 1386.9,1319.8 1392.2,1318.9 1397.4,1318.1 1402.7,1317.5 1407.9,1317 1413.2,1316.6 1418.5,1316.3 1423.7,1316 1429,1315.8 1434.2,1315.8 1439.5,1315.8 1444.8,1315.9 1450,1316.1 1455.3,1316.4 1460.6,1316.9 1465.8,1317.6 1471.1,1318.2 1476.3,1318.9 1481.6,1319.8 1486.9,1320.9 1492.1,1322.3 1497.4,1323.8 1497.4,1332.8 1492.1,1330.8 1486.9,1328.9 1481.6,1327.3 1476.3,1325.8 1471.1,1324.6 1465.8,1323.6 1460.6,1322.9 1455.3,1322.4 1450,1322.1 1444.8,1321.8 1439.5,1321.7 1434.2,1321.7 1429,1321.8 1423.7,1321.9 1418.5,1322.1 1413.2,1322.5 1407.9,1322.8 1402.7,1323.3 1397.4,1323.9 1392.2,1324.7 1386.9,1325.6 1381.6,1326.6 1376.4,1327.7 1371.1,1329.1 1365.9,1330.5 1360.6,1332.1 1355.3,1333.7 1350.1,1335.6 1344.8,1337.5 1339.6,1339.6 1334.3,1341.8 1329,1344.2 1323.8,1346.9 1318.5,1349.7 1313.3,1352.8 1308,1356 1302.7,1359.3 1297.5,1362.4 1292.2,1365.3 1286.9,1367.8 1281.7,1370.1 1276.4,1372.3 1271.2,1374.4 1265.9,1376.5 1260.6,1378.7 1255.4,1380.9 1250.1,1383.1 1244.9,1385.4 1239.6,1387.5 1234.3,1389.5 1229.1,1391.4 1223.8,1393.1 1218.6,1394.6 1213.3,1396 1208,1397.1 1202.8,1398 1197.5,1398.9 1192.3,1399.6 1187,1400.2 1181.7,1400.8 1176.5,1401.3 1171.2,1401.8 1165.9,1402.2 1160.7,1402.5 1155.4,1402.9 1150.2,1403.2 1144.9,1403.4 1139.6,1403.7 1134.4,1403.9 1129.1,1404.1 1123.9,1404.3 1118.6,1404.5 1113.3,1404.7 1108.1,1404.9 1102.8,1405 1097.6,1405.2 1092.3,1405.3 1087,1405.5 1081.8,1405.7 1076.5,1405.8 1071.3,1406 1066,1406.1 1060.7,1406.2 1055.5,1406.3 1050.2,1406.3 1045,1406.3 1039.7,1406.3 1034.4,1406.3 1029.2,1406.3 1023.9,1406.3 1018.6,1406.2 1013.4,1406 1008.1,1405.8 1002.9,1405.6 997.6,1405.3 992.3,1405 987.1,1404.6 981.8,1404.1 976.6,1403.7 971.3,1403.2 966,1402.6 960.8,1402.3 955.5,1402 950.3,1401.7 945,1401.3 939.7,1400.7 934.5,1400.1 929.2,1399.4 924,1398.6 918.7,1397.7 913.4,1396.8 908.2,1395.9 902.9,1395 897.6,1394.1 892.4,1393.2 887.1,1392.3 881.9,1391.5 876.6,1390.7 871.3,1390" fill="#949494" fill-opacity="0.38"/>
<polyline points="871.3,1377.5 876.6,1378.8 881.9,1380.1 887.1,1381.6 892.4,1383.1 897.6,1384.6 902.9,1386.1 908.2,1387.6 913.4,1389 918.7,1390.4 924,1391.6 929.2,1392.8 934.5,1393.9 939.7,1394.9 945,1395.8 950.3,1396.6 955.5,1397.3 960.8,1398 966,1398.6 971.3,1399.2 976.6,1399.8 981.8,1400.3 987.1,1400.8 992.3,1401.2 997.6,1401.6 1002.9,1401.9 1008.1,1402.2 1013.4,1402.5 1018.6,1402.7 1023.9,1402.8 1029.2,1402.9 1034.4,1403 1039.7,1403.1 1045,1403.1 1050.2,1403.1 1055.5,1403.1 1060.7,1403.1 1066,1403.1 1071.3,1403 1076.5,1402.9 1081.8,1402.8 1087,1402.7 1092.3,1402.6 1097.6,1402.5 1102.8,1402.4 1108.1,1402.3 1113.3,1402.2 1118.6,1402 1123.9,1401.8 1129.1,1401.6 1134.4,1401.4 1139.6,1401.2 1144.9,1400.9 1150.2,1400.6 1155.4,1400.3 1160.7,1400 1165.9,1399.6 1171.2,1399.2 1176.5,1398.7 1181.7,1398.2 1187,1397.6 1192.3,1397 1197.5,1396.2 1202.8,1395.4 1208,1394.5 1213.3,1393.3 1218.6,1392 1223.8,1390.4 1229.1,1388.7 1234.3,1386.8 1239.6,1384.8 1244.9,1382.7 1250.1,1380.4 1255.4,1378.2 1260.6,1376 1265.9,1373.8 1271.2,1371.7 1276.4,1369.5 1281.7,1367.4 1286.9,1365.1 1292.2,1362.5 1297.5,1359.7 1302.7,1356.5 1308,1353.3 1313.3,1350 1318.5,1346.9 1323.8,1344.1 1329,1341.4 1334.3,1339 1339.6,1336.8 1344.8,1334.7 1350.1,1332.7 1355.3,1330.9 1360.6,1329.2 1365.9,1327.6 1371.1,1326.2 1376.4,1324.9 1381.6,1323.7 1386.9,1322.7 1392.2,1321.8 1397.4,1321 1402.7,1320.4 1407.9,1319.9 1413.2,1319.5 1418.5,1319.2 1423.7,1319 1429,1318.8 1434.2,1318.7 1439.5,1318.7 1444.8,1318.9 1450,1319.1 1455.3,1319.4 1460.6,1319.9 1465.8,1320.6 1471.1,1321.4 1476.3,1322.4 1481.6,1323.5 1486.9,1324.9 1492.1,1326.5 1497.4,1328.3" fill="none" stroke="#d01a1e" stroke-width="3.4" stroke-linejoin="round" stroke-linecap="butt"/>
<g font-size="14.1" fill="#343434"><g text-anchor="end"><text x="832" y="1524.3">−0.10</text><text x="832" y="1444.1">−0.05</text><text x="832" y="1363.8">0.00</text><text x="832" y="1283.6">0.05</text><text x="832" y="1203.3">0.10</text></g><g text-anchor="middle"><text x="890.9" y="1606.8">20</text><text x="1093.1" y="1606.8">40</text><text x="1295.2" y="1606.8">60</text><text x="1497.4" y="1606.8">80</text></g></g>
<g font-size="18.8" fill="#000" text-anchor="middle"><text x="1178.3" y="1628.2">Age</text><text transform="translate(785.4 1374.3) rotate(-90)" y="6.7">SHAP.</text></g>
<text x="785.9" y="1145.7" font-size="22.3" font-weight="normal" fill="#000" stroke="#000" stroke-width="1.0" stroke-linejoin="round">F</text>
<g fill="none"><path stroke="#e7e7e7" stroke-width="1.8" d="M62.5 1978.7H763M62.5 1825H763"/><path stroke="#e7e7e7" stroke-width="1.8" d="M181.6 1680V2129M327.7 1680V2129M473.9 1680V2129M620 1680V2129"/></g>
<g fill="#3182bd" fill-opacity="0.64"><circle cx="94.6" cy="2005.1" r="4.35"/><circle cx="93.5" cy="1997.7" r="4.35"/><circle cx="94.6" cy="2004.9" r="4.35"/><circle cx="93.5" cy="2007.7" r="4.35"/><circle cx="94" cy="1988.2" r="4.35"/><circle cx="94.2" cy="1976.9" r="4.35"/><circle cx="94.4" cy="2000.9" r="4.35"/><circle cx="93.3" cy="2001.7" r="4.35"/><circle cx="94.6" cy="1995.2" r="4.35"/><circle cx="93.2" cy="1982.2" r="4.35"/><circle cx="94.3" cy="1978.2" r="4.35"/><circle cx="99.3" cy="2000" r="4.35"/><circle cx="99.6" cy="1980.9" r="4.35"/><circle cx="99.2" cy="1979.5" r="4.35"/><circle cx="99.4" cy="2001.9" r="4.35"/><circle cx="99.8" cy="1998.9" r="4.35"/><circle cx="100.5" cy="2021.3" r="4.35"/><circle cx="99.4" cy="1989.5" r="4.35"/><circle cx="100.4" cy="2005.3" r="4.35"/><circle cx="100.2" cy="1986.6" r="4.35"/><circle cx="98.9" cy="2020.2" r="4.35"/><circle cx="99.9" cy="1980.1" r="4.35"/><circle cx="105.1" cy="2023.4" r="4.35"/><circle cx="105.8" cy="1978.4" r="4.35"/><circle cx="105.9" cy="1991.3" r="4.35"/><circle cx="105.4" cy="1985.1" r="4.35"/><circle cx="105.5" cy="1979.8" r="4.35"/><circle cx="106.2" cy="2000.1" r="4.35"/><circle cx="105.9" cy="1996.7" r="4.35"/><circle cx="105.1" cy="1975.5" r="4.35"/><circle cx="106" cy="1977.5" r="4.35"/><circle cx="105.8" cy="1990.5" r="4.35"/><circle cx="104.9" cy="1989.4" r="4.35"/><circle cx="112" cy="1991.7" r="4.35"/><circle cx="111.8" cy="1992.5" r="4.35"/><circle cx="112.3" cy="1994.3" r="4.35"/><circle cx="112.3" cy="1976.5" r="4.35"/><circle cx="110.8" cy="1979" r="4.35"/><circle cx="111.3" cy="1987.2" r="4.35"/><circle cx="112.3" cy="2004.2" r="4.35"/><circle cx="112" cy="1988.2" r="4.35"/><circle cx="111.6" cy="2021" r="4.35"/><circle cx="111.3" cy="1996.4" r="4.35"/><circle cx="110.6" cy="1982.1" r="4.35"/><circle cx="112.3" cy="2055" r="4.35"/><circle cx="118" cy="2012" r="4.35"/><circle cx="117.6" cy="2034" r="4.35"/><circle cx="116.7" cy="2029.6" r="4.35"/><circle cx="117.8" cy="1993.2" r="4.35"/><circle cx="117.5" cy="1970.9" r="4.35"/><circle cx="117.7" cy="1989.2" r="4.35"/><circle cx="117.8" cy="1984.9" r="4.35"/><circle cx="117.2" cy="2006" r="4.35"/><circle cx="118" cy="1972.9" r="4.35"/><circle cx="117.5" cy="1992" r="4.35"/><circle cx="117.8" cy="1995.9" r="4.35"/><circle cx="123.4" cy="1983.2" r="4.35"/><circle cx="123.7" cy="1990.4" r="4.35"/><circle cx="123.1" cy="1978.2" r="4.35"/><circle cx="122.7" cy="2017.1" r="4.35"/><circle cx="123.9" cy="2005.8" r="4.35"/><circle cx="122.4" cy="1985.1" r="4.35"/><circle cx="123.2" cy="1993.8" r="4.35"/><circle cx="122.7" cy="2017.1" r="4.35"/><circle cx="123.7" cy="1985.4" r="4.35"/><circle cx="123.1" cy="2034" r="4.35"/><circle cx="123.9" cy="1987.3" r="4.35"/><circle cx="128.3" cy="1978.1" r="4.35"/><circle cx="129.4" cy="1985.9" r="4.35"/><circle cx="129" cy="1987.8" r="4.35"/><circle cx="128.9" cy="1990.9" r="4.35"/><circle cx="128.8" cy="2000.6" r="4.35"/><circle cx="129.3" cy="1990.4" r="4.35"/><circle cx="128.8" cy="1975" r="4.35"/><circle cx="129" cy="1994.1" r="4.35"/><circle cx="128.2" cy="2009" r="4.35"/><circle cx="129" cy="1982.2" r="4.35"/><circle cx="129" cy="1991" r="4.35"/><circle cx="135.5" cy="1979.6" r="4.35"/><circle cx="134.9" cy="1984" r="4.35"/><circle cx="134" cy="2009.1" r="4.35"/><circle cx="135.7" cy="1998.2" r="4.35"/><circle cx="135.5" cy="2005.3" r="4.35"/><circle cx="134.4" cy="1977.4" r="4.35"/><circle cx="134.2" cy="2003.3" r="4.35"/><circle cx="134.6" cy="2007.1" r="4.35"/><circle cx="134.7" cy="1988.5" r="4.35"/><circle cx="134.2" cy="1995.9" r="4.35"/><circle cx="135.4" cy="2011.6" r="4.35"/><circle cx="141.3" cy="1983.4" r="4.35"/><circle cx="141.5" cy="1994.9" r="4.35"/><circle cx="140" cy="1976.2" r="4.35"/><circle cx="141.4" cy="1994.4" r="4.35"/><circle cx="140.3" cy="1972.2" r="4.35"/><circle cx="141.5" cy="1984.4" r="4.35"/><circle cx="140.1" cy="1994.5" r="4.35"/><circle cx="140.2" cy="1978.5" r="4.35"/><circle cx="141.1" cy="1984.6" r="4.35"/><circle cx="140.7" cy="1972.7" r="4.35"/><circle cx="139.9" cy="1994.3" r="4.35"/><circle cx="147.3" cy="1982.4" r="4.35"/><circle cx="146.4" cy="2001.8" r="4.35"/><circle cx="146.4" cy="2012.8" r="4.35"/><circle cx="147" cy="1982.1" r="4.35"/><circle cx="147.1" cy="2013.7" r="4.35"/><circle cx="146.2" cy="1993.3" r="4.35"/><circle cx="147.2" cy="2020.6" r="4.35"/><circle cx="146.2" cy="1978" r="4.35"/><circle cx="146.9" cy="1984.3" r="4.35"/><circle cx="146.3" cy="1982.7" r="4.35"/><circle cx="146.8" cy="1995.3" r="4.35"/><circle cx="146.6" cy="2043.9" r="4.35"/><circle cx="152.9" cy="1983.2" r="4.35"/><circle cx="151.7" cy="1999.2" r="4.35"/><circle cx="151.9" cy="1994.1" r="4.35"/><circle cx="151.8" cy="1995" r="4.35"/><circle cx="152.8" cy="2006.3" r="4.35"/><circle cx="152.7" cy="1983.6" r="4.35"/><circle cx="152.4" cy="1979.8" r="4.35"/><circle cx="152.3" cy="1988.7" r="4.35"/><circle cx="152.5" cy="1989.8" r="4.35"/><circle cx="153.2" cy="1986.4" r="4.35"/><circle cx="151.8" cy="1990.2" r="4.35"/><circle cx="152.8" cy="2035" r="4.35"/><circle cx="158" cy="1991.3" r="4.35"/><circle cx="157.4" cy="1982.8" r="4.35"/><circle cx="158.8" cy="2000.6" r="4.35"/><circle cx="158" cy="1975.6" r="4.35"/><circle cx="158.7" cy="1976.2" r="4.35"/><circle cx="158.2" cy="1989.6" r="4.35"/><circle cx="157.8" cy="1990.7" r="4.35"/><circle cx="158.3" cy="1983.8" r="4.35"/><circle cx="157.6" cy="1987.1" r="4.35"/><circle cx="157.4" cy="1993.5" r="4.35"/><circle cx="158.2" cy="1996.8" r="4.35"/><circle cx="157.6" cy="2027.5" r="4.35"/><circle cx="164.2" cy="1976.3" r="4.35"/><circle cx="164.9" cy="1996.3" r="4.35"/><circle cx="164.5" cy="1989.8" r="4.35"/><circle cx="164.6" cy="1980.7" r="4.35"/><circle cx="164.7" cy="1996.1" r="4.35"/><circle cx="163.6" cy="1999.3" r="4.35"/><circle cx="163.7" cy="1990.9" r="4.35"/><circle cx="164" cy="2002.7" r="4.35"/><circle cx="164.2" cy="1977.9" r="4.35"/><circle cx="163.5" cy="2003" r="4.35"/><circle cx="163.9" cy="1972.1" r="4.35"/><circle cx="163.9" cy="2036.1" r="4.35"/><circle cx="169.8" cy="1995" r="4.35"/><circle cx="169.4" cy="2009.4" r="4.35"/><circle cx="170.6" cy="1979" r="4.35"/><circle cx="170.2" cy="1977.7" r="4.35"/><circle cx="170.3" cy="1980.7" r="4.35"/><circle cx="169.5" cy="1990.5" r="4.35"/><circle cx="170.7" cy="1984.7" r="4.35"/><circle cx="169.1" cy="1975.7" r="4.35"/><circle cx="169.9" cy="1990.4" r="4.35"/><circle cx="170.8" cy="1985.9" r="4.35"/><circle cx="170.6" cy="1998.6" r="4.35"/><circle cx="176.2" cy="1995.3" r="4.35"/><circle cx="176.3" cy="1988.9" r="4.35"/><circle cx="175.1" cy="1992.5" r="4.35"/><circle cx="175.7" cy="1980.7" r="4.35"/><circle cx="176.5" cy="1976.2" r="4.35"/><circle cx="175.6" cy="1972.1" r="4.35"/><circle cx="175.3" cy="2004.2" r="4.35"/><circle cx="176.6" cy="1988.6" r="4.35"/><circle cx="176" cy="1987.8" r="4.35"/><circle cx="175.9" cy="1997.3" r="4.35"/><circle cx="175.6" cy="1986.5" r="4.35"/><circle cx="182" cy="1993.3" r="4.35"/><circle cx="181.2" cy="2008.9" r="4.35"/><circle cx="180.9" cy="1999.7" r="4.35"/><circle cx="182.5" cy="1996.8" r="4.35"/><circle cx="182.4" cy="1980.1" r="4.35"/><circle cx="181.2" cy="1985.8" r="4.35"/><circle cx="181.1" cy="1988.8" r="4.35"/><circle cx="181.3" cy="1983.5" r="4.35"/><circle cx="181.3" cy="1979.3" r="4.35"/><circle cx="180.8" cy="1998.6" r="4.35"/><circle cx="180.9" cy="2012.2" r="4.35"/><circle cx="181.9" cy="2025.6" r="4.35"/><circle cx="188.1" cy="1995.3" r="4.35"/><circle cx="187.8" cy="2001.7" r="4.35"/><circle cx="187.7" cy="1989.2" r="4.35"/><circle cx="186.8" cy="1993.7" r="4.35"/><circle cx="188.2" cy="2006.2" r="4.35"/><circle cx="187.9" cy="1985.2" r="4.35"/><circle cx="187.9" cy="1982.2" r="4.35"/><circle cx="187.3" cy="1984.3" r="4.35"/><circle cx="186.8" cy="1987.9" r="4.35"/><circle cx="187.2" cy="1987.2" r="4.35"/><circle cx="188.1" cy="1987.3" r="4.35"/><circle cx="194.2" cy="1998.5" r="4.35"/><circle cx="193.8" cy="1991.1" r="4.35"/><circle cx="194" cy="1983.6" r="4.35"/><circle cx="192.9" cy="1985.4" r="4.35"/><circle cx="193.1" cy="1989.3" r="4.35"/><circle cx="192.6" cy="2013.1" r="4.35"/><circle cx="193.4" cy="1990.5" r="4.35"/><circle cx="194" cy="2005.4" r="4.35"/><circle cx="193" cy="1992.7" r="4.35"/><circle cx="193.8" cy="2004.7" r="4.35"/><circle cx="192.9" cy="1983" r="4.35"/><circle cx="198.9" cy="1975" r="4.35"/><circle cx="198.5" cy="2015.4" r="4.35"/><circle cx="199" cy="1978.6" r="4.35"/><circle cx="198.6" cy="1986.3" r="4.35"/><circle cx="199.6" cy="2003.2" r="4.35"/><circle cx="200" cy="2024" r="4.35"/><circle cx="198.6" cy="2005.6" r="4.35"/><circle cx="198.3" cy="2004.9" r="4.35"/><circle cx="198.4" cy="1991.3" r="4.35"/><circle cx="199.8" cy="1992.6" r="4.35"/><circle cx="199.9" cy="1995.4" r="4.35"/><circle cx="204.5" cy="2014.9" r="4.35"/><circle cx="205.1" cy="2034" r="4.35"/><circle cx="205.6" cy="1991.6" r="4.35"/><circle cx="204.6" cy="1986.7" r="4.35"/><circle cx="205.5" cy="1992.3" r="4.35"/><circle cx="204.1" cy="1989.8" r="4.35"/><circle cx="205" cy="2019.1" r="4.35"/><circle cx="205.8" cy="1986.4" r="4.35"/><circle cx="204.8" cy="1981.7" r="4.35"/><circle cx="205.5" cy="1989.3" r="4.35"/><circle cx="205.8" cy="1989.8" r="4.35"/><circle cx="211.5" cy="1982.1" r="4.35"/><circle cx="210.2" cy="1979.4" r="4.35"/><circle cx="210.8" cy="2000.4" r="4.35"/><circle cx="211.7" cy="1988.3" r="4.35"/><circle cx="211" cy="1991.3" r="4.35"/><circle cx="211" cy="1994.5" r="4.35"/><circle cx="210.8" cy="1993.2" r="4.35"/><circle cx="210.9" cy="1995" r="4.35"/><circle cx="210.2" cy="1974.6" r="4.35"/><circle cx="210.4" cy="1988.1" r="4.35"/><circle cx="211" cy="2020.9" r="4.35"/><circle cx="211.6" cy="2030.4" r="4.35"/><circle cx="216.1" cy="1976.9" r="4.35"/><circle cx="217.3" cy="1996.9" r="4.35"/><circle cx="217.3" cy="2015.8" r="4.35"/><circle cx="216.4" cy="2003.1" r="4.35"/><circle cx="216.8" cy="2021.8" r="4.35"/><circle cx="216.6" cy="2002.3" r="4.35"/><circle cx="217.4" cy="1984.6" r="4.35"/><circle cx="217.4" cy="1980.9" r="4.35"/><circle cx="216" cy="1991.9" r="4.35"/><circle cx="217.2" cy="1998.8" r="4.35"/><circle cx="216.4" cy="1980.1" r="4.35"/><circle cx="222.2" cy="1984.1" r="4.35"/><circle cx="222.8" cy="2004" r="4.35"/><circle cx="223" cy="1972.8" r="4.35"/><circle cx="222.6" cy="1989.2" r="4.35"/><circle cx="223.2" cy="1983.3" r="4.35"/><circle cx="223.1" cy="2002.1" r="4.35"/><circle cx="222.5" cy="1982.3" r="4.35"/><circle cx="222.1" cy="1998.5" r="4.35"/><circle cx="222.3" cy="1984.6" r="4.35"/><circle cx="223" cy="2007.6" r="4.35"/><circle cx="222.4" cy="2034" r="4.35"/><circle cx="227.7" cy="2008.9" r="4.35"/><circle cx="228.8" cy="2022.6" r="4.35"/><circle cx="228.4" cy="1979.6" r="4.35"/><circle cx="228.9" cy="1988.3" r="4.35"/><circle cx="228.9" cy="1991.2" r="4.35"/><circle cx="229" cy="1980.6" r="4.35"/><circle cx="228.5" cy="2018.4" r="4.35"/><circle cx="228.3" cy="1986.1" r="4.35"/><circle cx="228.7" cy="2021.5" r="4.35"/><circle cx="228.2" cy="1992.9" r="4.35"/><circle cx="228.2" cy="1978.4" r="4.35"/><circle cx="233.4" cy="1993.8" r="4.35"/><circle cx="233.5" cy="1986.5" r="4.35"/><circle cx="234.6" cy="1988.4" r="4.35"/><circle cx="234.7" cy="1976.7" r="4.35"/><circle cx="234.3" cy="1980.8" r="4.35"/><circle cx="234.1" cy="1998.3" r="4.35"/><circle cx="234.6" cy="2012.9" r="4.35"/><circle cx="234.7" cy="1981.3" r="4.35"/><circle cx="234.3" cy="1989.1" r="4.35"/><circle cx="234.1" cy="1984.7" r="4.35"/><circle cx="234.4" cy="1970.9" r="4.35"/><circle cx="239.5" cy="1999.8" r="4.35"/><circle cx="239.2" cy="1986.6" r="4.35"/><circle cx="240.4" cy="1992.6" r="4.35"/><circle cx="239.7" cy="1987.6" r="4.35"/><circle cx="239.5" cy="2022.3" r="4.35"/><circle cx="239.6" cy="1984.5" r="4.35"/><circle cx="240.1" cy="1975.5" r="4.35"/><circle cx="239.3" cy="2001.6" r="4.35"/><circle cx="239.8" cy="1993.5" r="4.35"/><circle cx="240.3" cy="1979" r="4.35"/><circle cx="240.5" cy="1975.3" r="4.35"/><circle cx="246.1" cy="1993" r="4.35"/><circle cx="246.4" cy="2007.9" r="4.35"/><circle cx="246.5" cy="1974.6" r="4.35"/><circle cx="245.2" cy="2001.1" r="4.35"/><circle cx="246.5" cy="2002.1" r="4.35"/><circle cx="246.3" cy="2015.4" r="4.35"/><circle cx="245.7" cy="2003.3" r="4.35"/><circle cx="245.6" cy="1971.4" r="4.35"/><circle cx="245.7" cy="2014" r="4.35"/><circle cx="246" cy="1988" r="4.35"/><circle cx="246.2" cy="2003.9" r="4.35"/><circle cx="246.3" cy="2041.1" r="4.35"/><circle cx="252.4" cy="2034" r="4.35"/><circle cx="251.4" cy="1986.1" r="4.35"/><circle cx="251.8" cy="1986.6" r="4.35"/><circle cx="251.7" cy="2013" r="4.35"/><circle cx="252.6" cy="1989.5" r="4.35"/><circle cx="252.3" cy="1993" r="4.35"/><circle cx="252.2" cy="1976.2" r="4.35"/><circle cx="252.5" cy="1998.8" r="4.35"/><circle cx="252.3" cy="1985.7" r="4.35"/><circle cx="251" cy="1986.5" r="4.35"/><circle cx="251.7" cy="1997.4" r="4.35"/><circle cx="258.5" cy="1982" r="4.35"/><circle cx="257.6" cy="1999.8" r="4.35"/><circle cx="256.9" cy="1983.2" r="4.35"/><circle cx="257.4" cy="1978.2" r="4.35"/><circle cx="257.5" cy="1992.2" r="4.35"/><circle cx="257.1" cy="2034" r="4.35"/><circle cx="258.4" cy="2001" r="4.35"/><circle cx="257.6" cy="1992.1" r="4.35"/><circle cx="257.2" cy="1997.6" r="4.35"/><circle cx="258" cy="2016.1" r="4.35"/><circle cx="258" cy="1970.4" r="4.35"/><circle cx="263.3" cy="2008.8" r="4.35"/><circle cx="264" cy="1995.3" r="4.35"/><circle cx="263" cy="1984.8" r="4.35"/><circle cx="264.2" cy="1988.5" r="4.35"/><circle cx="262.9" cy="1992.1" r="4.35"/><circle cx="263.4" cy="1993.1" r="4.35"/><circle cx="262.7" cy="1979.5" r="4.35"/><circle cx="263.9" cy="1978.1" r="4.35"/><circle cx="264.3" cy="1975.1" r="4.35"/><circle cx="263.8" cy="2034" r="4.35"/><circle cx="263.9" cy="1991.4" r="4.35"/><circle cx="262.7" cy="2032.9" r="4.35"/><circle cx="269.5" cy="1985.3" r="4.35"/><circle cx="269.3" cy="2032.6" r="4.35"/><circle cx="269.5" cy="2004.1" r="4.35"/><circle cx="269.7" cy="1982" r="4.35"/><circle cx="269.3" cy="2019.5" r="4.35"/><circle cx="270" cy="1984.9" r="4.35"/><circle cx="269.2" cy="1997.8" r="4.35"/><circle cx="269.5" cy="1999.8" r="4.35"/><circle cx="269.9" cy="1980.5" r="4.35"/><circle cx="269.7" cy="2034" r="4.35"/><circle cx="268.9" cy="2008.4" r="4.35"/><circle cx="275.5" cy="2025.9" r="4.35"/><circle cx="275.5" cy="1978.9" r="4.35"/><circle cx="275.8" cy="1999.1" r="4.35"/><circle cx="275.5" cy="1982.5" r="4.35"/><circle cx="275.3" cy="1984.6" r="4.35"/><circle cx="275.7" cy="2011.8" r="4.35"/><circle cx="275.8" cy="1994.2" r="4.35"/><circle cx="275.6" cy="1980.9" r="4.35"/><circle cx="274.9" cy="1986.7" r="4.35"/><circle cx="274.8" cy="1988.8" r="4.35"/><circle cx="275.3" cy="1982" r="4.35"/><circle cx="280.3" cy="1993.8" r="4.35"/><circle cx="280.9" cy="1979.1" r="4.35"/><circle cx="281.5" cy="1996.2" r="4.35"/><circle cx="281.1" cy="2005.8" r="4.35"/><circle cx="280.5" cy="2024.9" r="4.35"/><circle cx="280.5" cy="1982.9" r="4.35"/><circle cx="281.1" cy="2004.2" r="4.35"/><circle cx="281.1" cy="1995.8" r="4.35"/><circle cx="280.8" cy="1998.4" r="4.35"/><circle cx="281.2" cy="1988.2" r="4.35"/><circle cx="281.4" cy="1985.4" r="4.35"/><circle cx="281.1" cy="2038.1" r="4.35"/><circle cx="286.5" cy="1992.3" r="4.35"/><circle cx="286.6" cy="1980.6" r="4.35"/><circle cx="287.4" cy="1976" r="4.35"/><circle cx="286.1" cy="1981.1" r="4.35"/><circle cx="286" cy="1999.5" r="4.35"/><circle cx="286.1" cy="1991.6" r="4.35"/><circle cx="287" cy="1996.6" r="4.35"/><circle cx="287.1" cy="1983.3" r="4.35"/><circle cx="286.7" cy="1995" r="4.35"/><circle cx="286.6" cy="1989.2" r="4.35"/><circle cx="287.2" cy="1976.5" r="4.35"/><circle cx="292.2" cy="2011.3" r="4.35"/><circle cx="292.6" cy="1988.5" r="4.35"/><circle cx="293" cy="1989.6" r="4.35"/><circle cx="293.3" cy="1995.1" r="4.35"/><circle cx="292.1" cy="1991.6" r="4.35"/><circle cx="292.9" cy="1993.8" r="4.35"/><circle cx="293.3" cy="1975" r="4.35"/><circle cx="292" cy="2027.2" r="4.35"/><circle cx="293.2" cy="1979.9" r="4.35"/><circle cx="292.2" cy="2001.2" r="4.35"/><circle cx="292.2" cy="2017.5" r="4.35"/><circle cx="298.4" cy="1978.4" r="4.35"/><circle cx="298.7" cy="1977.5" r="4.35"/><circle cx="298.2" cy="1991.8" r="4.35"/><circle cx="298.7" cy="1990.4" r="4.35"/><circle cx="299" cy="1990.1" r="4.35"/><circle cx="299" cy="1995.1" r="4.35"/><circle cx="299.2" cy="1986.6" r="4.35"/><circle cx="298" cy="1998.3" r="4.35"/><circle cx="297.7" cy="1996.6" r="4.35"/><circle cx="298.2" cy="2001" r="4.35"/><circle cx="299.2" cy="1994.5" r="4.35"/><circle cx="298.9" cy="2026.6" r="4.35"/><circle cx="304" cy="1976.6" r="4.35"/><circle cx="304.7" cy="1971.8" r="4.35"/><circle cx="303.9" cy="1995.4" r="4.35"/><circle cx="305.1" cy="2000.9" r="4.35"/><circle cx="304.3" cy="1983.6" r="4.35"/><circle cx="304.3" cy="2002.8" r="4.35"/><circle cx="303.6" cy="2006.6" r="4.35"/><circle cx="303.6" cy="1995.2" r="4.35"/><circle cx="305.1" cy="1983.3" r="4.35"/><circle cx="305.2" cy="1980.6" r="4.35"/><circle cx="303.7" cy="1994" r="4.35"/><circle cx="305" cy="2036.3" r="4.35"/><circle cx="309.8" cy="1991.4" r="4.35"/><circle cx="310.7" cy="1989.7" r="4.35"/><circle cx="310.9" cy="1978.8" r="4.35"/><circle cx="310.5" cy="1976.7" r="4.35"/><circle cx="309.8" cy="1983.6" r="4.35"/><circle cx="309.3" cy="1977.7" r="4.35"/><circle cx="309.5" cy="1985.6" r="4.35"/><circle cx="310.8" cy="1996.3" r="4.35"/><circle cx="310.6" cy="1987" r="4.35"/><circle cx="309.7" cy="1988.5" r="4.35"/><circle cx="310.9" cy="1976.2" r="4.35"/><circle cx="316.3" cy="2003.7" r="4.35"/><circle cx="316.9" cy="1985.7" r="4.35"/><circle cx="316.4" cy="1980.7" r="4.35"/><circle cx="316.6" cy="2005.6" r="4.35"/><circle cx="316.8" cy="1986.5" r="4.35"/><circle cx="315.3" cy="1991.4" r="4.35"/><circle cx="315.5" cy="1969.4" r="4.35"/><circle cx="315.4" cy="1988.6" r="4.35"/><circle cx="315.4" cy="2004.3" r="4.35"/><circle cx="316.1" cy="2000.1" r="4.35"/><circle cx="315.2" cy="1979.8" r="4.35"/><circle cx="316.8" cy="2037.5" r="4.35"/><circle cx="322.1" cy="1970.2" r="4.35"/><circle cx="322.6" cy="1976.4" r="4.35"/><circle cx="321.5" cy="1992.4" r="4.35"/><circle cx="322.4" cy="2004.6" r="4.35"/><circle cx="322.2" cy="1989.5" r="4.35"/><circle cx="321.4" cy="1994.5" r="4.35"/><circle cx="322" cy="1984.8" r="4.35"/><circle cx="321.4" cy="1981.4" r="4.35"/><circle cx="322.5" cy="1989.2" r="4.35"/><circle cx="322.2" cy="1971" r="4.35"/><circle cx="321.1" cy="1975.8" r="4.35"/><circle cx="327.9" cy="1975.8" r="4.35"/><circle cx="328" cy="1981" r="4.35"/><circle cx="328.2" cy="1962.5" r="4.35"/><circle cx="327.8" cy="1988.4" r="4.35"/><circle cx="327.1" cy="1976.7" r="4.35"/><circle cx="327.5" cy="2004" r="4.35"/><circle cx="326.9" cy="1979.3" r="4.35"/><circle cx="328.2" cy="1990.3" r="4.35"/><circle cx="327.3" cy="1991.1" r="4.35"/><circle cx="327.3" cy="1979.9" r="4.35"/><circle cx="327.1" cy="2008.1" r="4.35"/><circle cx="333.9" cy="1995.8" r="4.35"/><circle cx="333.7" cy="1995.3" r="4.35"/><circle cx="333.5" cy="1948" r="4.35"/><circle cx="333.8" cy="1981.5" r="4.35"/><circle cx="334.2" cy="1970.7" r="4.35"/><circle cx="333" cy="1984.4" r="4.35"/><circle cx="334.1" cy="2010.4" r="4.35"/><circle cx="332.9" cy="2012.5" r="4.35"/><circle cx="333.7" cy="1989.3" r="4.35"/><circle cx="333.1" cy="1983.5" r="4.35"/><circle cx="333.5" cy="1989.1" r="4.35"/><circle cx="339.2" cy="1950.8" r="4.35"/><circle cx="339.2" cy="1976.9" r="4.35"/><circle cx="339.1" cy="1994.7" r="4.35"/><circle cx="338.7" cy="1978.4" r="4.35"/><circle cx="338.6" cy="1989.6" r="4.35"/><circle cx="339.6" cy="1989" r="4.35"/><circle cx="339.2" cy="1974" r="4.35"/><circle cx="339.1" cy="1974" r="4.35"/><circle cx="338.6" cy="1977.1" r="4.35"/><circle cx="340.3" cy="1983.4" r="4.35"/><circle cx="339.3" cy="1989" r="4.35"/><circle cx="345.8" cy="1983.9" r="4.35"/><circle cx="345.7" cy="1971.3" r="4.35"/><circle cx="345.3" cy="1966" r="4.35"/><circle cx="346.1" cy="1978.9" r="4.35"/><circle cx="345.3" cy="1992.4" r="4.35"/><circle cx="345.9" cy="1959.2" r="4.35"/><circle cx="346" cy="1967.4" r="4.35"/><circle cx="344.5" cy="1958.4" r="4.35"/><circle cx="346.1" cy="1967.9" r="4.35"/><circle cx="344.4" cy="1983.6" r="4.35"/><circle cx="346.1" cy="2012.5" r="4.35"/><circle cx="351.9" cy="1967.5" r="4.35"/><circle cx="350.5" cy="1995.1" r="4.35"/><circle cx="351" cy="1973.2" r="4.35"/><circle cx="351.7" cy="1957" r="4.35"/><circle cx="350.4" cy="1994.3" r="4.35"/><circle cx="350.6" cy="1972.3" r="4.35"/><circle cx="351.5" cy="1956.8" r="4.35"/><circle cx="351.6" cy="1995.9" r="4.35"/><circle cx="350.6" cy="1999.3" r="4.35"/><circle cx="350.4" cy="1971.2" r="4.35"/><circle cx="350.6" cy="1982.4" r="4.35"/><circle cx="356.4" cy="1971.6" r="4.35"/><circle cx="357.4" cy="1967.4" r="4.35"/><circle cx="356.5" cy="1976" r="4.35"/><circle cx="357.2" cy="1982" r="4.35"/><circle cx="356.7" cy="1980.3" r="4.35"/><circle cx="356.2" cy="1973.8" r="4.35"/><circle cx="357.2" cy="1970.3" r="4.35"/><circle cx="357.1" cy="1994" r="4.35"/><circle cx="356.2" cy="1982.9" r="4.35"/><circle cx="357.3" cy="1992.6" r="4.35"/><circle cx="357.3" cy="1986.2" r="4.35"/><circle cx="362.6" cy="1974.2" r="4.35"/><circle cx="363.1" cy="1968.9" r="4.35"/><circle cx="362.3" cy="1980.9" r="4.35"/><circle cx="363.6" cy="1957.7" r="4.35"/><circle cx="363.5" cy="1965.4" r="4.35"/><circle cx="362.9" cy="1962.9" r="4.35"/><circle cx="363.3" cy="1958.9" r="4.35"/><circle cx="362" cy="1971.1" r="4.35"/><circle cx="362.5" cy="1969.5" r="4.35"/><circle cx="363.5" cy="1976.9" r="4.35"/><circle cx="363.5" cy="1979.2" r="4.35"/><circle cx="368.9" cy="1989.6" r="4.35"/><circle cx="368.5" cy="1992.6" r="4.35"/><circle cx="369.2" cy="1981.4" r="4.35"/><circle cx="368.3" cy="1990.8" r="4.35"/><circle cx="369.4" cy="1969.4" r="4.35"/><circle cx="368.2" cy="1971" r="4.35"/><circle cx="369.1" cy="1962.5" r="4.35"/><circle cx="369.1" cy="1967.9" r="4.35"/><circle cx="368.3" cy="1984.5" r="4.35"/><circle cx="368.6" cy="1978.4" r="4.35"/><circle cx="368.1" cy="1985.9" r="4.35"/><circle cx="374.1" cy="1958.1" r="4.35"/><circle cx="374.7" cy="1958" r="4.35"/><circle cx="374.7" cy="1945.4" r="4.35"/><circle cx="374.7" cy="1956.2" r="4.35"/><circle cx="375.1" cy="1977.4" r="4.35"/><circle cx="374.6" cy="1950.9" r="4.35"/><circle cx="374.1" cy="1982.3" r="4.35"/><circle cx="374.7" cy="1969" r="4.35"/><circle cx="375.3" cy="1981.4" r="4.35"/><circle cx="373.9" cy="1933" r="4.35"/><circle cx="373.7" cy="1972" r="4.35"/><circle cx="381.2" cy="1966.8" r="4.35"/><circle cx="380.9" cy="1976.6" r="4.35"/><circle cx="379.5" cy="1975.7" r="4.35"/><circle cx="380.8" cy="1972.8" r="4.35"/><circle cx="380.5" cy="1987" r="4.35"/><circle cx="381.1" cy="1969.4" r="4.35"/><circle cx="379.7" cy="1977.5" r="4.35"/><circle cx="380.1" cy="1960.5" r="4.35"/><circle cx="379.7" cy="1996.7" r="4.35"/><circle cx="380.9" cy="1988.2" r="4.35"/><circle cx="380.1" cy="1973.1" r="4.35"/><circle cx="386.5" cy="1969.5" r="4.35"/><circle cx="385.7" cy="1964.3" r="4.35"/><circle cx="386.8" cy="1958.6" r="4.35"/><circle cx="386.4" cy="1983.4" r="4.35"/><circle cx="386.2" cy="1952.5" r="4.35"/><circle cx="385.5" cy="1977.9" r="4.35"/><circle cx="386.2" cy="1970.6" r="4.35"/><circle cx="385.4" cy="1981.7" r="4.35"/><circle cx="385.8" cy="1974.6" r="4.35"/><circle cx="386.7" cy="1985.7" r="4.35"/><circle cx="386.2" cy="1980.8" r="4.35"/><circle cx="392" cy="1925.9" r="4.35"/><circle cx="392" cy="1966.9" r="4.35"/><circle cx="391.2" cy="1978.7" r="4.35"/><circle cx="392.5" cy="1962.4" r="4.35"/><circle cx="392.1" cy="1978.2" r="4.35"/><circle cx="391.5" cy="1981.7" r="4.35"/><circle cx="392.4" cy="1926.1" r="4.35"/><circle cx="391.2" cy="1975.5" r="4.35"/><circle cx="392.6" cy="1969.2" r="4.35"/><circle cx="392.2" cy="1975" r="4.35"/><circle cx="391.5" cy="1971.7" r="4.35"/><circle cx="398.5" cy="1975.4" r="4.35"/><circle cx="397.1" cy="1980.7" r="4.35"/><circle cx="398.1" cy="1914" r="4.35"/><circle cx="397.2" cy="1959.2" r="4.35"/><circle cx="398.5" cy="1978.2" r="4.35"/><circle cx="397.6" cy="1953.4" r="4.35"/><circle cx="398.2" cy="1988.7" r="4.35"/><circle cx="397.8" cy="1966.5" r="4.35"/><circle cx="403.3" cy="1984.3" r="4.35"/><circle cx="403.3" cy="1976" r="4.35"/><circle cx="403.4" cy="1967.8" r="4.35"/><circle cx="403.9" cy="1960.6" r="4.35"/><circle cx="404" cy="1973.2" r="4.35"/><circle cx="403" cy="1924.3" r="4.35"/><circle cx="404.4" cy="1947.3" r="4.35"/><circle cx="403.5" cy="1883.4" r="4.35"/><circle cx="410.2" cy="1982.4" r="4.35"/><circle cx="409.8" cy="1970" r="4.35"/><circle cx="408.8" cy="1959.9" r="4.35"/><circle cx="409.5" cy="1926.9" r="4.35"/><circle cx="409.7" cy="1959.1" r="4.35"/><circle cx="409.7" cy="1973.5" r="4.35"/><circle cx="410.1" cy="1966.4" r="4.35"/><circle cx="409.5" cy="1924.7" r="4.35"/><circle cx="414.6" cy="1984.5" r="4.35"/><circle cx="416.1" cy="1974.6" r="4.35"/><circle cx="414.7" cy="1973" r="4.35"/><circle cx="416" cy="1970.4" r="4.35"/><circle cx="415.3" cy="1978.4" r="4.35"/><circle cx="414.9" cy="1976" r="4.35"/><circle cx="415.6" cy="1966.5" r="4.35"/><circle cx="415" cy="1948" r="4.35"/><circle cx="420.7" cy="1969" r="4.35"/><circle cx="420.7" cy="1968.9" r="4.35"/><circle cx="421.2" cy="1979.4" r="4.35"/><circle cx="421.5" cy="1982.4" r="4.35"/><circle cx="422" cy="1964.1" r="4.35"/><circle cx="421.1" cy="1957.2" r="4.35"/><circle cx="422" cy="1942.1" r="4.35"/><circle cx="420.5" cy="1959.1" r="4.35"/><circle cx="427.5" cy="1961.7" r="4.35"/><circle cx="426.9" cy="1981.9" r="4.35"/><circle cx="426.6" cy="1970.7" r="4.35"/><circle cx="427.7" cy="1971.6" r="4.35"/><circle cx="426.3" cy="1970.9" r="4.35"/><circle cx="427.7" cy="1883.4" r="4.35"/><circle cx="427.5" cy="1962.2" r="4.35"/><circle cx="427.4" cy="1966.1" r="4.35"/><circle cx="433.5" cy="1974" r="4.35"/><circle cx="433.7" cy="1966.4" r="4.35"/><circle cx="432.5" cy="1981" r="4.35"/><circle cx="433.7" cy="1981.6" r="4.35"/><circle cx="432.5" cy="1920.2" r="4.35"/><circle cx="433.2" cy="1963.3" r="4.35"/><circle cx="433.7" cy="1966.4" r="4.35"/><circle cx="432.3" cy="1932" r="4.35"/><circle cx="439" cy="1953.4" r="4.35"/><circle cx="438" cy="1971.6" r="4.35"/><circle cx="439.2" cy="1949.2" r="4.35"/><circle cx="439.6" cy="1934.4" r="4.35"/><circle cx="438.6" cy="1971.6" r="4.35"/><circle cx="439.5" cy="1969.6" r="4.35"/><circle cx="438" cy="1884.5" r="4.35"/><circle cx="439.2" cy="1985.5" r="4.35"/><circle cx="443.8" cy="1963.6" r="4.35"/><circle cx="444.4" cy="1962.4" r="4.35"/><circle cx="444.9" cy="1938.5" r="4.35"/><circle cx="445.1" cy="1972.1" r="4.35"/><circle cx="445.1" cy="1954.5" r="4.35"/><circle cx="444.4" cy="1989.1" r="4.35"/><circle cx="444.5" cy="1965.2" r="4.35"/><circle cx="445.4" cy="1974.2" r="4.35"/><circle cx="449.9" cy="1957.6" r="4.35"/><circle cx="450.8" cy="1972.7" r="4.35"/><circle cx="449.9" cy="1968.2" r="4.35"/><circle cx="451.4" cy="1979.7" r="4.35"/><circle cx="450.7" cy="1966" r="4.35"/><circle cx="450.8" cy="1964.4" r="4.35"/><circle cx="450.9" cy="1949.3" r="4.35"/><circle cx="449.7" cy="1959.1" r="4.35"/><circle cx="455.8" cy="1973.2" r="4.35"/><circle cx="455.5" cy="1982.5" r="4.35"/><circle cx="456.2" cy="1954.6" r="4.35"/><circle cx="455.7" cy="1972" r="4.35"/><circle cx="455.9" cy="1963.3" r="4.35"/><circle cx="456" cy="1963.8" r="4.35"/><circle cx="455.9" cy="1940.3" r="4.35"/><circle cx="456.8" cy="1974.1" r="4.35"/><circle cx="462.9" cy="1964.8" r="4.35"/><circle cx="462.4" cy="1959.1" r="4.35"/><circle cx="463" cy="1967.7" r="4.35"/><circle cx="463" cy="1958.3" r="4.35"/><circle cx="462.6" cy="1957.6" r="4.35"/><circle cx="462.9" cy="1958.5" r="4.35"/><circle cx="461.6" cy="1964" r="4.35"/><circle cx="462" cy="1938.3" r="4.35"/><circle cx="467.4" cy="1959.7" r="4.35"/><circle cx="467.1" cy="1950" r="4.35"/><circle cx="467.7" cy="1962.7" r="4.35"/><circle cx="468.3" cy="1969.1" r="4.35"/><circle cx="468.5" cy="1973.7" r="4.35"/><circle cx="467.7" cy="1962.9" r="4.35"/><circle cx="468.2" cy="1971.8" r="4.35"/><circle cx="467.5" cy="1972" r="4.35"/><circle cx="731.1" cy="1699" r="4.35"/><circle cx="438.8" cy="1821.9" r="4.35"/><circle cx="380.3" cy="1840.4" r="4.35"/><circle cx="357" cy="1848.1" r="4.35"/><circle cx="368.7" cy="1855.7" r="4.35"/><circle cx="397.9" cy="1849.6" r="4.35"/><circle cx="450.5" cy="1854.2" r="4.35"/><circle cx="403.7" cy="1878.8" r="4.35"/><circle cx="409.6" cy="1872.6" r="4.35"/><circle cx="450.5" cy="1875.7" r="4.35"/><circle cx="409.6" cy="1891.1" r="4.35"/><circle cx="415.4" cy="1894.2" r="4.35"/><circle cx="427.1" cy="1891.1" r="4.35"/><circle cx="438.8" cy="1897.2" r="4.35"/><circle cx="468" cy="1908" r="4.35"/><circle cx="93.9" cy="2061.7" r="4.35"/><circle cx="152.4" cy="2087.8" r="4.35"/><circle cx="146.5" cy="2064.8" r="4.35"/><circle cx="146.5" cy="2061.7" r="4.35"/><circle cx="146.5" cy="2055.6" r="4.35"/><circle cx="140.7" cy="2047.9" r="4.35"/><circle cx="117.3" cy="2055.6" r="4.35"/><circle cx="175.8" cy="2054" r="4.35"/><circle cx="199.1" cy="2061.7" r="4.35"/><circle cx="234.2" cy="2081.7" r="4.35"/><circle cx="251.7" cy="2074" r="4.35"/><circle cx="263.4" cy="2066.3" r="4.35"/><circle cx="228.4" cy="2050.9" r="4.35"/><circle cx="234.2" cy="2043.3" r="4.35"/><circle cx="257.6" cy="2050.9" r="4.35"/><circle cx="281" cy="2054" r="4.35"/><circle cx="292.7" cy="2107.8" r="4.35"/><circle cx="105.6" cy="2037.1" r="4.35"/><circle cx="105.6" cy="2041.7" r="4.35"/><circle cx="316" cy="2040.2" r="4.35"/><circle cx="129" cy="2027.9" r="4.35"/><circle cx="152.4" cy="2029.4" r="4.35"/><circle cx="479.5" cy="1849.7" r="4.35"/><circle cx="497.1" cy="1851.3" r="4.35"/><circle cx="514.7" cy="1846" r="4.35"/><circle cx="532.1" cy="1821.5" r="4.35"/><circle cx="497.1" cy="1897.1" r="4.35"/><circle cx="491.1" cy="1906.8" r="4.35"/><circle cx="479.5" cy="1910.4" r="4.35"/><circle cx="532.1" cy="1898.6" r="4.35"/><circle cx="538.1" cy="1893.5" r="4.35"/><circle cx="543.9" cy="1891.4" r="4.35"/><circle cx="543.9" cy="1897.6" r="4.35"/><circle cx="567" cy="1870.2" r="4.35"/><circle cx="573.1" cy="1857.6" r="4.35"/><circle cx="596.5" cy="1868.5" r="4.35"/><circle cx="602.2" cy="1880.8" r="4.35"/><circle cx="602.2" cy="1909.2" r="4.35"/><circle cx="602.2" cy="1925.6" r="4.35"/><circle cx="578.9" cy="1926.3" r="4.35"/><circle cx="619.8" cy="1923.4" r="4.35"/><circle cx="631.4" cy="1863.9" r="4.35"/><circle cx="637.4" cy="1855.2" r="4.35"/><circle cx="655" cy="1853.5" r="4.35"/><circle cx="666.6" cy="1845.8" r="4.35"/><circle cx="731" cy="1856.2" r="4.35"/><circle cx="660.8" cy="1879.8" r="4.35"/><circle cx="672.4" cy="1874.7" r="4.35"/><circle cx="672.4" cy="1878.8" r="4.35"/><circle cx="660.8" cy="1895.7" r="4.35"/><circle cx="660.8" cy="1897.6" r="4.35"/><circle cx="678.4" cy="1903.4" r="4.35"/><circle cx="497.1" cy="1928.7" r="4.35"/><circle cx="514.7" cy="1931.4" r="4.35"/><circle cx="479.5" cy="1934.3" r="4.35"/><circle cx="497.1" cy="1939.1" r="4.35"/><circle cx="503.2" cy="1941.5" r="4.35"/><circle cx="485.6" cy="1943.9" r="4.35"/><circle cx="497.1" cy="1942.7" r="4.35"/><circle cx="549.7" cy="1938.6" r="4.35"/><circle cx="520.5" cy="1945.8" r="4.35"/><circle cx="538.1" cy="1947.5" r="4.35"/><circle cx="538.1" cy="1949.9" r="4.35"/><circle cx="573.1" cy="1945.1" r="4.35"/><circle cx="584.6" cy="1948.7" r="4.35"/><circle cx="584.6" cy="1951.1" r="4.35"/><circle cx="596.5" cy="1944.6" r="4.35"/><circle cx="602.2" cy="1939.1" r="4.35"/><circle cx="614" cy="1943.4" r="4.35"/><circle cx="614" cy="1949.9" r="4.35"/><circle cx="631.4" cy="1952.8" r="4.35"/><circle cx="655" cy="1931.4" r="4.35"/><circle cx="672.4" cy="1934.3" r="4.35"/><circle cx="678.4" cy="1934.3" r="4.35"/><circle cx="678.4" cy="1940.3" r="4.35"/><circle cx="684.2" cy="1939.1" r="4.35"/><circle cx="696" cy="1937.2" r="4.35"/><circle cx="690" cy="1919.8" r="4.35"/><circle cx="713.4" cy="1929.9" r="4.35"/><circle cx="719.4" cy="1927" r="4.35"/><circle cx="719.4" cy="1945.6" r="4.35"/><circle cx="725.2" cy="1943.9" r="4.35"/><circle cx="655" cy="1950.4" r="4.35"/><circle cx="660.8" cy="1951.6" r="4.35"/><circle cx="660.8" cy="1958.9" r="4.35"/><circle cx="660.8" cy="1965.6" r="4.35"/><circle cx="678.4" cy="1952.3" r="4.35"/><circle cx="684.2" cy="1954" r="4.35"/><circle cx="678.4" cy="1958.9" r="4.35"/><circle cx="701.8" cy="1956.4" r="4.35"/><circle cx="707.6" cy="1965.6" r="4.35"/><circle cx="707.6" cy="1968.5" r="4.35"/><circle cx="696" cy="1969.9" r="4.35"/><circle cx="719.4" cy="1970.4" r="4.35"/><circle cx="655" cy="1973.3" r="4.35"/><circle cx="643.2" cy="1967.3" r="4.35"/><circle cx="491.1" cy="1955.2" r="4.35"/><circle cx="497.1" cy="1953.6" r="4.35"/><circle cx="485.6" cy="1958.9" r="4.35"/><circle cx="508.5" cy="1955.2" r="4.35"/><circle cx="520.5" cy="1954" r="4.35"/><circle cx="526.3" cy="1953.6" r="4.35"/><circle cx="543.9" cy="1957.2" r="4.35"/><circle cx="561.3" cy="1962.5" r="4.35"/><circle cx="567" cy="1960.1" r="4.35"/><circle cx="573.1" cy="1961.3" r="4.35"/><circle cx="561.3" cy="1970.4" r="4.35"/><circle cx="555.5" cy="1975.2" r="4.35"/><circle cx="479.5" cy="1965.6" r="4.35"/><circle cx="479.5" cy="1969.2" r="4.35"/><circle cx="485.6" cy="1965.6" r="4.35"/><circle cx="491.1" cy="1966.8" r="4.35"/><circle cx="497.1" cy="1963.7" r="4.35"/><circle cx="497.1" cy="1966.8" r="4.35"/><circle cx="497.1" cy="1970.4" r="4.35"/><circle cx="503.2" cy="1969.2" r="4.35"/><circle cx="508.5" cy="1962.5" r="4.35"/><circle cx="508.5" cy="1970.4" r="4.35"/><circle cx="514.7" cy="1965.1" r="4.35"/><circle cx="526.3" cy="1963.7" r="4.35"/><circle cx="514.7" cy="1976.5" r="4.35"/><circle cx="526.3" cy="1974.8" r="4.35"/><circle cx="532.1" cy="1974" r="4.35"/><circle cx="543.9" cy="1978.1" r="4.35"/><circle cx="479.5" cy="1972.8" r="4.35"/><circle cx="485.6" cy="1977.7" r="4.35"/><circle cx="491.1" cy="1978.9" r="4.35"/><circle cx="497.1" cy="1979.3" r="4.35"/><circle cx="479.5" cy="1987.8" r="4.35"/><circle cx="485.6" cy="1982.5" r="4.35"/><circle cx="602.2" cy="1971.6" r="4.35"/><circle cx="608" cy="1970.4" r="4.35"/><circle cx="608" cy="1972.8" r="4.35"/><circle cx="614" cy="1963.2" r="4.35"/><circle cx="614" cy="1968" r="4.35"/><circle cx="619.8" cy="1965.1" r="4.35"/><circle cx="619.8" cy="1972.1" r="4.35"/></g>
<path d="M62.5 1978.7H763" stroke="#525252" stroke-opacity="0.8" stroke-width="2.3" stroke-dasharray="9.42 9.42" fill="none"/>
<polygon points="93.8,1986.7 99.2,1987.8 104.5,1988.9 109.9,1989.9 115.2,1990.8 120.6,1991.7 125.9,1992.6 131.3,1993.3 136.6,1994.1 142,1994.7 147.3,1995.4 152.7,1995.9 158,1996.4 163.4,1996.8 168.8,1997.1 174.1,1997.4 179.5,1997.6 184.8,1997.8 190.2,1997.9 195.5,1997.9 200.9,1997.9 206.2,1997.8 211.6,1997.6 216.9,1997.3 222.3,1997 227.6,1996.5 233,1996 238.3,1995.4 243.7,1994.7 249.1,1993.9 254.4,1993.1 259.8,1992.1 265.1,1991.2 270.5,1990.1 275.8,1989 281.2,1987.9 286.5,1986.8 291.9,1985.6 297.2,1984.3 302.6,1983.1 307.9,1981.8 313.3,1980.5 318.7,1979.2 324,1977.8 329.4,1976.5 334.7,1975.1 340.1,1973.7 345.4,1972.3 350.8,1971 356.1,1969.6 361.5,1968.3 366.8,1967.1 372.2,1965.8 377.5,1964.5 382.9,1963.2 388.2,1961.9 393.6,1960.6 399,1959.3 404.3,1958 409.7,1956.7 415,1955.4 420.4,1954.1 425.7,1952.9 431.1,1951.6 436.4,1950.4 441.8,1949.2 447.1,1948.1 452.5,1946.9 457.8,1945.8 463.2,1944.7 468.6,1943.7 473.9,1942.6 479.3,1941.7 484.6,1940.7 490,1939.9 495.3,1939 500.7,1938.2 506,1937.4 511.4,1936.6 516.7,1935.9 522.1,1935.1 527.4,1934.4 532.8,1933.7 538.1,1933.1 543.5,1932.4 548.9,1931.8 554.2,1931.2 559.6,1930.5 564.9,1929.9 570.3,1929.3 575.6,1928.6 581,1928 586.3,1927.3 591.7,1926.6 597,1925.9 602.4,1925.2 607.7,1924.5 613.1,1923.9 618.4,1923.3 623.8,1922.7 629.2,1922.1 634.5,1921.6 639.9,1921.1 645.2,1920.6 650.6,1920.1 655.9,1919.5 661.3,1918.8 666.6,1918.2 672,1917.5 677.3,1916.9 682.7,1916.3 688,1915.8 693.4,1915.2 698.8,1914.7 704.1,1914.1 709.5,1913.1 714.8,1912.1 720.2,1911.2 725.5,1910.3 730.9,1909.4 730.9,1931.5 725.5,1930.9 720.2,1930.3 714.8,1929.7 709.5,1929.2 704.1,1928.6 698.8,1928.5 693.4,1928.6 688,1928.7 682.7,1928.8 677.3,1929 672,1929.2 666.6,1929.4 661.3,1929.6 655.9,1929.8 650.6,1930.1 645.2,1930.4 639.9,1930.6 634.5,1930.9 629.2,1931.2 623.8,1931.6 618.4,1931.9 613.1,1932.4 607.7,1932.8 602.4,1933.2 597,1933.7 591.7,1934.2 586.3,1934.7 581,1935.1 575.6,1935.6 570.3,1936 564.9,1936.4 559.6,1936.9 554.2,1937.3 548.9,1937.8 543.5,1938.4 538.1,1939 532.8,1939.7 527.4,1940.4 522.1,1941.1 516.7,1941.8 511.4,1942.6 506,1943.3 500.7,1944.1 495.3,1944.9 490,1945.7 484.6,1946.6 479.3,1947.5 473.9,1948.5 468.6,1949.5 463.2,1950.5 457.8,1951.6 452.5,1952.7 447.1,1953.8 441.8,1955 436.4,1956.2 431.1,1957.3 425.7,1958.6 420.4,1959.8 415,1961.1 409.7,1962.4 404.3,1963.7 399,1965 393.6,1966.3 388.2,1967.5 382.9,1968.8 377.5,1970.1 372.2,1971.3 366.8,1972.6 361.5,1973.9 356.1,1975.2 350.8,1976.5 345.4,1977.8 340.1,1979.2 334.7,1980.6 329.4,1981.9 324,1983.3 318.7,1984.6 313.3,1985.9 307.9,1987.2 302.6,1988.5 297.2,1989.7 291.9,1990.9 286.5,1992.1 281.2,1993.3 275.8,1994.4 270.5,1995.4 265.1,1996.5 259.8,1997.4 254.4,1998.3 249.1,1999.2 243.7,1999.9 238.3,2000.6 233,2001.2 227.6,2001.7 222.3,2002.2 216.9,2002.5 211.6,2002.8 206.2,2002.9 200.9,2003 195.5,2003 190.2,2003 184.8,2002.9 179.5,2002.7 174.1,2002.5 168.8,2002.2 163.4,2001.8 158,2001.4 152.7,2000.9 147.3,2000.4 142,1999.9 136.6,1999.3 131.3,1998.7 125.9,1998 120.6,1997.3 115.2,1996.5 109.9,1995.6 104.5,1994.7 99.2,1993.7 93.8,1992.7" fill="#949494" fill-opacity="0.38"/>
<polyline points="93.8,1989.7 99.2,1990.8 104.5,1991.8 109.9,1992.7 115.2,1993.6 120.6,1994.5 125.9,1995.3 131.3,1996 136.6,1996.7 142,1997.3 147.3,1997.9 152.7,1998.4 158,1998.9 163.4,1999.3 168.8,1999.6 174.1,1999.9 179.5,2000.1 184.8,2000.3 190.2,2000.4 195.5,2000.5 200.9,2000.5 206.2,2000.4 211.6,2000.2 216.9,1999.9 222.3,1999.6 227.6,1999.1 233,1998.6 238.3,1998 243.7,1997.3 249.1,1996.5 254.4,1995.7 259.8,1994.8 265.1,1993.8 270.5,1992.8 275.8,1991.7 281.2,1990.6 286.5,1989.4 291.9,1988.3 297.2,1987 302.6,1985.8 307.9,1984.5 313.3,1983.2 318.7,1981.9 324,1980.6 329.4,1979.2 334.7,1977.8 340.1,1976.4 345.4,1975.1 350.8,1973.7 356.1,1972.4 361.5,1971.1 366.8,1969.8 372.2,1968.6 377.5,1967.3 382.9,1966 388.2,1964.7 393.6,1963.4 399,1962.2 404.3,1960.9 409.7,1959.5 415,1958.3 420.4,1957 425.7,1955.7 431.1,1954.5 436.4,1953.3 441.8,1952.1 447.1,1951 452.5,1949.8 457.8,1948.7 463.2,1947.6 468.6,1946.6 473.9,1945.6 479.3,1944.6 484.6,1943.7 490,1942.8 495.3,1942 500.7,1941.2 506,1940.4 511.4,1939.6 516.7,1938.8 522.1,1938.1 527.4,1937.4 532.8,1936.7 538.1,1936 543.5,1935.4 548.9,1934.8 554.2,1934.2 559.6,1933.7 564.9,1933.2 570.3,1932.6 575.6,1932.1 581,1931.5 586.3,1931 591.7,1930.4 597,1929.8 602.4,1929.2 607.7,1928.7 613.1,1928.1 618.4,1927.6 623.8,1927.1 629.2,1926.7 634.5,1926.3 639.9,1925.9 645.2,1925.5 650.6,1925.1 655.9,1924.6 661.3,1924.2 666.6,1923.8 672,1923.3 677.3,1922.9 682.7,1922.6 688,1922.2 693.4,1921.9 698.8,1921.6 704.1,1921.4 709.5,1921.1 714.8,1920.9 720.2,1920.7 725.5,1920.6 730.9,1920.4" fill="none" stroke="#ea1418" stroke-width="3.3" stroke-linejoin="round" stroke-linecap="butt"/>
<g font-size="14.1" fill="#343434"><g text-anchor="end"><text x="52.7" y="1983.7">0.0</text><text x="52.7" y="1830">0.1</text></g><g text-anchor="middle"><text x="181.6" y="2148.2">25</text><text x="327.7" y="2148.2">50</text><text x="473.9" y="2148.2">75</text><text x="620" y="2148.2">100</text></g></g>
<g font-size="18.8" fill="#000" text-anchor="middle"><text x="412.3" y="2169.2">GGT</text><text transform="translate(20.6 1904.6) rotate(-90)" y="6.7">SHAP</text></g>
<text x="17.2" y="1696.1" font-size="22.3" font-weight="normal" fill="#000" stroke="#000" stroke-width="1.0" stroke-linejoin="round">G</text>
<g fill="none"><path stroke="#e7e7e7" stroke-width="1.8" d="M840.2 2067.8H1528.5M840.2 1970H1528.5M840.2 1872.2H1528.5M840.2 1774.4H1528.5"/><path stroke="#e7e7e7" stroke-width="1.8" d="M1026.9 1680V2129M1339.9 1680V2129"/></g>
<g fill="#000" fill-opacity="0.55"><circle cx="1026.9" cy="2050.7" r="3.7"/><circle cx="1026.9" cy="2053.1" r="3.7"/><circle cx="1026.9" cy="2055.6" r="3.7"/><circle cx="1026.9" cy="2058" r="3.7"/><circle cx="1026.9" cy="2060.5" r="3.7"/><circle cx="1026.9" cy="2062.9" r="3.7"/><circle cx="1026.9" cy="2067.8" r="3.7"/><circle cx="1026.9" cy="2070.2" r="3.7"/><circle cx="1026.9" cy="2083.4" r="3.7"/><circle cx="1026.9" cy="2086.4" r="3.7"/><circle cx="1026.9" cy="2089.8" r="3.7"/><circle cx="1026.9" cy="2096.2" r="3.7"/><circle cx="1026.9" cy="2108.4" r="3.7"/></g>
<path d="M1026.9 1965V1970.2M1026.9 2003V2052" stroke="#111" stroke-width="1.7" fill="none"/><rect x="949.1" y="1970.2" width="156.5" height="32.8" fill="#3182bd" fill-opacity="0.7" stroke="#151515" stroke-width="1.7"/><path d="M949.1 1984.4H1105.6" stroke="#1a1a1a" stroke-width="2.9" fill="none"/>
<path d="M1339.9 1699.1V1809M1339.9 1895.3V1957" stroke="#111" stroke-width="1.7" fill="none"/><rect x="1261.6" y="1809" width="156.5" height="86.3" fill="#3182bd" fill-opacity="0.7" stroke="#151515" stroke-width="1.7"/><path d="M1261.6 1862.2H1418.1" stroke="#1a1a1a" stroke-width="2.9" fill="none"/>
<g fill="#000" fill-opacity="0.4"><circle cx="1036.2" cy="2026.9" r="3.7"/><circle cx="1025.5" cy="1975.2" r="3.7"/><circle cx="1027.1" cy="1989.9" r="3.7"/><circle cx="1041.6" cy="1968.9" r="3.7"/><circle cx="1026.3" cy="1978.1" r="3.7"/><circle cx="1000.4" cy="1999.7" r="3.7"/><circle cx="1021.6" cy="1983.8" r="3.7"/><circle cx="1057.5" cy="1993.1" r="3.7"/><circle cx="1006.1" cy="1973" r="3.7"/><circle cx="1046.7" cy="2057.4" r="3.7"/><circle cx="1010" cy="1983.7" r="3.7"/><circle cx="1009.4" cy="2021.3" r="3.7"/><circle cx="998.2" cy="1974.4" r="3.7"/><circle cx="1002.3" cy="1985" r="3.7"/><circle cx="1040.3" cy="1999.2" r="3.7"/><circle cx="1056.8" cy="2008.6" r="3.7"/><circle cx="1013.1" cy="1998.7" r="3.7"/><circle cx="1015.3" cy="1982.1" r="3.7"/><circle cx="1001.9" cy="1972.6" r="3.7"/><circle cx="1053.2" cy="2025.2" r="3.7"/><circle cx="1013.7" cy="2000.2" r="3.7"/><circle cx="1053.6" cy="1993" r="3.7"/><circle cx="1028.4" cy="1976.5" r="3.7"/><circle cx="1010.7" cy="1977.4" r="3.7"/><circle cx="1040.8" cy="1983.8" r="3.7"/><circle cx="1051.1" cy="2010.5" r="3.7"/><circle cx="1050.9" cy="1998.5" r="3.7"/><circle cx="1002.4" cy="1994.1" r="3.7"/><circle cx="1013.8" cy="1974.3" r="3.7"/><circle cx="1031.7" cy="1983.5" r="3.7"/><circle cx="1003.6" cy="1969.9" r="3.7"/><circle cx="1023.8" cy="1994.2" r="3.7"/><circle cx="1004.7" cy="2010.9" r="3.7"/><circle cx="999.1" cy="1978.6" r="3.7"/><circle cx="1016.8" cy="1996.5" r="3.7"/><circle cx="1032.8" cy="1980.4" r="3.7"/><circle cx="1058" cy="1974.2" r="3.7"/><circle cx="1022.8" cy="1972.7" r="3.7"/><circle cx="1007" cy="2006.2" r="3.7"/><circle cx="1004.2" cy="1984.9" r="3.7"/><circle cx="1036.9" cy="1989.4" r="3.7"/><circle cx="1007" cy="1977.5" r="3.7"/><circle cx="1013.5" cy="1982.2" r="3.7"/><circle cx="1024.6" cy="1969.5" r="3.7"/><circle cx="1023.2" cy="1996.8" r="3.7"/><circle cx="1017.4" cy="1985.7" r="3.7"/><circle cx="1011" cy="1979.7" r="3.7"/><circle cx="1037.5" cy="2028" r="3.7"/><circle cx="1027.1" cy="1972.1" r="3.7"/><circle cx="1010.9" cy="1978.7" r="3.7"/><circle cx="1025.4" cy="1975.3" r="3.7"/><circle cx="1019.9" cy="1988.2" r="3.7"/><circle cx="1010.2" cy="1971.9" r="3.7"/><circle cx="1051.8" cy="1999.4" r="3.7"/><circle cx="1007.3" cy="2034.2" r="3.7"/><circle cx="1049.8" cy="1979.9" r="3.7"/><circle cx="1025.8" cy="1973.6" r="3.7"/><circle cx="1030.1" cy="1998.1" r="3.7"/><circle cx="1057.1" cy="1978.3" r="3.7"/><circle cx="1050.2" cy="1983.3" r="3.7"/><circle cx="1035.5" cy="2050.6" r="3.7"/><circle cx="1008.1" cy="2058.6" r="3.7"/><circle cx="1020.8" cy="1979" r="3.7"/><circle cx="1022.3" cy="1988.7" r="3.7"/><circle cx="1004.9" cy="2013.1" r="3.7"/><circle cx="1007.3" cy="1978.9" r="3.7"/><circle cx="1054.1" cy="2022.8" r="3.7"/><circle cx="1041.5" cy="2004.1" r="3.7"/><circle cx="1010.3" cy="1992.2" r="3.7"/><circle cx="1041.9" cy="1986.6" r="3.7"/><circle cx="1011.9" cy="1995.2" r="3.7"/><circle cx="1008.7" cy="2019.6" r="3.7"/><circle cx="1008.4" cy="1970.8" r="3.7"/><circle cx="997" cy="1992.7" r="3.7"/><circle cx="1028.6" cy="2006.7" r="3.7"/><circle cx="1054.2" cy="1980.2" r="3.7"/><circle cx="1050.3" cy="1988.3" r="3.7"/><circle cx="1030.4" cy="1989.4" r="3.7"/><circle cx="1053.8" cy="2000.8" r="3.7"/><circle cx="1019.7" cy="1977.3" r="3.7"/><circle cx="1023.5" cy="2010.6" r="3.7"/><circle cx="1050.1" cy="1981.7" r="3.7"/><circle cx="1027.2" cy="2001.1" r="3.7"/><circle cx="1046.9" cy="1999.2" r="3.7"/><circle cx="1007" cy="1977.8" r="3.7"/><circle cx="1009.7" cy="1988" r="3.7"/><circle cx="1027.8" cy="2022.9" r="3.7"/><circle cx="1002.8" cy="2008.6" r="3.7"/><circle cx="1036" cy="2022.3" r="3.7"/><circle cx="1048.4" cy="2005.6" r="3.7"/><circle cx="1045.6" cy="1975.1" r="3.7"/><circle cx="1008.8" cy="2026.4" r="3.7"/><circle cx="1035.7" cy="1991" r="3.7"/><circle cx="1051.8" cy="1977.5" r="3.7"/><circle cx="1047.8" cy="2022.9" r="3.7"/><circle cx="1033.8" cy="1996.5" r="3.7"/><circle cx="1004.4" cy="1973.7" r="3.7"/><circle cx="1014.3" cy="1991.6" r="3.7"/><circle cx="1007" cy="1976.4" r="3.7"/><circle cx="1034.5" cy="2016.8" r="3.7"/><circle cx="1002.2" cy="1985.2" r="3.7"/><circle cx="1033.5" cy="1980.9" r="3.7"/><circle cx="1006.3" cy="1985.9" r="3.7"/><circle cx="1037" cy="1993.7" r="3.7"/><circle cx="1029.5" cy="1976.3" r="3.7"/><circle cx="1004.7" cy="1996" r="3.7"/><circle cx="1054.6" cy="1998.3" r="3.7"/><circle cx="1002.1" cy="2004.2" r="3.7"/><circle cx="1044.2" cy="1983.9" r="3.7"/><circle cx="1031.9" cy="1993.8" r="3.7"/><circle cx="1047" cy="1974.7" r="3.7"/><circle cx="995.7" cy="1978.3" r="3.7"/><circle cx="1008.7" cy="1975" r="3.7"/><circle cx="1036.4" cy="1974.9" r="3.7"/><circle cx="1030.3" cy="2067.8" r="3.7"/><circle cx="1046.3" cy="1981.8" r="3.7"/><circle cx="1049.8" cy="1978" r="3.7"/><circle cx="1007.8" cy="1997.1" r="3.7"/><circle cx="1054.8" cy="1980.4" r="3.7"/><circle cx="1015.3" cy="1973.1" r="3.7"/><circle cx="1037.6" cy="1971.2" r="3.7"/><circle cx="1007.2" cy="1970.4" r="3.7"/><circle cx="996.1" cy="2033.8" r="3.7"/><circle cx="1002.1" cy="2017.3" r="3.7"/><circle cx="1011.7" cy="1970.5" r="3.7"/><circle cx="1036.4" cy="2000.9" r="3.7"/><circle cx="1031.5" cy="1980.6" r="3.7"/><circle cx="1016.2" cy="2046.3" r="3.7"/><circle cx="1026.1" cy="1996" r="3.7"/><circle cx="1001.9" cy="2047.7" r="3.7"/><circle cx="1039" cy="1980.7" r="3.7"/><circle cx="1024.4" cy="1986.6" r="3.7"/><circle cx="1028.3" cy="1968.8" r="3.7"/><circle cx="1012.7" cy="2000.4" r="3.7"/><circle cx="1048.9" cy="1994.3" r="3.7"/><circle cx="1003" cy="1982.8" r="3.7"/><circle cx="1022.4" cy="1984" r="3.7"/><circle cx="1044.1" cy="1974" r="3.7"/><circle cx="1053.1" cy="1996.3" r="3.7"/><circle cx="999.4" cy="1976.4" r="3.7"/><circle cx="1055" cy="2019.2" r="3.7"/><circle cx="1028.2" cy="1974.6" r="3.7"/><circle cx="1029.5" cy="2004.2" r="3.7"/><circle cx="1053.8" cy="1991.9" r="3.7"/><circle cx="1054.2" cy="1986.8" r="3.7"/><circle cx="1032" cy="1974.5" r="3.7"/><circle cx="1048.4" cy="1974.2" r="3.7"/><circle cx="1019.4" cy="1977.2" r="3.7"/><circle cx="1006.3" cy="2020.8" r="3.7"/><circle cx="1029.2" cy="2062.6" r="3.7"/><circle cx="997" cy="1987.1" r="3.7"/><circle cx="1056.3" cy="1983.1" r="3.7"/><circle cx="1043.3" cy="1978.1" r="3.7"/><circle cx="996.6" cy="1972.7" r="3.7"/><circle cx="1055.1" cy="1973.1" r="3.7"/><circle cx="1048.7" cy="1982.2" r="3.7"/><circle cx="1017.5" cy="2007" r="3.7"/><circle cx="1050.6" cy="1988" r="3.7"/><circle cx="1015.1" cy="2026.4" r="3.7"/><circle cx="1029.3" cy="1983.2" r="3.7"/><circle cx="1033.8" cy="1982.4" r="3.7"/><circle cx="1030.1" cy="1980" r="3.7"/><circle cx="1029.4" cy="2020.6" r="3.7"/><circle cx="1051" cy="1983" r="3.7"/><circle cx="997.8" cy="2040.9" r="3.7"/><circle cx="1053.8" cy="1979.5" r="3.7"/><circle cx="1010.4" cy="1972.5" r="3.7"/><circle cx="1019.9" cy="1975.3" r="3.7"/><circle cx="1050.9" cy="1980.2" r="3.7"/><circle cx="1024.7" cy="2009.1" r="3.7"/><circle cx="1056.7" cy="2025.9" r="3.7"/><circle cx="1006.2" cy="1984.9" r="3.7"/><circle cx="1057.3" cy="1984.1" r="3.7"/><circle cx="1039.3" cy="1989.6" r="3.7"/><circle cx="1003.9" cy="1995.5" r="3.7"/><circle cx="1048.1" cy="1984.3" r="3.7"/><circle cx="1007.4" cy="1985.8" r="3.7"/><circle cx="1019.2" cy="1977.9" r="3.7"/><circle cx="1026.7" cy="2012.5" r="3.7"/><circle cx="1055.9" cy="1990.8" r="3.7"/><circle cx="1057.5" cy="2018.6" r="3.7"/><circle cx="1019.8" cy="2009.4" r="3.7"/><circle cx="1043.4" cy="1974.4" r="3.7"/><circle cx="1014.2" cy="1981.9" r="3.7"/><circle cx="1010.8" cy="1990.9" r="3.7"/><circle cx="1037.4" cy="1975.2" r="3.7"/><circle cx="1007.9" cy="1979.4" r="3.7"/><circle cx="1003.3" cy="1988.9" r="3.7"/><circle cx="1002.6" cy="1969.9" r="3.7"/><circle cx="1055.4" cy="2012" r="3.7"/><circle cx="1038.2" cy="1982.7" r="3.7"/><circle cx="1020.1" cy="2032.6" r="3.7"/><circle cx="1019" cy="1971.1" r="3.7"/><circle cx="1017" cy="2004.2" r="3.7"/><circle cx="1050" cy="1973.5" r="3.7"/><circle cx="997" cy="1972.7" r="3.7"/><circle cx="1033.7" cy="1971.2" r="3.7"/><circle cx="1035" cy="1983.1" r="3.7"/><circle cx="1047.3" cy="2009.3" r="3.7"/><circle cx="1001.1" cy="1980.7" r="3.7"/><circle cx="1054.4" cy="1972.9" r="3.7"/><circle cx="1017.9" cy="1972.9" r="3.7"/><circle cx="1025.4" cy="1981.8" r="3.7"/><circle cx="1029" cy="1976.6" r="3.7"/><circle cx="1036" cy="2006.9" r="3.7"/><circle cx="1056.7" cy="1987.6" r="3.7"/><circle cx="1042.5" cy="1983.4" r="3.7"/><circle cx="1028.8" cy="1972.6" r="3.7"/><circle cx="1028.7" cy="2007.1" r="3.7"/><circle cx="1044.3" cy="1970.9" r="3.7"/><circle cx="1041.2" cy="1984.2" r="3.7"/><circle cx="1033.6" cy="1993.5" r="3.7"/><circle cx="1002.2" cy="1991.9" r="3.7"/><circle cx="1048.2" cy="1969.1" r="3.7"/><circle cx="1023.3" cy="2000" r="3.7"/><circle cx="1047.6" cy="1992.5" r="3.7"/><circle cx="1054.3" cy="1996.4" r="3.7"/><circle cx="1044.9" cy="1972.2" r="3.7"/><circle cx="1022.3" cy="2006.5" r="3.7"/><circle cx="1045.1" cy="1974.7" r="3.7"/><circle cx="1038.5" cy="1972.5" r="3.7"/><circle cx="1039.6" cy="1969.4" r="3.7"/><circle cx="1011.4" cy="1974.1" r="3.7"/><circle cx="1030.1" cy="1981.9" r="3.7"/><circle cx="1022.6" cy="1984.5" r="3.7"/><circle cx="998.2" cy="1995.3" r="3.7"/><circle cx="998.5" cy="2058" r="3.7"/><circle cx="1055.8" cy="1979.8" r="3.7"/><circle cx="1011.6" cy="1987.7" r="3.7"/><circle cx="996.4" cy="1981.3" r="3.7"/><circle cx="1008.9" cy="1985.6" r="3.7"/><circle cx="1024.5" cy="1987.9" r="3.7"/><circle cx="1051.3" cy="1998.6" r="3.7"/><circle cx="1023.8" cy="1978" r="3.7"/><circle cx="1027.8" cy="2036.8" r="3.7"/><circle cx="1049.7" cy="1981.8" r="3.7"/><circle cx="1029.3" cy="2029.7" r="3.7"/><circle cx="1029.4" cy="1987.7" r="3.7"/><circle cx="1029.4" cy="1971" r="3.7"/><circle cx="1042.8" cy="1995.3" r="3.7"/><circle cx="1050.7" cy="1985.8" r="3.7"/><circle cx="1049.7" cy="1985" r="3.7"/><circle cx="1000.2" cy="2048.9" r="3.7"/><circle cx="1048.4" cy="1997.2" r="3.7"/><circle cx="1001" cy="1994.1" r="3.7"/><circle cx="1010.1" cy="2020.9" r="3.7"/><circle cx="1033.5" cy="2014.5" r="3.7"/><circle cx="1006.9" cy="1978.9" r="3.7"/><circle cx="1044.2" cy="1974.3" r="3.7"/><circle cx="1016.2" cy="2008" r="3.7"/><circle cx="1012.3" cy="1994" r="3.7"/><circle cx="1026.6" cy="1992.4" r="3.7"/><circle cx="1029.5" cy="1969.7" r="3.7"/><circle cx="1033.2" cy="1974" r="3.7"/><circle cx="1055.3" cy="2001" r="3.7"/><circle cx="1039.1" cy="1980.3" r="3.7"/><circle cx="1012.3" cy="2005.3" r="3.7"/><circle cx="1052" cy="1971.7" r="3.7"/><circle cx="1050.9" cy="2067.8" r="3.7"/><circle cx="1015.2" cy="2008.5" r="3.7"/><circle cx="1001.3" cy="1997" r="3.7"/><circle cx="1027.7" cy="1973.2" r="3.7"/><circle cx="1044.5" cy="2003.6" r="3.7"/><circle cx="1010.3" cy="1978.1" r="3.7"/><circle cx="1024.9" cy="1972.9" r="3.7"/><circle cx="996.9" cy="2004.8" r="3.7"/><circle cx="1029.3" cy="1973.9" r="3.7"/><circle cx="1026" cy="1970.4" r="3.7"/><circle cx="999.7" cy="1983.5" r="3.7"/><circle cx="1034.5" cy="1992.5" r="3.7"/><circle cx="1039.8" cy="1989.8" r="3.7"/><circle cx="1054.2" cy="1987" r="3.7"/><circle cx="1024.4" cy="1972.8" r="3.7"/><circle cx="1003.3" cy="1989.5" r="3.7"/><circle cx="1006.6" cy="1986.5" r="3.7"/><circle cx="999.7" cy="1981" r="3.7"/><circle cx="1038.7" cy="1980.7" r="3.7"/><circle cx="1054.4" cy="2028.9" r="3.7"/><circle cx="1008" cy="1968.7" r="3.7"/><circle cx="1010.9" cy="2018.3" r="3.7"/><circle cx="1039.6" cy="2013.5" r="3.7"/><circle cx="1024.4" cy="1991.9" r="3.7"/><circle cx="1016.7" cy="2025.6" r="3.7"/><circle cx="1011.7" cy="1980.3" r="3.7"/><circle cx="1001.7" cy="1971.8" r="3.7"/><circle cx="1010" cy="1970.1" r="3.7"/><circle cx="1029.9" cy="1982.8" r="3.7"/><circle cx="1044.5" cy="1985.3" r="3.7"/><circle cx="1029.2" cy="1987.5" r="3.7"/><circle cx="1000.8" cy="1992.8" r="3.7"/><circle cx="997.6" cy="2003.9" r="3.7"/><circle cx="1018.7" cy="1977.4" r="3.7"/><circle cx="999.2" cy="1998.6" r="3.7"/><circle cx="1051.4" cy="1975.8" r="3.7"/><circle cx="1051.7" cy="2001.4" r="3.7"/><circle cx="1003.1" cy="1972.9" r="3.7"/><circle cx="1037.2" cy="1975.9" r="3.7"/><circle cx="995.8" cy="2015.2" r="3.7"/><circle cx="1022.9" cy="1984.1" r="3.7"/><circle cx="999.6" cy="2013.5" r="3.7"/><circle cx="1016.6" cy="1978" r="3.7"/><circle cx="1001.6" cy="1970.8" r="3.7"/><circle cx="1011.6" cy="1992.5" r="3.7"/><circle cx="1016" cy="1992.4" r="3.7"/><circle cx="1015.1" cy="1997.5" r="3.7"/><circle cx="1032.6" cy="1980.7" r="3.7"/><circle cx="1056.2" cy="1970" r="3.7"/><circle cx="1011.6" cy="1971.1" r="3.7"/><circle cx="1035.1" cy="1979.8" r="3.7"/><circle cx="1000.8" cy="1987.9" r="3.7"/><circle cx="1048.8" cy="1980.4" r="3.7"/><circle cx="1044.5" cy="1990.1" r="3.7"/><circle cx="1031.4" cy="1969.9" r="3.7"/><circle cx="1043.5" cy="1996.3" r="3.7"/><circle cx="1011.1" cy="1973" r="3.7"/><circle cx="1017.6" cy="1988.3" r="3.7"/><circle cx="1045" cy="2009.9" r="3.7"/><circle cx="1046.2" cy="1978.4" r="3.7"/><circle cx="1003.5" cy="1999.4" r="3.7"/><circle cx="1051" cy="1970.8" r="3.7"/><circle cx="1000.5" cy="1997.5" r="3.7"/><circle cx="1016.1" cy="1986.8" r="3.7"/><circle cx="1013.2" cy="1990.3" r="3.7"/><circle cx="1017.4" cy="1980.9" r="3.7"/><circle cx="1017" cy="2003.1" r="3.7"/><circle cx="998.9" cy="1971.6" r="3.7"/><circle cx="1005.6" cy="1983.7" r="3.7"/><circle cx="1049.6" cy="1997.4" r="3.7"/><circle cx="1022.1" cy="1970.3" r="3.7"/><circle cx="1013.2" cy="1974" r="3.7"/><circle cx="1012.8" cy="1993.2" r="3.7"/><circle cx="1037.1" cy="1983.6" r="3.7"/><circle cx="1049.1" cy="1980.3" r="3.7"/><circle cx="1044.8" cy="1974.5" r="3.7"/><circle cx="1043.6" cy="1972.9" r="3.7"/><circle cx="1042.9" cy="1993.7" r="3.7"/><circle cx="1033" cy="1994.5" r="3.7"/><circle cx="999.7" cy="1992.8" r="3.7"/><circle cx="1054.8" cy="1976.5" r="3.7"/><circle cx="1008" cy="1969.4" r="3.7"/><circle cx="1044.9" cy="1976.9" r="3.7"/><circle cx="998.9" cy="1987.4" r="3.7"/><circle cx="1037.1" cy="1977.7" r="3.7"/><circle cx="1045" cy="1992.8" r="3.7"/><circle cx="1012.2" cy="1978.1" r="3.7"/><circle cx="1036.4" cy="1976.6" r="3.7"/><circle cx="1051" cy="2007.3" r="3.7"/><circle cx="1048.3" cy="1973.8" r="3.7"/><circle cx="1054.6" cy="1988" r="3.7"/><circle cx="1054" cy="2021.8" r="3.7"/><circle cx="1001.2" cy="2000.5" r="3.7"/><circle cx="1016.7" cy="1988.2" r="3.7"/><circle cx="1044.1" cy="1973.4" r="3.7"/><circle cx="1019.4" cy="1983.7" r="3.7"/><circle cx="1014.1" cy="1972.8" r="3.7"/><circle cx="1002.3" cy="1989.9" r="3.7"/><circle cx="1010" cy="1973.5" r="3.7"/><circle cx="1018" cy="1972" r="3.7"/><circle cx="1016.9" cy="1986" r="3.7"/><circle cx="1055.2" cy="2002.4" r="3.7"/><circle cx="1023.8" cy="1969.2" r="3.7"/><circle cx="1028.2" cy="1985.5" r="3.7"/><circle cx="996.2" cy="2011.8" r="3.7"/><circle cx="1020" cy="1973.7" r="3.7"/><circle cx="1001.3" cy="2004.2" r="3.7"/><circle cx="1037.2" cy="2000" r="3.7"/><circle cx="1004.6" cy="1978.1" r="3.7"/><circle cx="1042.4" cy="1999.2" r="3.7"/><circle cx="1000.4" cy="1980.9" r="3.7"/><circle cx="1056.2" cy="1972.8" r="3.7"/><circle cx="996.7" cy="1989.8" r="3.7"/><circle cx="1052.8" cy="1969.7" r="3.7"/><circle cx="1048" cy="1973.6" r="3.7"/><circle cx="1033.8" cy="2031.3" r="3.7"/><circle cx="1055.5" cy="1980.6" r="3.7"/><circle cx="1024.6" cy="1986.5" r="3.7"/><circle cx="1010.1" cy="1979.4" r="3.7"/><circle cx="1044.6" cy="1983.2" r="3.7"/><circle cx="1046.3" cy="1976.3" r="3.7"/><circle cx="996.8" cy="1981" r="3.7"/><circle cx="1035" cy="1993" r="3.7"/><circle cx="1030.7" cy="1977.5" r="3.7"/><circle cx="1015" cy="2010.5" r="3.7"/><circle cx="1005.2" cy="1981" r="3.7"/><circle cx="1048.7" cy="1982.2" r="3.7"/><circle cx="1036.7" cy="1980.8" r="3.7"/><circle cx="1028.7" cy="1979.7" r="3.7"/><circle cx="1014.5" cy="2002.2" r="3.7"/><circle cx="1025.7" cy="1970.5" r="3.7"/><circle cx="1052.4" cy="2050.5" r="3.7"/><circle cx="1042.9" cy="1973.1" r="3.7"/><circle cx="996" cy="1980" r="3.7"/><circle cx="1040.8" cy="1976.9" r="3.7"/><circle cx="1046.6" cy="2007.4" r="3.7"/><circle cx="1003.2" cy="1996.8" r="3.7"/><circle cx="1049.6" cy="1973.8" r="3.7"/><circle cx="1023.7" cy="1975.1" r="3.7"/><circle cx="1055.8" cy="1984.8" r="3.7"/><circle cx="1017.7" cy="2019" r="3.7"/><circle cx="1005.8" cy="1975.8" r="3.7"/><circle cx="1035.6" cy="1990.9" r="3.7"/><circle cx="1022.7" cy="1969.9" r="3.7"/><circle cx="1024" cy="1992" r="3.7"/><circle cx="1000.7" cy="2011.2" r="3.7"/><circle cx="1030.2" cy="1974.7" r="3.7"/><circle cx="1020.2" cy="1982" r="3.7"/><circle cx="1010.8" cy="1990.7" r="3.7"/><circle cx="999.5" cy="1983.4" r="3.7"/><circle cx="1012.3" cy="2057.8" r="3.7"/><circle cx="1008.9" cy="2017" r="3.7"/><circle cx="997.9" cy="1971.2" r="3.7"/><circle cx="1050" cy="1981.3" r="3.7"/><circle cx="1030.9" cy="1990.7" r="3.7"/><circle cx="1044" cy="2020.5" r="3.7"/><circle cx="1033.4" cy="1980.1" r="3.7"/><circle cx="1047.3" cy="1973.4" r="3.7"/><circle cx="1038.2" cy="1974.5" r="3.7"/><circle cx="1053.6" cy="1974.9" r="3.7"/><circle cx="1022.5" cy="2005.8" r="3.7"/><circle cx="1034.5" cy="1979" r="3.7"/><circle cx="1016.7" cy="1976" r="3.7"/><circle cx="1055.3" cy="2006" r="3.7"/><circle cx="1050.8" cy="2003.6" r="3.7"/><circle cx="1022.5" cy="1979.3" r="3.7"/><circle cx="1046.1" cy="2003.2" r="3.7"/><circle cx="1016.4" cy="2011.5" r="3.7"/><circle cx="1050.4" cy="2020" r="3.7"/><circle cx="1009.1" cy="1987.2" r="3.7"/><circle cx="1000.1" cy="1973.9" r="3.7"/><circle cx="1046" cy="1970.3" r="3.7"/><circle cx="1003" cy="2000.2" r="3.7"/><circle cx="1025" cy="1987.5" r="3.7"/><circle cx="998" cy="1971.7" r="3.7"/><circle cx="1043.7" cy="2011.7" r="3.7"/><circle cx="999" cy="1983.1" r="3.7"/><circle cx="1046" cy="1972.4" r="3.7"/><circle cx="1043.5" cy="2013.6" r="3.7"/><circle cx="1052.4" cy="2039.4" r="3.7"/><circle cx="1043.6" cy="1994.9" r="3.7"/><circle cx="1040.3" cy="1997.9" r="3.7"/><circle cx="1038.2" cy="1992" r="3.7"/><circle cx="1051.6" cy="2020" r="3.7"/><circle cx="1051.8" cy="1985.2" r="3.7"/><circle cx="1014.2" cy="2010.3" r="3.7"/><circle cx="1038.9" cy="2048.3" r="3.7"/><circle cx="1043.7" cy="1990.9" r="3.7"/><circle cx="1053.4" cy="1976.3" r="3.7"/><circle cx="1039.3" cy="2058.8" r="3.7"/><circle cx="1036.4" cy="1993.2" r="3.7"/><circle cx="1053.8" cy="1978.6" r="3.7"/><circle cx="1007.4" cy="1971.9" r="3.7"/><circle cx="1032.3" cy="1990.7" r="3.7"/><circle cx="1018.5" cy="1970.6" r="3.7"/><circle cx="1007.1" cy="1978.5" r="3.7"/><circle cx="1057.2" cy="1978" r="3.7"/><circle cx="1023" cy="2014.5" r="3.7"/><circle cx="1024" cy="1973.8" r="3.7"/><circle cx="1057.4" cy="2004.2" r="3.7"/><circle cx="1041.4" cy="1992.9" r="3.7"/><circle cx="1056.7" cy="1977" r="3.7"/><circle cx="1032.2" cy="1976.2" r="3.7"/><circle cx="1030.1" cy="1978.6" r="3.7"/><circle cx="1047.6" cy="1977.6" r="3.7"/><circle cx="1007.1" cy="1971.3" r="3.7"/><circle cx="1052.2" cy="1971.9" r="3.7"/><circle cx="1022.9" cy="2037" r="3.7"/><circle cx="1040.7" cy="2001.2" r="3.7"/><circle cx="1018.7" cy="1973" r="3.7"/><circle cx="1036.9" cy="2005.2" r="3.7"/><circle cx="1016.9" cy="1992.8" r="3.7"/><circle cx="1051.7" cy="1969.1" r="3.7"/><circle cx="1007.8" cy="1981.9" r="3.7"/><circle cx="1037.7" cy="2064.3" r="3.7"/><circle cx="998.1" cy="1969.8" r="3.7"/><circle cx="1010.8" cy="1977.2" r="3.7"/><circle cx="1017" cy="2038.7" r="3.7"/><circle cx="1005.2" cy="2012.1" r="3.7"/><circle cx="1015.7" cy="1985.5" r="3.7"/><circle cx="1020" cy="2015.3" r="3.7"/><circle cx="1050.5" cy="1988.4" r="3.7"/><circle cx="1040.6" cy="1982.7" r="3.7"/><circle cx="996.2" cy="1972" r="3.7"/><circle cx="1032.7" cy="1982.8" r="3.7"/><circle cx="1024.3" cy="2009" r="3.7"/><circle cx="1023.5" cy="1972.2" r="3.7"/><circle cx="1034.2" cy="1997.8" r="3.7"/><circle cx="1001.8" cy="1976" r="3.7"/><circle cx="1053.8" cy="1982.8" r="3.7"/><circle cx="1056.8" cy="2000" r="3.7"/><circle cx="1031.2" cy="1994.6" r="3.7"/><circle cx="1017.9" cy="1972.4" r="3.7"/><circle cx="1046.5" cy="1985.2" r="3.7"/><circle cx="996.1" cy="1989.1" r="3.7"/><circle cx="1004.8" cy="1994.4" r="3.7"/><circle cx="1035.2" cy="1983.8" r="3.7"/><circle cx="1002.7" cy="1980" r="3.7"/><circle cx="1003" cy="2003.3" r="3.7"/><circle cx="1047.7" cy="1988.4" r="3.7"/><circle cx="1005.3" cy="1975.8" r="3.7"/><circle cx="1012.9" cy="1992" r="3.7"/><circle cx="1010.2" cy="1983.3" r="3.7"/><circle cx="1042.8" cy="1969" r="3.7"/><circle cx="1056.7" cy="1971.8" r="3.7"/><circle cx="996.7" cy="1972.3" r="3.7"/><circle cx="1026.8" cy="1983.1" r="3.7"/><circle cx="1042.5" cy="1981.7" r="3.7"/><circle cx="1029.3" cy="1989.4" r="3.7"/><circle cx="1040.7" cy="2008.2" r="3.7"/><circle cx="999.6" cy="2003.2" r="3.7"/><circle cx="1017.7" cy="2006.8" r="3.7"/><circle cx="1027.4" cy="2006.2" r="3.7"/><circle cx="1040.9" cy="1982.4" r="3.7"/><circle cx="1029.8" cy="1999.9" r="3.7"/><circle cx="1035" cy="1998.4" r="3.7"/><circle cx="1008.5" cy="1971.1" r="3.7"/><circle cx="1053.2" cy="1976.4" r="3.7"/><circle cx="1026.8" cy="1986.5" r="3.7"/><circle cx="1000.9" cy="1988.6" r="3.7"/><circle cx="1047" cy="1978.6" r="3.7"/><circle cx="1036.9" cy="1981.3" r="3.7"/><circle cx="1039.9" cy="2007.7" r="3.7"/><circle cx="1014.9" cy="1993" r="3.7"/><circle cx="999.8" cy="1976.7" r="3.7"/><circle cx="1042" cy="1976.4" r="3.7"/><circle cx="1052.9" cy="1973.4" r="3.7"/><circle cx="1035.4" cy="1979.4" r="3.7"/><circle cx="1020.1" cy="1976.1" r="3.7"/><circle cx="1010.6" cy="2013" r="3.7"/><circle cx="1048.5" cy="2007.5" r="3.7"/><circle cx="1037.9" cy="1994.7" r="3.7"/><circle cx="1050.6" cy="1975.8" r="3.7"/><circle cx="1045.2" cy="1990.3" r="3.7"/><circle cx="1011.4" cy="1993.2" r="3.7"/><circle cx="1054.8" cy="1993.9" r="3.7"/><circle cx="1020.9" cy="2033.5" r="3.7"/><circle cx="1027.9" cy="2015.5" r="3.7"/><circle cx="1057.3" cy="1971.6" r="3.7"/><circle cx="1040.8" cy="1980.2" r="3.7"/><circle cx="1038.4" cy="1988.6" r="3.7"/><circle cx="1020.8" cy="1994.6" r="3.7"/><circle cx="1021.2" cy="1977.9" r="3.7"/><circle cx="999.8" cy="1971.5" r="3.7"/><circle cx="1019.9" cy="2026.4" r="3.7"/><circle cx="1040.5" cy="1985.7" r="3.7"/><circle cx="1025.2" cy="2003.7" r="3.7"/><circle cx="1034.3" cy="1989.7" r="3.7"/><circle cx="1051.8" cy="1975.3" r="3.7"/><circle cx="1017.6" cy="1992.5" r="3.7"/><circle cx="1023.7" cy="1979.7" r="3.7"/><circle cx="996.3" cy="1980.9" r="3.7"/><circle cx="1030.9" cy="1987.2" r="3.7"/><circle cx="1044" cy="2003.3" r="3.7"/><circle cx="1042.6" cy="1979.2" r="3.7"/><circle cx="1011.1" cy="1977.7" r="3.7"/><circle cx="1032" cy="1978.4" r="3.7"/><circle cx="1050.3" cy="2003.6" r="3.7"/><circle cx="1049.2" cy="2002.5" r="3.7"/><circle cx="1017.2" cy="1971.2" r="3.7"/><circle cx="1007.4" cy="2023.2" r="3.7"/><circle cx="1026.9" cy="2005.8" r="3.7"/><circle cx="1006.6" cy="2025" r="3.7"/><circle cx="1016.2" cy="1995.1" r="3.7"/><circle cx="1018.5" cy="1980.6" r="3.7"/><circle cx="1042.4" cy="1994.5" r="3.7"/><circle cx="1013.7" cy="1969.7" r="3.7"/><circle cx="1030.3" cy="2007" r="3.7"/><circle cx="1045.4" cy="1978.3" r="3.7"/><circle cx="1016.3" cy="1969.3" r="3.7"/><circle cx="998.5" cy="1982.3" r="3.7"/><circle cx="1039.3" cy="2067.8" r="3.7"/><circle cx="1020.1" cy="1974.4" r="3.7"/><circle cx="1029.5" cy="2013.6" r="3.7"/><circle cx="1053.6" cy="1983.4" r="3.7"/><circle cx="997" cy="1986.4" r="3.7"/><circle cx="1039.4" cy="1995.7" r="3.7"/><circle cx="1034.9" cy="1969.2" r="3.7"/><circle cx="1054.3" cy="1983.5" r="3.7"/><circle cx="1021.2" cy="1974.5" r="3.7"/><circle cx="1048" cy="1994" r="3.7"/><circle cx="1022.2" cy="1984.7" r="3.7"/><circle cx="1047.9" cy="1995" r="3.7"/><circle cx="1019.1" cy="1989.7" r="3.7"/><circle cx="1036.5" cy="2001.1" r="3.7"/><circle cx="1002.2" cy="1992" r="3.7"/><circle cx="1040.9" cy="1991.8" r="3.7"/><circle cx="1030.8" cy="2004" r="3.7"/><circle cx="1035.4" cy="1973.5" r="3.7"/><circle cx="1040.4" cy="1981.5" r="3.7"/><circle cx="1020.7" cy="1992.6" r="3.7"/><circle cx="1030.5" cy="1975.1" r="3.7"/><circle cx="1028.7" cy="1992.8" r="3.7"/><circle cx="996" cy="1987.6" r="3.7"/><circle cx="1013.5" cy="1984.9" r="3.7"/><circle cx="1050.9" cy="2061.1" r="3.7"/><circle cx="1024.6" cy="1999.1" r="3.7"/><circle cx="1027.1" cy="1970.2" r="3.7"/><circle cx="997.1" cy="1972.8" r="3.7"/><circle cx="1031.3" cy="1994.8" r="3.7"/><circle cx="1056.6" cy="1970.7" r="3.7"/><circle cx="1027.1" cy="1984.1" r="3.7"/><circle cx="1020" cy="1997" r="3.7"/><circle cx="1027.9" cy="1990.9" r="3.7"/><circle cx="1013.2" cy="2067.8" r="3.7"/><circle cx="1003.8" cy="2004.3" r="3.7"/><circle cx="1047.3" cy="1977.5" r="3.7"/><circle cx="1002.8" cy="1979.5" r="3.7"/><circle cx="1046.4" cy="1986" r="3.7"/><circle cx="1021.3" cy="1982.6" r="3.7"/><circle cx="1000.3" cy="1973.3" r="3.7"/><circle cx="1004.7" cy="2007" r="3.7"/><circle cx="999.1" cy="2036.3" r="3.7"/><circle cx="1052.3" cy="2002.5" r="3.7"/><circle cx="1021.1" cy="1975.3" r="3.7"/><circle cx="1014" cy="1980.9" r="3.7"/><circle cx="1038.5" cy="2024.8" r="3.7"/><circle cx="1037.2" cy="1987.3" r="3.7"/><circle cx="1025.3" cy="1970" r="3.7"/><circle cx="1012.3" cy="1990" r="3.7"/><circle cx="1052.3" cy="1979.3" r="3.7"/><circle cx="996.6" cy="1968.8" r="3.7"/><circle cx="1034.9" cy="2038.4" r="3.7"/><circle cx="1047.3" cy="2043.2" r="3.7"/><circle cx="1047.7" cy="2015.7" r="3.7"/><circle cx="996.5" cy="2047.8" r="3.7"/><circle cx="1055.8" cy="2027.3" r="3.7"/><circle cx="1021.7" cy="2035.3" r="3.7"/><circle cx="1036.4" cy="2016.1" r="3.7"/><circle cx="1045.5" cy="2032.2" r="3.7"/><circle cx="1052.8" cy="2048" r="3.7"/><circle cx="1058" cy="2037.1" r="3.7"/><circle cx="1023.5" cy="2016.6" r="3.7"/><circle cx="1058" cy="2022" r="3.7"/><circle cx="1035.6" cy="2024" r="3.7"/><circle cx="1045.7" cy="2017.3" r="3.7"/><circle cx="1026.7" cy="2023.7" r="3.7"/><circle cx="1011.6" cy="2047.8" r="3.7"/><circle cx="1012.5" cy="2016.5" r="3.7"/><circle cx="1043.5" cy="2047" r="3.7"/><circle cx="999.9" cy="2006.6" r="3.7"/><circle cx="1009.8" cy="2035" r="3.7"/><circle cx="1023.1" cy="2031.6" r="3.7"/><circle cx="1007.7" cy="2017.8" r="3.7"/><circle cx="1022.7" cy="2010.3" r="3.7"/><circle cx="1039.9" cy="2008.2" r="3.7"/><circle cx="1033.5" cy="2046.5" r="3.7"/><circle cx="1052" cy="2012.8" r="3.7"/><circle cx="1044.7" cy="2042.4" r="3.7"/><circle cx="1021.9" cy="2017.9" r="3.7"/><circle cx="1055" cy="2016.9" r="3.7"/><circle cx="1055.7" cy="2008.4" r="3.7"/><circle cx="1039.3" cy="2046.5" r="3.7"/><circle cx="1042.4" cy="2014.6" r="3.7"/><circle cx="1041.9" cy="2042.5" r="3.7"/><circle cx="1025.1" cy="2013.5" r="3.7"/><circle cx="1023.4" cy="2043.3" r="3.7"/><circle cx="1013.1" cy="2016.1" r="3.7"/><circle cx="996.4" cy="2044.1" r="3.7"/><circle cx="1000.8" cy="2019.7" r="3.7"/><circle cx="1026.7" cy="2008.2" r="3.7"/><circle cx="1053.9" cy="2030.8" r="3.7"/><circle cx="1006.7" cy="2010.8" r="3.7"/><circle cx="1044.7" cy="2038" r="3.7"/><circle cx="1050" cy="2034.2" r="3.7"/><circle cx="1050" cy="2017.6" r="3.7"/><circle cx="1014.8" cy="2033.4" r="3.7"/><circle cx="1013.4" cy="2017.7" r="3.7"/><circle cx="1054.3" cy="2043.7" r="3.7"/><circle cx="1015" cy="2032.3" r="3.7"/><circle cx="1022.8" cy="2026.3" r="3.7"/><circle cx="1034" cy="2033.4" r="3.7"/><circle cx="1009.7" cy="2083.4" r="3.7"/><circle cx="1017.5" cy="2086.4" r="3.7"/><circle cx="1036.3" cy="2088.3" r="3.7"/><circle cx="1056.6" cy="2087.4" r="3.7"/><circle cx="1031.6" cy="2108.4" r="3.7"/><circle cx="1005" cy="2063.9" r="3.7"/><circle cx="1011.3" cy="2061.9" r="3.7"/><circle cx="1036.3" cy="2058" r="3.7"/><circle cx="1042.6" cy="2060.5" r="3.7"/><circle cx="1058.2" cy="2048.2" r="3.7"/><circle cx="995.6" cy="2050.7" r="3.7"/><circle cx="1001.9" cy="2043.3" r="3.7"/><circle cx="1048.8" cy="2048.2" r="3.7"/><circle cx="1053.5" cy="2045.8" r="3.7"/><circle cx="1017.5" cy="1964.1" r="3.7"/><circle cx="1011.3" cy="1965.1" r="3.7"/><circle cx="1048.8" cy="1967.1" r="3.7"/><circle cx="1334.5" cy="1876" r="3.7"/><circle cx="1364" cy="1870.8" r="3.7"/><circle cx="1362.2" cy="1859.2" r="3.7"/><circle cx="1340.8" cy="1817.5" r="3.7"/><circle cx="1320.6" cy="1824.5" r="3.7"/><circle cx="1316.1" cy="1917.7" r="3.7"/><circle cx="1345.7" cy="1793.1" r="3.7"/><circle cx="1320.2" cy="1873.8" r="3.7"/><circle cx="1334.8" cy="1880.8" r="3.7"/><circle cx="1309.3" cy="1933.3" r="3.7"/><circle cx="1313.3" cy="1889.2" r="3.7"/><circle cx="1338.6" cy="1841" r="3.7"/><circle cx="1319" cy="1887.8" r="3.7"/><circle cx="1317" cy="1792" r="3.7"/><circle cx="1352.6" cy="1844" r="3.7"/><circle cx="1309.1" cy="1864.7" r="3.7"/><circle cx="1308.8" cy="1834.5" r="3.7"/><circle cx="1353" cy="1888.5" r="3.7"/><circle cx="1315.8" cy="1927.5" r="3.7"/><circle cx="1365.1" cy="1869.1" r="3.7"/><circle cx="1368.6" cy="1907.4" r="3.7"/><circle cx="1326.7" cy="1848.5" r="3.7"/><circle cx="1338.1" cy="1867.4" r="3.7"/><circle cx="1366.2" cy="1887.4" r="3.7"/><circle cx="1369.2" cy="1892" r="3.7"/><circle cx="1317" cy="1844.4" r="3.7"/><circle cx="1313.5" cy="1802.3" r="3.7"/><circle cx="1352.8" cy="1854" r="3.7"/><circle cx="1313.6" cy="1784.5" r="3.7"/><circle cx="1324.5" cy="1846.1" r="3.7"/><circle cx="1317.9" cy="1839.5" r="3.7"/><circle cx="1332.7" cy="1878.9" r="3.7"/><circle cx="1363.6" cy="1833.2" r="3.7"/><circle cx="1343" cy="1866" r="3.7"/><circle cx="1328.6" cy="1857.2" r="3.7"/><circle cx="1323.9" cy="1833.2" r="3.7"/><circle cx="1365.3" cy="1887.2" r="3.7"/><circle cx="1324" cy="1877.3" r="3.7"/><circle cx="1312.8" cy="1820.3" r="3.7"/><circle cx="1312.7" cy="1830.4" r="3.7"/><circle cx="1348.6" cy="1837.2" r="3.7"/><circle cx="1356.7" cy="1933.3" r="3.7"/><circle cx="1317.7" cy="1841.2" r="3.7"/><circle cx="1317.3" cy="1874.3" r="3.7"/><circle cx="1312" cy="1933.3" r="3.7"/><circle cx="1337.1" cy="1920.6" r="3.7"/><circle cx="1328.4" cy="1802.1" r="3.7"/><circle cx="1328.8" cy="1921.7" r="3.7"/><circle cx="1347.3" cy="1874.2" r="3.7"/><circle cx="1342" cy="1922.4" r="3.7"/><circle cx="1354.3" cy="1920.2" r="3.7"/><circle cx="1340.3" cy="1819.2" r="3.7"/><circle cx="1311.8" cy="1811.9" r="3.7"/><circle cx="1317.8" cy="1886.3" r="3.7"/><circle cx="1328.7" cy="1858.2" r="3.7"/><circle cx="1344.3" cy="1878.6" r="3.7"/><circle cx="1313" cy="1853.2" r="3.7"/><circle cx="1330.7" cy="1758.1" r="3.7"/><circle cx="1354.2" cy="1824.5" r="3.7"/><circle cx="1333.8" cy="1823.2" r="3.7"/><circle cx="1357.6" cy="1819.7" r="3.7"/><circle cx="1330.3" cy="1844" r="3.7"/><circle cx="1331.6" cy="1933.3" r="3.7"/><circle cx="1338.3" cy="1877.6" r="3.7"/><circle cx="1320.5" cy="1897.2" r="3.7"/><circle cx="1345.7" cy="1917.6" r="3.7"/><circle cx="1365.2" cy="1896.8" r="3.7"/><circle cx="1337.6" cy="1851.2" r="3.7"/><circle cx="1359.1" cy="1799.8" r="3.7"/><circle cx="1313.8" cy="1933.3" r="3.7"/><circle cx="1363.2" cy="1920.5" r="3.7"/><circle cx="1334.9" cy="1857.1" r="3.7"/><circle cx="1322.2" cy="1906.9" r="3.7"/><circle cx="1330.7" cy="1933.3" r="3.7"/><circle cx="1314.1" cy="1909.3" r="3.7"/><circle cx="1346.2" cy="1832.8" r="3.7"/><circle cx="1333.7" cy="1862.1" r="3.7"/><circle cx="1320" cy="1895.2" r="3.7"/><circle cx="1356" cy="1861.4" r="3.7"/><circle cx="1308.6" cy="1933.3" r="3.7"/><circle cx="1352.8" cy="1821.4" r="3.7"/><circle cx="1334.2" cy="1920.1" r="3.7"/><circle cx="1330" cy="1886" r="3.7"/><circle cx="1340" cy="1852.8" r="3.7"/><circle cx="1324.1" cy="1868.6" r="3.7"/><circle cx="1310.5" cy="1889.6" r="3.7"/><circle cx="1365" cy="1910.4" r="3.7"/><circle cx="1321.9" cy="1830.9" r="3.7"/><circle cx="1364.1" cy="1788.1" r="3.7"/><circle cx="1366.3" cy="1825.8" r="3.7"/><circle cx="1363.7" cy="1835.9" r="3.7"/><circle cx="1349.8" cy="1820.5" r="3.7"/><circle cx="1318.6" cy="1864.6" r="3.7"/><circle cx="1312.2" cy="1853" r="3.7"/><circle cx="1343.9" cy="1856.6" r="3.7"/><circle cx="1316.5" cy="1839.4" r="3.7"/><circle cx="1313.6" cy="1839.5" r="3.7"/><circle cx="1313.8" cy="1920.1" r="3.7"/><circle cx="1368.8" cy="1833.3" r="3.7"/><circle cx="1310" cy="1917.6" r="3.7"/><circle cx="1362.8" cy="1875.3" r="3.7"/><circle cx="1345.3" cy="1884.5" r="3.7"/><circle cx="1329.1" cy="1933.3" r="3.7"/><circle cx="1359.8" cy="1847.6" r="3.7"/><circle cx="1359.1" cy="1870.3" r="3.7"/><circle cx="1317.2" cy="1767.2" r="3.7"/><circle cx="1365.3" cy="1802.2" r="3.7"/><circle cx="1311.6" cy="1894.2" r="3.7"/><circle cx="1352.8" cy="1858.6" r="3.7"/><circle cx="1320.6" cy="1841.4" r="3.7"/><circle cx="1351.9" cy="1844.5" r="3.7"/><circle cx="1324.4" cy="1919.3" r="3.7"/><circle cx="1358.1" cy="1816.6" r="3.7"/><circle cx="1328.5" cy="1933.3" r="3.7"/><circle cx="1331" cy="1896.5" r="3.7"/><circle cx="1330.6" cy="1869.6" r="3.7"/><circle cx="1334.6" cy="1822.9" r="3.7"/><circle cx="1342.7" cy="1862.5" r="3.7"/><circle cx="1315.4" cy="1907.5" r="3.7"/><circle cx="1370.6" cy="1844.7" r="3.7"/><circle cx="1321.6" cy="1833.2" r="3.7"/><circle cx="1314.3" cy="1779.5" r="3.7"/><circle cx="1352.4" cy="1810.6" r="3.7"/><circle cx="1357.2" cy="1863.1" r="3.7"/><circle cx="1312.3" cy="1869.4" r="3.7"/><circle cx="1314.9" cy="1707.4" r="3.7"/><circle cx="1338.3" cy="1700.1" r="3.7"/><circle cx="1324.2" cy="1725.5" r="3.7"/><circle cx="1339.9" cy="1720.6" r="3.7"/><circle cx="1358.7" cy="1730.4" r="3.7"/><circle cx="1364.9" cy="1736.3" r="3.7"/><circle cx="1327.4" cy="1740.2" r="3.7"/><circle cx="1318" cy="1757.3" r="3.7"/><circle cx="1336.8" cy="1754.8" r="3.7"/><circle cx="1343" cy="1758.8" r="3.7"/><circle cx="1321.1" cy="1760.7" r="3.7"/><circle cx="1333.6" cy="1761.7" r="3.7"/><circle cx="1360.2" cy="1768.5" r="3.7"/><circle cx="1349.3" cy="1772" r="3.7"/><circle cx="1346.2" cy="1775.4" r="3.7"/><circle cx="1325.8" cy="1958.3" r="3.7"/><circle cx="1343" cy="1957.3" r="3.7"/><circle cx="1343" cy="1937.7" r="3.7"/><circle cx="1313.3" cy="1926" r="3.7"/></g>
<clipPath id="c1970"><rect x="994.5" y="1965" width="65" height="10"/></clipPath>
<path d="M840.2 1970H1528.5" stroke="#525252" stroke-opacity="1" stroke-width="2.5" stroke-dasharray="9.42 9.42" fill="none"/>
<path clip-path="url(#c1970)" d="M840.2 1970H1528.5" stroke="#b4b4b4" stroke-width="2.5" stroke-dasharray="9.42 9.42" fill="none"/>
<g font-size="14.1" fill="#343434"><g text-anchor="end"><text x="832" y="2072.8">−0.02</text><text x="832" y="1975">0.00</text><text x="832" y="1877.2">0.02</text><text x="832" y="1779.4">0.04</text></g><g text-anchor="middle"><text x="1026.9" y="2148.2">0</text><text x="1339.9" y="2148.2">1</text></g></g>
<g font-size="18.8" fill="#000" text-anchor="middle"><text x="1183.4" y="2169.2">Previous Biliary Surgery</text><text transform="translate(785.7 1904.3) rotate(-90)" y="6.7">SHAP value</text></g>
<g font-size="14.15" fill="#8a8a8a"><text x="839.3" y="2192.8">Box plot: Show the distribution of SHAP values under different Previous Biliary Surgery statuses.</text><text x="839.3" y="2207.9">Horizontal line: Median; Box: Interquartile range; Dots: Individual samples;0=No,1=Yes</text></g>
<text x="787" y="1700.5" font-size="22.3" font-weight="normal" fill="#000" stroke="#000" stroke-width="1.0" stroke-linejoin="round">H</text></svg></body></html>
